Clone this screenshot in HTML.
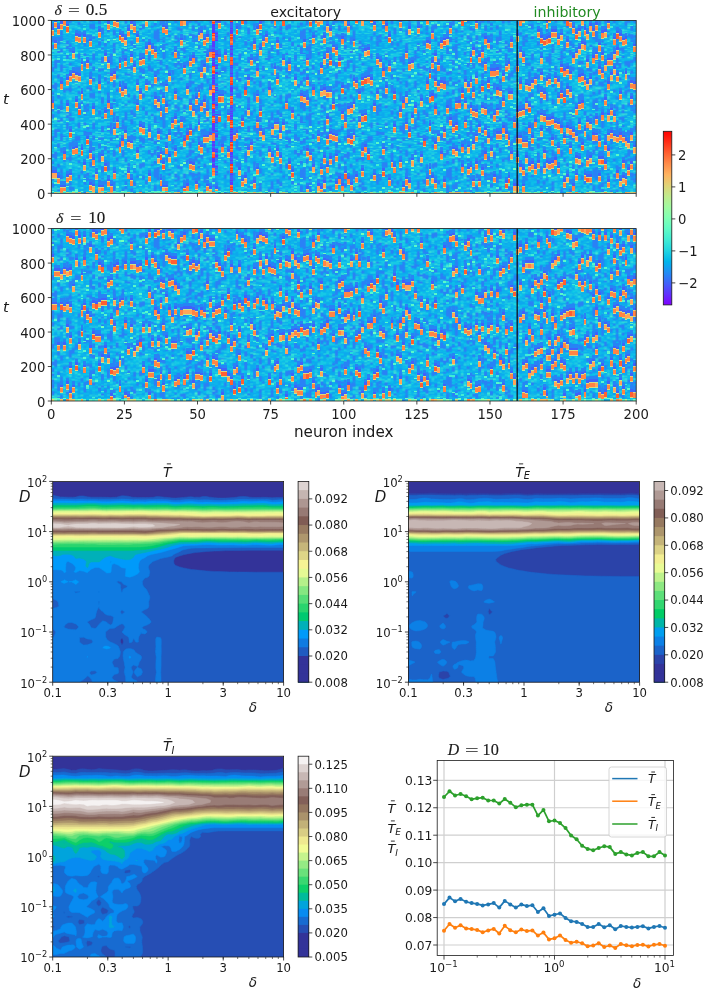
<!DOCTYPE html>
<html lang="en"><head><meta charset="utf-8"><title>Figure</title>
<style>html,body{margin:0;padding:0;background:#fff}svg{display:block;will-change:transform}</style></head>
<body>
<svg width="706" height="991" viewBox="0 0 706 991" font-family='"DejaVu Sans","Liberation Sans",sans-serif'>
<defs><pattern id="nz" width="50" height="80" patternUnits="userSpaceOnUse"><rect width="50" height="80" fill="#09a9ee"/><path fill="#2981f6" d="M0 3h1v3h-1zM0 8h1v3h-1zM0 15h1v4h-1zM0 20h1v5h-1zM0 28h1v5h-1zM0 54h1v5h-1zM0 74h1v5h-1zM1 46h1v9h-1zM1 72h1v8h-1zM2 6h1v4h-1zM2 19h1v9h-1zM2 35h1v3h-1zM2 46h1v3h-1zM2 62h1v5h-1zM3 12h1v5h-1zM3 18h1v6h-1zM3 33h1v4h-1zM3 51h1v8h-1zM3 67h1v6h-1zM4 0h1v4h-1zM4 53h1v2h-1zM5 0h1v1h-1zM5 23h1v5h-1zM5 29h1v4h-1zM5 38h1v8h-1zM5 79h1v1h-1zM6 0h1v3h-1zM6 27h1v4h-1zM6 32h1v5h-1zM6 49h1v3h-1zM6 61h1v9h-1zM6 77h1v3h-1zM7 33h1v3h-1zM7 59h1v6h-1zM8 54h1v6h-1zM8 70h1v2h-1zM9 2h1v3h-1zM9 18h1v5h-1zM9 38h1v7h-1zM9 54h1v5h-1zM9 75h1v2h-1zM10 13h1v4h-1zM11 18h1v5h-1zM11 24h1v6h-1zM11 38h1v3h-1zM11 48h1v5h-1zM12 16h1v4h-1zM12 22h1v3h-1zM12 43h1v3h-1zM12 49h1v3h-1zM12 77h1v3h-1zM13 0h1v2h-1zM13 4h1v6h-1zM13 49h1v4h-1zM13 59h1v10h-1zM13 77h1v3h-1zM14 4h1v6h-1zM14 18h1v4h-1zM14 38h1v8h-1zM14 53h1v5h-1zM14 66h1v5h-1zM16 0h1v4h-1zM16 24h1v5h-1zM16 55h1v4h-1zM16 62h1v6h-1zM16 73h1v7h-1zM17 9h1v7h-1zM17 22h1v2h-1zM17 31h1v3h-1zM17 42h1v7h-1zM17 55h1v3h-1zM18 26h1v4h-1zM18 66h1v4h-1zM19 3h1v11h-1zM19 23h1v2h-1zM19 42h1v6h-1zM19 60h1v2h-1zM19 70h1v4h-1zM20 38h1v13h-1zM20 55h1v4h-1zM21 11h1v6h-1zM21 26h1v5h-1zM21 32h1v6h-1zM21 70h1v8h-1zM22 0h1v3h-1zM22 18h1v2h-1zM22 52h1v6h-1zM22 64h1v3h-1zM22 79h1v1h-1zM23 43h1v3h-1zM24 35h1v4h-1zM24 40h1v6h-1zM24 70h1v8h-1zM25 0h1v4h-1zM25 17h1v2h-1zM25 26h1v10h-1zM25 42h1v2h-1zM25 50h1v5h-1zM25 61h1v2h-1zM25 79h1v1h-1zM26 5h1v4h-1zM26 13h1v2h-1zM26 53h1v3h-1zM26 61h1v3h-1zM27 23h1v6h-1zM27 34h1v6h-1zM27 52h1v6h-1zM28 6h1v6h-1zM28 14h1v2h-1zM28 27h1v5h-1zM28 47h1v2h-1zM28 54h1v5h-1zM29 19h1v3h-1zM30 5h1v6h-1zM30 37h1v3h-1zM30 47h1v4h-1zM30 54h1v6h-1zM30 63h1v4h-1zM31 4h1v6h-1zM31 20h1v4h-1zM31 47h1v4h-1zM31 56h1v6h-1zM31 65h1v2h-1zM32 25h1v5h-1zM33 40h1v6h-1zM33 52h1v7h-1zM33 70h1v5h-1zM34 6h1v2h-1zM34 28h1v3h-1zM34 55h1v5h-1zM34 73h1v4h-1zM35 2h1v4h-1zM35 12h1v10h-1zM35 31h1v8h-1zM35 59h1v4h-1zM35 69h1v6h-1zM36 10h1v15h-1zM36 37h1v2h-1zM36 45h1v2h-1zM36 57h1v5h-1zM36 65h1v5h-1zM37 0h1v6h-1zM37 21h1v2h-1zM37 30h1v5h-1zM37 46h1v6h-1zM37 55h1v3h-1zM37 71h1v5h-1zM38 10h1v4h-1zM38 19h1v2h-1zM38 23h1v3h-1zM38 27h1v18h-1zM38 71h1v6h-1zM39 0h1v3h-1zM39 27h1v2h-1zM39 51h1v6h-1zM39 60h1v2h-1zM39 68h1v4h-1zM39 78h1v2h-1zM40 12h1v2h-1zM40 17h1v3h-1zM41 36h1v4h-1zM41 57h1v6h-1zM41 66h1v3h-1zM41 71h1v2h-1zM42 0h1v3h-1zM42 17h1v5h-1zM42 24h1v2h-1zM42 30h1v2h-1zM42 49h1v5h-1zM43 7h1v5h-1zM43 20h1v5h-1zM43 36h1v5h-1zM43 42h1v9h-1zM43 54h1v2h-1zM44 9h1v3h-1zM44 32h1v3h-1zM44 49h1v6h-1zM44 66h1v3h-1zM45 17h1v6h-1zM45 24h1v3h-1zM45 31h1v6h-1zM45 41h1v3h-1zM45 59h1v3h-1zM46 1h1v5h-1zM46 47h1v5h-1zM46 76h1v3h-1zM47 0h1v3h-1zM47 15h1v4h-1zM47 47h1v7h-1zM47 61h1v7h-1zM47 69h1v8h-1zM47 79h1v1h-1zM48 6h1v6h-1zM48 16h1v6h-1zM48 23h1v2h-1zM48 46h1v3h-1zM48 58h1v4h-1zM48 70h1v3h-1zM49 0h1v3h-1zM49 17h1v3h-1zM49 22h1v6h-1zM49 42h1v5h-1zM49 77h1v3h-1z"/><path fill="#12c8e6" d="M0 0h1v1h-1zM0 12h1v1h-1zM0 26h1v2h-1zM0 38h1v1h-1zM0 41h1v2h-1zM0 49h1v1h-1zM0 52h1v1h-1zM0 60h1v3h-1zM0 69h1v2h-1zM0 72h1v1h-1zM1 3h1v3h-1zM1 7h1v1h-1zM1 9h1v1h-1zM1 11h1v1h-1zM1 15h1v2h-1zM1 21h1v1h-1zM1 23h1v1h-1zM1 27h1v1h-1zM1 35h1v1h-1zM1 37h1v3h-1zM1 56h1v2h-1zM1 59h1v1h-1zM1 69h1v3h-1zM2 0h1v3h-1zM2 4h1v1h-1zM2 14h1v3h-1zM2 29h1v1h-1zM2 39h1v1h-1zM2 43h1v1h-1zM2 50h1v1h-1zM2 52h1v1h-1zM2 54h1v3h-1zM2 60h1v1h-1zM2 68h1v1h-1zM2 72h1v1h-1zM2 77h1v1h-1zM3 1h1v2h-1zM3 4h1v1h-1zM3 29h1v1h-1zM3 31h1v1h-1zM3 60h1v1h-1zM3 64h1v3h-1zM4 4h1v1h-1zM4 7h1v1h-1zM4 11h1v5h-1zM4 17h1v1h-1zM4 19h1v1h-1zM4 24h1v1h-1zM4 31h1v1h-1zM4 36h1v1h-1zM4 39h1v1h-1zM4 44h1v1h-1zM4 49h1v1h-1zM4 52h1v1h-1zM4 56h1v2h-1zM4 70h1v1h-1zM4 73h1v1h-1zM5 1h1v1h-1zM5 3h1v1h-1zM5 8h1v4h-1zM5 19h1v1h-1zM5 22h1v1h-1zM5 33h1v1h-1zM5 35h1v3h-1zM5 47h1v2h-1zM5 51h1v2h-1zM5 55h1v1h-1zM5 60h1v2h-1zM5 73h1v1h-1zM5 77h1v1h-1zM6 3h1v1h-1zM6 7h1v3h-1zM6 12h1v1h-1zM6 14h1v1h-1zM6 17h1v1h-1zM6 20h1v1h-1zM6 31h1v1h-1zM6 37h1v2h-1zM6 41h1v2h-1zM6 54h1v3h-1zM6 70h1v1h-1zM6 72h1v2h-1zM7 5h1v1h-1zM7 8h1v1h-1zM7 11h1v1h-1zM7 14h1v1h-1zM7 22h1v1h-1zM7 27h1v1h-1zM7 29h1v1h-1zM7 37h1v1h-1zM7 40h1v2h-1zM7 43h1v1h-1zM7 45h1v1h-1zM7 54h1v1h-1zM7 56h1v1h-1zM7 66h1v1h-1zM8 0h1v1h-1zM8 5h1v2h-1zM8 8h1v2h-1zM8 11h1v3h-1zM8 17h1v1h-1zM8 19h1v3h-1zM8 25h1v2h-1zM8 30h1v5h-1zM8 36h1v3h-1zM8 48h1v1h-1zM8 50h1v1h-1zM8 66h1v2h-1zM8 73h1v1h-1zM8 76h1v2h-1zM9 0h1v1h-1zM9 6h1v1h-1zM9 15h1v1h-1zM9 17h1v1h-1zM9 33h1v2h-1zM9 37h1v1h-1zM9 45h1v1h-1zM9 49h1v2h-1zM9 63h1v1h-1zM9 65h1v1h-1zM9 73h1v1h-1zM10 0h1v1h-1zM10 9h1v2h-1zM10 19h1v1h-1zM10 23h1v1h-1zM10 28h1v2h-1zM10 34h1v1h-1zM10 37h1v1h-1zM10 43h1v4h-1zM10 49h1v2h-1zM10 54h1v1h-1zM10 56h1v1h-1zM10 58h1v5h-1zM10 64h1v1h-1zM10 66h1v1h-1zM10 71h1v1h-1zM10 73h1v1h-1zM10 75h1v4h-1zM11 8h1v2h-1zM11 14h1v1h-1zM11 16h1v1h-1zM11 31h1v1h-1zM11 37h1v1h-1zM11 44h1v1h-1zM11 54h1v1h-1zM11 59h1v1h-1zM11 66h1v1h-1zM11 73h1v1h-1zM11 75h1v1h-1zM11 77h1v1h-1zM11 79h1v1h-1zM12 5h1v2h-1zM12 8h1v2h-1zM12 14h1v1h-1zM12 27h1v1h-1zM12 31h1v1h-1zM12 35h1v1h-1zM12 37h1v2h-1zM12 42h1v1h-1zM12 56h1v1h-1zM12 58h1v2h-1zM12 62h1v1h-1zM12 65h1v1h-1zM12 68h1v2h-1zM12 74h1v1h-1zM13 2h1v1h-1zM13 10h1v1h-1zM13 14h1v1h-1zM13 17h1v2h-1zM13 22h1v2h-1zM13 25h1v1h-1zM13 34h1v1h-1zM13 37h1v2h-1zM13 41h1v2h-1zM13 46h1v1h-1zM13 71h1v2h-1zM14 13h1v1h-1zM14 15h1v1h-1zM14 22h1v1h-1zM14 25h1v1h-1zM14 27h1v2h-1zM14 30h1v1h-1zM14 50h1v1h-1zM14 52h1v1h-1zM14 71h1v2h-1zM14 76h1v4h-1zM15 0h1v2h-1zM15 4h1v4h-1zM15 9h1v3h-1zM15 16h1v1h-1zM15 21h1v1h-1zM15 26h1v2h-1zM15 32h1v1h-1zM15 41h1v2h-1zM15 48h1v1h-1zM15 52h1v3h-1zM15 57h1v2h-1zM15 65h1v1h-1zM15 74h1v1h-1zM15 79h1v1h-1zM16 5h1v2h-1zM16 11h1v1h-1zM16 15h1v2h-1zM16 18h1v1h-1zM16 38h1v1h-1zM16 40h1v4h-1zM16 60h1v2h-1zM16 70h1v1h-1zM17 0h1v2h-1zM17 3h1v1h-1zM17 21h1v1h-1zM17 24h1v1h-1zM17 29h1v2h-1zM17 38h1v4h-1zM17 49h1v1h-1zM17 53h1v1h-1zM17 60h1v1h-1zM17 63h1v1h-1zM17 70h1v3h-1zM17 74h1v2h-1zM17 79h1v1h-1zM18 6h1v5h-1zM18 12h1v1h-1zM18 15h1v2h-1zM18 22h1v1h-1zM18 38h1v4h-1zM18 44h1v1h-1zM18 47h1v1h-1zM18 49h1v2h-1zM18 53h1v1h-1zM18 71h1v2h-1zM19 14h1v2h-1zM19 19h1v1h-1zM19 27h1v1h-1zM19 29h1v1h-1zM19 40h1v1h-1zM19 51h1v1h-1zM19 54h1v1h-1zM19 57h1v1h-1zM19 59h1v1h-1zM19 64h1v1h-1zM19 74h1v1h-1zM20 1h1v1h-1zM20 4h1v1h-1zM20 6h1v1h-1zM20 10h1v1h-1zM20 13h1v1h-1zM20 15h1v3h-1zM20 19h1v2h-1zM20 24h1v3h-1zM20 32h1v1h-1zM20 37h1v1h-1zM20 54h1v1h-1zM20 67h1v1h-1zM20 72h1v1h-1zM20 75h1v1h-1zM20 79h1v1h-1zM21 0h1v2h-1zM21 7h1v1h-1zM21 9h1v1h-1zM21 18h1v1h-1zM21 21h1v1h-1zM21 24h1v2h-1zM21 40h1v1h-1zM21 42h1v1h-1zM21 45h1v1h-1zM21 47h1v1h-1zM21 53h1v2h-1zM21 61h1v1h-1zM21 65h1v1h-1zM21 68h1v1h-1zM22 3h1v1h-1zM22 9h1v2h-1zM22 20h1v1h-1zM22 22h1v2h-1zM22 29h1v4h-1zM22 38h1v1h-1zM22 40h1v1h-1zM22 45h1v1h-1zM22 47h1v2h-1zM22 71h1v1h-1zM22 76h1v2h-1zM23 0h1v2h-1zM23 6h1v1h-1zM23 8h1v1h-1zM23 13h1v1h-1zM23 15h1v1h-1zM23 18h1v3h-1zM23 22h1v1h-1zM23 24h1v1h-1zM23 27h1v1h-1zM23 30h1v1h-1zM23 32h1v1h-1zM23 34h1v1h-1zM23 37h1v2h-1zM23 40h1v1h-1zM23 46h1v2h-1zM23 49h1v1h-1zM23 52h1v1h-1zM23 55h1v1h-1zM23 59h1v1h-1zM23 65h1v1h-1zM23 69h1v3h-1zM24 9h1v5h-1zM24 22h1v2h-1zM24 27h1v2h-1zM24 30h1v1h-1zM24 53h1v2h-1zM24 56h1v1h-1zM24 58h1v1h-1zM24 64h1v1h-1zM24 79h1v1h-1zM25 4h1v1h-1zM25 12h1v2h-1zM25 15h1v1h-1zM25 37h1v1h-1zM25 44h1v3h-1zM25 48h1v1h-1zM25 56h1v1h-1zM25 58h1v1h-1zM25 64h1v1h-1zM25 66h1v1h-1zM26 0h1v1h-1zM26 2h1v1h-1zM26 10h1v2h-1zM26 16h1v1h-1zM26 19h1v1h-1zM26 21h1v2h-1zM26 30h1v2h-1zM26 33h1v1h-1zM26 37h1v2h-1zM26 40h1v1h-1zM26 43h1v1h-1zM26 47h1v1h-1zM26 49h1v1h-1zM26 51h1v1h-1zM26 65h1v1h-1zM26 73h1v4h-1zM27 2h1v1h-1zM27 4h1v3h-1zM27 8h1v1h-1zM27 16h1v1h-1zM27 18h1v2h-1zM27 33h1v1h-1zM27 42h1v1h-1zM27 45h1v1h-1zM27 47h1v1h-1zM27 51h1v1h-1zM27 61h1v1h-1zM27 73h1v1h-1zM27 75h1v1h-1zM27 78h1v2h-1zM28 4h1v2h-1zM28 17h1v3h-1zM28 45h1v1h-1zM28 52h1v1h-1zM28 61h1v1h-1zM28 65h1v3h-1zM28 71h1v4h-1zM28 76h1v2h-1zM29 0h1v1h-1zM29 3h1v1h-1zM29 5h1v1h-1zM29 8h1v1h-1zM29 11h1v3h-1zM29 25h1v1h-1zM29 34h1v2h-1zM29 37h1v3h-1zM29 41h1v1h-1zM29 43h1v1h-1zM29 46h1v3h-1zM29 50h1v1h-1zM29 58h1v2h-1zM29 61h1v1h-1zM29 63h1v1h-1zM29 65h1v1h-1zM29 70h1v4h-1zM29 76h1v1h-1zM29 79h1v1h-1zM30 0h1v1h-1zM30 2h1v3h-1zM30 21h1v2h-1zM30 33h1v2h-1zM30 36h1v1h-1zM30 40h1v2h-1zM30 43h1v1h-1zM30 45h1v1h-1zM30 53h1v1h-1zM30 61h1v2h-1zM30 68h1v1h-1zM30 72h1v2h-1zM30 77h1v1h-1zM31 0h1v2h-1zM31 10h1v4h-1zM31 17h1v1h-1zM31 25h1v2h-1zM31 28h1v2h-1zM31 34h1v2h-1zM31 37h1v2h-1zM31 40h1v1h-1zM31 52h1v2h-1zM31 64h1v1h-1zM31 67h1v2h-1zM31 72h1v2h-1zM31 76h1v1h-1zM31 79h1v1h-1zM32 3h1v3h-1zM32 8h1v3h-1zM32 12h1v1h-1zM32 15h1v1h-1zM32 19h1v1h-1zM32 22h1v2h-1zM32 30h1v1h-1zM32 36h1v2h-1zM32 40h1v2h-1zM32 44h1v3h-1zM32 48h1v1h-1zM32 52h1v1h-1zM32 55h1v2h-1zM32 68h1v1h-1zM32 75h1v1h-1zM32 77h1v2h-1zM33 2h1v1h-1zM33 8h1v1h-1zM33 19h1v1h-1zM33 26h1v1h-1zM33 28h1v1h-1zM33 48h1v1h-1zM33 62h1v1h-1zM33 66h1v1h-1zM33 75h1v2h-1zM34 0h1v3h-1zM34 5h1v1h-1zM34 9h1v1h-1zM34 14h1v1h-1zM34 21h1v1h-1zM34 26h1v2h-1zM34 32h1v1h-1zM34 37h1v1h-1zM34 41h1v1h-1zM34 44h1v2h-1zM34 51h1v1h-1zM34 63h1v1h-1zM34 66h1v2h-1zM35 8h1v2h-1zM35 27h1v1h-1zM35 39h1v1h-1zM35 47h1v2h-1zM35 50h1v1h-1zM35 55h1v1h-1zM35 57h1v2h-1zM35 64h1v2h-1zM35 68h1v1h-1zM35 76h1v1h-1zM36 0h1v1h-1zM36 2h1v1h-1zM36 25h1v2h-1zM36 36h1v1h-1zM36 39h1v1h-1zM36 41h1v3h-1zM36 50h1v4h-1zM36 64h1v1h-1zM36 72h1v1h-1zM37 6h1v1h-1zM37 15h1v2h-1zM37 18h1v1h-1zM37 20h1v1h-1zM37 23h1v1h-1zM37 25h1v2h-1zM37 58h1v2h-1zM37 62h1v2h-1zM37 65h1v1h-1zM37 76h1v2h-1zM37 79h1v1h-1zM38 2h1v1h-1zM38 8h1v1h-1zM38 18h1v1h-1zM38 26h1v1h-1zM38 45h1v3h-1zM38 49h1v1h-1zM38 53h1v1h-1zM38 55h1v1h-1zM38 58h1v2h-1zM38 64h1v1h-1zM38 69h1v1h-1zM38 78h1v1h-1zM39 5h1v1h-1zM39 10h1v1h-1zM39 23h1v3h-1zM39 29h1v2h-1zM39 32h1v1h-1zM39 44h1v1h-1zM39 48h1v1h-1zM39 58h1v1h-1zM39 63h1v1h-1zM39 65h1v2h-1zM39 72h1v1h-1zM39 77h1v1h-1zM40 0h1v1h-1zM40 5h1v3h-1zM40 14h1v2h-1zM40 20h1v1h-1zM40 27h1v1h-1zM40 36h1v1h-1zM40 38h1v1h-1zM40 40h1v2h-1zM40 43h1v1h-1zM40 45h1v1h-1zM40 47h1v1h-1zM40 51h1v2h-1zM40 59h1v1h-1zM40 67h1v1h-1zM40 72h1v2h-1zM41 1h1v1h-1zM41 5h1v1h-1zM41 8h1v1h-1zM41 11h1v1h-1zM41 17h1v1h-1zM41 20h1v1h-1zM41 25h1v1h-1zM41 28h1v1h-1zM41 31h1v2h-1zM41 42h1v2h-1zM41 47h1v2h-1zM41 53h1v2h-1zM41 56h1v1h-1zM42 5h1v1h-1zM42 11h1v4h-1zM42 22h1v2h-1zM42 27h1v1h-1zM42 29h1v1h-1zM42 38h1v2h-1zM42 41h1v1h-1zM42 46h1v2h-1zM42 63h1v1h-1zM42 70h1v1h-1zM42 73h1v6h-1zM43 6h1v1h-1zM43 12h1v1h-1zM43 34h1v1h-1zM43 57h1v1h-1zM43 59h1v1h-1zM43 74h1v4h-1zM44 0h1v1h-1zM44 2h1v1h-1zM44 4h1v1h-1zM44 8h1v1h-1zM44 15h1v1h-1zM44 17h1v1h-1zM44 20h1v1h-1zM44 22h1v1h-1zM44 29h1v1h-1zM44 35h1v2h-1zM44 42h1v3h-1zM44 56h1v1h-1zM44 63h1v1h-1zM44 65h1v1h-1zM44 72h1v1h-1zM44 74h1v1h-1zM44 76h1v1h-1zM45 4h1v1h-1zM45 15h1v1h-1zM45 29h1v2h-1zM45 44h1v1h-1zM45 46h1v1h-1zM45 50h1v1h-1zM45 53h1v3h-1zM45 62h1v1h-1zM45 71h1v1h-1zM45 73h1v1h-1zM45 76h1v2h-1zM46 12h1v1h-1zM46 17h1v1h-1zM46 38h1v1h-1zM46 43h1v1h-1zM46 45h1v1h-1zM46 53h1v3h-1zM46 60h1v2h-1zM46 66h1v1h-1zM46 70h1v1h-1zM46 72h1v1h-1zM46 79h1v1h-1zM47 4h1v1h-1zM47 9h1v1h-1zM47 11h1v2h-1zM47 14h1v1h-1zM47 21h1v4h-1zM47 33h1v1h-1zM47 45h1v1h-1zM47 58h1v1h-1zM47 68h1v1h-1zM47 78h1v1h-1zM48 3h1v2h-1zM48 25h1v1h-1zM48 32h1v1h-1zM48 34h1v1h-1zM48 36h1v2h-1zM48 41h1v4h-1zM48 55h1v1h-1zM48 62h1v1h-1zM48 65h1v1h-1zM48 67h1v3h-1zM48 75h1v2h-1zM49 3h1v1h-1zM49 8h1v1h-1zM49 16h1v1h-1zM49 28h1v1h-1zM49 32h1v1h-1zM49 36h1v1h-1zM49 38h1v1h-1zM49 41h1v1h-1zM49 49h1v3h-1zM49 53h1v1h-1zM49 56h1v1h-1zM49 58h1v1h-1zM49 62h1v1h-1zM49 65h1v2h-1zM49 70h1v1h-1zM49 75h1v1h-1z"/><path fill="#30e1da" d="M0 7h1v1h-1zM0 14h1v1h-1zM0 34h1v1h-1zM0 39h1v1h-1zM0 44h1v3h-1zM0 73h1v1h-1zM0 79h1v1h-1zM1 32h1v1h-1zM1 34h1v1h-1zM1 36h1v1h-1zM1 44h1v1h-1zM1 62h1v1h-1zM1 67h1v1h-1zM2 12h1v1h-1zM2 38h1v1h-1zM2 41h1v1h-1zM2 49h1v1h-1zM2 57h1v1h-1zM2 61h1v1h-1zM2 71h1v1h-1zM3 28h1v1h-1zM3 30h1v1h-1zM3 37h1v1h-1zM3 63h1v1h-1zM3 77h1v1h-1zM4 23h1v1h-1zM4 28h1v1h-1zM4 33h1v2h-1zM4 41h1v2h-1zM4 50h1v1h-1zM4 55h1v1h-1zM4 58h1v1h-1zM4 61h1v1h-1zM4 65h1v1h-1zM4 76h1v1h-1zM5 4h1v1h-1zM5 6h1v1h-1zM5 15h1v1h-1zM5 49h1v1h-1zM5 76h1v1h-1zM6 6h1v1h-1zM6 11h1v1h-1zM6 45h1v2h-1zM6 59h1v1h-1zM7 2h1v1h-1zM7 6h1v1h-1zM7 15h1v1h-1zM7 25h1v1h-1zM7 31h1v1h-1zM7 46h1v1h-1zM7 53h1v1h-1zM7 73h1v2h-1zM8 3h1v1h-1zM8 7h1v1h-1zM8 15h1v1h-1zM8 35h1v1h-1zM8 43h1v2h-1zM8 62h1v1h-1zM8 69h1v1h-1zM8 75h1v1h-1zM9 8h1v2h-1zM9 13h1v1h-1zM9 51h1v1h-1zM9 62h1v1h-1zM9 69h1v1h-1zM9 72h1v1h-1zM9 74h1v1h-1zM9 79h1v1h-1zM10 2h1v1h-1zM10 12h1v1h-1zM10 20h1v1h-1zM10 22h1v1h-1zM10 40h1v1h-1zM10 42h1v1h-1zM10 51h1v1h-1zM10 63h1v1h-1zM11 3h1v1h-1zM11 41h1v1h-1zM11 71h1v1h-1zM11 74h1v1h-1zM12 2h1v1h-1zM12 13h1v1h-1zM12 41h1v1h-1zM13 11h1v1h-1zM13 15h1v1h-1zM13 33h1v1h-1zM13 39h1v1h-1zM13 53h1v1h-1zM13 55h1v1h-1zM14 11h1v1h-1zM14 16h1v1h-1zM14 33h1v1h-1zM14 35h1v1h-1zM14 51h1v1h-1zM14 59h1v1h-1zM14 74h1v1h-1zM15 14h1v2h-1zM15 17h1v1h-1zM15 34h1v1h-1zM15 49h1v1h-1zM15 51h1v1h-1zM15 59h1v1h-1zM15 67h1v1h-1zM15 70h1v1h-1zM16 13h1v1h-1zM16 23h1v1h-1zM16 32h1v2h-1zM16 39h1v1h-1zM16 46h1v1h-1zM16 49h1v1h-1zM16 52h1v1h-1zM16 69h1v1h-1zM17 34h1v1h-1zM17 50h1v1h-1zM17 54h1v1h-1zM17 68h1v1h-1zM18 13h1v1h-1zM18 20h1v1h-1zM18 23h1v1h-1zM18 37h1v1h-1zM18 46h1v1h-1zM18 58h1v1h-1zM18 76h1v1h-1zM19 16h1v1h-1zM19 33h1v1h-1zM19 50h1v1h-1zM19 58h1v1h-1zM19 62h1v1h-1zM19 69h1v1h-1zM20 7h1v1h-1zM20 14h1v1h-1zM20 18h1v1h-1zM20 22h1v1h-1zM20 27h1v1h-1zM20 60h1v1h-1zM20 65h1v1h-1zM20 77h1v1h-1zM21 38h1v1h-1zM21 43h1v1h-1zM21 60h1v1h-1zM21 78h1v1h-1zM22 7h1v1h-1zM22 24h1v1h-1zM22 28h1v1h-1zM22 34h1v1h-1zM22 41h1v1h-1zM22 44h1v1h-1zM22 46h1v1h-1zM22 51h1v1h-1zM22 59h1v1h-1zM22 61h1v1h-1zM22 68h1v3h-1zM23 9h1v1h-1zM23 16h1v1h-1zM23 35h1v1h-1zM23 42h1v1h-1zM23 51h1v1h-1zM23 54h1v1h-1zM23 61h1v1h-1zM23 68h1v1h-1zM23 73h1v1h-1zM23 75h1v1h-1zM24 0h1v1h-1zM24 2h1v1h-1zM24 5h1v1h-1zM24 48h1v2h-1zM24 51h1v1h-1zM24 61h1v2h-1zM24 68h1v1h-1zM25 5h1v1h-1zM25 10h1v1h-1zM25 14h1v1h-1zM25 19h1v1h-1zM25 22h1v1h-1zM25 36h1v1h-1zM25 71h1v1h-1zM25 76h1v1h-1zM26 3h1v1h-1zM26 9h1v1h-1zM26 27h1v1h-1zM26 52h1v1h-1zM26 58h1v1h-1zM26 60h1v1h-1zM26 64h1v1h-1zM27 17h1v1h-1zM27 22h1v1h-1zM27 30h1v1h-1zM27 50h1v1h-1zM27 58h1v1h-1zM27 69h1v1h-1zM27 76h1v1h-1zM28 2h1v1h-1zM28 35h1v1h-1zM28 49h1v1h-1zM28 59h1v1h-1zM29 4h1v1h-1zM29 10h1v1h-1zM29 26h1v1h-1zM29 30h1v1h-1zM29 36h1v1h-1zM29 51h1v1h-1zM29 53h1v1h-1zM29 57h1v1h-1zM29 68h1v2h-1zM29 75h1v1h-1zM29 77h1v1h-1zM30 12h1v1h-1zM30 14h1v1h-1zM30 16h1v1h-1zM30 25h1v1h-1zM30 27h1v1h-1zM30 30h1v1h-1zM30 70h1v1h-1zM30 74h1v1h-1zM30 78h1v2h-1zM31 3h1v1h-1zM31 36h1v1h-1zM31 45h1v1h-1zM31 51h1v1h-1zM31 69h1v1h-1zM32 18h1v1h-1zM32 31h1v1h-1zM32 33h1v2h-1zM32 38h1v1h-1zM32 42h1v1h-1zM32 51h1v1h-1zM32 62h1v1h-1zM32 65h1v3h-1zM32 69h1v1h-1zM33 1h1v1h-1zM33 3h1v1h-1zM33 5h1v1h-1zM33 15h1v1h-1zM33 20h1v1h-1zM33 22h1v1h-1zM33 27h1v1h-1zM33 29h1v1h-1zM33 59h1v1h-1zM33 65h1v1h-1zM33 68h1v1h-1zM34 12h1v1h-1zM34 31h1v1h-1zM34 33h1v1h-1zM34 35h1v1h-1zM34 38h1v1h-1zM34 43h1v1h-1zM34 46h1v1h-1zM34 60h1v1h-1zM34 70h1v1h-1zM34 72h1v1h-1zM34 79h1v1h-1zM35 1h1v1h-1zM35 28h1v1h-1zM35 41h1v2h-1zM35 56h1v1h-1zM35 77h1v1h-1zM35 79h1v1h-1zM36 8h1v1h-1zM36 27h1v1h-1zM36 29h1v1h-1zM36 44h1v1h-1zM36 47h1v1h-1zM36 55h1v1h-1zM36 73h1v1h-1zM36 77h1v1h-1zM37 7h1v1h-1zM37 12h1v1h-1zM37 52h1v1h-1zM37 69h1v1h-1zM38 1h1v1h-1zM38 4h1v1h-1zM38 6h1v2h-1zM38 54h1v1h-1zM38 77h1v1h-1zM39 15h1v1h-1zM39 20h1v1h-1zM39 33h1v2h-1zM39 50h1v1h-1zM39 57h1v1h-1zM39 67h1v1h-1zM40 4h1v1h-1zM40 23h1v2h-1zM40 29h1v1h-1zM40 31h1v1h-1zM40 61h1v1h-1zM40 68h1v1h-1zM40 70h1v1h-1zM41 13h1v1h-1zM41 18h1v2h-1zM41 35h1v1h-1zM41 70h1v1h-1zM41 76h1v1h-1zM41 78h1v1h-1zM42 4h1v1h-1zM42 15h1v1h-1zM42 28h1v1h-1zM42 55h1v1h-1zM42 69h1v1h-1zM43 31h1v1h-1zM43 33h1v1h-1zM43 53h1v1h-1zM43 65h1v1h-1zM44 3h1v1h-1zM44 18h1v1h-1zM44 24h1v1h-1zM44 28h1v1h-1zM44 30h1v1h-1zM44 38h1v1h-1zM44 48h1v1h-1zM44 62h1v1h-1zM44 64h1v1h-1zM44 70h1v1h-1zM45 10h1v3h-1zM45 14h1v1h-1zM45 16h1v1h-1zM45 23h1v1h-1zM45 39h1v1h-1zM45 52h1v1h-1zM45 66h1v1h-1zM45 69h1v1h-1zM45 75h1v1h-1zM46 33h1v1h-1zM46 58h1v2h-1zM46 65h1v1h-1zM46 67h1v1h-1zM47 3h1v1h-1zM47 5h1v2h-1zM47 31h1v1h-1zM47 35h1v1h-1zM47 43h1v1h-1zM47 55h1v1h-1zM48 13h1v1h-1zM48 15h1v1h-1zM48 35h1v1h-1zM48 40h1v1h-1zM48 53h1v1h-1zM49 39h1v1h-1z"/><path fill="#54f6cb" d="M0 35h1v1h-1zM1 14h1v1h-1zM1 24h1v1h-1zM1 68h1v1h-1zM2 34h1v1h-1zM2 78h1v1h-1zM3 6h1v1h-1zM3 24h1v1h-1zM3 38h1v1h-1zM3 61h1v1h-1zM4 25h1v1h-1zM4 30h1v1h-1zM4 45h1v1h-1zM4 62h1v1h-1zM5 28h1v1h-1zM5 69h1v2h-1zM6 10h1v1h-1zM6 53h1v1h-1zM6 57h1v1h-1zM7 68h1v1h-1zM7 77h1v1h-1zM8 27h1v1h-1zM8 72h1v1h-1zM9 66h1v1h-1zM10 33h1v1h-1zM10 38h1v1h-1zM10 70h1v1h-1zM11 69h1v1h-1zM12 0h1v1h-1zM12 15h1v1h-1zM12 66h1v1h-1zM14 17h1v1h-1zM14 37h1v1h-1zM14 65h1v1h-1zM15 56h1v1h-1zM15 72h1v1h-1zM16 54h1v1h-1zM17 5h1v1h-1zM17 7h1v1h-1zM17 51h1v1h-1zM18 57h1v1h-1zM18 64h1v1h-1zM18 75h1v1h-1zM19 37h1v1h-1zM19 65h1v1h-1zM20 8h1v1h-1zM21 22h1v1h-1zM21 57h1v1h-1zM22 21h1v1h-1zM22 36h1v1h-1zM23 3h1v1h-1zM24 3h1v1h-1zM24 17h1v1h-1zM24 31h1v1h-1zM25 8h1v1h-1zM26 18h1v1h-1zM26 56h1v1h-1zM28 32h1v1h-1zM28 44h1v1h-1zM28 62h1v1h-1zM29 6h1v1h-1zM29 27h1v1h-1zM29 42h1v1h-1zM31 2h1v1h-1zM31 41h1v1h-1zM33 9h1v1h-1zM33 35h1v1h-1zM35 43h1v2h-1zM36 28h1v1h-1zM36 71h1v1h-1zM36 78h1v1h-1zM37 44h1v1h-1zM37 78h1v1h-1zM38 5h1v1h-1zM39 59h1v1h-1zM40 8h1v1h-1zM40 10h1v1h-1zM40 46h1v1h-1zM41 21h1v2h-1zM42 16h1v1h-1zM42 34h1v1h-1zM42 42h1v1h-1zM42 48h1v1h-1zM43 13h1v1h-1zM44 19h1v1h-1zM44 41h1v1h-1zM45 1h1v1h-1zM45 28h1v1h-1zM46 11h1v1h-1zM46 14h1v1h-1zM46 16h1v1h-1zM46 24h1v1h-1zM46 28h1v1h-1zM46 68h1v1h-1zM47 8h1v1h-1zM47 42h1v1h-1zM47 59h1v1h-1zM48 38h1v1h-1zM49 5h1v1h-1zM49 14h1v1h-1zM49 30h1v2h-1zM49 33h1v1h-1zM49 52h1v1h-1zM49 72h1v1h-1z"/></pattern></defs>
<defs><filter id="soft" x="-2%" y="-5%" width="104%" height="110%"><feGaussianBlur stdDeviation="0.7"/></filter></defs>
<defs><clipPath id="hc1"><rect x="51.3" y="20.4" width="584.9" height="172.9"/></clipPath></defs>
<g clip-path="url(#hc1)"><g filter="url(#soft)">
<g transform="translate(51.3,20.4) scale(2.9245,0.8645)" shape-rendering="crispEdges">
<rect x="-2" y="-3" width="204" height="206" fill="url(#nz)"/>
<path fill="#5a3bfd" d="M55 4h1v11h-1zM55 24h1v7h-1zM55 33h1v1h-1zM55 35h1v1h-1zM55 44h1v1h-1zM55 46h1v1h-1zM55 48h1v2h-1zM55 51h1v2h-1zM55 63h1v1h-1zM55 65h1v3h-1zM55 69h1v5h-1zM55 84h1v3h-1zM55 88h1v5h-1zM55 95h1v2h-1zM55 103h1v4h-1zM55 110h1v1h-1zM55 119h1v5h-1zM55 125h1v3h-1zM55 139h1v3h-1zM55 143h1v2h-1zM55 146h1v1h-1zM55 148h1v4h-1zM55 159h1v5h-1zM55 166h1v4h-1zM56 15h1v1h-1zM56 18h1v1h-1zM56 21h1v1h-1zM56 23h1v1h-1zM56 39h1v1h-1zM56 52h1v1h-1zM56 55h1v1h-1zM56 58h1v1h-1zM56 60h1v2h-1zM56 77h1v1h-1zM56 81h1v1h-1zM56 97h1v2h-1zM56 108h1v1h-1zM56 118h1v1h-1zM56 128h1v1h-1zM56 133h1v2h-1zM56 149h1v1h-1zM56 151h1v1h-1zM56 156h1v2h-1zM56 168h1v1h-1zM56 176h1v1h-1zM61 2h1v1h-1zM61 6h1v1h-1zM61 9h1v1h-1zM61 11h1v3h-1zM61 15h1v1h-1zM61 28h1v1h-1zM61 30h1v1h-1zM61 33h1v1h-1zM61 36h1v1h-1zM61 38h1v2h-1zM61 52h1v1h-1zM61 54h1v1h-1zM61 58h1v1h-1zM61 61h1v1h-1zM61 64h1v1h-1zM61 77h1v6h-1zM61 85h1v1h-1zM61 87h1v1h-1zM61 100h1v1h-1zM61 105h1v1h-1zM61 107h1v1h-1zM61 110h1v2h-1zM61 113h1v1h-1zM61 126h1v1h-1zM61 128h1v1h-1zM61 131h1v1h-1zM61 133h1v1h-1zM61 135h1v2h-1zM61 138h1v1h-1zM61 152h1v2h-1zM61 155h1v1h-1zM61 157h1v1h-1zM61 162h1v1h-1zM61 165h1v1h-1zM61 178h1v1h-1zM61 183h1v1h-1zM61 185h1v1h-1zM61 187h1v3h-1z"/>
<path fill="#4062fa" d="M0 8h1v3h-1zM0 92h1v3h-1zM0 173h1v3h-1zM1 0h1v2h-1zM1 23h1v3h-1zM1 173h1v3h-1zM2 7h1v3h-1zM2 179h1v3h-1zM3 1h1v3h-1zM3 70h1v3h-1zM3 190h1v3h-1zM4 151h1v3h-1zM4 190h1v3h-1zM5 4h1v3h-1zM5 66h1v3h-1zM5 96h1v3h-1zM5 178h1v3h-1zM6 61h1v3h-1zM6 126h1v3h-1zM6 176h1v3h-1zM7 35h1v3h-1zM7 58h1v3h-1zM7 146h1v3h-1zM8 15h1v3h-1zM8 60h1v3h-1zM8 91h1v3h-1zM8 145h1v3h-1zM9 16h1v3h-1zM9 61h1v3h-1zM9 100h1v3h-1zM10 48h1v3h-1zM10 82h1v3h-1zM10 147h1v3h-1zM11 16h1v3h-1zM11 164h1v3h-1zM12 46h1v3h-1zM12 134h1v3h-1zM13 21h1v3h-1zM13 65h1v3h-1zM13 150h1v3h-1zM13 187h1v3h-1zM14 99h1v3h-1zM14 158h1v3h-1zM14 189h1v3h-1zM15 175h1v3h-1zM16 10h1v3h-1zM16 70h1v3h-1zM16 190h1v3h-1zM17 154h1v3h-1zM17 190h1v3h-1zM18 38h1v3h-1zM18 104h1v3h-1zM18 165h1v3h-1zM19 1h1v3h-1zM19 46h1v3h-1zM19 92h1v3h-1zM19 183h1v3h-1zM20 61h1v3h-1zM20 100h1v3h-1zM20 189h1v3h-1zM21 0h1v1h-1zM21 59h1v3h-1zM21 123h1v3h-1zM21 174h1v3h-1zM22 0h1v2h-1zM22 115h1v3h-1zM23 14h1v3h-1zM23 46h1v3h-1zM23 74h1v3h-1zM23 143h1v3h-1zM24 16h1v3h-1zM24 79h1v3h-1zM24 136h1v3h-1zM25 20h1v3h-1zM25 44h1v3h-1zM25 76h1v3h-1zM25 127h1v3h-1zM26 9h1v3h-1zM26 138h1v3h-1zM26 174h1v3h-1zM27 1h1v3h-1zM27 39h1v3h-1zM27 139h1v3h-1zM27 182h1v3h-1zM28 4h1v3h-1zM28 51h1v3h-1zM29 16h1v3h-1zM29 72h1v3h-1zM29 95h1v3h-1zM29 150h1v3h-1zM30 43h1v3h-1zM30 82h1v3h-1zM30 120h1v3h-1zM31 42h1v3h-1zM31 122h1v3h-1zM32 0h1v1h-1zM32 30h1v3h-1zM32 72h1v3h-1zM33 25h1v3h-1zM33 126h1v3h-1zM33 177h1v3h-1zM34 30h1v3h-1zM35 34h1v3h-1zM35 63h1v3h-1zM35 88h1v3h-1zM36 91h1v3h-1zM36 128h1v3h-1zM36 156h1v3h-1zM37 102h1v3h-1zM37 152h1v3h-1zM37 182h1v3h-1zM38 5h1v3h-1zM38 87h1v3h-1zM38 163h1v3h-1zM38 190h1v3h-1zM39 7h1v3h-1zM39 73h1v3h-1zM39 97h1v3h-1zM39 145h1v3h-1zM39 190h1v3h-1zM40 61h1v3h-1zM40 130h1v3h-1zM40 155h1v3h-1zM41 116h1v3h-1zM42 34h1v3h-1zM42 82h1v3h-1zM42 111h1v3h-1zM42 148h1v3h-1zM44 20h1v3h-1zM44 115h1v3h-1zM45 52h1v3h-1zM45 136h1v3h-1zM45 191h1v3h-1zM46 76h1v3h-1zM46 129h1v3h-1zM46 188h1v3h-1zM47 44h1v3h-1zM47 95h1v3h-1zM47 124h1v3h-1zM47 163h1v3h-1zM48 40h1v3h-1zM48 102h1v3h-1zM48 164h1v3h-1zM49 88h1v3h-1zM49 186h1v3h-1zM50 14h1v3h-1zM50 80h1v3h-1zM50 118h1v3h-1zM50 141h1v3h-1zM51 11h1v3h-1zM51 57h1v3h-1zM51 96h1v3h-1zM51 144h1v3h-1zM52 20h1v3h-1zM52 51h1v3h-1zM52 91h1v3h-1zM52 132h1v3h-1zM53 16h1v3h-1zM53 39h1v3h-1zM53 102h1v3h-1zM53 132h1v3h-1zM53 189h1v3h-1zM54 33h1v3h-1zM54 77h1v3h-1zM54 129h1v3h-1zM54 192h1v3h-1zM55 31h1v2h-1zM55 34h1v1h-1zM55 43h1v1h-1zM55 45h1v1h-1zM55 47h1v1h-1zM55 50h1v1h-1zM55 62h1v1h-1zM55 64h1v1h-1zM55 68h1v1h-1zM55 74h1v1h-1zM55 87h1v1h-1zM55 93h1v2h-1zM55 107h1v3h-1zM55 124h1v1h-1zM55 128h1v2h-1zM55 142h1v1h-1zM55 145h1v1h-1zM55 147h1v1h-1zM55 164h1v2h-1zM55 170h1v1h-1zM56 0h1v3h-1zM56 13h1v1h-1zM56 16h1v2h-1zM56 19h1v2h-1zM56 22h1v1h-1zM56 34h1v5h-1zM56 40h1v2h-1zM56 50h1v2h-1zM56 53h1v2h-1zM56 74h1v2h-1zM56 78h1v2h-1zM56 83h1v1h-1zM56 94h1v2h-1zM56 100h1v1h-1zM56 102h1v1h-1zM56 111h1v2h-1zM56 114h1v2h-1zM56 117h1v1h-1zM56 127h1v1h-1zM56 130h1v3h-1zM56 135h1v1h-1zM56 137h1v1h-1zM56 150h1v1h-1zM56 152h1v1h-1zM56 155h1v1h-1zM56 158h1v1h-1zM56 170h1v2h-1zM56 174h1v2h-1zM56 178h1v1h-1zM56 192h1v3h-1zM57 0h1v3h-1zM57 39h1v3h-1zM57 85h1v3h-1zM57 108h1v3h-1zM58 85h1v3h-1zM58 143h1v3h-1zM59 37h1v3h-1zM60 107h1v3h-1zM60 149h1v3h-1zM61 3h1v3h-1zM61 7h1v2h-1zM61 10h1v1h-1zM61 14h1v1h-1zM61 29h1v1h-1zM61 31h1v2h-1zM61 34h1v2h-1zM61 37h1v1h-1zM61 40h1v2h-1zM61 53h1v1h-1zM61 55h1v3h-1zM61 59h1v2h-1zM61 62h1v2h-1zM61 75h1v2h-1zM61 83h1v2h-1zM61 86h1v1h-1zM61 98h1v2h-1zM61 101h1v4h-1zM61 106h1v1h-1zM61 108h1v2h-1zM61 112h1v1h-1zM61 114h1v1h-1zM61 125h1v1h-1zM61 127h1v1h-1zM61 129h1v2h-1zM61 132h1v1h-1zM61 134h1v1h-1zM61 137h1v1h-1zM61 139h1v2h-1zM61 154h1v1h-1zM61 156h1v1h-1zM61 158h1v4h-1zM61 163h1v2h-1zM61 177h1v1h-1zM61 179h1v4h-1zM61 184h1v1h-1zM61 186h1v1h-1zM62 130h1v3h-1zM63 7h1v3h-1zM63 127h1v3h-1zM64 170h1v3h-1zM65 113h1v3h-1zM65 183h1v3h-1zM66 77h1v3h-1zM66 179h1v3h-1zM67 66h1v3h-1zM67 101h1v3h-1zM67 147h1v3h-1zM68 43h1v3h-1zM68 141h1v3h-1zM69 24h1v3h-1zM69 185h1v3h-1zM70 7h1v3h-1zM70 55h1v3h-1zM70 85h1v3h-1zM70 115h1v3h-1zM70 169h1v3h-1zM71 1h1v3h-1zM71 31h1v3h-1zM71 102h1v3h-1zM71 125h1v3h-1zM72 21h1v3h-1zM72 129h1v3h-1zM73 16h1v3h-1zM74 77h1v3h-1zM74 149h1v3h-1zM75 123h1v3h-1zM75 155h1v3h-1zM76 53h1v3h-1zM76 117h1v3h-1zM77 23h1v3h-1zM77 65h1v3h-1zM77 117h1v3h-1zM77 148h1v3h-1zM78 127h1v3h-1zM78 156h1v3h-1zM79 43h1v3h-1zM79 118h1v3h-1zM80 93h1v3h-1zM81 48h1v3h-1zM81 163h1v3h-1zM82 104h1v3h-1zM82 172h1v3h-1zM83 66h1v3h-1zM85 84h1v3h-1zM86 22h1v3h-1zM86 86h1v3h-1zM87 43h1v3h-1zM87 66h1v3h-1zM87 89h1v3h-1zM87 148h1v3h-1zM87 192h1v3h-1zM88 0h1v1h-1zM88 153h1v3h-1zM89 17h1v3h-1zM89 77h1v3h-1zM89 166h1v3h-1zM91 0h1v1h-1zM91 131h1v3h-1zM91 188h1v3h-1zM92 52h1v3h-1zM92 79h1v3h-1zM92 169h1v3h-1zM92 192h1v3h-1zM93 17h1v3h-1zM93 42h1v3h-1zM93 77h1v3h-1zM93 156h1v3h-1zM93 185h1v3h-1zM94 4h1v3h-1zM94 35h1v3h-1zM94 80h1v3h-1zM94 111h1v3h-1zM94 134h1v3h-1zM94 167h1v3h-1zM95 9h1v3h-1zM95 43h1v3h-1zM95 80h1v3h-1zM95 128h1v3h-1zM95 157h1v3h-1zM96 28h1v3h-1zM96 94h1v3h-1zM96 130h1v3h-1zM97 31h1v3h-1zM97 131h1v3h-1zM97 154h1v3h-1zM97 186h1v3h-1zM98 44h1v3h-1zM98 180h1v3h-1zM99 18h1v3h-1zM99 75h1v3h-1zM99 105h1v3h-1zM99 188h1v3h-1zM100 115h1v3h-1zM100 174h1v3h-1zM101 4h1v3h-1zM101 99h1v3h-1zM101 133h1v3h-1zM101 180h1v3h-1zM102 98h1v3h-1zM102 134h1v3h-1zM102 187h1v3h-1zM103 21h1v3h-1zM103 67h1v3h-1zM103 94h1v3h-1zM103 130h1v3h-1zM104 69h1v3h-1zM104 178h1v3h-1zM105 82h1v3h-1zM105 115h1v3h-1zM106 66h1v3h-1zM106 108h1v3h-1zM106 148h1v3h-1zM106 171h1v3h-1zM107 32h1v3h-1zM107 64h1v3h-1zM107 107h1v3h-1zM107 143h1v3h-1zM108 31h1v3h-1zM108 63h1v3h-1zM108 152h1v3h-1zM109 66h1v3h-1zM110 2h1v3h-1zM110 96h1v3h-1zM110 176h1v3h-1zM111 42h1v3h-1zM111 82h1v3h-1zM112 45h1v3h-1zM113 55h1v3h-1zM113 146h1v3h-1zM113 171h1v3h-1zM114 3h1v3h-1zM114 75h1v3h-1zM115 16h1v3h-1zM115 50h1v3h-1zM115 182h1v3h-1zM116 161h1v3h-1zM117 82h1v3h-1zM117 120h1v3h-1zM117 167h1v3h-1zM119 0h1v2h-1zM119 103h1v3h-1zM119 161h1v3h-1zM120 92h1v3h-1zM120 190h1v3h-1zM121 35h1v3h-1zM121 86h1v3h-1zM121 117h1v3h-1zM121 181h1v3h-1zM122 7h1v3h-1zM122 48h1v3h-1zM122 126h1v3h-1zM122 185h1v3h-1zM123 46h1v3h-1zM123 110h1v3h-1zM123 159h1v3h-1zM124 98h1v3h-1zM125 6h1v3h-1zM126 90h1v3h-1zM126 155h1v3h-1zM127 136h1v3h-1zM128 23h1v3h-1zM128 70h1v3h-1zM128 181h1v3h-1zM129 24h1v3h-1zM129 58h1v3h-1zM129 86h1v3h-1zM129 119h1v3h-1zM129 169h1v3h-1zM130 12h1v3h-1zM130 46h1v3h-1zM130 84h1v3h-1zM130 179h1v3h-1zM131 38h1v3h-1zM131 67h1v3h-1zM131 99h1v3h-1zM131 140h1v3h-1zM131 185h1v3h-1zM132 49h1v3h-1zM132 73h1v3h-1zM132 131h1v3h-1zM133 23h1v3h-1zM133 69h1v3h-1zM133 151h1v3h-1zM134 20h1v3h-1zM134 70h1v3h-1zM134 126h1v3h-1zM134 184h1v3h-1zM135 19h1v3h-1zM135 98h1v3h-1zM136 6h1v3h-1zM136 112h1v3h-1zM137 120h1v3h-1zM137 146h1v3h-1zM138 93h1v3h-1zM138 118h1v3h-1zM138 148h1v3h-1zM139 92h1v3h-1zM140 81h1v3h-1zM140 143h1v3h-1zM140 166h1v3h-1zM141 68h1v3h-1zM141 93h1v3h-1zM141 115h1v3h-1zM142 74h1v3h-1zM142 144h1v3h-1zM142 169h1v3h-1zM143 39h1v3h-1zM143 68h1v3h-1zM143 98h1v3h-1zM143 167h1v3h-1zM144 31h1v3h-1zM144 80h1v3h-1zM144 102h1v3h-1zM144 140h1v3h-1zM144 183h1v3h-1zM145 0h1v3h-1zM145 64h1v3h-1zM145 103h1v3h-1zM145 131h1v3h-1zM145 163h1v3h-1zM146 39h1v3h-1zM146 120h1v3h-1zM146 183h1v3h-1zM147 34h1v3h-1zM147 73h1v3h-1zM147 98h1v3h-1zM147 170h1v3h-1zM148 18h1v3h-1zM148 48h1v3h-1zM148 100h1v3h-1zM148 124h1v3h-1zM148 151h1v3h-1zM149 23h1v3h-1zM149 69h1v3h-1zM149 133h1v3h-1zM150 55h1v3h-1zM150 148h1v3h-1zM151 55h1v3h-1zM151 107h1v3h-1zM151 178h1v3h-1zM152 54h1v3h-1zM152 77h1v3h-1zM152 101h1v3h-1zM152 128h1v3h-1zM153 79h1v3h-1zM153 128h1v3h-1zM154 61h1v3h-1zM154 90h1v3h-1zM154 121h1v3h-1zM155 50h1v3h-1zM155 128h1v3h-1zM155 185h1v3h-1zM156 47h1v3h-1zM156 82h1v3h-1zM156 135h1v3h-1zM156 179h1v3h-1zM157 22h1v3h-1zM157 82h1v3h-1zM157 151h1v3h-1zM158 115h1v3h-1zM158 188h1v3h-1zM159 15h1v3h-1zM159 50h1v3h-1zM159 103h1v3h-1zM159 133h1v3h-1zM159 155h1v3h-1zM159 189h1v3h-1zM160 34h1v3h-1zM160 70h1v3h-1zM160 102h1v3h-1zM160 133h1v3h-1zM160 166h1v3h-1zM161 39h1v3h-1zM161 101h1v3h-1zM161 138h1v3h-1zM161 170h1v3h-1zM161 189h1v3h-1zM162 72h1v3h-1zM162 93h1v3h-1zM162 138h1v3h-1zM162 156h1v3h-1zM163 73h1v3h-1zM163 97h1v3h-1zM163 121h1v3h-1zM163 165h1v3h-1zM164 69h1v3h-1zM164 133h1v3h-1zM164 163h1v3h-1zM165 65h1v3h-1zM165 114h1v3h-1zM165 169h1v3h-1zM166 10h1v3h-1zM166 162h1v3h-1zM167 17h1v3h-1zM167 41h1v3h-1zM167 60h1v3h-1zM167 80h1v3h-1zM167 107h1v3h-1zM167 125h1v3h-1zM168 20h1v3h-1zM168 82h1v3h-1zM168 108h1v3h-1zM168 150h1v3h-1zM168 168h1v3h-1zM169 0h1v3h-1zM169 18h1v3h-1zM169 67h1v3h-1zM169 112h1v3h-1zM169 162h1v3h-1zM170 17h1v3h-1zM170 65h1v3h-1zM170 112h1v3h-1zM170 163h1v3h-1zM171 10h1v3h-1zM171 111h1v3h-1zM171 135h1v3h-1zM171 162h1v3h-1zM172 10h1v3h-1zM172 64h1v3h-1zM172 116h1v3h-1zM172 158h1v3h-1zM173 19h1v3h-1zM173 68h1v3h-1zM173 87h1v3h-1zM173 117h1v3h-1zM173 145h1v3h-1zM173 168h1v3h-1zM174 14h1v3h-1zM174 51h1v3h-1zM174 81h1v3h-1zM174 121h1v3h-1zM175 55h1v3h-1zM175 86h1v3h-1zM175 133h1v3h-1zM175 184h1v3h-1zM176 22h1v3h-1zM176 53h1v3h-1zM176 76h1v3h-1zM176 121h1v3h-1zM176 178h1v3h-1zM177 0h1v2h-1zM177 59h1v3h-1zM177 80h1v3h-1zM177 123h1v3h-1zM177 145h1v3h-1zM178 6h1v3h-1zM178 40h1v3h-1zM178 126h1v3h-1zM178 188h1v3h-1zM179 13h1v3h-1zM179 35h1v3h-1zM179 100h1v3h-1zM179 131h1v3h-1zM179 156h1v3h-1zM179 176h1v3h-1zM180 9h1v3h-1zM180 30h1v3h-1zM180 62h1v3h-1zM180 94h1v3h-1zM180 117h1v3h-1zM180 157h1v3h-1zM181 24h1v3h-1zM181 61h1v3h-1zM181 92h1v3h-1zM181 141h1v3h-1zM182 8h1v3h-1zM182 25h1v3h-1zM182 66h1v3h-1zM182 125h1v3h-1zM182 176h1v3h-1zM183 13h1v3h-1zM183 45h1v3h-1zM183 71h1v3h-1zM183 115h1v3h-1zM183 159h1v3h-1zM183 178h1v3h-1zM184 3h1v3h-1zM184 65h1v3h-1zM184 117h1v3h-1zM184 156h1v3h-1zM184 178h1v3h-1zM185 9h1v3h-1zM185 40h1v3h-1zM185 129h1v3h-1zM186 2h1v3h-1zM186 36h1v3h-1zM186 111h1v3h-1zM186 130h1v3h-1zM187 26h1v3h-1zM187 53h1v3h-1zM187 137h1v3h-1zM187 157h1v3h-1zM187 177h1v3h-1zM188 11h1v3h-1zM188 37h1v3h-1zM188 58h1v3h-1zM188 106h1v3h-1zM188 157h1v3h-1zM189 10h1v3h-1zM189 49h1v3h-1zM189 89h1v3h-1zM189 141h1v3h-1zM189 163h1v3h-1zM190 0h1v3h-1zM190 43h1v3h-1zM190 70h1v3h-1zM190 107h1v3h-1zM190 130h1v3h-1zM190 148h1v3h-1zM190 184h1v3h-1zM191 43h1v3h-1zM191 60h1v3h-1zM191 101h1v3h-1zM191 127h1v3h-1zM192 19h1v3h-1zM192 36h1v3h-1zM192 53h1v3h-1zM192 108h1v3h-1zM192 131h1v3h-1zM193 12h1v3h-1zM193 31h1v3h-1zM193 61h1v3h-1zM193 132h1v3h-1zM193 173h1v3h-1zM194 15h1v3h-1zM194 82h1v3h-1zM194 129h1v3h-1zM194 183h1v3h-1zM195 20h1v3h-1zM195 132h1v3h-1zM195 162h1v3h-1zM195 179h1v3h-1zM196 18h1v3h-1zM196 59h1v3h-1zM196 136h1v3h-1zM196 181h1v3h-1zM197 139h1v3h-1zM197 170h1v3h-1zM198 69h1v3h-1zM198 88h1v3h-1zM198 129h1v3h-1zM198 163h1v3h-1zM199 27h1v3h-1zM199 70h1v3h-1zM199 144h1v3h-1z"/>
<path fill="#2884f6" d="M0 4h1v4h-1zM0 88h1v4h-1zM0 169h1v4h-1zM1 19h1v4h-1zM1 169h1v4h-1zM2 3h1v4h-1zM2 175h1v4h-1zM3 0h1v1h-1zM3 66h1v4h-1zM3 186h1v4h-1zM4 147h1v4h-1zM4 186h1v4h-1zM5 0h1v4h-1zM5 62h1v4h-1zM5 92h1v4h-1zM5 174h1v4h-1zM6 57h1v4h-1zM6 122h1v4h-1zM6 172h1v4h-1zM7 31h1v4h-1zM7 54h1v4h-1zM7 142h1v4h-1zM8 11h1v4h-1zM8 56h1v4h-1zM8 87h1v4h-1zM8 141h1v4h-1zM9 12h1v4h-1zM9 57h1v4h-1zM9 96h1v4h-1zM10 44h1v4h-1zM10 78h1v4h-1zM10 143h1v4h-1zM11 12h1v4h-1zM11 160h1v4h-1zM12 42h1v4h-1zM12 130h1v4h-1zM13 17h1v4h-1zM13 61h1v4h-1zM13 146h1v4h-1zM13 183h1v4h-1zM14 95h1v4h-1zM14 154h1v4h-1zM14 185h1v4h-1zM15 171h1v4h-1zM16 6h1v4h-1zM16 66h1v4h-1zM16 186h1v4h-1zM17 150h1v4h-1zM17 186h1v4h-1zM18 34h1v4h-1zM18 100h1v4h-1zM18 161h1v4h-1zM19 0h1v1h-1zM19 42h1v4h-1zM19 88h1v4h-1zM19 179h1v4h-1zM20 57h1v4h-1zM20 96h1v4h-1zM20 185h1v4h-1zM21 55h1v4h-1zM21 119h1v4h-1zM21 170h1v4h-1zM22 111h1v4h-1zM23 10h1v4h-1zM23 42h1v4h-1zM23 70h1v4h-1zM23 139h1v4h-1zM24 12h1v4h-1zM24 75h1v4h-1zM24 132h1v4h-1zM25 16h1v4h-1zM25 40h1v4h-1zM25 72h1v4h-1zM25 123h1v4h-1zM26 5h1v4h-1zM26 134h1v4h-1zM26 170h1v4h-1zM27 0h1v1h-1zM27 35h1v4h-1zM27 135h1v4h-1zM27 178h1v4h-1zM28 0h1v4h-1zM28 47h1v4h-1zM29 12h1v4h-1zM29 68h1v4h-1zM29 91h1v4h-1zM29 146h1v4h-1zM30 39h1v4h-1zM30 78h1v4h-1zM30 116h1v4h-1zM31 38h1v4h-1zM31 118h1v4h-1zM32 26h1v4h-1zM32 68h1v4h-1zM33 21h1v4h-1zM33 122h1v4h-1zM33 173h1v4h-1zM34 26h1v4h-1zM35 30h1v4h-1zM35 59h1v4h-1zM35 84h1v4h-1zM36 87h1v4h-1zM36 124h1v4h-1zM36 152h1v4h-1zM37 98h1v4h-1zM37 148h1v4h-1zM37 178h1v4h-1zM38 1h1v4h-1zM38 83h1v4h-1zM38 159h1v4h-1zM38 186h1v4h-1zM39 3h1v4h-1zM39 69h1v4h-1zM39 93h1v4h-1zM39 141h1v4h-1zM39 186h1v4h-1zM40 57h1v4h-1zM40 126h1v4h-1zM40 151h1v4h-1zM41 112h1v4h-1zM42 30h1v4h-1zM42 78h1v4h-1zM42 107h1v4h-1zM42 144h1v4h-1zM44 16h1v4h-1zM44 111h1v4h-1zM45 48h1v4h-1zM45 132h1v4h-1zM45 187h1v4h-1zM46 72h1v4h-1zM46 125h1v4h-1zM46 184h1v4h-1zM47 40h1v4h-1zM47 91h1v4h-1zM47 120h1v4h-1zM47 159h1v4h-1zM48 36h1v4h-1zM48 98h1v4h-1zM48 160h1v4h-1zM49 84h1v4h-1zM49 182h1v4h-1zM50 10h1v4h-1zM50 76h1v4h-1zM50 114h1v4h-1zM50 137h1v4h-1zM51 7h1v4h-1zM51 53h1v4h-1zM51 92h1v4h-1zM51 140h1v4h-1zM52 16h1v4h-1zM52 47h1v4h-1zM52 87h1v4h-1zM52 128h1v4h-1zM53 12h1v4h-1zM53 35h1v4h-1zM53 98h1v4h-1zM53 128h1v4h-1zM53 185h1v4h-1zM54 29h1v4h-1zM54 73h1v4h-1zM54 125h1v4h-1zM54 188h1v4h-1zM56 4h1v1h-1zM56 9h1v1h-1zM56 12h1v1h-1zM56 31h1v1h-1zM56 42h1v4h-1zM56 48h1v1h-1zM56 64h1v2h-1zM56 67h1v1h-1zM56 72h1v2h-1zM56 84h1v1h-1zM56 87h1v2h-1zM56 90h1v1h-1zM56 92h1v1h-1zM56 96h1v1h-1zM56 99h1v1h-1zM56 101h1v1h-1zM56 103h1v1h-1zM56 105h1v2h-1zM56 113h1v1h-1zM56 116h1v1h-1zM56 119h1v1h-1zM56 122h1v1h-1zM56 124h1v2h-1zM56 138h1v2h-1zM56 144h1v1h-1zM56 148h1v1h-1zM56 159h1v2h-1zM56 162h1v1h-1zM56 165h1v1h-1zM56 167h1v1h-1zM56 169h1v1h-1zM56 172h1v1h-1zM56 188h1v4h-1zM57 35h1v4h-1zM57 81h1v4h-1zM57 104h1v4h-1zM58 81h1v4h-1zM58 139h1v4h-1zM59 33h1v4h-1zM60 103h1v4h-1zM60 145h1v4h-1zM62 126h1v4h-1zM63 3h1v4h-1zM63 123h1v4h-1zM64 166h1v4h-1zM65 109h1v4h-1zM65 179h1v4h-1zM66 73h1v4h-1zM66 175h1v4h-1zM67 62h1v4h-1zM67 97h1v4h-1zM67 143h1v4h-1zM68 39h1v4h-1zM68 137h1v4h-1zM69 20h1v4h-1zM69 181h1v4h-1zM70 3h1v4h-1zM70 51h1v4h-1zM70 81h1v4h-1zM70 111h1v4h-1zM70 165h1v4h-1zM71 0h1v1h-1zM71 27h1v4h-1zM71 98h1v4h-1zM71 121h1v4h-1zM72 17h1v4h-1zM72 125h1v4h-1zM73 12h1v4h-1zM74 73h1v4h-1zM74 145h1v4h-1zM75 119h1v4h-1zM75 151h1v4h-1zM76 49h1v4h-1zM76 113h1v4h-1zM77 19h1v4h-1zM77 61h1v4h-1zM77 113h1v4h-1zM77 144h1v4h-1zM78 123h1v4h-1zM78 152h1v4h-1zM79 39h1v4h-1zM79 114h1v4h-1zM80 89h1v4h-1zM81 44h1v4h-1zM81 159h1v4h-1zM82 100h1v4h-1zM82 168h1v4h-1zM83 62h1v4h-1zM85 80h1v4h-1zM86 18h1v4h-1zM86 82h1v4h-1zM87 39h1v4h-1zM87 62h1v4h-1zM87 85h1v4h-1zM87 144h1v4h-1zM87 188h1v4h-1zM88 149h1v4h-1zM89 13h1v4h-1zM89 73h1v4h-1zM89 162h1v4h-1zM91 127h1v4h-1zM91 184h1v4h-1zM92 48h1v4h-1zM92 75h1v4h-1zM92 165h1v4h-1zM92 188h1v4h-1zM93 13h1v4h-1zM93 38h1v4h-1zM93 73h1v4h-1zM93 152h1v4h-1zM93 181h1v4h-1zM94 0h1v4h-1zM94 31h1v4h-1zM94 76h1v4h-1zM94 107h1v4h-1zM94 130h1v4h-1zM94 163h1v4h-1zM95 5h1v4h-1zM95 39h1v4h-1zM95 76h1v4h-1zM95 124h1v4h-1zM95 153h1v4h-1zM96 24h1v4h-1zM96 90h1v4h-1zM96 126h1v4h-1zM97 27h1v4h-1zM97 127h1v4h-1zM97 150h1v4h-1zM97 182h1v4h-1zM98 40h1v4h-1zM98 176h1v4h-1zM99 14h1v4h-1zM99 71h1v4h-1zM99 101h1v4h-1zM99 184h1v4h-1zM100 111h1v4h-1zM100 170h1v4h-1zM101 0h1v4h-1zM101 95h1v4h-1zM101 129h1v4h-1zM101 176h1v4h-1zM102 94h1v4h-1zM102 130h1v4h-1zM102 183h1v4h-1zM103 17h1v4h-1zM103 63h1v4h-1zM103 90h1v4h-1zM103 126h1v4h-1zM104 65h1v4h-1zM104 174h1v4h-1zM105 78h1v4h-1zM105 111h1v4h-1zM106 62h1v4h-1zM106 104h1v4h-1zM106 144h1v4h-1zM106 167h1v4h-1zM107 28h1v4h-1zM107 60h1v4h-1zM107 103h1v4h-1zM107 139h1v4h-1zM108 27h1v4h-1zM108 59h1v4h-1zM108 148h1v4h-1zM109 62h1v4h-1zM110 0h1v2h-1zM110 92h1v4h-1zM110 172h1v4h-1zM111 38h1v4h-1zM111 78h1v4h-1zM112 41h1v4h-1zM113 51h1v4h-1zM113 142h1v4h-1zM113 167h1v4h-1zM114 0h1v3h-1zM114 71h1v4h-1zM115 12h1v4h-1zM115 46h1v4h-1zM115 178h1v4h-1zM116 157h1v4h-1zM117 78h1v4h-1zM117 116h1v4h-1zM117 163h1v4h-1zM119 99h1v4h-1zM119 157h1v4h-1zM120 88h1v4h-1zM120 186h1v4h-1zM121 31h1v4h-1zM121 82h1v4h-1zM121 113h1v4h-1zM121 177h1v4h-1zM122 3h1v4h-1zM122 44h1v4h-1zM122 122h1v4h-1zM122 181h1v4h-1zM123 42h1v4h-1zM123 106h1v4h-1zM123 155h1v4h-1zM124 94h1v4h-1zM125 2h1v4h-1zM126 86h1v4h-1zM126 151h1v4h-1zM127 132h1v4h-1zM128 19h1v4h-1zM128 66h1v4h-1zM128 177h1v4h-1zM129 20h1v4h-1zM129 54h1v4h-1zM129 82h1v4h-1zM129 115h1v4h-1zM129 165h1v4h-1zM130 8h1v4h-1zM130 42h1v4h-1zM130 80h1v4h-1zM130 175h1v4h-1zM131 34h1v4h-1zM131 63h1v4h-1zM131 95h1v4h-1zM131 136h1v4h-1zM131 181h1v4h-1zM132 45h1v4h-1zM132 69h1v4h-1zM132 127h1v4h-1zM133 19h1v4h-1zM133 65h1v4h-1zM133 147h1v4h-1zM134 16h1v4h-1zM134 66h1v4h-1zM134 122h1v4h-1zM134 180h1v4h-1zM135 15h1v4h-1zM135 94h1v4h-1zM136 2h1v4h-1zM136 108h1v4h-1zM137 116h1v4h-1zM137 142h1v4h-1zM138 89h1v4h-1zM138 114h1v4h-1zM138 144h1v4h-1zM139 88h1v4h-1zM140 77h1v4h-1zM140 139h1v4h-1zM140 162h1v4h-1zM141 64h1v4h-1zM141 89h1v4h-1zM141 111h1v4h-1zM142 70h1v4h-1zM142 140h1v4h-1zM142 165h1v4h-1zM143 35h1v4h-1zM143 64h1v4h-1zM143 94h1v4h-1zM143 163h1v4h-1zM144 27h1v4h-1zM144 76h1v4h-1zM144 98h1v4h-1zM144 136h1v4h-1zM144 179h1v4h-1zM145 60h1v4h-1zM145 99h1v4h-1zM145 127h1v4h-1zM145 159h1v4h-1zM146 35h1v4h-1zM146 116h1v4h-1zM146 179h1v4h-1zM147 30h1v4h-1zM147 69h1v4h-1zM147 94h1v4h-1zM147 166h1v4h-1zM148 14h1v4h-1zM148 44h1v4h-1zM148 96h1v4h-1zM148 120h1v4h-1zM148 147h1v4h-1zM149 19h1v4h-1zM149 65h1v4h-1zM149 129h1v4h-1zM150 51h1v4h-1zM150 144h1v4h-1zM151 51h1v4h-1zM151 103h1v4h-1zM151 174h1v4h-1zM152 50h1v4h-1zM152 73h1v4h-1zM152 97h1v4h-1zM152 124h1v4h-1zM153 75h1v4h-1zM153 124h1v4h-1zM154 57h1v4h-1zM154 86h1v4h-1zM154 117h1v4h-1zM155 46h1v4h-1zM155 124h1v4h-1zM155 181h1v4h-1zM156 43h1v4h-1zM156 78h1v4h-1zM156 131h1v4h-1zM156 175h1v4h-1zM157 18h1v4h-1zM157 78h1v4h-1zM157 147h1v4h-1zM158 111h1v4h-1zM158 184h1v4h-1zM159 11h1v4h-1zM159 46h1v4h-1zM159 99h1v4h-1zM159 129h1v4h-1zM159 151h1v4h-1zM159 185h1v4h-1zM160 30h1v4h-1zM160 66h1v4h-1zM160 98h1v4h-1zM160 129h1v4h-1zM160 162h1v4h-1zM161 35h1v4h-1zM161 97h1v4h-1zM161 134h1v4h-1zM161 166h1v4h-1zM161 185h1v4h-1zM162 68h1v4h-1zM162 89h1v4h-1zM162 134h1v4h-1zM162 152h1v4h-1zM163 69h1v4h-1zM163 93h1v4h-1zM163 117h1v4h-1zM163 161h1v4h-1zM164 65h1v4h-1zM164 129h1v4h-1zM164 159h1v4h-1zM165 61h1v4h-1zM165 110h1v4h-1zM165 165h1v4h-1zM166 6h1v4h-1zM166 158h1v4h-1zM167 13h1v4h-1zM167 37h1v4h-1zM167 56h1v4h-1zM167 76h1v4h-1zM167 103h1v4h-1zM167 121h1v4h-1zM168 16h1v4h-1zM168 78h1v4h-1zM168 104h1v4h-1zM168 146h1v4h-1zM168 164h1v4h-1zM169 14h1v4h-1zM169 63h1v4h-1zM169 108h1v4h-1zM169 158h1v4h-1zM170 13h1v4h-1zM170 61h1v4h-1zM170 108h1v4h-1zM170 159h1v4h-1zM171 6h1v4h-1zM171 107h1v4h-1zM171 131h1v4h-1zM171 158h1v4h-1zM172 6h1v4h-1zM172 60h1v4h-1zM172 112h1v4h-1zM172 154h1v4h-1zM173 15h1v4h-1zM173 64h1v4h-1zM173 83h1v4h-1zM173 113h1v4h-1zM173 141h1v4h-1zM173 164h1v4h-1zM174 10h1v4h-1zM174 47h1v4h-1zM174 77h1v4h-1zM174 117h1v4h-1zM175 51h1v4h-1zM175 82h1v4h-1zM175 129h1v4h-1zM175 180h1v4h-1zM176 18h1v4h-1zM176 49h1v4h-1zM176 72h1v4h-1zM176 117h1v4h-1zM176 174h1v4h-1zM177 55h1v4h-1zM177 76h1v4h-1zM177 119h1v4h-1zM177 141h1v4h-1zM178 2h1v4h-1zM178 36h1v4h-1zM178 122h1v4h-1zM178 184h1v4h-1zM179 9h1v4h-1zM179 31h1v4h-1zM179 96h1v4h-1zM179 127h1v4h-1zM179 152h1v4h-1zM179 172h1v4h-1zM180 5h1v4h-1zM180 26h1v4h-1zM180 58h1v4h-1zM180 90h1v4h-1zM180 113h1v4h-1zM180 153h1v4h-1zM181 20h1v4h-1zM181 57h1v4h-1zM181 88h1v4h-1zM181 137h1v4h-1zM182 4h1v4h-1zM182 21h1v4h-1zM182 62h1v4h-1zM182 121h1v4h-1zM182 172h1v4h-1zM183 9h1v4h-1zM183 41h1v4h-1zM183 67h1v4h-1zM183 111h1v4h-1zM183 155h1v4h-1zM183 174h1v4h-1zM184 0h1v3h-1zM184 61h1v4h-1zM184 113h1v4h-1zM184 152h1v4h-1zM184 174h1v4h-1zM185 5h1v4h-1zM185 36h1v4h-1zM185 125h1v4h-1zM186 0h1v2h-1zM186 32h1v4h-1zM186 107h1v4h-1zM186 126h1v4h-1zM187 22h1v4h-1zM187 49h1v4h-1zM187 133h1v4h-1zM187 153h1v4h-1zM187 173h1v4h-1zM188 7h1v4h-1zM188 33h1v4h-1zM188 54h1v4h-1zM188 102h1v4h-1zM188 153h1v4h-1zM189 6h1v4h-1zM189 45h1v4h-1zM189 85h1v4h-1zM189 137h1v4h-1zM189 159h1v4h-1zM190 39h1v4h-1zM190 66h1v4h-1zM190 103h1v4h-1zM190 126h1v4h-1zM190 144h1v4h-1zM190 180h1v4h-1zM191 39h1v4h-1zM191 56h1v4h-1zM191 97h1v4h-1zM191 123h1v4h-1zM192 15h1v4h-1zM192 32h1v4h-1zM192 49h1v4h-1zM192 104h1v4h-1zM192 127h1v4h-1zM193 8h1v4h-1zM193 27h1v4h-1zM193 57h1v4h-1zM193 128h1v4h-1zM193 169h1v4h-1zM194 11h1v4h-1zM194 78h1v4h-1zM194 125h1v4h-1zM194 179h1v4h-1zM195 16h1v4h-1zM195 128h1v4h-1zM195 158h1v4h-1zM195 175h1v4h-1zM196 14h1v4h-1zM196 55h1v4h-1zM196 132h1v4h-1zM196 177h1v4h-1zM197 135h1v4h-1zM197 166h1v4h-1zM198 65h1v4h-1zM198 84h1v4h-1zM198 125h1v4h-1zM198 159h1v4h-1zM199 23h1v4h-1zM199 66h1v4h-1zM199 140h1v4h-1z"/>
<path fill="#0ea5ef" d="M56 5h1v1h-1zM56 7h1v2h-1zM56 11h1v1h-1zM56 14h1v1h-1zM56 24h1v4h-1zM56 29h1v2h-1zM56 32h1v2h-1zM56 47h1v1h-1zM56 57h1v1h-1zM56 59h1v1h-1zM56 62h1v2h-1zM56 66h1v1h-1zM56 68h1v4h-1zM56 82h1v1h-1zM56 85h1v2h-1zM56 91h1v1h-1zM56 93h1v1h-1zM56 107h1v1h-1zM56 109h1v2h-1zM56 120h1v2h-1zM56 126h1v1h-1zM56 129h1v1h-1zM56 136h1v1h-1zM56 140h1v4h-1zM56 146h1v2h-1zM56 153h1v2h-1zM56 161h1v1h-1zM56 163h1v1h-1zM56 173h1v1h-1zM56 177h1v1h-1zM56 179h1v1h-1z"/>
<path fill="#0dc2e8" d="M56 3h1v1h-1zM56 6h1v1h-1zM56 10h1v1h-1zM56 28h1v1h-1zM56 46h1v1h-1zM56 49h1v1h-1zM56 56h1v1h-1zM56 76h1v1h-1zM56 80h1v1h-1zM56 89h1v1h-1zM56 104h1v1h-1zM56 123h1v1h-1zM56 145h1v1h-1zM56 164h1v1h-1zM56 166h1v1h-1z"/>
<path fill="#27dade" d="M5 45h1v2h-1zM11 5h1v2h-1zM11 41h1v2h-1zM11 93h1v2h-1zM19 177h1v2h-1zM21 94h1v2h-1zM22 13h1v2h-1zM22 178h1v2h-1zM23 33h1v2h-1zM24 97h1v2h-1zM27 173h1v2h-1zM30 7h1v2h-1zM34 188h1v2h-1zM35 1h1v2h-1zM37 197h1v1h-1zM39 197h1v1h-1zM40 121h1v2h-1zM41 197h1v1h-1zM46 55h1v2h-1zM46 63h1v2h-1zM54 65h1v2h-1zM64 20h1v2h-1zM68 171h1v2h-1zM72 42h1v2h-1zM76 36h1v2h-1zM78 79h1v2h-1zM80 114h1v2h-1zM90 137h1v2h-1zM98 197h1v1h-1zM103 156h1v2h-1zM103 191h1v2h-1zM105 58h1v2h-1zM108 104h1v2h-1zM109 8h1v2h-1zM116 73h1v2h-1zM124 32h1v2h-1zM124 85h1v2h-1zM124 138h1v2h-1zM128 53h1v2h-1zM133 119h1v2h-1zM136 131h1v2h-1zM141 156h1v2h-1zM150 197h1v1h-1zM154 79h1v2h-1zM159 76h1v2h-1zM159 87h1v2h-1zM165 39h1v2h-1zM166 1h1v2h-1zM170 83h1v2h-1zM172 101h1v2h-1zM173 197h1v1h-1zM177 167h1v2h-1zM177 173h1v2h-1zM188 29h1v2h-1zM188 193h1v2h-1zM196 127h1v2h-1z"/>
<path fill="#40ecd4" d="M2 44h1v2h-1zM2 102h1v2h-1zM4 45h1v2h-1zM4 198h1v2h-1zM5 38h1v2h-1zM8 37h1v2h-1zM8 72h1v2h-1zM11 9h1v2h-1zM12 160h1v2h-1zM15 112h1v2h-1zM16 80h1v2h-1zM16 138h1v2h-1zM16 173h1v2h-1zM17 72h1v2h-1zM17 143h1v2h-1zM17 197h1v1h-1zM18 3h1v2h-1zM18 24h1v2h-1zM18 197h1v1h-1zM20 81h1v2h-1zM20 148h1v2h-1zM21 197h1v1h-1zM23 129h1v2h-1zM23 170h1v2h-1zM25 31h1v2h-1zM25 171h1v2h-1zM25 174h1v2h-1zM25 190h1v2h-1zM25 197h1v1h-1zM28 154h1v2h-1zM28 167h1v2h-1zM29 139h1v2h-1zM30 130h1v2h-1zM30 180h1v2h-1zM31 19h1v2h-1zM32 124h1v2h-1zM32 197h1v3h-1zM34 198h1v2h-1zM35 197h1v1h-1zM37 32h1v2h-1zM37 70h1v2h-1zM37 165h1v2h-1zM41 167h1v2h-1zM41 190h1v2h-1zM41 198h1v2h-1zM43 45h1v2h-1zM43 119h1v2h-1zM44 30h1v2h-1zM44 38h1v2h-1zM44 141h1v2h-1zM45 25h1v2h-1zM45 106h1v2h-1zM45 197h1v1h-1zM47 18h1v2h-1zM49 8h1v2h-1zM49 25h1v2h-1zM49 197h1v3h-1zM51 154h1v2h-1zM51 169h1v2h-1zM52 198h1v2h-1zM54 9h1v2h-1zM55 180h1v2h-1zM56 197h1v3h-1zM58 156h1v2h-1zM59 169h1v2h-1zM59 197h1v1h-1zM60 89h1v2h-1zM60 93h1v2h-1zM60 98h1v2h-1zM62 86h1v2h-1zM62 112h1v2h-1zM63 69h1v2h-1zM63 98h1v2h-1zM63 112h1v2h-1zM63 161h1v2h-1zM64 120h1v2h-1zM64 130h1v2h-1zM64 198h1v2h-1zM65 11h1v2h-1zM65 44h1v2h-1zM65 99h1v2h-1zM66 145h1v2h-1zM68 157h1v2h-1zM69 11h1v2h-1zM69 51h1v2h-1zM71 12h1v2h-1zM71 186h1v2h-1zM72 198h1v2h-1zM73 157h1v2h-1zM74 171h1v2h-1zM76 85h1v2h-1zM80 21h1v2h-1zM80 125h1v2h-1zM80 138h1v2h-1zM81 178h1v2h-1zM82 69h1v2h-1zM82 79h1v2h-1zM83 192h1v2h-1zM83 195h1v2h-1zM83 198h1v2h-1zM84 19h1v2h-1zM84 88h1v2h-1zM84 165h1v2h-1zM84 198h1v2h-1zM85 26h1v2h-1zM85 76h1v2h-1zM85 187h1v2h-1zM86 165h1v2h-1zM88 174h1v2h-1zM89 36h1v2h-1zM89 49h1v2h-1zM89 69h1v2h-1zM89 198h1v2h-1zM90 24h1v2h-1zM91 107h1v2h-1zM92 21h1v2h-1zM93 136h1v2h-1zM95 59h1v2h-1zM95 104h1v2h-1zM96 53h1v2h-1zM97 21h1v2h-1zM97 46h1v2h-1zM97 95h1v2h-1zM98 55h1v2h-1zM99 46h1v2h-1zM103 198h1v2h-1zM104 100h1v2h-1zM104 140h1v2h-1zM106 93h1v2h-1zM108 91h1v2h-1zM108 126h1v2h-1zM108 198h1v2h-1zM109 157h1v2h-1zM111 166h1v2h-1zM111 198h1v2h-1zM112 88h1v2h-1zM112 176h1v2h-1zM114 68h1v2h-1zM115 72h1v2h-1zM115 142h1v2h-1zM116 192h1v2h-1zM116 197h1v1h-1zM118 194h1v2h-1zM119 12h1v2h-1zM125 78h1v2h-1zM126 2h1v2h-1zM126 197h1v1h-1zM127 38h1v2h-1zM128 36h1v2h-1zM128 98h1v2h-1zM130 2h1v2h-1zM133 128h1v2h-1zM133 139h1v2h-1zM134 14h1v2h-1zM134 46h1v2h-1zM136 17h1v2h-1zM136 50h1v2h-1zM137 197h1v1h-1zM138 53h1v2h-1zM138 74h1v2h-1zM138 185h1v2h-1zM139 64h1v2h-1zM139 157h1v2h-1zM140 136h1v2h-1zM141 50h1v2h-1zM141 166h1v2h-1zM143 50h1v2h-1zM143 58h1v2h-1zM143 110h1v2h-1zM143 113h1v2h-1zM143 194h1v2h-1zM143 198h1v2h-1zM144 63h1v2h-1zM145 186h1v2h-1zM146 85h1v2h-1zM147 130h1v2h-1zM149 124h1v2h-1zM150 76h1v2h-1zM151 24h1v2h-1zM151 45h1v2h-1zM152 157h1v2h-1zM153 44h1v2h-1zM153 107h1v2h-1zM153 171h1v2h-1zM155 10h1v2h-1zM156 151h1v2h-1zM156 197h1v1h-1zM157 184h1v2h-1zM158 14h1v2h-1zM158 17h1v2h-1zM161 51h1v2h-1zM161 62h1v2h-1zM161 111h1v2h-1zM162 5h1v2h-1zM162 109h1v2h-1zM162 170h1v2h-1zM163 7h1v2h-1zM163 138h1v2h-1zM164 198h1v2h-1zM165 93h1v2h-1zM165 155h1v2h-1zM166 72h1v2h-1zM166 197h1v1h-1zM168 3h1v2h-1zM168 32h1v2h-1zM168 180h1v2h-1zM170 95h1v2h-1zM172 145h1v2h-1zM172 198h1v2h-1zM174 160h1v2h-1zM176 38h1v2h-1zM177 171h1v2h-1zM177 190h1v2h-1zM178 197h1v3h-1zM180 74h1v2h-1zM182 44h1v2h-1zM182 198h1v2h-1zM183 94h1v2h-1zM184 80h1v2h-1zM184 144h1v2h-1zM188 138h1v2h-1zM189 38h1v2h-1zM191 7h1v2h-1zM191 171h1v2h-1zM193 41h1v2h-1zM194 120h1v2h-1zM194 146h1v2h-1zM196 174h1v2h-1zM197 61h1v2h-1zM198 5h1v2h-1zM198 148h1v2h-1z"/>
<path fill="#58f8c9" d="M0 197h1v1h-1zM1 146h1v2h-1zM1 187h1v2h-1zM2 84h1v2h-1zM5 116h1v2h-1zM5 191h1v2h-1zM6 165h1v2h-1zM7 129h1v2h-1zM7 197h1v1h-1zM8 195h1v2h-1zM8 198h1v2h-1zM10 97h1v2h-1zM10 197h1v1h-1zM11 45h1v2h-1zM11 122h1v2h-1zM11 182h1v2h-1zM11 185h1v2h-1zM12 121h1v2h-1zM19 22h1v2h-1zM19 125h1v2h-1zM20 5h1v2h-1zM21 198h1v2h-1zM22 130h1v2h-1zM22 136h1v2h-1zM22 192h1v2h-1zM23 198h1v2h-1zM24 171h1v2h-1zM24 198h1v2h-1zM27 33h1v2h-1zM27 161h1v2h-1zM27 198h1v2h-1zM28 27h1v2h-1zM28 169h1v2h-1zM30 190h1v2h-1zM31 62h1v2h-1zM31 162h1v2h-1zM32 64h1v2h-1zM33 75h1v2h-1zM34 197h1v1h-1zM35 121h1v2h-1zM36 141h1v2h-1zM36 197h1v3h-1zM37 27h1v2h-1zM38 34h1v2h-1zM38 146h1v2h-1zM38 198h1v2h-1zM46 197h1v1h-1zM47 198h1v2h-1zM49 30h1v2h-1zM50 196h1v2h-1zM51 197h1v1h-1zM52 11h1v2h-1zM54 47h1v2h-1zM54 181h1v2h-1zM55 187h1v2h-1zM57 160h1v2h-1zM57 197h1v1h-1zM58 5h1v2h-1zM58 20h1v2h-1zM58 58h1v2h-1zM58 99h1v2h-1zM61 198h1v2h-1zM62 197h1v1h-1zM63 1h1v2h-1zM64 181h1v2h-1zM64 197h1v1h-1zM65 160h1v2h-1zM65 163h1v2h-1zM65 197h1v1h-1zM66 197h1v1h-1zM68 130h1v2h-1zM68 189h1v2h-1zM69 35h1v2h-1zM69 178h1v2h-1zM70 47h1v2h-1zM71 21h1v2h-1zM72 166h1v2h-1zM73 115h1v2h-1zM74 68h1v2h-1zM75 16h1v2h-1zM75 36h1v2h-1zM75 69h1v2h-1zM76 148h1v2h-1zM78 75h1v2h-1zM78 197h1v1h-1zM79 63h1v2h-1zM82 137h1v2h-1zM82 198h1v2h-1zM83 139h1v2h-1zM83 188h1v2h-1zM84 52h1v2h-1zM85 182h1v2h-1zM86 167h1v2h-1zM86 198h1v2h-1zM88 21h1v2h-1zM88 127h1v2h-1zM88 142h1v2h-1zM88 181h1v2h-1zM88 190h1v2h-1zM89 187h1v2h-1zM91 123h1v2h-1zM92 26h1v2h-1zM92 198h1v2h-1zM95 74h1v2h-1zM95 177h1v2h-1zM95 197h1v1h-1zM96 5h1v2h-1zM97 56h1v2h-1zM97 89h1v2h-1zM98 142h1v2h-1zM99 166h1v2h-1zM99 197h1v3h-1zM100 142h1v2h-1zM101 15h1v2h-1zM101 70h1v2h-1zM103 34h1v2h-1zM104 33h1v2h-1zM105 109h1v2h-1zM106 43h1v2h-1zM106 121h1v2h-1zM106 198h1v2h-1zM107 197h1v1h-1zM108 88h1v2h-1zM111 75h1v2h-1zM111 141h1v2h-1zM113 140h1v2h-1zM114 40h1v2h-1zM114 122h1v2h-1zM115 196h1v2h-1zM116 22h1v2h-1zM117 63h1v2h-1zM117 150h1v2h-1zM117 198h1v2h-1zM118 198h1v2h-1zM120 197h1v1h-1zM122 86h1v2h-1zM123 63h1v2h-1zM123 97h1v2h-1zM123 172h1v2h-1zM124 60h1v2h-1zM124 156h1v2h-1zM124 196h1v4h-1zM125 28h1v2h-1zM126 139h1v2h-1zM127 198h1v2h-1zM128 87h1v2h-1zM128 198h1v2h-1zM129 129h1v2h-1zM130 131h1v2h-1zM130 198h1v2h-1zM134 172h1v2h-1zM134 198h1v2h-1zM135 3h1v2h-1zM136 33h1v2h-1zM136 56h1v2h-1zM137 38h1v2h-1zM138 4h1v2h-1zM138 47h1v2h-1zM138 132h1v2h-1zM138 195h1v2h-1zM139 44h1v2h-1zM139 49h1v2h-1zM139 193h1v2h-1zM142 31h1v2h-1zM142 157h1v2h-1zM143 5h1v2h-1zM143 25h1v2h-1zM144 5h1v2h-1zM144 66h1v2h-1zM146 29h1v2h-1zM148 65h1v2h-1zM149 90h1v2h-1zM149 117h1v2h-1zM150 198h1v2h-1zM152 193h1v2h-1zM154 172h1v2h-1zM155 62h1v2h-1zM155 175h1v2h-1zM156 189h1v2h-1zM157 99h1v2h-1zM158 95h1v2h-1zM158 101h1v2h-1zM159 71h1v2h-1zM164 89h1v2h-1zM164 108h1v2h-1zM166 85h1v2h-1zM166 198h1v2h-1zM168 197h1v1h-1zM169 123h1v2h-1zM169 193h1v2h-1zM170 198h1v2h-1zM171 25h1v2h-1zM171 53h1v2h-1zM171 71h1v2h-1zM172 99h1v2h-1zM174 28h1v2h-1zM174 138h1v2h-1zM174 180h1v2h-1zM175 177h1v2h-1zM177 95h1v2h-1zM177 106h1v2h-1zM177 163h1v2h-1zM178 172h1v2h-1zM179 86h1v2h-1zM180 22h1v2h-1zM180 198h1v2h-1zM181 75h1v2h-1zM184 34h1v2h-1zM185 102h1v2h-1zM185 164h1v2h-1zM186 96h1v2h-1zM186 198h1v2h-1zM187 169h1v2h-1zM189 197h1v1h-1zM191 82h1v2h-1zM191 115h1v2h-1zM193 155h1v2h-1zM193 198h1v2h-1zM194 60h1v2h-1zM198 116h1v2h-1zM199 163h1v2h-1z"/>
<path fill="#72febb" d="M1 113h1v2h-1zM4 197h1v1h-1zM6 198h1v2h-1zM8 197h1v1h-1zM11 106h1v2h-1zM13 198h1v2h-1zM17 50h1v2h-1zM21 21h1v2h-1zM21 39h1v2h-1zM22 101h1v2h-1zM22 198h1v2h-1zM24 197h1v1h-1zM25 198h1v2h-1zM33 198h1v2h-1zM35 198h1v2h-1zM36 78h1v2h-1zM38 156h1v2h-1zM38 197h1v1h-1zM39 59h1v2h-1zM40 3h1v2h-1zM44 166h1v2h-1zM45 164h1v2h-1zM46 198h1v2h-1zM47 197h1v1h-1zM48 59h1v2h-1zM48 198h1v2h-1zM51 117h1v2h-1zM53 61h1v2h-1zM53 197h1v1h-1zM54 165h1v2h-1zM57 63h1v2h-1zM58 198h1v2h-1zM66 37h1v2h-1zM66 63h1v2h-1zM70 198h1v2h-1zM73 55h1v2h-1zM73 197h1v1h-1zM74 198h1v2h-1zM75 26h1v2h-1zM76 198h1v2h-1zM77 161h1v2h-1zM80 198h1v2h-1zM82 145h1v2h-1zM82 184h1v2h-1zM87 59h1v2h-1zM87 198h1v2h-1zM88 122h1v2h-1zM88 198h1v2h-1zM89 197h1v1h-1zM90 61h1v2h-1zM92 150h1v2h-1zM94 105h1v2h-1zM94 126h1v2h-1zM101 198h1v2h-1zM102 42h1v2h-1zM103 143h1v2h-1zM109 184h1v2h-1zM110 198h1v2h-1zM112 69h1v2h-1zM112 124h1v2h-1zM112 197h1v3h-1zM113 193h1v2h-1zM114 198h1v2h-1zM117 48h1v2h-1zM119 197h1v1h-1zM121 163h1v2h-1zM121 198h1v2h-1zM122 97h1v2h-1zM123 12h1v2h-1zM123 92h1v2h-1zM126 198h1v2h-1zM132 4h1v2h-1zM133 121h1v2h-1zM133 197h1v3h-1zM139 2h1v2h-1zM143 137h1v2h-1zM147 198h1v2h-1zM149 168h1v2h-1zM149 185h1v2h-1zM149 197h1v1h-1zM151 85h1v2h-1zM155 144h1v2h-1zM158 36h1v2h-1zM158 142h1v2h-1zM158 171h1v2h-1zM167 72h1v2h-1zM170 179h1v2h-1zM171 197h1v1h-1zM173 198h1v2h-1zM178 107h1v2h-1zM180 52h1v2h-1zM182 158h1v2h-1zM184 197h1v1h-1zM185 197h1v3h-1zM187 198h1v2h-1zM194 71h1v2h-1zM194 198h1v2h-1z"/>
<path fill="#8cfead" d="M2 198h1v2h-1zM29 198h1v2h-1zM40 198h1v2h-1zM54 198h1v2h-1zM68 198h1v2h-1zM78 198h1v2h-1zM85 198h1v2h-1zM94 198h1v2h-1zM95 198h1v2h-1zM97 198h1v2h-1zM140 198h1v2h-1zM152 198h1v2h-1zM153 198h1v2h-1zM159 198h1v2h-1zM163 198h1v2h-1zM165 198h1v2h-1zM190 198h1v2h-1z"/>
<path fill="#a6f89d" d="M71 198h1v2h-1zM100 198h1v2h-1zM122 198h1v2h-1zM145 198h1v2h-1zM188 198h1v2h-1z"/>
<path fill="#c0eb8d" d="M0 176h1v1h-1zM0 182h1v1h-1zM1 176h1v1h-1zM1 182h1v1h-1zM5 99h1v1h-1zM5 105h1v1h-1zM5 198h1v2h-1zM7 38h1v1h-1zM7 44h1v1h-1zM8 63h1v1h-1zM8 69h1v1h-1zM11 167h1v1h-1zM11 173h1v1h-1zM14 102h1v1h-1zM14 108h1v1h-1zM14 192h1v1h-1zM14 198h1v2h-1zM15 178h1v1h-1zM15 184h1v1h-1zM16 193h1v1h-1zM17 157h1v1h-1zM17 163h1v1h-1zM18 41h1v1h-1zM18 47h1v1h-1zM19 49h1v1h-1zM19 55h1v1h-1zM21 126h1v1h-1zM21 132h1v1h-1zM25 23h1v1h-1zM25 29h1v1h-1zM25 79h1v1h-1zM25 85h1v1h-1zM25 130h1v1h-1zM25 136h1v1h-1zM27 4h1v1h-1zM27 10h1v1h-1zM27 142h1v1h-1zM27 148h1v1h-1zM28 54h1v1h-1zM28 60h1v1h-1zM29 75h1v1h-1zM29 81h1v1h-1zM29 153h1v1h-1zM29 159h1v1h-1zM32 1h1v1h-1zM32 7h1v1h-1zM33 28h1v1h-1zM33 34h1v1h-1zM33 129h1v1h-1zM33 135h1v1h-1zM36 94h1v1h-1zM36 100h1v1h-1zM36 159h1v1h-1zM36 165h1v1h-1zM38 193h1v1h-1zM39 76h1v1h-1zM39 82h1v1h-1zM40 64h1v1h-1zM40 70h1v1h-1zM40 133h1v1h-1zM40 139h1v1h-1zM40 158h1v1h-1zM40 164h1v1h-1zM45 5h1v1h-1zM46 79h1v1h-1zM46 85h1v1h-1zM48 105h1v1h-1zM48 111h1v1h-1zM50 17h1v1h-1zM50 23h1v1h-1zM50 121h1v1h-1zM50 127h1v1h-1zM51 14h1v1h-1zM51 20h1v1h-1zM52 54h1v1h-1zM52 60h1v1h-1zM53 105h1v1h-1zM53 111h1v1h-1zM54 80h1v1h-1zM54 86h1v1h-1zM54 132h1v1h-1zM54 138h1v1h-1zM54 195h1v1h-1zM64 173h1v1h-1zM64 179h1v1h-1zM65 198h1v2h-1zM66 182h1v1h-1zM66 188h1v1h-1zM67 104h1v1h-1zM67 110h1v1h-1zM67 150h1v1h-1zM67 156h1v1h-1zM70 58h1v1h-1zM70 64h1v1h-1zM71 34h1v1h-1zM71 40h1v1h-1zM72 132h1v1h-1zM72 138h1v1h-1zM74 80h1v1h-1zM74 86h1v1h-1zM74 152h1v1h-1zM74 158h1v1h-1zM75 126h1v1h-1zM75 132h1v1h-1zM76 56h1v1h-1zM76 62h1v1h-1zM76 120h1v1h-1zM76 126h1v1h-1zM77 120h1v1h-1zM77 126h1v1h-1zM78 130h1v1h-1zM78 136h1v1h-1zM79 46h1v1h-1zM79 52h1v1h-1zM79 121h1v1h-1zM79 127h1v1h-1zM83 69h1v1h-1zM83 75h1v1h-1zM86 89h1v1h-1zM86 95h1v1h-1zM87 195h1v1h-1zM89 169h1v1h-1zM89 175h1v1h-1zM91 191h1v1h-1zM91 197h1v1h-1zM92 4h1v1h-1zM92 82h1v1h-1zM92 88h1v1h-1zM93 45h1v1h-1zM93 51h1v1h-1zM93 80h1v1h-1zM93 86h1v1h-1zM93 188h1v1h-1zM93 194h1v1h-1zM94 7h1v1h-1zM94 13h1v1h-1zM95 12h1v1h-1zM95 18h1v1h-1zM95 83h1v1h-1zM95 89h1v1h-1zM100 0h1v1h-1zM100 6h1v1h-1zM101 102h1v1h-1zM101 108h1v1h-1zM103 97h1v1h-1zM103 103h1v1h-1zM103 133h1v1h-1zM103 139h1v1h-1zM105 118h1v1h-1zM105 124h1v1h-1zM106 0h1v1h-1zM106 6h1v1h-1zM107 35h1v1h-1zM107 41h1v1h-1zM109 198h1v2h-1zM111 85h1v1h-1zM111 91h1v1h-1zM112 48h1v1h-1zM112 54h1v1h-1zM121 89h1v1h-1zM121 95h1v1h-1zM122 10h1v1h-1zM122 16h1v1h-1zM122 188h1v1h-1zM122 194h1v1h-1zM123 49h1v1h-1zM123 55h1v1h-1zM123 113h1v1h-1zM123 119h1v1h-1zM123 162h1v1h-1zM123 168h1v1h-1zM126 93h1v1h-1zM126 99h1v1h-1zM126 158h1v1h-1zM126 164h1v1h-1zM130 182h1v1h-1zM130 188h1v1h-1zM131 41h1v1h-1zM131 47h1v1h-1zM132 134h1v1h-1zM132 140h1v1h-1zM132 198h1v2h-1zM135 22h1v1h-1zM135 28h1v1h-1zM137 198h1v2h-1zM138 151h1v1h-1zM138 157h1v1h-1zM141 71h1v1h-1zM141 77h1v1h-1zM141 96h1v1h-1zM141 102h1v1h-1zM142 147h1v1h-1zM142 153h1v1h-1zM143 170h1v1h-1zM143 176h1v1h-1zM144 143h1v1h-1zM144 149h1v1h-1zM146 198h1v2h-1zM147 101h1v1h-1zM147 107h1v1h-1zM148 198h1v2h-1zM149 136h1v1h-1zM149 142h1v1h-1zM150 151h1v1h-1zM150 157h1v1h-1zM151 198h1v2h-1zM153 82h1v1h-1zM153 88h1v1h-1zM154 198h1v2h-1zM155 198h1v2h-1zM156 50h1v1h-1zM156 56h1v1h-1zM157 85h1v1h-1zM157 91h1v1h-1zM157 154h1v1h-1zM157 160h1v1h-1zM158 191h1v1h-1zM158 197h1v1h-1zM159 18h1v1h-1zM159 24h1v1h-1zM159 192h1v1h-1zM160 37h1v1h-1zM160 43h1v1h-1zM160 169h1v1h-1zM160 175h1v1h-1zM161 2h1v1h-1zM161 198h1v2h-1zM162 75h1v1h-1zM162 81h1v1h-1zM162 96h1v1h-1zM162 102h1v1h-1zM162 159h1v1h-1zM162 165h1v1h-1zM164 72h1v1h-1zM164 78h1v1h-1zM167 44h1v1h-1zM167 50h1v1h-1zM167 63h1v1h-1zM167 69h1v1h-1zM167 110h1v1h-1zM167 116h1v1h-1zM167 128h1v1h-1zM167 134h1v1h-1zM168 153h1v1h-1zM168 159h1v1h-1zM168 171h1v1h-1zM168 177h1v1h-1zM169 70h1v1h-1zM169 76h1v1h-1zM169 165h1v1h-1zM169 171h1v1h-1zM173 71h1v1h-1zM173 77h1v1h-1zM173 90h1v1h-1zM173 96h1v1h-1zM174 17h1v1h-1zM174 23h1v1h-1zM176 124h1v1h-1zM176 130h1v1h-1zM176 181h1v1h-1zM176 187h1v1h-1zM177 83h1v1h-1zM177 89h1v1h-1zM178 43h1v1h-1zM178 49h1v1h-1zM179 38h1v1h-1zM179 44h1v1h-1zM179 134h1v1h-1zM179 140h1v1h-1zM180 12h1v1h-1zM180 18h1v1h-1zM180 33h1v1h-1zM180 39h1v1h-1zM180 160h1v1h-1zM180 166h1v1h-1zM181 5h1v1h-1zM181 27h1v1h-1zM181 33h1v1h-1zM182 128h1v1h-1zM182 134h1v1h-1zM183 16h1v1h-1zM183 22h1v1h-1zM183 48h1v1h-1zM183 54h1v1h-1zM183 74h1v1h-1zM183 80h1v1h-1zM184 6h1v1h-1zM184 12h1v1h-1zM184 68h1v1h-1zM184 74h1v1h-1zM184 120h1v1h-1zM184 126h1v1h-1zM184 159h1v1h-1zM184 165h1v1h-1zM184 198h1v2h-1zM189 13h1v1h-1zM189 19h1v1h-1zM189 52h1v1h-1zM189 58h1v1h-1zM190 110h1v1h-1zM190 116h1v1h-1zM190 133h1v1h-1zM190 139h1v1h-1zM190 151h1v1h-1zM190 157h1v1h-1zM191 63h1v1h-1zM191 69h1v1h-1zM191 198h1v2h-1zM192 39h1v1h-1zM192 45h1v1h-1zM192 56h1v1h-1zM192 62h1v1h-1zM192 111h1v1h-1zM192 117h1v1h-1zM192 134h1v1h-1zM192 140h1v1h-1zM194 186h1v1h-1zM194 192h1v1h-1zM195 182h1v1h-1zM195 188h1v1h-1zM196 62h1v1h-1zM196 68h1v1h-1zM196 139h1v1h-1zM196 145h1v1h-1zM197 142h1v1h-1zM197 148h1v1h-1zM198 132h1v1h-1zM198 138h1v1h-1zM199 147h1v1h-1zM199 153h1v1h-1z"/>
<path fill="#d9da7d" d="M0 11h1v1h-1zM0 17h1v1h-1zM0 95h1v1h-1zM0 101h1v1h-1zM1 2h1v1h-1zM1 8h1v1h-1zM1 26h1v1h-1zM1 32h1v1h-1zM1 198h1v2h-1zM2 10h1v1h-1zM2 16h1v1h-1zM2 182h1v1h-1zM2 188h1v1h-1zM3 4h1v1h-1zM3 10h1v1h-1zM3 73h1v1h-1zM3 79h1v1h-1zM3 193h1v1h-1zM4 5h1v1h-1zM4 154h1v1h-1zM4 160h1v1h-1zM4 193h1v1h-1zM5 7h1v1h-1zM5 13h1v1h-1zM5 69h1v1h-1zM5 75h1v1h-1zM5 181h1v1h-1zM5 187h1v1h-1zM6 64h1v1h-1zM6 70h1v1h-1zM6 129h1v1h-1zM6 135h1v1h-1zM6 179h1v1h-1zM6 185h1v1h-1zM7 61h1v1h-1zM7 67h1v1h-1zM7 149h1v1h-1zM7 155h1v1h-1zM7 198h1v2h-1zM8 18h1v1h-1zM8 24h1v1h-1zM8 94h1v1h-1zM8 100h1v1h-1zM8 148h1v1h-1zM8 154h1v1h-1zM9 0h1v1h-1zM9 19h1v1h-1zM9 25h1v1h-1zM9 64h1v1h-1zM9 70h1v1h-1zM9 103h1v1h-1zM9 109h1v1h-1zM10 51h1v1h-1zM10 57h1v1h-1zM10 85h1v1h-1zM10 91h1v1h-1zM10 150h1v1h-1zM10 156h1v1h-1zM11 19h1v1h-1zM11 25h1v1h-1zM12 49h1v1h-1zM12 55h1v1h-1zM12 137h1v1h-1zM12 143h1v1h-1zM13 24h1v1h-1zM13 30h1v1h-1zM13 68h1v1h-1zM13 74h1v1h-1zM13 153h1v1h-1zM13 159h1v1h-1zM13 190h1v1h-1zM13 196h1v1h-1zM14 161h1v1h-1zM14 167h1v1h-1zM16 13h1v1h-1zM16 19h1v1h-1zM16 73h1v1h-1zM16 79h1v1h-1zM17 193h1v1h-1zM17 198h1v2h-1zM18 107h1v1h-1zM18 113h1v1h-1zM18 168h1v1h-1zM18 174h1v1h-1zM19 4h1v1h-1zM19 10h1v1h-1zM19 95h1v1h-1zM19 101h1v1h-1zM19 186h1v1h-1zM19 192h1v1h-1zM20 64h1v1h-1zM20 70h1v1h-1zM20 103h1v1h-1zM20 109h1v1h-1zM20 192h1v1h-1zM21 1h1v1h-1zM21 7h1v1h-1zM21 62h1v1h-1zM21 68h1v1h-1zM21 177h1v1h-1zM21 183h1v1h-1zM22 2h1v1h-1zM22 8h1v1h-1zM22 118h1v1h-1zM22 124h1v1h-1zM23 17h1v1h-1zM23 23h1v1h-1zM23 49h1v1h-1zM23 55h1v1h-1zM23 77h1v1h-1zM23 83h1v1h-1zM23 146h1v1h-1zM23 152h1v1h-1zM24 19h1v1h-1zM24 25h1v1h-1zM24 82h1v1h-1zM24 88h1v1h-1zM24 139h1v1h-1zM24 145h1v1h-1zM25 47h1v1h-1zM25 53h1v1h-1zM26 12h1v1h-1zM26 18h1v1h-1zM26 141h1v1h-1zM26 147h1v1h-1zM26 177h1v1h-1zM26 183h1v1h-1zM26 198h1v2h-1zM27 42h1v1h-1zM27 48h1v1h-1zM27 185h1v1h-1zM27 191h1v1h-1zM28 7h1v1h-1zM28 13h1v1h-1zM29 19h1v1h-1zM29 25h1v1h-1zM29 98h1v1h-1zM29 104h1v1h-1zM30 46h1v1h-1zM30 52h1v1h-1zM30 85h1v1h-1zM30 91h1v1h-1zM30 123h1v1h-1zM30 129h1v1h-1zM31 45h1v1h-1zM31 51h1v1h-1zM31 125h1v1h-1zM31 131h1v1h-1zM32 33h1v1h-1zM32 39h1v1h-1zM32 75h1v1h-1zM32 81h1v1h-1zM33 180h1v1h-1zM33 186h1v1h-1zM34 33h1v1h-1zM34 39h1v1h-1zM35 37h1v1h-1zM35 43h1v1h-1zM35 66h1v1h-1zM35 72h1v1h-1zM35 91h1v1h-1zM35 97h1v1h-1zM36 131h1v1h-1zM36 137h1v1h-1zM37 105h1v1h-1zM37 111h1v1h-1zM37 155h1v1h-1zM37 161h1v1h-1zM37 185h1v1h-1zM37 191h1v1h-1zM37 198h1v2h-1zM38 8h1v1h-1zM38 14h1v1h-1zM38 90h1v1h-1zM38 96h1v1h-1zM38 166h1v1h-1zM38 172h1v1h-1zM39 10h1v1h-1zM39 16h1v1h-1zM39 100h1v1h-1zM39 106h1v1h-1zM39 148h1v1h-1zM39 154h1v1h-1zM39 193h1v1h-1zM41 119h1v1h-1zM41 125h1v1h-1zM42 37h1v1h-1zM42 43h1v1h-1zM42 85h1v1h-1zM42 91h1v1h-1zM42 114h1v1h-1zM42 120h1v1h-1zM42 151h1v1h-1zM42 157h1v1h-1zM42 198h1v2h-1zM44 0h1v1h-1zM44 6h1v1h-1zM44 23h1v1h-1zM44 29h1v1h-1zM44 118h1v1h-1zM44 124h1v1h-1zM45 55h1v1h-1zM45 61h1v1h-1zM45 139h1v1h-1zM45 145h1v1h-1zM45 194h1v1h-1zM45 198h1v2h-1zM46 132h1v1h-1zM46 138h1v1h-1zM46 191h1v1h-1zM47 47h1v1h-1zM47 53h1v1h-1zM47 98h1v1h-1zM47 104h1v1h-1zM47 127h1v1h-1zM47 133h1v1h-1zM47 166h1v1h-1zM47 172h1v1h-1zM48 43h1v1h-1zM48 49h1v1h-1zM48 167h1v1h-1zM48 173h1v1h-1zM49 91h1v1h-1zM49 97h1v1h-1zM49 189h1v1h-1zM49 195h1v1h-1zM50 83h1v1h-1zM50 89h1v1h-1zM50 144h1v1h-1zM50 150h1v1h-1zM50 198h1v2h-1zM51 60h1v1h-1zM51 66h1v1h-1zM51 99h1v1h-1zM51 105h1v1h-1zM51 147h1v1h-1zM51 153h1v1h-1zM51 198h1v2h-1zM52 23h1v1h-1zM52 29h1v1h-1zM52 94h1v1h-1zM52 100h1v1h-1zM52 135h1v1h-1zM52 141h1v1h-1zM53 19h1v1h-1zM53 25h1v1h-1zM53 42h1v1h-1zM53 48h1v1h-1zM53 135h1v1h-1zM53 141h1v1h-1zM53 192h1v1h-1zM53 198h1v2h-1zM54 36h1v1h-1zM54 42h1v1h-1zM56 195h1v1h-1zM57 3h1v1h-1zM57 9h1v1h-1zM57 42h1v1h-1zM57 48h1v1h-1zM57 88h1v1h-1zM57 94h1v1h-1zM57 111h1v1h-1zM57 117h1v1h-1zM58 88h1v1h-1zM58 94h1v1h-1zM58 146h1v1h-1zM58 152h1v1h-1zM59 40h1v1h-1zM59 46h1v1h-1zM60 110h1v1h-1zM60 116h1v1h-1zM60 152h1v1h-1zM60 158h1v1h-1zM62 133h1v1h-1zM62 139h1v1h-1zM63 10h1v1h-1zM63 16h1v1h-1zM63 130h1v1h-1zM63 136h1v1h-1zM65 4h1v1h-1zM65 116h1v1h-1zM65 122h1v1h-1zM65 186h1v1h-1zM65 192h1v1h-1zM66 80h1v1h-1zM66 86h1v1h-1zM67 69h1v1h-1zM67 75h1v1h-1zM67 198h1v2h-1zM68 46h1v1h-1zM68 52h1v1h-1zM68 144h1v1h-1zM68 150h1v1h-1zM69 27h1v1h-1zM69 33h1v1h-1zM69 188h1v1h-1zM69 194h1v1h-1zM70 10h1v1h-1zM70 16h1v1h-1zM70 88h1v1h-1zM70 94h1v1h-1zM70 118h1v1h-1zM70 124h1v1h-1zM70 172h1v1h-1zM70 178h1v1h-1zM71 4h1v1h-1zM71 10h1v1h-1zM71 105h1v1h-1zM71 111h1v1h-1zM71 128h1v1h-1zM71 134h1v1h-1zM72 24h1v1h-1zM72 30h1v1h-1zM73 19h1v1h-1zM73 25h1v1h-1zM75 158h1v1h-1zM75 164h1v1h-1zM76 5h1v1h-1zM77 0h1v1h-1zM77 26h1v1h-1zM77 32h1v1h-1zM77 68h1v1h-1zM77 74h1v1h-1zM77 151h1v1h-1zM77 157h1v1h-1zM78 159h1v1h-1zM78 165h1v1h-1zM79 0h1v1h-1zM79 6h1v1h-1zM79 198h1v2h-1zM80 96h1v1h-1zM80 102h1v1h-1zM81 51h1v1h-1zM81 57h1v1h-1zM81 166h1v1h-1zM81 172h1v1h-1zM82 107h1v1h-1zM82 113h1v1h-1zM82 175h1v1h-1zM82 181h1v1h-1zM85 87h1v1h-1zM85 93h1v1h-1zM86 25h1v1h-1zM86 31h1v1h-1zM87 46h1v1h-1zM87 52h1v1h-1zM87 69h1v1h-1zM87 75h1v1h-1zM87 92h1v1h-1zM87 98h1v1h-1zM87 151h1v1h-1zM87 157h1v1h-1zM88 1h1v1h-1zM88 7h1v1h-1zM88 156h1v1h-1zM88 162h1v1h-1zM89 20h1v1h-1zM89 26h1v1h-1zM89 80h1v1h-1zM89 86h1v1h-1zM90 3h1v1h-1zM91 1h1v1h-1zM91 7h1v1h-1zM91 134h1v1h-1zM91 140h1v1h-1zM92 55h1v1h-1zM92 61h1v1h-1zM92 172h1v1h-1zM92 178h1v1h-1zM92 195h1v1h-1zM93 20h1v1h-1zM93 26h1v1h-1zM93 159h1v1h-1zM93 165h1v1h-1zM93 198h1v2h-1zM94 38h1v1h-1zM94 44h1v1h-1zM94 83h1v1h-1zM94 89h1v1h-1zM94 114h1v1h-1zM94 120h1v1h-1zM94 137h1v1h-1zM94 143h1v1h-1zM94 170h1v1h-1zM94 176h1v1h-1zM95 46h1v1h-1zM95 52h1v1h-1zM95 131h1v1h-1zM95 137h1v1h-1zM95 160h1v1h-1zM95 166h1v1h-1zM96 31h1v1h-1zM96 37h1v1h-1zM96 97h1v1h-1zM96 103h1v1h-1zM96 133h1v1h-1zM96 139h1v1h-1zM96 198h1v2h-1zM97 34h1v1h-1zM97 40h1v1h-1zM97 134h1v1h-1zM97 140h1v1h-1zM97 157h1v1h-1zM97 163h1v1h-1zM97 189h1v1h-1zM97 195h1v1h-1zM98 47h1v1h-1zM98 53h1v1h-1zM98 183h1v1h-1zM98 189h1v1h-1zM99 21h1v1h-1zM99 27h1v1h-1zM99 78h1v1h-1zM99 84h1v1h-1zM99 108h1v1h-1zM99 114h1v1h-1zM99 191h1v1h-1zM100 118h1v1h-1zM100 124h1v1h-1zM100 177h1v1h-1zM100 183h1v1h-1zM101 7h1v1h-1zM101 13h1v1h-1zM101 136h1v1h-1zM101 142h1v1h-1zM101 183h1v1h-1zM101 189h1v1h-1zM102 101h1v1h-1zM102 107h1v1h-1zM102 137h1v1h-1zM102 143h1v1h-1zM102 190h1v1h-1zM102 196h1v1h-1zM103 24h1v1h-1zM103 30h1v1h-1zM103 70h1v1h-1zM103 76h1v1h-1zM104 3h1v1h-1zM104 72h1v1h-1zM104 78h1v1h-1zM104 181h1v1h-1zM104 187h1v1h-1zM105 85h1v1h-1zM105 91h1v1h-1zM106 69h1v1h-1zM106 75h1v1h-1zM106 111h1v1h-1zM106 117h1v1h-1zM106 151h1v1h-1zM106 157h1v1h-1zM106 174h1v1h-1zM106 180h1v1h-1zM107 67h1v1h-1zM107 73h1v1h-1zM107 110h1v1h-1zM107 116h1v1h-1zM107 146h1v1h-1zM107 152h1v1h-1zM108 34h1v1h-1zM108 40h1v1h-1zM108 66h1v1h-1zM108 72h1v1h-1zM108 155h1v1h-1zM108 161h1v1h-1zM109 2h1v1h-1zM109 69h1v1h-1zM109 75h1v1h-1zM110 5h1v1h-1zM110 11h1v1h-1zM110 99h1v1h-1zM110 105h1v1h-1zM110 179h1v1h-1zM110 185h1v1h-1zM111 45h1v1h-1zM111 51h1v1h-1zM113 4h1v1h-1zM113 58h1v1h-1zM113 64h1v1h-1zM113 149h1v1h-1zM113 155h1v1h-1zM113 174h1v1h-1zM113 180h1v1h-1zM114 6h1v1h-1zM114 12h1v1h-1zM114 78h1v1h-1zM114 84h1v1h-1zM115 19h1v1h-1zM115 25h1v1h-1zM115 53h1v1h-1zM115 59h1v1h-1zM115 185h1v1h-1zM115 191h1v1h-1zM116 164h1v1h-1zM116 170h1v1h-1zM117 85h1v1h-1zM117 91h1v1h-1zM117 123h1v1h-1zM117 129h1v1h-1zM117 170h1v1h-1zM117 176h1v1h-1zM119 2h1v1h-1zM119 8h1v1h-1zM119 106h1v1h-1zM119 112h1v1h-1zM119 164h1v1h-1zM119 170h1v1h-1zM120 95h1v1h-1zM120 101h1v1h-1zM120 193h1v1h-1zM121 38h1v1h-1zM121 44h1v1h-1zM121 120h1v1h-1zM121 126h1v1h-1zM121 184h1v1h-1zM121 190h1v1h-1zM122 51h1v1h-1zM122 57h1v1h-1zM122 129h1v1h-1zM122 135h1v1h-1zM124 101h1v1h-1zM124 107h1v1h-1zM125 9h1v1h-1zM125 15h1v1h-1zM127 139h1v1h-1zM127 145h1v1h-1zM128 4h1v1h-1zM128 26h1v1h-1zM128 32h1v1h-1zM128 73h1v1h-1zM128 79h1v1h-1zM128 184h1v1h-1zM128 190h1v1h-1zM129 27h1v1h-1zM129 33h1v1h-1zM129 61h1v1h-1zM129 67h1v1h-1zM129 89h1v1h-1zM129 95h1v1h-1zM129 122h1v1h-1zM129 128h1v1h-1zM129 172h1v1h-1zM129 178h1v1h-1zM130 15h1v1h-1zM130 21h1v1h-1zM130 49h1v1h-1zM130 55h1v1h-1zM130 87h1v1h-1zM130 93h1v1h-1zM131 70h1v1h-1zM131 76h1v1h-1zM131 102h1v1h-1zM131 108h1v1h-1zM131 143h1v1h-1zM131 149h1v1h-1zM131 188h1v1h-1zM131 194h1v1h-1zM132 52h1v1h-1zM132 58h1v1h-1zM132 76h1v1h-1zM132 82h1v1h-1zM133 26h1v1h-1zM133 32h1v1h-1zM133 72h1v1h-1zM133 78h1v1h-1zM133 154h1v1h-1zM133 160h1v1h-1zM134 23h1v1h-1zM134 29h1v1h-1zM134 73h1v1h-1zM134 79h1v1h-1zM134 129h1v1h-1zM134 135h1v1h-1zM134 187h1v1h-1zM134 193h1v1h-1zM135 101h1v1h-1zM135 107h1v1h-1zM136 9h1v1h-1zM136 15h1v1h-1zM136 115h1v1h-1zM136 121h1v1h-1zM137 123h1v1h-1zM137 129h1v1h-1zM137 149h1v1h-1zM137 155h1v1h-1zM138 96h1v1h-1zM138 102h1v1h-1zM138 121h1v1h-1zM138 127h1v1h-1zM139 95h1v1h-1zM139 101h1v1h-1zM140 0h1v1h-1zM140 6h1v1h-1zM140 84h1v1h-1zM140 90h1v1h-1zM140 146h1v1h-1zM140 152h1v1h-1zM140 169h1v1h-1zM140 175h1v1h-1zM141 1h1v1h-1zM141 118h1v1h-1zM141 124h1v1h-1zM142 77h1v1h-1zM142 83h1v1h-1zM142 172h1v1h-1zM142 178h1v1h-1zM143 42h1v1h-1zM143 48h1v1h-1zM143 71h1v1h-1zM143 77h1v1h-1zM143 101h1v1h-1zM143 107h1v1h-1zM144 34h1v1h-1zM144 40h1v1h-1zM144 83h1v1h-1zM144 89h1v1h-1zM144 105h1v1h-1zM144 111h1v1h-1zM144 186h1v1h-1zM144 192h1v1h-1zM145 3h1v1h-1zM145 9h1v1h-1zM145 67h1v1h-1zM145 73h1v1h-1zM145 106h1v1h-1zM145 112h1v1h-1zM145 134h1v1h-1zM145 140h1v1h-1zM145 166h1v1h-1zM145 172h1v1h-1zM146 42h1v1h-1zM146 48h1v1h-1zM146 123h1v1h-1zM146 129h1v1h-1zM146 186h1v1h-1zM146 192h1v1h-1zM147 37h1v1h-1zM147 43h1v1h-1zM147 76h1v1h-1zM147 82h1v1h-1zM147 173h1v1h-1zM147 179h1v1h-1zM148 21h1v1h-1zM148 27h1v1h-1zM148 51h1v1h-1zM148 57h1v1h-1zM148 103h1v1h-1zM148 109h1v1h-1zM148 127h1v1h-1zM148 133h1v1h-1zM148 154h1v1h-1zM148 160h1v1h-1zM149 26h1v1h-1zM149 32h1v1h-1zM149 72h1v1h-1zM149 78h1v1h-1zM150 58h1v1h-1zM150 64h1v1h-1zM151 58h1v1h-1zM151 64h1v1h-1zM151 110h1v1h-1zM151 116h1v1h-1zM151 181h1v1h-1zM151 187h1v1h-1zM152 57h1v1h-1zM152 63h1v1h-1zM152 80h1v1h-1zM152 86h1v1h-1zM152 104h1v1h-1zM152 110h1v1h-1zM152 131h1v1h-1zM152 137h1v1h-1zM153 131h1v1h-1zM153 137h1v1h-1zM154 64h1v1h-1zM154 70h1v1h-1zM154 93h1v1h-1zM154 99h1v1h-1zM154 124h1v1h-1zM154 130h1v1h-1zM155 53h1v1h-1zM155 59h1v1h-1zM155 131h1v1h-1zM155 137h1v1h-1zM155 188h1v1h-1zM155 194h1v1h-1zM156 85h1v1h-1zM156 91h1v1h-1zM156 138h1v1h-1zM156 144h1v1h-1zM156 182h1v1h-1zM156 188h1v1h-1zM156 198h1v2h-1zM157 25h1v1h-1zM157 31h1v1h-1zM158 118h1v1h-1zM158 124h1v1h-1zM159 53h1v1h-1zM159 59h1v1h-1zM159 106h1v1h-1zM159 112h1v1h-1zM159 136h1v1h-1zM159 142h1v1h-1zM159 158h1v1h-1zM159 164h1v1h-1zM160 0h1v1h-1zM160 6h1v1h-1zM160 73h1v1h-1zM160 79h1v1h-1zM160 105h1v1h-1zM160 111h1v1h-1zM160 136h1v1h-1zM160 142h1v1h-1zM161 42h1v1h-1zM161 48h1v1h-1zM161 104h1v1h-1zM161 110h1v1h-1zM161 141h1v1h-1zM161 147h1v1h-1zM161 173h1v1h-1zM161 179h1v1h-1zM161 192h1v1h-1zM162 141h1v1h-1zM162 147h1v1h-1zM162 198h1v2h-1zM163 76h1v1h-1zM163 82h1v1h-1zM163 100h1v1h-1zM163 106h1v1h-1zM163 124h1v1h-1zM163 130h1v1h-1zM163 168h1v1h-1zM163 174h1v1h-1zM164 136h1v1h-1zM164 142h1v1h-1zM164 166h1v1h-1zM164 172h1v1h-1zM165 68h1v1h-1zM165 74h1v1h-1zM165 117h1v1h-1zM165 123h1v1h-1zM165 172h1v1h-1zM165 178h1v1h-1zM166 13h1v1h-1zM166 19h1v1h-1zM166 165h1v1h-1zM166 171h1v1h-1zM167 20h1v1h-1zM167 26h1v1h-1zM167 83h1v1h-1zM167 89h1v1h-1zM168 23h1v1h-1zM168 29h1v1h-1zM168 85h1v1h-1zM168 91h1v1h-1zM168 111h1v1h-1zM168 117h1v1h-1zM169 3h1v1h-1zM169 9h1v1h-1zM169 21h1v1h-1zM169 27h1v1h-1zM169 115h1v1h-1zM169 121h1v1h-1zM170 2h1v1h-1zM170 20h1v1h-1zM170 26h1v1h-1zM170 68h1v1h-1zM170 74h1v1h-1zM170 115h1v1h-1zM170 121h1v1h-1zM170 166h1v1h-1zM170 172h1v1h-1zM171 13h1v1h-1zM171 19h1v1h-1zM171 114h1v1h-1zM171 120h1v1h-1zM171 138h1v1h-1zM171 144h1v1h-1zM171 165h1v1h-1zM171 171h1v1h-1zM172 13h1v1h-1zM172 19h1v1h-1zM172 67h1v1h-1zM172 73h1v1h-1zM172 119h1v1h-1zM172 125h1v1h-1zM172 161h1v1h-1zM172 167h1v1h-1zM173 22h1v1h-1zM173 28h1v1h-1zM173 120h1v1h-1zM173 126h1v1h-1zM173 148h1v1h-1zM173 154h1v1h-1zM173 171h1v1h-1zM173 177h1v1h-1zM174 54h1v1h-1zM174 60h1v1h-1zM174 84h1v1h-1zM174 90h1v1h-1zM174 124h1v1h-1zM174 130h1v1h-1zM175 58h1v1h-1zM175 64h1v1h-1zM175 89h1v1h-1zM175 95h1v1h-1zM175 136h1v1h-1zM175 142h1v1h-1zM175 187h1v1h-1zM175 193h1v1h-1zM176 0h1v1h-1zM176 6h1v1h-1zM176 25h1v1h-1zM176 31h1v1h-1zM176 56h1v1h-1zM176 62h1v1h-1zM176 79h1v1h-1zM176 85h1v1h-1zM176 198h1v2h-1zM177 2h1v1h-1zM177 8h1v1h-1zM177 62h1v1h-1zM177 68h1v1h-1zM177 126h1v1h-1zM177 132h1v1h-1zM177 148h1v1h-1zM177 154h1v1h-1zM178 9h1v1h-1zM178 15h1v1h-1zM178 129h1v1h-1zM178 135h1v1h-1zM178 191h1v1h-1zM179 16h1v1h-1zM179 22h1v1h-1zM179 103h1v1h-1zM179 109h1v1h-1zM179 159h1v1h-1zM179 165h1v1h-1zM179 179h1v1h-1zM179 185h1v1h-1zM180 65h1v1h-1zM180 71h1v1h-1zM180 97h1v1h-1zM180 103h1v1h-1zM180 120h1v1h-1zM180 126h1v1h-1zM181 64h1v1h-1zM181 70h1v1h-1zM181 95h1v1h-1zM181 101h1v1h-1zM181 144h1v1h-1zM181 150h1v1h-1zM182 11h1v1h-1zM182 17h1v1h-1zM182 28h1v1h-1zM182 34h1v1h-1zM182 69h1v1h-1zM182 75h1v1h-1zM182 179h1v1h-1zM182 185h1v1h-1zM183 118h1v1h-1zM183 124h1v1h-1zM183 162h1v1h-1zM183 168h1v1h-1zM183 181h1v1h-1zM183 187h1v1h-1zM183 198h1v2h-1zM184 181h1v1h-1zM184 187h1v1h-1zM185 12h1v1h-1zM185 18h1v1h-1zM185 43h1v1h-1zM185 49h1v1h-1zM185 132h1v1h-1zM185 138h1v1h-1zM186 5h1v1h-1zM186 11h1v1h-1zM186 39h1v1h-1zM186 45h1v1h-1zM186 114h1v1h-1zM186 120h1v1h-1zM186 133h1v1h-1zM186 139h1v1h-1zM187 29h1v1h-1zM187 35h1v1h-1zM187 56h1v1h-1zM187 62h1v1h-1zM187 140h1v1h-1zM187 146h1v1h-1zM187 160h1v1h-1zM187 166h1v1h-1zM187 180h1v1h-1zM187 186h1v1h-1zM188 14h1v1h-1zM188 20h1v1h-1zM188 40h1v1h-1zM188 46h1v1h-1zM188 61h1v1h-1zM188 67h1v1h-1zM188 109h1v1h-1zM188 115h1v1h-1zM188 160h1v1h-1zM188 166h1v1h-1zM189 92h1v1h-1zM189 98h1v1h-1zM189 144h1v1h-1zM189 150h1v1h-1zM189 166h1v1h-1zM189 172h1v1h-1zM190 3h1v1h-1zM190 9h1v1h-1zM190 46h1v1h-1zM190 52h1v1h-1zM190 73h1v1h-1zM190 79h1v1h-1zM190 187h1v1h-1zM190 193h1v1h-1zM191 46h1v1h-1zM191 52h1v1h-1zM191 104h1v1h-1zM191 110h1v1h-1zM191 130h1v1h-1zM191 136h1v1h-1zM192 22h1v1h-1zM192 28h1v1h-1zM193 15h1v1h-1zM193 21h1v1h-1zM193 34h1v1h-1zM193 40h1v1h-1zM193 64h1v1h-1zM193 70h1v1h-1zM193 135h1v1h-1zM193 141h1v1h-1zM193 176h1v1h-1zM193 182h1v1h-1zM194 18h1v1h-1zM194 24h1v1h-1zM194 85h1v1h-1zM194 91h1v1h-1zM194 132h1v1h-1zM194 138h1v1h-1zM195 23h1v1h-1zM195 29h1v1h-1zM195 135h1v1h-1zM195 141h1v1h-1zM195 165h1v1h-1zM195 171h1v1h-1zM196 21h1v1h-1zM196 27h1v1h-1zM196 184h1v1h-1zM196 190h1v1h-1zM197 173h1v1h-1zM197 179h1v1h-1zM198 72h1v1h-1zM198 78h1v1h-1zM198 91h1v1h-1zM198 97h1v1h-1zM198 166h1v1h-1zM198 172h1v1h-1zM198 198h1v2h-1zM199 30h1v1h-1zM199 36h1v1h-1zM199 73h1v1h-1zM199 79h1v1h-1z"/>
<path fill="#f2c26b" d="M9 198h1v2h-1zM12 198h1v2h-1zM16 198h1v2h-1zM19 198h1v2h-1zM20 198h1v2h-1zM43 198h1v2h-1zM63 198h1v2h-1zM69 198h1v2h-1zM75 198h1v2h-1zM91 198h1v2h-1zM98 198h1v2h-1zM120 198h1v2h-1zM136 198h1v2h-1zM138 198h1v2h-1zM139 198h1v2h-1zM142 198h1v2h-1zM158 198h1v2h-1zM177 198h1v2h-1zM197 198h1v2h-1zM199 198h1v2h-1z"/>
<path fill="#ffa558" d="M0 177h1v5h-1zM1 177h1v5h-1zM3 198h1v2h-1zM5 100h1v5h-1zM7 39h1v5h-1zM8 64h1v5h-1zM11 168h1v5h-1zM14 103h1v5h-1zM14 193h1v5h-1zM15 179h1v5h-1zM16 194h1v4h-1zM17 158h1v5h-1zM18 42h1v5h-1zM19 50h1v5h-1zM21 127h1v5h-1zM25 24h1v5h-1zM25 80h1v5h-1zM25 131h1v5h-1zM27 5h1v5h-1zM27 143h1v5h-1zM28 55h1v5h-1zM29 76h1v5h-1zM29 154h1v5h-1zM30 198h1v2h-1zM32 2h1v5h-1zM33 29h1v5h-1zM33 130h1v5h-1zM36 95h1v5h-1zM36 160h1v5h-1zM38 194h1v3h-1zM39 77h1v5h-1zM39 198h1v2h-1zM40 65h1v5h-1zM40 134h1v5h-1zM40 159h1v5h-1zM45 0h1v5h-1zM46 80h1v5h-1zM48 106h1v5h-1zM50 18h1v5h-1zM50 122h1v5h-1zM51 15h1v5h-1zM52 55h1v5h-1zM53 106h1v5h-1zM54 81h1v5h-1zM54 133h1v5h-1zM54 196h1v2h-1zM55 78h1v1h-1zM55 113h1v1h-1zM55 179h1v1h-1zM55 198h1v2h-1zM62 198h1v2h-1zM64 174h1v5h-1zM66 183h1v5h-1zM67 105h1v5h-1zM67 151h1v5h-1zM70 59h1v5h-1zM71 35h1v5h-1zM72 133h1v5h-1zM74 81h1v5h-1zM74 153h1v5h-1zM75 127h1v5h-1zM76 57h1v5h-1zM76 121h1v5h-1zM77 121h1v5h-1zM78 131h1v5h-1zM79 47h1v5h-1zM79 122h1v5h-1zM83 70h1v5h-1zM86 90h1v5h-1zM87 196h1v2h-1zM89 170h1v5h-1zM91 192h1v5h-1zM92 0h1v4h-1zM92 83h1v5h-1zM93 46h1v5h-1zM93 81h1v5h-1zM93 189h1v5h-1zM94 8h1v5h-1zM95 13h1v5h-1zM95 84h1v5h-1zM100 1h1v5h-1zM101 103h1v5h-1zM103 98h1v5h-1zM103 134h1v5h-1zM105 119h1v5h-1zM106 1h1v5h-1zM107 36h1v5h-1zM111 86h1v5h-1zM112 49h1v5h-1zM115 198h1v2h-1zM116 198h1v2h-1zM119 198h1v2h-1zM121 90h1v5h-1zM122 11h1v5h-1zM122 189h1v5h-1zM123 50h1v5h-1zM123 114h1v5h-1zM123 163h1v5h-1zM123 198h1v2h-1zM126 94h1v5h-1zM126 159h1v5h-1zM130 183h1v5h-1zM131 42h1v5h-1zM131 198h1v2h-1zM132 135h1v5h-1zM135 23h1v5h-1zM138 152h1v5h-1zM141 72h1v5h-1zM141 97h1v5h-1zM141 198h1v2h-1zM142 148h1v5h-1zM143 171h1v5h-1zM144 144h1v5h-1zM147 102h1v5h-1zM149 137h1v5h-1zM150 152h1v5h-1zM153 83h1v5h-1zM156 51h1v5h-1zM157 86h1v5h-1zM157 155h1v5h-1zM158 192h1v5h-1zM159 19h1v5h-1zM159 193h1v5h-1zM160 38h1v5h-1zM160 170h1v5h-1zM161 0h1v2h-1zM162 76h1v5h-1zM162 97h1v5h-1zM162 160h1v5h-1zM164 73h1v5h-1zM167 45h1v5h-1zM167 64h1v5h-1zM167 111h1v5h-1zM167 129h1v5h-1zM168 154h1v5h-1zM168 172h1v5h-1zM169 71h1v5h-1zM169 166h1v5h-1zM173 72h1v5h-1zM173 91h1v5h-1zM174 18h1v5h-1zM176 125h1v5h-1zM176 182h1v5h-1zM177 84h1v5h-1zM178 44h1v5h-1zM179 39h1v5h-1zM179 135h1v5h-1zM179 198h1v2h-1zM180 13h1v5h-1zM180 34h1v5h-1zM180 161h1v5h-1zM181 0h1v5h-1zM181 28h1v5h-1zM182 129h1v5h-1zM183 17h1v5h-1zM183 49h1v5h-1zM183 75h1v5h-1zM184 7h1v5h-1zM184 69h1v5h-1zM184 121h1v5h-1zM184 160h1v5h-1zM189 14h1v5h-1zM189 53h1v5h-1zM189 198h1v2h-1zM190 111h1v5h-1zM190 134h1v5h-1zM190 152h1v5h-1zM191 64h1v5h-1zM192 40h1v5h-1zM192 57h1v5h-1zM192 112h1v5h-1zM192 135h1v5h-1zM194 187h1v5h-1zM195 183h1v5h-1zM196 63h1v5h-1zM196 140h1v5h-1zM196 198h1v2h-1zM197 143h1v5h-1zM198 133h1v5h-1zM199 148h1v5h-1z"/>
<path fill="#ff8444" d="M0 12h1v5h-1zM0 96h1v5h-1zM1 3h1v5h-1zM1 27h1v5h-1zM2 11h1v5h-1zM2 183h1v5h-1zM3 5h1v5h-1zM3 74h1v5h-1zM3 194h1v4h-1zM4 0h1v5h-1zM4 155h1v5h-1zM4 194h1v3h-1zM5 70h1v5h-1zM5 182h1v5h-1zM6 65h1v5h-1zM6 180h1v5h-1zM7 62h1v5h-1zM7 150h1v5h-1zM8 19h1v5h-1zM8 95h1v5h-1zM8 149h1v5h-1zM9 20h1v5h-1zM9 65h1v5h-1zM10 52h1v5h-1zM10 86h1v5h-1zM11 20h1v5h-1zM12 50h1v5h-1zM13 25h1v5h-1zM13 69h1v5h-1zM13 154h1v5h-1zM13 191h1v5h-1zM14 162h1v5h-1zM16 14h1v5h-1zM16 74h1v5h-1zM17 194h1v3h-1zM18 108h1v5h-1zM19 5h1v5h-1zM19 96h1v5h-1zM19 187h1v5h-1zM20 65h1v5h-1zM20 104h1v5h-1zM20 193h1v5h-1zM21 2h1v5h-1zM21 63h1v5h-1zM21 178h1v5h-1zM22 3h1v5h-1zM22 119h1v5h-1zM23 78h1v5h-1zM23 147h1v5h-1zM24 20h1v5h-1zM24 83h1v5h-1zM24 140h1v5h-1zM25 48h1v5h-1zM26 13h1v5h-1zM26 142h1v5h-1zM26 178h1v5h-1zM27 43h1v5h-1zM27 186h1v5h-1zM28 8h1v5h-1zM29 20h1v5h-1zM29 99h1v5h-1zM30 47h1v5h-1zM30 86h1v5h-1zM30 124h1v5h-1zM31 46h1v5h-1zM31 126h1v5h-1zM32 34h1v5h-1zM32 76h1v5h-1zM33 181h1v5h-1zM34 34h1v5h-1zM35 38h1v5h-1zM35 67h1v5h-1zM35 92h1v5h-1zM36 132h1v5h-1zM37 106h1v5h-1zM37 186h1v5h-1zM38 9h1v5h-1zM38 91h1v5h-1zM39 11h1v5h-1zM39 101h1v5h-1zM39 149h1v5h-1zM39 194h1v3h-1zM41 120h1v5h-1zM42 38h1v5h-1zM42 86h1v5h-1zM42 115h1v5h-1zM42 152h1v5h-1zM44 1h1v5h-1zM44 24h1v5h-1zM44 119h1v5h-1zM45 56h1v5h-1zM45 140h1v5h-1zM46 192h1v5h-1zM47 48h1v5h-1zM47 99h1v5h-1zM47 167h1v5h-1zM48 44h1v5h-1zM48 168h1v5h-1zM49 92h1v5h-1zM49 190h1v5h-1zM50 84h1v5h-1zM50 145h1v5h-1zM51 61h1v5h-1zM51 100h1v5h-1zM51 148h1v5h-1zM52 24h1v5h-1zM52 95h1v5h-1zM52 136h1v5h-1zM53 20h1v5h-1zM53 43h1v5h-1zM53 136h1v5h-1zM53 193h1v4h-1zM54 37h1v5h-1zM55 1h1v1h-1zM55 16h1v1h-1zM55 18h1v2h-1zM55 21h1v1h-1zM55 36h1v1h-1zM55 38h1v1h-1zM55 54h1v3h-1zM55 61h1v1h-1zM55 76h1v2h-1zM55 81h1v2h-1zM55 100h1v1h-1zM55 102h1v1h-1zM55 115h1v1h-1zM55 117h1v1h-1zM55 131h1v1h-1zM55 133h1v6h-1zM55 152h1v2h-1zM55 171h1v3h-1zM55 175h1v1h-1zM55 177h1v2h-1zM56 196h1v1h-1zM57 4h1v5h-1zM57 43h1v5h-1zM58 89h1v5h-1zM58 147h1v5h-1zM59 41h1v5h-1zM60 153h1v5h-1zM61 18h1v1h-1zM61 24h1v2h-1zM61 89h1v1h-1zM61 91h1v1h-1zM61 121h1v2h-1zM61 142h1v1h-1zM61 149h1v1h-1zM61 168h1v1h-1zM61 190h1v1h-1zM61 196h1v1h-1zM62 134h1v5h-1zM63 131h1v5h-1zM65 187h1v5h-1zM67 70h1v5h-1zM68 47h1v5h-1zM68 145h1v5h-1zM69 28h1v5h-1zM69 189h1v5h-1zM70 11h1v5h-1zM70 89h1v5h-1zM70 119h1v5h-1zM70 173h1v5h-1zM71 129h1v5h-1zM72 25h1v5h-1zM73 20h1v5h-1zM75 159h1v5h-1zM76 0h1v5h-1zM77 27h1v5h-1zM77 69h1v5h-1zM77 152h1v5h-1zM78 160h1v5h-1zM80 97h1v5h-1zM81 52h1v5h-1zM82 108h1v5h-1zM85 88h1v5h-1zM86 26h1v5h-1zM87 47h1v5h-1zM87 70h1v5h-1zM87 93h1v5h-1zM87 152h1v5h-1zM88 157h1v5h-1zM89 21h1v5h-1zM89 81h1v5h-1zM90 0h1v3h-1zM91 2h1v5h-1zM91 135h1v5h-1zM92 56h1v5h-1zM92 173h1v5h-1zM92 196h1v2h-1zM93 21h1v5h-1zM93 160h1v5h-1zM94 39h1v5h-1zM94 84h1v5h-1zM94 115h1v5h-1zM94 138h1v5h-1zM94 171h1v5h-1zM95 132h1v5h-1zM95 161h1v5h-1zM96 32h1v5h-1zM96 134h1v5h-1zM97 35h1v5h-1zM97 135h1v5h-1zM97 158h1v5h-1zM97 190h1v5h-1zM98 184h1v5h-1zM99 22h1v5h-1zM99 109h1v5h-1zM99 192h1v5h-1zM100 119h1v5h-1zM101 8h1v5h-1zM101 137h1v5h-1zM101 184h1v5h-1zM102 102h1v5h-1zM102 191h1v5h-1zM103 25h1v5h-1zM103 71h1v5h-1zM104 73h1v5h-1zM104 182h1v5h-1zM105 86h1v5h-1zM106 112h1v5h-1zM106 152h1v5h-1zM106 175h1v5h-1zM107 147h1v5h-1zM108 35h1v5h-1zM108 67h1v5h-1zM109 70h1v5h-1zM110 6h1v5h-1zM110 100h1v5h-1zM110 180h1v5h-1zM111 46h1v5h-1zM113 0h1v4h-1zM113 59h1v5h-1zM113 150h1v5h-1zM114 7h1v5h-1zM114 79h1v5h-1zM115 54h1v5h-1zM115 186h1v5h-1zM116 165h1v5h-1zM117 124h1v5h-1zM117 171h1v5h-1zM119 3h1v5h-1zM119 107h1v5h-1zM119 165h1v5h-1zM120 96h1v5h-1zM120 194h1v3h-1zM121 39h1v5h-1zM121 121h1v5h-1zM121 185h1v5h-1zM122 52h1v5h-1zM124 102h1v5h-1zM125 10h1v5h-1zM128 0h1v4h-1zM128 27h1v5h-1zM128 74h1v5h-1zM128 185h1v5h-1zM129 28h1v5h-1zM129 90h1v5h-1zM129 173h1v5h-1zM130 16h1v5h-1zM130 50h1v5h-1zM131 71h1v5h-1zM131 103h1v5h-1zM131 144h1v5h-1zM131 189h1v5h-1zM132 53h1v5h-1zM132 77h1v5h-1zM133 27h1v5h-1zM133 73h1v5h-1zM133 155h1v5h-1zM134 74h1v5h-1zM134 130h1v5h-1zM134 188h1v5h-1zM135 102h1v5h-1zM136 10h1v5h-1zM136 116h1v5h-1zM137 124h1v5h-1zM137 150h1v5h-1zM138 97h1v5h-1zM139 96h1v5h-1zM140 147h1v5h-1zM140 170h1v5h-1zM141 0h1v1h-1zM141 119h1v5h-1zM142 78h1v5h-1zM142 173h1v5h-1zM143 72h1v5h-1zM143 102h1v5h-1zM144 35h1v5h-1zM144 84h1v5h-1zM144 106h1v5h-1zM144 187h1v5h-1zM145 4h1v5h-1zM145 68h1v5h-1zM145 107h1v5h-1zM145 135h1v5h-1zM145 167h1v5h-1zM146 43h1v5h-1zM146 124h1v5h-1zM146 187h1v5h-1zM147 38h1v5h-1zM147 174h1v5h-1zM148 22h1v5h-1zM148 52h1v5h-1zM148 104h1v5h-1zM148 128h1v5h-1zM148 155h1v5h-1zM149 27h1v5h-1zM150 59h1v5h-1zM151 59h1v5h-1zM151 111h1v5h-1zM151 182h1v5h-1zM152 58h1v5h-1zM152 81h1v5h-1zM152 105h1v5h-1zM152 132h1v5h-1zM153 132h1v5h-1zM154 65h1v5h-1zM154 94h1v5h-1zM154 125h1v5h-1zM155 54h1v5h-1zM155 132h1v5h-1zM156 86h1v5h-1zM156 139h1v5h-1zM157 26h1v5h-1zM158 119h1v5h-1zM159 54h1v5h-1zM159 107h1v5h-1zM159 137h1v5h-1zM159 159h1v5h-1zM160 1h1v5h-1zM160 74h1v5h-1zM160 106h1v5h-1zM160 137h1v5h-1zM161 43h1v5h-1zM161 105h1v5h-1zM161 142h1v5h-1zM161 174h1v5h-1zM161 193h1v5h-1zM162 142h1v5h-1zM163 77h1v5h-1zM163 125h1v5h-1zM163 169h1v5h-1zM164 137h1v5h-1zM164 167h1v5h-1zM165 69h1v5h-1zM165 118h1v5h-1zM165 173h1v5h-1zM166 14h1v5h-1zM166 166h1v5h-1zM167 84h1v5h-1zM167 198h1v2h-1zM168 86h1v5h-1zM168 112h1v5h-1zM169 4h1v5h-1zM169 22h1v5h-1zM169 116h1v5h-1zM170 0h1v2h-1zM170 69h1v5h-1zM170 116h1v5h-1zM170 167h1v5h-1zM171 14h1v5h-1zM171 115h1v5h-1zM171 139h1v5h-1zM171 166h1v5h-1zM172 14h1v5h-1zM172 68h1v5h-1zM172 120h1v5h-1zM172 162h1v5h-1zM173 23h1v5h-1zM173 121h1v5h-1zM173 149h1v5h-1zM173 172h1v5h-1zM174 125h1v5h-1zM175 59h1v5h-1zM175 137h1v5h-1zM175 188h1v5h-1zM176 26h1v5h-1zM176 57h1v5h-1zM176 80h1v5h-1zM177 3h1v5h-1zM177 63h1v5h-1zM177 127h1v5h-1zM177 149h1v5h-1zM178 10h1v5h-1zM178 130h1v5h-1zM178 192h1v5h-1zM179 104h1v5h-1zM179 160h1v5h-1zM179 180h1v5h-1zM180 66h1v5h-1zM180 98h1v5h-1zM180 121h1v5h-1zM181 65h1v5h-1zM181 96h1v5h-1zM182 12h1v5h-1zM182 29h1v5h-1zM182 70h1v5h-1zM182 180h1v5h-1zM183 119h1v5h-1zM183 163h1v5h-1zM184 182h1v5h-1zM185 13h1v5h-1zM185 44h1v5h-1zM185 133h1v5h-1zM186 6h1v5h-1zM186 40h1v5h-1zM186 115h1v5h-1zM186 134h1v5h-1zM187 30h1v5h-1zM187 57h1v5h-1zM187 141h1v5h-1zM187 161h1v5h-1zM187 181h1v5h-1zM188 15h1v5h-1zM188 41h1v5h-1zM188 62h1v5h-1zM188 110h1v5h-1zM189 93h1v5h-1zM189 145h1v5h-1zM189 167h1v5h-1zM190 4h1v5h-1zM190 47h1v5h-1zM190 74h1v5h-1zM190 188h1v5h-1zM191 47h1v5h-1zM191 105h1v5h-1zM191 131h1v5h-1zM192 23h1v5h-1zM193 35h1v5h-1zM193 65h1v5h-1zM193 136h1v5h-1zM193 177h1v5h-1zM194 19h1v5h-1zM194 86h1v5h-1zM194 133h1v5h-1zM195 24h1v5h-1zM195 136h1v5h-1zM195 166h1v5h-1zM196 22h1v5h-1zM196 185h1v5h-1zM197 174h1v5h-1zM198 73h1v5h-1zM198 92h1v5h-1zM198 167h1v5h-1zM199 31h1v5h-1zM199 74h1v5h-1z"/>
<path fill="#ff5f30" d="M5 8h1v5h-1zM6 130h1v5h-1zM9 104h1v5h-1zM10 151h1v5h-1zM12 138h1v5h-1zM18 169h1v5h-1zM23 18h1v5h-1zM23 50h1v5h-1zM37 156h1v5h-1zM38 167h1v5h-1zM45 195h1v2h-1zM46 133h1v5h-1zM47 128h1v5h-1zM55 0h1v1h-1zM55 3h1v1h-1zM55 20h1v1h-1zM55 22h1v2h-1zM55 37h1v1h-1zM55 40h1v2h-1zM55 57h1v2h-1zM55 75h1v1h-1zM55 80h1v1h-1zM55 83h1v1h-1zM55 98h1v2h-1zM55 112h1v1h-1zM55 114h1v1h-1zM55 118h1v1h-1zM55 130h1v1h-1zM55 154h1v4h-1zM55 174h1v1h-1zM55 176h1v1h-1zM57 89h1v5h-1zM57 112h1v5h-1zM60 111h1v5h-1zM61 0h1v1h-1zM61 16h1v1h-1zM61 22h1v2h-1zM61 26h1v2h-1zM61 42h1v4h-1zM61 47h1v5h-1zM61 65h1v5h-1zM61 71h1v1h-1zM61 88h1v1h-1zM61 92h1v2h-1zM61 95h1v3h-1zM61 116h1v2h-1zM61 119h1v1h-1zM61 124h1v1h-1zM61 145h1v1h-1zM61 147h1v1h-1zM61 150h1v2h-1zM61 169h1v2h-1zM61 172h1v1h-1zM61 174h1v1h-1zM61 176h1v1h-1zM61 192h1v1h-1zM61 194h1v1h-1zM61 197h1v1h-1zM63 11h1v5h-1zM65 0h1v4h-1zM65 117h1v5h-1zM66 81h1v5h-1zM71 5h1v5h-1zM71 106h1v5h-1zM79 1h1v5h-1zM81 167h1v5h-1zM82 176h1v5h-1zM88 2h1v5h-1zM95 47h1v5h-1zM96 98h1v5h-1zM98 48h1v5h-1zM99 79h1v5h-1zM100 178h1v5h-1zM102 138h1v5h-1zM104 0h1v3h-1zM106 70h1v5h-1zM107 68h1v5h-1zM107 111h1v5h-1zM108 156h1v5h-1zM109 0h1v2h-1zM113 175h1v5h-1zM115 20h1v5h-1zM117 86h1v5h-1zM122 130h1v5h-1zM127 140h1v5h-1zM129 62h1v5h-1zM129 123h1v5h-1zM130 88h1v5h-1zM134 24h1v5h-1zM138 122h1v5h-1zM140 1h1v5h-1zM140 85h1v5h-1zM143 43h1v5h-1zM147 77h1v5h-1zM149 73h1v5h-1zM155 189h1v5h-1zM156 183h1v5h-1zM163 101h1v5h-1zM167 21h1v5h-1zM168 24h1v5h-1zM170 21h1v5h-1zM174 55h1v5h-1zM174 85h1v5h-1zM175 90h1v5h-1zM176 1h1v5h-1zM179 17h1v5h-1zM181 145h1v5h-1zM183 182h1v5h-1zM188 161h1v5h-1zM193 16h1v5h-1z"/>
<path fill="#ff3b1e" d="M55 2h1v1h-1zM55 15h1v1h-1zM55 17h1v1h-1zM55 39h1v1h-1zM55 42h1v1h-1zM55 53h1v1h-1zM55 59h1v2h-1zM55 79h1v1h-1zM55 97h1v1h-1zM55 101h1v1h-1zM55 111h1v1h-1zM55 116h1v1h-1zM55 132h1v1h-1zM55 158h1v1h-1zM61 1h1v1h-1zM61 17h1v1h-1zM61 19h1v3h-1zM61 46h1v1h-1zM61 70h1v1h-1zM61 72h1v3h-1zM61 90h1v1h-1zM61 94h1v1h-1zM61 115h1v1h-1zM61 118h1v1h-1zM61 120h1v1h-1zM61 123h1v1h-1zM61 141h1v1h-1zM61 143h1v2h-1zM61 146h1v1h-1zM61 148h1v1h-1zM61 166h1v2h-1zM61 171h1v1h-1zM61 173h1v1h-1zM61 175h1v1h-1zM61 191h1v1h-1zM61 193h1v1h-1zM61 195h1v1h-1z"/>
</g></g></g>
<rect x="51.3" y="20.4" width="584.9" height="172.9" fill="none" stroke="#1a1a1a" stroke-width="0.8"/>
<line x1="517.2" y1="20.4" x2="517.2" y2="193.3" stroke="#101820" stroke-width="1.3"/>
<line x1="47.8" y1="193.3" x2="51.3" y2="193.3" stroke="#1a1a1a" stroke-width="0.8"/>
<text x="45.3" y="199" font-size="13.2" text-anchor="end" fill="#1a1a1a">0</text>
<line x1="47.8" y1="158.72" x2="51.3" y2="158.72" stroke="#1a1a1a" stroke-width="0.8"/>
<text x="45.3" y="164.42" font-size="13.2" text-anchor="end" fill="#1a1a1a">200</text>
<line x1="47.8" y1="124.14" x2="51.3" y2="124.14" stroke="#1a1a1a" stroke-width="0.8"/>
<text x="45.3" y="129.84" font-size="13.2" text-anchor="end" fill="#1a1a1a">400</text>
<line x1="47.8" y1="89.56" x2="51.3" y2="89.56" stroke="#1a1a1a" stroke-width="0.8"/>
<text x="45.3" y="95.26" font-size="13.2" text-anchor="end" fill="#1a1a1a">600</text>
<line x1="47.8" y1="54.98" x2="51.3" y2="54.98" stroke="#1a1a1a" stroke-width="0.8"/>
<text x="45.3" y="60.68" font-size="13.2" text-anchor="end" fill="#1a1a1a">800</text>
<line x1="47.8" y1="20.4" x2="51.3" y2="20.4" stroke="#1a1a1a" stroke-width="0.8"/>
<text x="45.3" y="26.1" font-size="13.2" text-anchor="end" fill="#1a1a1a">1000</text>
<line x1="51.3" y1="193.3" x2="51.3" y2="196.8" stroke="#1a1a1a" stroke-width="0.8"/>
<line x1="124.41" y1="193.3" x2="124.41" y2="196.8" stroke="#1a1a1a" stroke-width="0.8"/>
<line x1="197.53" y1="193.3" x2="197.53" y2="196.8" stroke="#1a1a1a" stroke-width="0.8"/>
<line x1="270.64" y1="193.3" x2="270.64" y2="196.8" stroke="#1a1a1a" stroke-width="0.8"/>
<line x1="343.75" y1="193.3" x2="343.75" y2="196.8" stroke="#1a1a1a" stroke-width="0.8"/>
<line x1="416.86" y1="193.3" x2="416.86" y2="196.8" stroke="#1a1a1a" stroke-width="0.8"/>
<line x1="489.98" y1="193.3" x2="489.98" y2="196.8" stroke="#1a1a1a" stroke-width="0.8"/>
<line x1="563.09" y1="193.3" x2="563.09" y2="196.8" stroke="#1a1a1a" stroke-width="0.8"/>
<line x1="636.2" y1="193.3" x2="636.2" y2="196.8" stroke="#1a1a1a" stroke-width="0.8"/>
<defs><clipPath id="hc2"><rect x="51.3" y="228.6" width="584.9" height="172.4"/></clipPath></defs>
<g clip-path="url(#hc2)"><g filter="url(#soft)">
<g transform="translate(51.3,228.6) scale(2.9245,0.862)" shape-rendering="crispEdges">
<rect x="-2" y="-3" width="204" height="206" fill="url(#nz)"/>
<path fill="#4062fa" d="M0 30h1v3h-1zM0 85h1v3h-1zM1 46h1v3h-1zM1 85h1v3h-1zM2 46h1v3h-1zM2 132h1v3h-1zM3 50h1v3h-1zM3 85h1v3h-1zM3 181h1v3h-1zM4 44h1v3h-1zM4 87h1v3h-1zM4 132h1v3h-1zM5 6h1v3h-1zM5 46h1v3h-1zM5 85h1v3h-1zM5 111h1v3h-1zM5 177h1v3h-1zM6 8h1v3h-1zM6 45h1v3h-1zM6 88h1v3h-1zM6 124h1v3h-1zM6 159h1v3h-1zM6 188h1v3h-1zM7 9h1v3h-1zM7 64h1v3h-1zM7 181h1v3h-1zM8 0h1v2h-1zM8 34h1v3h-1zM8 155h1v3h-1zM9 8h1v3h-1zM9 131h1v3h-1zM10 51h1v3h-1zM10 92h1v3h-1zM10 116h1v3h-1zM11 7h1v3h-1zM11 33h1v3h-1zM11 86h1v3h-1zM11 158h1v3h-1zM12 96h1v3h-1zM13 18h1v3h-1zM13 100h1v3h-1zM13 135h1v3h-1zM13 172h1v3h-1zM14 1h1v3h-1zM14 83h1v3h-1zM14 119h1v3h-1zM15 3h1v3h-1zM15 27h1v3h-1zM15 84h1v3h-1zM15 122h1v3h-1zM16 39h1v3h-1zM16 82h1v3h-1zM16 122h1v3h-1zM16 156h1v3h-1zM17 0h1v2h-1zM17 41h1v3h-1zM17 80h1v3h-1zM17 146h1v3h-1zM18 80h1v3h-1zM18 135h1v3h-1zM19 11h1v3h-1zM19 59h1v3h-1zM19 147h1v3h-1zM20 9h1v3h-1zM20 57h1v3h-1zM20 102h1v3h-1zM20 160h1v3h-1zM20 191h1v3h-1zM21 41h1v3h-1zM21 80h1v3h-1zM21 110h1v3h-1zM21 161h1v3h-1zM22 39h1v3h-1zM22 91h1v3h-1zM22 159h1v3h-1zM23 82h1v3h-1zM23 150h1v3h-1zM23 180h1v3h-1zM24 80h1v3h-1zM25 38h1v3h-1zM25 106h1v3h-1zM25 190h1v3h-1zM26 137h1v3h-1zM26 192h1v3h-1zM27 15h1v3h-1zM27 38h1v3h-1zM27 81h1v3h-1zM27 111h1v3h-1zM28 38h1v3h-1zM28 139h1v3h-1zM29 41h1v3h-1zM29 133h1v3h-1zM30 40h1v3h-1zM30 128h1v3h-1zM31 111h1v3h-1zM31 158h1v3h-1zM32 8h1v3h-1zM32 33h1v3h-1zM32 175h1v3h-1zM33 1h1v3h-1zM33 71h1v3h-1zM33 111h1v3h-1zM33 163h1v3h-1zM33 190h1v3h-1zM34 31h1v3h-1zM34 79h1v3h-1zM34 127h1v3h-1zM34 163h1v3h-1zM35 1h1v3h-1zM35 36h1v3h-1zM35 91h1v3h-1zM35 150h1v3h-1zM36 0h1v2h-1zM36 44h1v3h-1zM36 96h1v3h-1zM36 127h1v3h-1zM36 152h1v3h-1zM36 174h1v3h-1zM37 59h1v3h-1zM37 83h1v3h-1zM37 166h1v3h-1zM38 2h1v3h-1zM38 60h1v3h-1zM38 109h1v3h-1zM38 179h1v3h-1zM39 28h1v3h-1zM39 76h1v3h-1zM39 124h1v3h-1zM40 0h1v3h-1zM40 31h1v3h-1zM40 58h1v3h-1zM40 91h1v3h-1zM40 166h1v3h-1zM41 2h1v3h-1zM41 32h1v3h-1zM41 57h1v3h-1zM41 99h1v3h-1zM41 130h1v3h-1zM42 32h1v3h-1zM42 62h1v3h-1zM42 90h1v3h-1zM42 130h1v3h-1zM42 174h1v3h-1zM43 15h1v3h-1zM43 67h1v3h-1zM43 172h1v3h-1zM44 7h1v3h-1zM44 91h1v3h-1zM45 4h1v3h-1zM45 90h1v3h-1zM45 172h1v3h-1zM46 28h1v3h-1zM46 90h1v3h-1zM46 115h1v3h-1zM46 142h1v3h-1zM46 166h1v3h-1zM47 39h1v3h-1zM47 90h1v3h-1zM47 114h1v3h-1zM47 143h1v3h-1zM48 37h1v3h-1zM48 91h1v3h-1zM48 138h1v3h-1zM48 176h1v3h-1zM49 40h1v3h-1zM49 93h1v3h-1zM49 120h1v3h-1zM49 166h1v3h-1zM50 9h1v3h-1zM50 38h1v3h-1zM50 116h1v3h-1zM50 166h1v3h-1zM51 2h1v3h-1zM51 91h1v3h-1zM51 132h1v3h-1zM51 167h1v3h-1zM52 12h1v3h-1zM52 94h1v3h-1zM53 7h1v3h-1zM53 61h1v3h-1zM53 126h1v3h-1zM53 150h1v3h-1zM54 11h1v3h-1zM54 82h1v3h-1zM54 118h1v3h-1zM54 168h1v3h-1zM55 11h1v3h-1zM55 94h1v3h-1zM55 122h1v3h-1zM55 148h1v3h-1zM56 36h1v3h-1zM56 90h1v3h-1zM56 124h1v3h-1zM56 150h1v3h-1zM57 40h1v3h-1zM57 89h1v3h-1zM57 119h1v3h-1zM57 160h1v3h-1zM58 46h1v3h-1zM58 80h1v3h-1zM58 162h1v3h-1zM58 190h1v3h-1zM59 28h1v3h-1zM59 95h1v3h-1zM59 162h1v3h-1zM60 23h1v3h-1zM60 73h1v3h-1zM60 124h1v3h-1zM60 168h1v3h-1zM61 41h1v3h-1zM61 109h1v3h-1zM61 133h1v3h-1zM61 172h1v3h-1zM62 85h1v3h-1zM62 127h1v3h-1zM62 160h1v3h-1zM62 183h1v3h-1zM63 3h1v3h-1zM63 158h1v3h-1zM64 41h1v3h-1zM64 83h1v3h-1zM64 117h1v3h-1zM64 144h1v3h-1zM64 181h1v3h-1zM65 8h1v3h-1zM65 87h1v3h-1zM65 171h1v3h-1zM66 12h1v3h-1zM66 77h1v3h-1zM67 57h1v3h-1zM67 81h1v3h-1zM67 129h1v3h-1zM68 108h1v3h-1zM69 21h1v3h-1zM69 44h1v3h-1zM69 83h1v3h-1zM69 115h1v3h-1zM70 8h1v3h-1zM70 78h1v3h-1zM70 162h1v3h-1zM71 4h1v3h-1zM71 34h1v3h-1zM72 6h1v3h-1zM72 44h1v3h-1zM72 80h1v3h-1zM73 8h1v3h-1zM73 32h1v3h-1zM73 84h1v3h-1zM73 138h1v3h-1zM74 41h1v3h-1zM74 126h1v3h-1zM74 172h1v3h-1zM75 43h1v3h-1zM75 84h1v3h-1zM75 122h1v3h-1zM76 19h1v3h-1zM76 44h1v3h-1zM76 96h1v3h-1zM76 156h1v3h-1zM77 93h1v3h-1zM77 154h1v3h-1zM77 182h1v3h-1zM78 37h1v3h-1zM78 69h1v3h-1zM78 94h1v3h-1zM78 121h1v3h-1zM78 172h1v3h-1zM79 9h1v3h-1zM79 87h1v3h-1zM79 120h1v3h-1zM80 35h1v3h-1zM80 75h1v3h-1zM80 136h1v3h-1zM80 192h1v3h-1zM81 0h1v2h-1zM81 36h1v3h-1zM81 89h1v3h-1zM81 120h1v3h-1zM82 26h1v3h-1zM82 49h1v3h-1zM82 82h1v3h-1zM82 117h1v3h-1zM82 168h1v3h-1zM83 33h1v3h-1zM83 90h1v3h-1zM83 115h1v3h-1zM83 182h1v3h-1zM84 1h1v3h-1zM84 37h1v3h-1zM84 61h1v3h-1zM84 92h1v3h-1zM84 117h1v3h-1zM84 158h1v3h-1zM84 184h1v3h-1zM85 71h1v3h-1zM85 111h1v3h-1zM85 155h1v3h-1zM85 184h1v3h-1zM86 29h1v3h-1zM86 115h1v3h-1zM86 165h1v3h-1zM87 28h1v3h-1zM87 114h1v3h-1zM87 165h1v3h-1zM88 33h1v3h-1zM88 67h1v3h-1zM88 163h1v3h-1zM89 12h1v3h-1zM89 44h1v3h-1zM89 89h1v3h-1zM89 111h1v3h-1zM89 176h1v3h-1zM90 29h1v3h-1zM90 82h1v3h-1zM90 186h1v3h-1zM91 5h1v3h-1zM91 31h1v3h-1zM91 83h1v3h-1zM91 131h1v3h-1zM91 184h1v3h-1zM92 61h1v3h-1zM92 114h1v3h-1zM92 162h1v3h-1zM92 189h1v3h-1zM93 34h1v3h-1zM93 111h1v3h-1zM93 189h1v3h-1zM94 35h1v3h-1zM94 106h1v3h-1zM94 188h1v3h-1zM95 37h1v3h-1zM95 93h1v3h-1zM96 19h1v3h-1zM96 93h1v3h-1zM96 122h1v3h-1zM98 36h1v3h-1zM98 60h1v3h-1zM98 89h1v3h-1zM98 115h1v3h-1zM98 182h1v3h-1zM99 58h1v3h-1zM99 115h1v3h-1zM99 191h1v3h-1zM100 70h1v3h-1zM100 99h1v3h-1zM100 124h1v3h-1zM100 160h1v3h-1zM100 189h1v3h-1zM101 70h1v3h-1zM101 96h1v3h-1zM101 178h1v3h-1zM102 35h1v3h-1zM102 69h1v3h-1zM103 97h1v3h-1zM104 27h1v3h-1zM104 66h1v3h-1zM104 122h1v3h-1zM104 161h1v3h-1zM105 35h1v3h-1zM105 93h1v3h-1zM105 119h1v3h-1zM105 163h1v3h-1zM106 14h1v3h-1zM106 77h1v3h-1zM106 111h1v3h-1zM106 188h1v3h-1zM107 136h1v3h-1zM107 178h1v3h-1zM108 0h1v3h-1zM108 36h1v3h-1zM108 64h1v3h-1zM108 107h1v3h-1zM108 139h1v3h-1zM108 173h1v3h-1zM109 4h1v3h-1zM109 60h1v3h-1zM109 106h1v3h-1zM110 63h1v3h-1zM110 100h1v3h-1zM110 166h1v3h-1zM110 189h1v3h-1zM111 54h1v3h-1zM111 140h1v3h-1zM111 163h1v3h-1zM112 83h1v3h-1zM112 116h1v3h-1zM112 147h1v3h-1zM113 24h1v3h-1zM113 89h1v3h-1zM113 118h1v3h-1zM113 188h1v3h-1zM114 0h1v2h-1zM114 73h1v3h-1zM115 185h1v3h-1zM116 1h1v3h-1zM116 106h1v3h-1zM117 7h1v3h-1zM117 52h1v3h-1zM118 62h1v3h-1zM118 121h1v3h-1zM118 145h1v3h-1zM119 21h1v3h-1zM119 106h1v3h-1zM119 147h1v3h-1zM119 171h1v3h-1zM120 26h1v3h-1zM120 60h1v3h-1zM120 100h1v3h-1zM120 132h1v3h-1zM121 62h1v3h-1zM121 91h1v3h-1zM121 117h1v3h-1zM122 62h1v3h-1zM122 96h1v3h-1zM122 159h1v3h-1zM123 58h1v3h-1zM123 125h1v3h-1zM123 154h1v3h-1zM124 72h1v3h-1zM124 107h1v3h-1zM125 108h1v3h-1zM125 167h1v3h-1zM126 14h1v3h-1zM126 82h1v3h-1zM126 114h1v3h-1zM126 175h1v3h-1zM127 168h1v3h-1zM128 35h1v3h-1zM128 85h1v3h-1zM128 150h1v3h-1zM128 173h1v3h-1zM129 116h1v3h-1zM130 61h1v3h-1zM130 116h1v3h-1zM131 83h1v3h-1zM131 117h1v3h-1zM131 156h1v3h-1zM132 126h1v3h-1zM132 158h1v3h-1zM133 118h1v3h-1zM134 19h1v3h-1zM134 120h1v3h-1zM134 180h1v3h-1zM136 6h1v3h-1zM137 5h1v3h-1zM137 46h1v3h-1zM137 94h1v3h-1zM137 148h1v3h-1zM138 11h1v3h-1zM138 43h1v3h-1zM138 70h1v3h-1zM138 100h1v3h-1zM139 108h1v3h-1zM140 66h1v3h-1zM141 16h1v3h-1zM141 44h1v3h-1zM141 112h1v3h-1zM142 11h1v3h-1zM142 115h1v3h-1zM142 174h1v3h-1zM143 22h1v3h-1zM143 113h1v3h-1zM143 176h1v3h-1zM145 74h1v3h-1zM145 109h1v3h-1zM145 181h1v3h-1zM146 44h1v3h-1zM146 78h1v3h-1zM146 121h1v3h-1zM146 151h1v3h-1zM146 180h1v3h-1zM147 77h1v3h-1zM147 110h1v3h-1zM148 7h1v3h-1zM148 71h1v3h-1zM148 132h1v3h-1zM149 112h1v3h-1zM149 135h1v3h-1zM150 5h1v3h-1zM150 69h1v3h-1zM150 109h1v3h-1zM150 160h1v3h-1zM151 141h1v3h-1zM152 31h1v3h-1zM152 70h1v3h-1zM152 111h1v3h-1zM153 0h1v2h-1zM153 46h1v3h-1zM153 149h1v3h-1zM154 2h1v3h-1zM154 43h1v3h-1zM154 97h1v3h-1zM154 154h1v3h-1zM154 179h1v3h-1zM155 113h1v3h-1zM155 137h1v3h-1zM156 38h1v3h-1zM156 153h1v3h-1zM157 30h1v3h-1zM157 65h1v3h-1zM157 110h1v3h-1zM157 165h1v3h-1zM158 4h1v3h-1zM158 69h1v3h-1zM158 172h1v3h-1zM159 21h1v3h-1zM160 18h1v3h-1zM160 62h1v3h-1zM160 100h1v3h-1zM161 41h1v3h-1zM161 96h1v3h-1zM161 155h1v3h-1zM161 187h1v3h-1zM162 15h1v3h-1zM162 37h1v3h-1zM162 126h1v3h-1zM162 153h1v3h-1zM162 188h1v3h-1zM163 37h1v3h-1zM163 113h1v3h-1zM163 164h1v3h-1zM164 37h1v3h-1zM164 66h1v3h-1zM164 121h1v3h-1zM164 161h1v3h-1zM165 57h1v3h-1zM165 96h1v3h-1zM165 139h1v3h-1zM165 158h1v3h-1zM166 12h1v3h-1zM166 60h1v3h-1zM166 97h1v3h-1zM166 137h1v3h-1zM167 56h1v3h-1zM167 83h1v3h-1zM167 114h1v3h-1zM167 136h1v3h-1zM167 154h1v3h-1zM168 49h1v3h-1zM168 69h1v3h-1zM168 94h1v3h-1zM168 184h1v3h-1zM169 8h1v3h-1zM169 51h1v3h-1zM169 101h1v3h-1zM169 144h1v3h-1zM169 163h1v3h-1zM169 191h1v3h-1zM170 13h1v3h-1zM170 76h1v3h-1zM170 126h1v3h-1zM170 144h1v3h-1zM170 163h1v3h-1zM171 0h1v1h-1zM171 37h1v3h-1zM171 98h1v3h-1zM171 137h1v3h-1zM171 154h1v3h-1zM172 0h1v2h-1zM172 33h1v3h-1zM172 106h1v3h-1zM172 126h1v3h-1zM172 151h1v3h-1zM172 174h1v3h-1zM173 29h1v3h-1zM173 61h1v3h-1zM173 122h1v3h-1zM173 142h1v3h-1zM173 176h1v3h-1zM174 59h1v3h-1zM174 97h1v3h-1zM174 135h1v3h-1zM174 153h1v3h-1zM174 173h1v3h-1zM175 56h1v3h-1zM175 95h1v3h-1zM175 129h1v3h-1zM175 155h1v3h-1zM175 191h1v3h-1zM176 2h1v3h-1zM176 93h1v3h-1zM176 131h1v3h-1zM176 170h1v3h-1zM177 3h1v3h-1zM177 92h1v3h-1zM177 115h1v3h-1zM177 138h1v3h-1zM177 166h1v3h-1zM178 13h1v3h-1zM178 92h1v3h-1zM178 114h1v3h-1zM178 138h1v3h-1zM178 170h1v3h-1zM179 11h1v3h-1zM179 50h1v3h-1zM179 138h1v3h-1zM179 165h1v3h-1zM179 191h1v3h-1zM180 38h1v3h-1zM180 58h1v3h-1zM180 170h1v3h-1zM180 190h1v3h-1zM181 31h1v3h-1zM181 63h1v3h-1zM181 166h1v3h-1zM182 58h1v3h-1zM182 102h1v3h-1zM182 126h1v3h-1zM182 165h1v3h-1zM182 186h1v3h-1zM183 34h1v3h-1zM183 123h1v3h-1zM183 176h1v3h-1zM184 29h1v3h-1zM184 61h1v3h-1zM184 154h1v3h-1zM184 175h1v3h-1zM185 3h1v3h-1zM185 76h1v3h-1zM185 123h1v3h-1zM185 151h1v3h-1zM185 175h1v3h-1zM186 40h1v3h-1zM186 67h1v3h-1zM186 91h1v3h-1zM186 120h1v3h-1zM186 137h1v3h-1zM186 175h1v3h-1zM187 4h1v3h-1zM187 37h1v3h-1zM187 74h1v3h-1zM187 105h1v3h-1zM187 162h1v3h-1zM187 187h1v3h-1zM188 156h1v3h-1zM188 189h1v3h-1zM189 4h1v3h-1zM189 108h1v3h-1zM189 186h1v3h-1zM190 21h1v3h-1zM190 79h1v3h-1zM190 111h1v3h-1zM190 177h1v3h-1zM191 8h1v3h-1zM191 50h1v3h-1zM191 69h1v3h-1zM191 150h1v3h-1zM192 31h1v3h-1zM192 71h1v3h-1zM192 89h1v3h-1zM192 136h1v3h-1zM192 160h1v3h-1zM192 181h1v3h-1zM193 14h1v3h-1zM193 45h1v3h-1zM193 87h1v3h-1zM193 137h1v3h-1zM193 188h1v3h-1zM194 0h1v2h-1zM194 22h1v3h-1zM194 75h1v3h-1zM194 93h1v3h-1zM194 150h1v3h-1zM194 173h1v3h-1zM195 18h1v3h-1zM195 68h1v3h-1zM195 94h1v3h-1zM195 133h1v3h-1zM195 158h1v3h-1zM195 183h1v3h-1zM196 33h1v3h-1zM196 71h1v3h-1zM196 96h1v3h-1zM196 147h1v3h-1zM197 5h1v3h-1zM197 55h1v3h-1zM197 95h1v3h-1zM197 124h1v3h-1zM197 145h1v3h-1zM198 0h1v1h-1zM198 19h1v3h-1zM198 58h1v3h-1zM198 79h1v3h-1zM198 98h1v3h-1zM198 122h1v3h-1zM198 168h1v3h-1zM198 186h1v3h-1zM199 5h1v3h-1zM199 55h1v3h-1zM199 92h1v3h-1zM199 156h1v3h-1zM199 187h1v3h-1z"/>
<path fill="#2884f6" d="M0 26h1v4h-1zM0 81h1v4h-1zM1 42h1v4h-1zM1 81h1v4h-1zM2 42h1v4h-1zM2 128h1v4h-1zM3 46h1v4h-1zM3 81h1v4h-1zM3 177h1v4h-1zM4 40h1v4h-1zM4 83h1v4h-1zM4 128h1v4h-1zM5 2h1v4h-1zM5 42h1v4h-1zM5 81h1v4h-1zM5 107h1v4h-1zM5 173h1v4h-1zM6 4h1v4h-1zM6 41h1v4h-1zM6 84h1v4h-1zM6 120h1v4h-1zM6 155h1v4h-1zM6 184h1v4h-1zM7 5h1v4h-1zM7 60h1v4h-1zM7 177h1v4h-1zM8 30h1v4h-1zM8 151h1v4h-1zM9 4h1v4h-1zM9 127h1v4h-1zM10 47h1v4h-1zM10 88h1v4h-1zM10 112h1v4h-1zM11 3h1v4h-1zM11 29h1v4h-1zM11 82h1v4h-1zM11 154h1v4h-1zM12 92h1v4h-1zM13 14h1v4h-1zM13 96h1v4h-1zM13 131h1v4h-1zM13 168h1v4h-1zM14 0h1v1h-1zM14 79h1v4h-1zM14 115h1v4h-1zM15 0h1v3h-1zM15 23h1v4h-1zM15 80h1v4h-1zM15 118h1v4h-1zM16 35h1v4h-1zM16 78h1v4h-1zM16 118h1v4h-1zM16 152h1v4h-1zM17 37h1v4h-1zM17 76h1v4h-1zM17 142h1v4h-1zM18 76h1v4h-1zM18 131h1v4h-1zM19 7h1v4h-1zM19 55h1v4h-1zM19 143h1v4h-1zM20 5h1v4h-1zM20 53h1v4h-1zM20 98h1v4h-1zM20 156h1v4h-1zM20 187h1v4h-1zM21 37h1v4h-1zM21 76h1v4h-1zM21 106h1v4h-1zM21 157h1v4h-1zM22 35h1v4h-1zM22 87h1v4h-1zM22 155h1v4h-1zM23 78h1v4h-1zM23 146h1v4h-1zM23 176h1v4h-1zM24 76h1v4h-1zM25 34h1v4h-1zM25 102h1v4h-1zM25 186h1v4h-1zM26 133h1v4h-1zM26 188h1v4h-1zM27 11h1v4h-1zM27 34h1v4h-1zM27 77h1v4h-1zM27 107h1v4h-1zM28 34h1v4h-1zM28 135h1v4h-1zM29 37h1v4h-1zM29 129h1v4h-1zM30 36h1v4h-1zM30 124h1v4h-1zM31 107h1v4h-1zM31 154h1v4h-1zM32 4h1v4h-1zM32 29h1v4h-1zM32 171h1v4h-1zM33 0h1v1h-1zM33 67h1v4h-1zM33 107h1v4h-1zM33 159h1v4h-1zM33 186h1v4h-1zM34 27h1v4h-1zM34 75h1v4h-1zM34 123h1v4h-1zM34 159h1v4h-1zM35 0h1v1h-1zM35 32h1v4h-1zM35 87h1v4h-1zM35 146h1v4h-1zM36 40h1v4h-1zM36 92h1v4h-1zM36 123h1v4h-1zM36 148h1v4h-1zM36 170h1v4h-1zM37 55h1v4h-1zM37 79h1v4h-1zM37 162h1v4h-1zM38 0h1v2h-1zM38 56h1v4h-1zM38 105h1v4h-1zM38 175h1v4h-1zM39 24h1v4h-1zM39 72h1v4h-1zM39 120h1v4h-1zM40 27h1v4h-1zM40 54h1v4h-1zM40 87h1v4h-1zM40 162h1v4h-1zM41 0h1v2h-1zM41 28h1v4h-1zM41 53h1v4h-1zM41 95h1v4h-1zM41 126h1v4h-1zM42 28h1v4h-1zM42 58h1v4h-1zM42 86h1v4h-1zM42 126h1v4h-1zM42 170h1v4h-1zM43 11h1v4h-1zM43 63h1v4h-1zM43 168h1v4h-1zM44 3h1v4h-1zM44 87h1v4h-1zM45 0h1v4h-1zM45 86h1v4h-1zM45 168h1v4h-1zM46 24h1v4h-1zM46 86h1v4h-1zM46 111h1v4h-1zM46 138h1v4h-1zM46 162h1v4h-1zM47 35h1v4h-1zM47 86h1v4h-1zM47 110h1v4h-1zM47 139h1v4h-1zM48 33h1v4h-1zM48 87h1v4h-1zM48 134h1v4h-1zM48 172h1v4h-1zM49 36h1v4h-1zM49 89h1v4h-1zM49 116h1v4h-1zM49 162h1v4h-1zM50 5h1v4h-1zM50 34h1v4h-1zM50 112h1v4h-1zM50 162h1v4h-1zM51 0h1v2h-1zM51 87h1v4h-1zM51 128h1v4h-1zM51 163h1v4h-1zM52 8h1v4h-1zM52 90h1v4h-1zM53 3h1v4h-1zM53 57h1v4h-1zM53 122h1v4h-1zM53 146h1v4h-1zM54 7h1v4h-1zM54 78h1v4h-1zM54 114h1v4h-1zM54 164h1v4h-1zM55 7h1v4h-1zM55 90h1v4h-1zM55 118h1v4h-1zM55 144h1v4h-1zM56 32h1v4h-1zM56 86h1v4h-1zM56 120h1v4h-1zM56 146h1v4h-1zM57 36h1v4h-1zM57 85h1v4h-1zM57 115h1v4h-1zM57 156h1v4h-1zM58 42h1v4h-1zM58 76h1v4h-1zM58 158h1v4h-1zM58 186h1v4h-1zM59 24h1v4h-1zM59 91h1v4h-1zM59 158h1v4h-1zM60 19h1v4h-1zM60 69h1v4h-1zM60 120h1v4h-1zM60 164h1v4h-1zM61 37h1v4h-1zM61 105h1v4h-1zM61 129h1v4h-1zM61 168h1v4h-1zM62 81h1v4h-1zM62 123h1v4h-1zM62 156h1v4h-1zM62 179h1v4h-1zM63 0h1v3h-1zM63 154h1v4h-1zM64 37h1v4h-1zM64 79h1v4h-1zM64 113h1v4h-1zM64 140h1v4h-1zM64 177h1v4h-1zM65 4h1v4h-1zM65 83h1v4h-1zM65 167h1v4h-1zM66 8h1v4h-1zM66 73h1v4h-1zM67 53h1v4h-1zM67 77h1v4h-1zM67 125h1v4h-1zM68 104h1v4h-1zM69 17h1v4h-1zM69 40h1v4h-1zM69 79h1v4h-1zM69 111h1v4h-1zM70 4h1v4h-1zM70 74h1v4h-1zM70 158h1v4h-1zM71 0h1v4h-1zM71 30h1v4h-1zM72 2h1v4h-1zM72 40h1v4h-1zM72 76h1v4h-1zM73 4h1v4h-1zM73 28h1v4h-1zM73 80h1v4h-1zM73 134h1v4h-1zM74 37h1v4h-1zM74 122h1v4h-1zM74 168h1v4h-1zM75 39h1v4h-1zM75 80h1v4h-1zM75 118h1v4h-1zM76 15h1v4h-1zM76 40h1v4h-1zM76 92h1v4h-1zM76 152h1v4h-1zM77 89h1v4h-1zM77 150h1v4h-1zM77 178h1v4h-1zM78 33h1v4h-1zM78 65h1v4h-1zM78 90h1v4h-1zM78 117h1v4h-1zM78 168h1v4h-1zM79 5h1v4h-1zM79 83h1v4h-1zM79 116h1v4h-1zM80 31h1v4h-1zM80 71h1v4h-1zM80 132h1v4h-1zM80 188h1v4h-1zM81 32h1v4h-1zM81 85h1v4h-1zM81 116h1v4h-1zM82 22h1v4h-1zM82 45h1v4h-1zM82 78h1v4h-1zM82 113h1v4h-1zM82 164h1v4h-1zM83 29h1v4h-1zM83 86h1v4h-1zM83 111h1v4h-1zM83 178h1v4h-1zM84 0h1v1h-1zM84 33h1v4h-1zM84 57h1v4h-1zM84 88h1v4h-1zM84 113h1v4h-1zM84 154h1v4h-1zM84 180h1v4h-1zM85 67h1v4h-1zM85 107h1v4h-1zM85 151h1v4h-1zM85 180h1v4h-1zM86 25h1v4h-1zM86 111h1v4h-1zM86 161h1v4h-1zM87 24h1v4h-1zM87 110h1v4h-1zM87 161h1v4h-1zM88 29h1v4h-1zM88 63h1v4h-1zM88 159h1v4h-1zM89 8h1v4h-1zM89 40h1v4h-1zM89 85h1v4h-1zM89 107h1v4h-1zM89 172h1v4h-1zM90 25h1v4h-1zM90 78h1v4h-1zM90 182h1v4h-1zM91 1h1v4h-1zM91 27h1v4h-1zM91 79h1v4h-1zM91 127h1v4h-1zM91 180h1v4h-1zM92 57h1v4h-1zM92 110h1v4h-1zM92 158h1v4h-1zM92 185h1v4h-1zM93 30h1v4h-1zM93 107h1v4h-1zM93 185h1v4h-1zM94 31h1v4h-1zM94 102h1v4h-1zM94 184h1v4h-1zM95 33h1v4h-1zM95 89h1v4h-1zM96 15h1v4h-1zM96 89h1v4h-1zM96 118h1v4h-1zM98 32h1v4h-1zM98 56h1v4h-1zM98 85h1v4h-1zM98 111h1v4h-1zM98 178h1v4h-1zM99 54h1v4h-1zM99 111h1v4h-1zM99 187h1v4h-1zM100 66h1v4h-1zM100 95h1v4h-1zM100 120h1v4h-1zM100 156h1v4h-1zM100 185h1v4h-1zM101 66h1v4h-1zM101 92h1v4h-1zM101 174h1v4h-1zM102 31h1v4h-1zM102 65h1v4h-1zM103 93h1v4h-1zM104 23h1v4h-1zM104 62h1v4h-1zM104 118h1v4h-1zM104 157h1v4h-1zM105 31h1v4h-1zM105 89h1v4h-1zM105 115h1v4h-1zM105 159h1v4h-1zM106 10h1v4h-1zM106 73h1v4h-1zM106 107h1v4h-1zM106 184h1v4h-1zM107 132h1v4h-1zM107 174h1v4h-1zM108 32h1v4h-1zM108 60h1v4h-1zM108 103h1v4h-1zM108 135h1v4h-1zM108 169h1v4h-1zM109 0h1v4h-1zM109 56h1v4h-1zM109 102h1v4h-1zM110 59h1v4h-1zM110 96h1v4h-1zM110 162h1v4h-1zM110 185h1v4h-1zM111 50h1v4h-1zM111 136h1v4h-1zM111 159h1v4h-1zM112 79h1v4h-1zM112 112h1v4h-1zM112 143h1v4h-1zM113 20h1v4h-1zM113 85h1v4h-1zM113 114h1v4h-1zM113 184h1v4h-1zM114 69h1v4h-1zM115 181h1v4h-1zM116 0h1v1h-1zM116 102h1v4h-1zM117 3h1v4h-1zM117 48h1v4h-1zM118 58h1v4h-1zM118 117h1v4h-1zM118 141h1v4h-1zM119 17h1v4h-1zM119 102h1v4h-1zM119 143h1v4h-1zM119 167h1v4h-1zM120 22h1v4h-1zM120 56h1v4h-1zM120 96h1v4h-1zM120 128h1v4h-1zM121 58h1v4h-1zM121 87h1v4h-1zM121 113h1v4h-1zM122 58h1v4h-1zM122 92h1v4h-1zM122 155h1v4h-1zM123 54h1v4h-1zM123 121h1v4h-1zM123 150h1v4h-1zM124 68h1v4h-1zM124 103h1v4h-1zM125 104h1v4h-1zM125 163h1v4h-1zM126 10h1v4h-1zM126 78h1v4h-1zM126 110h1v4h-1zM126 171h1v4h-1zM127 164h1v4h-1zM128 31h1v4h-1zM128 81h1v4h-1zM128 146h1v4h-1zM128 169h1v4h-1zM129 112h1v4h-1zM130 57h1v4h-1zM130 112h1v4h-1zM131 79h1v4h-1zM131 113h1v4h-1zM131 152h1v4h-1zM132 122h1v4h-1zM132 154h1v4h-1zM133 114h1v4h-1zM134 15h1v4h-1zM134 116h1v4h-1zM134 176h1v4h-1zM136 2h1v4h-1zM137 1h1v4h-1zM137 42h1v4h-1zM137 90h1v4h-1zM137 144h1v4h-1zM138 7h1v4h-1zM138 39h1v4h-1zM138 66h1v4h-1zM138 96h1v4h-1zM139 104h1v4h-1zM140 62h1v4h-1zM141 12h1v4h-1zM141 40h1v4h-1zM141 108h1v4h-1zM142 7h1v4h-1zM142 111h1v4h-1zM142 170h1v4h-1zM143 18h1v4h-1zM143 109h1v4h-1zM143 172h1v4h-1zM145 70h1v4h-1zM145 105h1v4h-1zM145 177h1v4h-1zM146 40h1v4h-1zM146 74h1v4h-1zM146 117h1v4h-1zM146 147h1v4h-1zM146 176h1v4h-1zM147 73h1v4h-1zM147 106h1v4h-1zM148 3h1v4h-1zM148 67h1v4h-1zM148 128h1v4h-1zM149 108h1v4h-1zM149 131h1v4h-1zM150 1h1v4h-1zM150 65h1v4h-1zM150 105h1v4h-1zM150 156h1v4h-1zM151 137h1v4h-1zM152 27h1v4h-1zM152 66h1v4h-1zM152 107h1v4h-1zM153 42h1v4h-1zM153 145h1v4h-1zM154 0h1v2h-1zM154 39h1v4h-1zM154 93h1v4h-1zM154 150h1v4h-1zM154 175h1v4h-1zM155 109h1v4h-1zM155 133h1v4h-1zM156 34h1v4h-1zM156 149h1v4h-1zM157 26h1v4h-1zM157 61h1v4h-1zM157 106h1v4h-1zM157 161h1v4h-1zM158 0h1v4h-1zM158 65h1v4h-1zM158 168h1v4h-1zM159 17h1v4h-1zM160 14h1v4h-1zM160 58h1v4h-1zM160 96h1v4h-1zM161 37h1v4h-1zM161 92h1v4h-1zM161 151h1v4h-1zM161 183h1v4h-1zM162 11h1v4h-1zM162 33h1v4h-1zM162 122h1v4h-1zM162 149h1v4h-1zM162 184h1v4h-1zM163 33h1v4h-1zM163 109h1v4h-1zM163 160h1v4h-1zM164 33h1v4h-1zM164 62h1v4h-1zM164 117h1v4h-1zM164 157h1v4h-1zM165 53h1v4h-1zM165 92h1v4h-1zM165 135h1v4h-1zM165 154h1v4h-1zM166 8h1v4h-1zM166 56h1v4h-1zM166 93h1v4h-1zM166 133h1v4h-1zM167 52h1v4h-1zM167 79h1v4h-1zM167 110h1v4h-1zM167 132h1v4h-1zM167 150h1v4h-1zM168 45h1v4h-1zM168 65h1v4h-1zM168 90h1v4h-1zM168 180h1v4h-1zM169 4h1v4h-1zM169 47h1v4h-1zM169 97h1v4h-1zM169 140h1v4h-1zM169 159h1v4h-1zM169 187h1v4h-1zM170 9h1v4h-1zM170 72h1v4h-1zM170 122h1v4h-1zM170 140h1v4h-1zM170 159h1v4h-1zM171 33h1v4h-1zM171 94h1v4h-1zM171 133h1v4h-1zM171 150h1v4h-1zM172 29h1v4h-1zM172 102h1v4h-1zM172 122h1v4h-1zM172 147h1v4h-1zM172 170h1v4h-1zM173 25h1v4h-1zM173 57h1v4h-1zM173 118h1v4h-1zM173 138h1v4h-1zM173 172h1v4h-1zM174 55h1v4h-1zM174 93h1v4h-1zM174 131h1v4h-1zM174 149h1v4h-1zM174 169h1v4h-1zM175 52h1v4h-1zM175 91h1v4h-1zM175 125h1v4h-1zM175 151h1v4h-1zM175 187h1v4h-1zM176 0h1v2h-1zM176 89h1v4h-1zM176 127h1v4h-1zM176 166h1v4h-1zM177 0h1v3h-1zM177 88h1v4h-1zM177 111h1v4h-1zM177 134h1v4h-1zM177 162h1v4h-1zM178 9h1v4h-1zM178 88h1v4h-1zM178 110h1v4h-1zM178 134h1v4h-1zM178 166h1v4h-1zM179 7h1v4h-1zM179 46h1v4h-1zM179 134h1v4h-1zM179 161h1v4h-1zM179 187h1v4h-1zM180 34h1v4h-1zM180 54h1v4h-1zM180 166h1v4h-1zM180 186h1v4h-1zM181 27h1v4h-1zM181 59h1v4h-1zM181 162h1v4h-1zM182 54h1v4h-1zM182 98h1v4h-1zM182 122h1v4h-1zM182 161h1v4h-1zM182 182h1v4h-1zM183 30h1v4h-1zM183 119h1v4h-1zM183 172h1v4h-1zM184 25h1v4h-1zM184 57h1v4h-1zM184 150h1v4h-1zM184 171h1v4h-1zM185 0h1v3h-1zM185 72h1v4h-1zM185 119h1v4h-1zM185 147h1v4h-1zM185 171h1v4h-1zM186 36h1v4h-1zM186 63h1v4h-1zM186 87h1v4h-1zM186 116h1v4h-1zM186 133h1v4h-1zM186 171h1v4h-1zM187 0h1v4h-1zM187 33h1v4h-1zM187 70h1v4h-1zM187 101h1v4h-1zM187 158h1v4h-1zM187 183h1v4h-1zM188 152h1v4h-1zM188 185h1v4h-1zM189 0h1v4h-1zM189 104h1v4h-1zM189 182h1v4h-1zM190 17h1v4h-1zM190 75h1v4h-1zM190 107h1v4h-1zM190 173h1v4h-1zM191 4h1v4h-1zM191 46h1v4h-1zM191 65h1v4h-1zM191 146h1v4h-1zM192 27h1v4h-1zM192 67h1v4h-1zM192 85h1v4h-1zM192 132h1v4h-1zM192 156h1v4h-1zM192 177h1v4h-1zM193 10h1v4h-1zM193 41h1v4h-1zM193 83h1v4h-1zM193 133h1v4h-1zM193 184h1v4h-1zM194 18h1v4h-1zM194 71h1v4h-1zM194 89h1v4h-1zM194 146h1v4h-1zM194 169h1v4h-1zM195 14h1v4h-1zM195 64h1v4h-1zM195 90h1v4h-1zM195 129h1v4h-1zM195 154h1v4h-1zM195 179h1v4h-1zM196 29h1v4h-1zM196 67h1v4h-1zM196 92h1v4h-1zM196 143h1v4h-1zM197 1h1v4h-1zM197 51h1v4h-1zM197 91h1v4h-1zM197 120h1v4h-1zM197 141h1v4h-1zM198 15h1v4h-1zM198 54h1v4h-1zM198 75h1v4h-1zM198 94h1v4h-1zM198 118h1v4h-1zM198 164h1v4h-1zM198 182h1v4h-1zM199 1h1v4h-1zM199 51h1v4h-1zM199 88h1v4h-1zM199 152h1v4h-1zM199 183h1v4h-1z"/>
<path fill="#27dade" d="M9 142h1v2h-1zM10 197h1v1h-1zM12 109h1v2h-1zM18 126h1v2h-1zM21 191h1v2h-1zM23 65h1v2h-1zM25 74h1v2h-1zM28 197h1v1h-1zM35 58h1v2h-1zM36 197h1v1h-1zM37 196h1v2h-1zM38 25h1v2h-1zM41 114h1v2h-1zM43 135h1v2h-1zM45 185h1v2h-1zM46 56h1v2h-1zM46 197h1v2h-1zM47 105h1v2h-1zM50 102h1v2h-1zM50 148h1v2h-1zM50 197h1v1h-1zM51 36h1v2h-1zM52 104h1v2h-1zM53 92h1v2h-1zM55 28h1v2h-1zM55 197h1v1h-1zM63 17h1v2h-1zM66 36h1v2h-1zM67 197h1v1h-1zM68 31h1v2h-1zM73 0h1v2h-1zM78 85h1v2h-1zM87 108h1v2h-1zM89 197h1v1h-1zM92 33h1v2h-1zM93 166h1v2h-1zM93 197h1v1h-1zM99 45h1v2h-1zM99 185h1v2h-1zM102 121h1v2h-1zM102 143h1v2h-1zM103 16h1v2h-1zM104 153h1v2h-1zM105 152h1v2h-1zM106 137h1v2h-1zM118 91h1v2h-1zM119 92h1v2h-1zM120 154h1v2h-1zM128 29h1v2h-1zM128 72h1v2h-1zM132 86h1v2h-1zM135 61h1v2h-1zM135 80h1v2h-1zM135 85h1v2h-1zM138 197h1v1h-1zM139 126h1v2h-1zM144 86h1v2h-1zM151 11h1v2h-1zM153 10h1v2h-1zM154 139h1v2h-1zM158 123h1v2h-1zM159 168h1v2h-1zM161 73h1v2h-1zM162 28h1v2h-1zM163 23h1v2h-1zM163 30h1v2h-1zM165 27h1v2h-1zM169 197h1v1h-1zM175 197h1v1h-1zM179 67h1v2h-1zM179 84h1v2h-1zM187 62h1v2h-1zM189 121h1v2h-1zM193 172h1v2h-1zM193 197h1v1h-1z"/>
<path fill="#40ecd4" d="M2 198h1v2h-1zM4 23h1v2h-1zM4 34h1v2h-1zM10 77h1v2h-1zM11 50h1v2h-1zM12 184h1v2h-1zM14 169h1v2h-1zM14 195h1v2h-1zM14 198h1v2h-1zM16 5h1v2h-1zM16 197h1v1h-1zM17 97h1v2h-1zM17 188h1v2h-1zM18 198h1v2h-1zM19 83h1v2h-1zM20 80h1v2h-1zM20 185h1v2h-1zM21 51h1v2h-1zM21 120h1v2h-1zM22 198h1v2h-1zM24 98h1v2h-1zM24 198h1v2h-1zM25 197h1v1h-1zM27 190h1v2h-1zM28 91h1v2h-1zM28 133h1v2h-1zM30 186h1v2h-1zM31 97h1v2h-1zM31 197h1v1h-1zM32 80h1v2h-1zM32 119h1v2h-1zM34 42h1v2h-1zM38 74h1v2h-1zM39 183h1v2h-1zM41 149h1v2h-1zM44 28h1v2h-1zM46 105h1v2h-1zM46 184h1v2h-1zM47 181h1v2h-1zM48 195h1v2h-1zM49 146h1v2h-1zM52 83h1v2h-1zM52 113h1v2h-1zM52 118h1v2h-1zM54 197h1v1h-1zM55 39h1v2h-1zM55 72h1v2h-1zM55 79h1v2h-1zM56 144h1v2h-1zM56 169h1v2h-1zM57 72h1v2h-1zM57 197h1v1h-1zM58 66h1v2h-1zM60 198h1v2h-1zM62 102h1v2h-1zM62 110h1v2h-1zM65 103h1v2h-1zM65 113h1v2h-1zM66 110h1v2h-1zM66 153h1v2h-1zM67 113h1v2h-1zM68 197h1v1h-1zM69 130h1v2h-1zM70 131h1v2h-1zM71 65h1v2h-1zM71 94h1v2h-1zM72 94h1v2h-1zM72 126h1v2h-1zM75 154h1v2h-1zM76 76h1v2h-1zM76 117h1v2h-1zM77 74h1v2h-1zM78 57h1v2h-1zM82 62h1v2h-1zM82 69h1v2h-1zM82 188h1v2h-1zM82 198h1v2h-1zM85 81h1v2h-1zM86 91h1v2h-1zM87 9h1v2h-1zM87 39h1v2h-1zM87 198h1v2h-1zM88 113h1v2h-1zM88 197h1v1h-1zM90 52h1v2h-1zM90 113h1v2h-1zM90 123h1v2h-1zM94 15h1v2h-1zM95 182h1v2h-1zM98 197h1v1h-1zM99 10h1v2h-1zM99 42h1v2h-1zM99 71h1v2h-1zM100 51h1v2h-1zM100 86h1v2h-1zM102 80h1v2h-1zM102 161h1v2h-1zM103 29h1v2h-1zM105 103h1v2h-1zM105 198h1v2h-1zM110 197h1v1h-1zM111 124h1v2h-1zM111 196h1v2h-1zM112 46h1v2h-1zM112 192h1v2h-1zM113 162h1v2h-1zM114 183h1v2h-1zM116 198h1v2h-1zM121 138h1v2h-1zM121 151h1v2h-1zM122 149h1v2h-1zM122 197h1v1h-1zM123 14h1v2h-1zM123 197h1v1h-1zM125 95h1v2h-1zM125 127h1v2h-1zM126 31h1v2h-1zM126 104h1v2h-1zM128 119h1v2h-1zM129 90h1v2h-1zM129 109h1v2h-1zM131 134h1v2h-1zM132 137h1v2h-1zM135 76h1v2h-1zM135 125h1v2h-1zM136 30h1v2h-1zM136 40h1v2h-1zM136 170h1v2h-1zM137 170h1v2h-1zM138 145h1v2h-1zM138 191h1v2h-1zM139 65h1v2h-1zM140 43h1v2h-1zM140 192h1v2h-1zM141 197h1v1h-1zM142 168h1v2h-1zM143 127h1v2h-1zM143 156h1v2h-1zM144 68h1v2h-1zM144 187h1v2h-1zM144 197h1v1h-1zM145 15h1v2h-1zM145 167h1v2h-1zM147 126h1v2h-1zM149 49h1v2h-1zM149 73h1v2h-1zM150 23h1v2h-1zM150 170h1v2h-1zM150 198h1v2h-1zM151 19h1v2h-1zM151 39h1v2h-1zM151 122h1v2h-1zM151 198h1v2h-1zM152 9h1v2h-1zM152 146h1v2h-1zM152 170h1v2h-1zM152 198h1v2h-1zM153 17h1v2h-1zM153 62h1v2h-1zM153 178h1v2h-1zM153 194h1v2h-1zM154 82h1v2h-1zM155 92h1v2h-1zM156 133h1v2h-1zM159 172h1v2h-1zM159 198h1v2h-1zM160 42h1v2h-1zM160 121h1v2h-1zM160 126h1v2h-1zM162 146h1v2h-1zM162 197h1v1h-1zM163 146h1v2h-1zM163 179h1v2h-1zM163 198h1v2h-1zM164 30h1v2h-1zM165 110h1v2h-1zM166 196h1v2h-1zM167 174h1v2h-1zM173 39h1v2h-1zM175 7h1v2h-1zM175 69h1v2h-1zM175 76h1v2h-1zM176 17h1v2h-1zM176 81h1v2h-1zM176 108h1v2h-1zM176 198h1v2h-1zM177 198h1v2h-1zM178 64h1v2h-1zM179 126h1v2h-1zM179 198h1v2h-1zM181 198h1v2h-1zM183 156h1v2h-1zM183 198h1v2h-1zM184 198h1v2h-1zM186 103h1v2h-1zM188 198h1v2h-1zM189 97h1v2h-1zM192 198h1v2h-1zM193 60h1v2h-1zM193 169h1v2h-1zM195 39h1v2h-1zM195 48h1v2h-1zM196 180h1v2h-1zM197 83h1v2h-1zM197 198h1v2h-1z"/>
<path fill="#58f8c9" d="M0 18h1v2h-1zM0 197h1v1h-1zM1 1h1v2h-1zM1 105h1v2h-1zM1 197h1v1h-1zM2 0h1v2h-1zM2 170h1v2h-1zM2 197h1v1h-1zM5 60h1v2h-1zM8 198h1v2h-1zM10 80h1v2h-1zM11 17h1v2h-1zM11 130h1v2h-1zM11 141h1v2h-1zM11 149h1v2h-1zM11 198h1v2h-1zM12 70h1v2h-1zM12 127h1v2h-1zM12 182h1v2h-1zM13 198h1v2h-1zM15 149h1v2h-1zM15 176h1v2h-1zM15 198h1v2h-1zM18 37h1v2h-1zM18 99h1v2h-1zM19 77h1v2h-1zM20 51h1v2h-1zM21 9h1v2h-1zM22 197h1v1h-1zM23 13h1v2h-1zM23 197h1v1h-1zM24 142h1v2h-1zM24 148h1v2h-1zM24 164h1v2h-1zM26 167h1v2h-1zM27 73h1v2h-1zM27 138h1v2h-1zM28 66h1v2h-1zM28 95h1v2h-1zM29 176h1v2h-1zM29 198h1v2h-1zM30 60h1v2h-1zM30 75h1v2h-1zM30 108h1v2h-1zM30 139h1v2h-1zM30 198h1v2h-1zM31 59h1v2h-1zM32 22h1v2h-1zM32 96h1v2h-1zM32 145h1v2h-1zM32 198h1v2h-1zM33 25h1v2h-1zM33 98h1v2h-1zM35 69h1v2h-1zM35 112h1v2h-1zM36 118h1v2h-1zM36 140h1v2h-1zM38 150h1v2h-1zM39 136h1v2h-1zM39 180h1v2h-1zM40 126h1v2h-1zM40 139h1v2h-1zM44 130h1v2h-1zM45 46h1v2h-1zM45 113h1v2h-1zM47 101h1v2h-1zM48 115h1v2h-1zM48 124h1v2h-1zM48 131h1v2h-1zM53 1h1v2h-1zM53 28h1v2h-1zM53 97h1v2h-1zM54 160h1v2h-1zM55 4h1v2h-1zM55 83h1v2h-1zM56 9h1v2h-1zM56 48h1v2h-1zM57 106h1v2h-1zM57 132h1v2h-1zM58 155h1v2h-1zM61 15h1v2h-1zM62 198h1v2h-1zM63 117h1v2h-1zM64 197h1v1h-1zM66 25h1v2h-1zM67 168h1v2h-1zM67 174h1v2h-1zM68 59h1v2h-1zM68 122h1v2h-1zM70 37h1v2h-1zM70 124h1v2h-1zM70 198h1v2h-1zM71 45h1v2h-1zM71 135h1v2h-1zM72 30h1v2h-1zM74 196h1v2h-1zM75 152h1v2h-1zM75 179h1v2h-1zM76 86h1v2h-1zM77 0h1v2h-1zM77 25h1v2h-1zM77 35h1v2h-1zM77 116h1v2h-1zM78 55h1v2h-1zM78 197h1v1h-1zM79 37h1v2h-1zM80 95h1v2h-1zM80 121h1v2h-1zM80 181h1v2h-1zM80 198h1v2h-1zM81 175h1v2h-1zM81 198h1v2h-1zM82 150h1v2h-1zM83 131h1v2h-1zM84 77h1v2h-1zM84 198h1v2h-1zM85 60h1v2h-1zM86 196h1v2h-1zM87 124h1v2h-1zM87 197h1v1h-1zM88 80h1v2h-1zM88 107h1v2h-1zM89 198h1v2h-1zM90 13h1v2h-1zM90 43h1v2h-1zM91 160h1v2h-1zM91 170h1v2h-1zM92 18h1v2h-1zM92 84h1v2h-1zM94 53h1v2h-1zM96 70h1v2h-1zM96 176h1v2h-1zM97 49h1v2h-1zM98 80h1v2h-1zM99 31h1v2h-1zM99 103h1v2h-1zM109 74h1v2h-1zM110 84h1v2h-1zM111 73h1v2h-1zM112 30h1v2h-1zM112 135h1v2h-1zM113 198h1v2h-1zM114 108h1v2h-1zM114 134h1v2h-1zM115 41h1v2h-1zM116 89h1v2h-1zM117 117h1v2h-1zM117 156h1v2h-1zM118 94h1v2h-1zM120 164h1v2h-1zM123 88h1v2h-1zM123 142h1v2h-1zM124 19h1v2h-1zM124 188h1v2h-1zM126 46h1v2h-1zM126 155h1v2h-1zM127 82h1v2h-1zM127 108h1v2h-1zM127 197h1v1h-1zM128 140h1v2h-1zM129 39h1v2h-1zM129 161h1v2h-1zM129 197h1v1h-1zM130 44h1v2h-1zM130 48h1v2h-1zM131 67h1v2h-1zM131 75h1v2h-1zM132 185h1v2h-1zM132 195h1v2h-1zM133 1h1v2h-1zM133 95h1v2h-1zM134 46h1v2h-1zM134 61h1v2h-1zM134 196h1v4h-1zM135 66h1v2h-1zM135 134h1v2h-1zM136 42h1v2h-1zM136 157h1v2h-1zM136 198h1v2h-1zM137 35h1v2h-1zM137 189h1v2h-1zM139 8h1v2h-1zM139 94h1v2h-1zM140 17h1v2h-1zM140 119h1v2h-1zM142 185h1v2h-1zM143 48h1v2h-1zM144 38h1v2h-1zM145 198h1v2h-1zM146 114h1v2h-1zM147 197h1v1h-1zM148 0h1v2h-1zM148 22h1v2h-1zM148 34h1v2h-1zM148 171h1v2h-1zM149 43h1v2h-1zM151 5h1v2h-1zM152 178h1v2h-1zM153 186h1v2h-1zM153 197h1v1h-1zM155 50h1v2h-1zM156 198h1v2h-1zM158 137h1v2h-1zM158 182h1v2h-1zM161 59h1v2h-1zM161 198h1v2h-1zM162 182h1v2h-1zM164 2h1v2h-1zM165 5h1v2h-1zM165 72h1v2h-1zM165 89h1v2h-1zM166 198h1v2h-1zM168 176h1v2h-1zM169 132h1v2h-1zM173 90h1v2h-1zM174 75h1v2h-1zM174 194h1v2h-1zM175 37h1v2h-1zM176 118h1v2h-1zM176 151h1v2h-1zM176 186h1v2h-1zM177 19h1v2h-1zM178 23h1v2h-1zM179 65h1v2h-1zM179 124h1v2h-1zM179 182h1v2h-1zM182 51h1v2h-1zM184 10h1v2h-1zM185 40h1v2h-1zM185 197h1v1h-1zM186 53h1v2h-1zM187 155h1v2h-1zM187 197h1v1h-1zM188 177h1v2h-1zM189 45h1v2h-1zM189 166h1v2h-1zM189 197h1v1h-1zM190 142h1v4h-1zM192 24h1v2h-1zM193 35h1v2h-1zM194 167h1v2h-1zM194 197h1v1h-1zM195 83h1v2h-1zM195 198h1v2h-1zM197 185h1v2h-1zM198 109h1v2h-1zM199 127h1v2h-1z"/>
<path fill="#72febb" d="M1 198h1v2h-1zM2 60h1v2h-1zM4 197h1v1h-1zM8 60h1v2h-1zM9 198h1v2h-1zM12 66h1v2h-1zM17 113h1v2h-1zM17 198h1v2h-1zM19 176h1v2h-1zM21 197h1v1h-1zM24 13h1v2h-1zM25 131h1v2h-1zM25 198h1v2h-1zM27 126h1v2h-1zM30 20h1v2h-1zM33 198h1v2h-1zM35 173h1v2h-1zM41 198h1v2h-1zM43 198h1v2h-1zM45 123h1v2h-1zM49 152h1v2h-1zM57 198h1v2h-1zM64 14h1v2h-1zM65 198h1v2h-1zM66 198h1v2h-1zM70 102h1v2h-1zM86 184h1v2h-1zM88 83h1v2h-1zM89 144h1v2h-1zM92 198h1v2h-1zM93 28h1v2h-1zM98 198h1v2h-1zM100 24h1v2h-1zM101 40h1v2h-1zM101 197h1v1h-1zM102 198h1v2h-1zM106 5h1v2h-1zM107 197h1v1h-1zM109 15h1v2h-1zM110 120h1v2h-1zM114 36h1v2h-1zM115 197h1v1h-1zM116 171h1v2h-1zM117 197h1v1h-1zM118 198h1v2h-1zM120 111h1v2h-1zM121 197h1v1h-1zM122 123h1v2h-1zM123 198h1v2h-1zM124 173h1v2h-1zM127 198h1v2h-1zM129 47h1v2h-1zM133 103h1v2h-1zM139 197h1v2h-1zM141 198h1v2h-1zM142 40h1v2h-1zM146 198h1v2h-1zM149 92h1v2h-1zM162 198h1v2h-1zM164 145h1v2h-1zM164 197h1v1h-1zM168 139h1v2h-1zM169 65h1v2h-1zM170 198h1v2h-1zM172 116h1v2h-1zM179 197h1v1h-1zM183 84h1v2h-1zM183 148h1v2h-1zM185 198h1v2h-1zM187 198h1v2h-1zM190 197h1v1h-1zM191 197h1v1h-1zM198 113h1v2h-1zM199 198h1v2h-1z"/>
<path fill="#8cfead" d="M34 198h1v2h-1zM37 198h1v2h-1zM45 198h1v2h-1zM49 198h1v2h-1zM50 198h1v2h-1zM55 198h1v2h-1zM71 198h1v2h-1zM77 198h1v2h-1zM79 198h1v2h-1zM97 198h1v2h-1zM108 198h1v2h-1zM119 198h1v2h-1zM124 198h1v2h-1zM135 198h1v2h-1zM147 198h1v2h-1zM148 198h1v2h-1zM158 198h1v2h-1zM174 198h1v2h-1zM182 198h1v2h-1z"/>
<path fill="#c0eb8d" d="M3 53h1v1h-1zM3 59h1v1h-1zM5 49h1v1h-1zM5 55h1v1h-1zM5 88h1v1h-1zM5 94h1v1h-1zM5 114h1v1h-1zM5 120h1v1h-1zM7 67h1v1h-1zM7 73h1v1h-1zM8 37h1v1h-1zM8 43h1v1h-1zM9 134h1v1h-1zM9 140h1v1h-1zM11 10h1v1h-1zM11 16h1v1h-1zM13 21h1v1h-1zM13 27h1v1h-1zM16 85h1v1h-1zM16 91h1v1h-1zM17 149h1v1h-1zM17 155h1v1h-1zM19 150h1v1h-1zM19 156h1v1h-1zM21 83h1v1h-1zM21 89h1v1h-1zM21 198h1v2h-1zM23 153h1v1h-1zM23 159h1v1h-1zM27 114h1v1h-1zM27 120h1v1h-1zM27 198h1v2h-1zM28 41h1v1h-1zM28 47h1v1h-1zM28 142h1v1h-1zM28 148h1v1h-1zM29 136h1v1h-1zM29 142h1v1h-1zM33 114h1v1h-1zM33 120h1v1h-1zM36 130h1v1h-1zM36 136h1v1h-1zM36 198h1v2h-1zM39 31h1v1h-1zM39 37h1v1h-1zM39 79h1v1h-1zM39 85h1v1h-1zM40 3h1v1h-1zM40 9h1v1h-1zM40 198h1v2h-1zM41 102h1v1h-1zM41 108h1v1h-1zM43 18h1v1h-1zM43 24h1v1h-1zM43 70h1v1h-1zM43 76h1v1h-1zM45 93h1v1h-1zM45 99h1v1h-1zM46 93h1v1h-1zM46 99h1v1h-1zM46 118h1v1h-1zM46 124h1v1h-1zM47 93h1v1h-1zM47 99h1v1h-1zM48 179h1v1h-1zM48 185h1v1h-1zM49 123h1v1h-1zM49 129h1v1h-1zM50 41h1v1h-1zM50 47h1v1h-1zM51 5h1v1h-1zM51 11h1v1h-1zM53 153h1v1h-1zM53 159h1v1h-1zM54 121h1v1h-1zM54 127h1v1h-1zM57 163h1v1h-1zM57 169h1v1h-1zM58 193h1v1h-1zM58 199h1v1h-1zM60 171h1v1h-1zM60 177h1v1h-1zM61 44h1v1h-1zM61 50h1v1h-1zM62 163h1v1h-1zM62 169h1v1h-1zM63 6h1v1h-1zM63 12h1v1h-1zM63 198h1v2h-1zM64 44h1v1h-1zM64 50h1v1h-1zM68 111h1v1h-1zM68 117h1v1h-1zM70 11h1v1h-1zM70 17h1v1h-1zM70 165h1v1h-1zM70 171h1v1h-1zM71 7h1v1h-1zM71 13h1v1h-1zM73 35h1v1h-1zM73 41h1v1h-1zM73 141h1v1h-1zM73 147h1v1h-1zM77 96h1v1h-1zM77 102h1v1h-1zM77 157h1v1h-1zM77 163h1v1h-1zM78 124h1v1h-1zM78 130h1v1h-1zM79 90h1v1h-1zM79 96h1v1h-1zM80 139h1v1h-1zM80 145h1v1h-1zM81 39h1v1h-1zM81 45h1v1h-1zM82 29h1v1h-1zM82 35h1v1h-1zM82 52h1v1h-1zM82 58h1v1h-1zM82 85h1v1h-1zM82 91h1v1h-1zM82 120h1v1h-1zM82 126h1v1h-1zM83 36h1v1h-1zM83 42h1v1h-1zM83 185h1v1h-1zM83 191h1v1h-1zM85 198h1v2h-1zM88 1h1v1h-1zM89 92h1v1h-1zM89 98h1v1h-1zM91 86h1v1h-1zM91 92h1v1h-1zM91 187h1v1h-1zM91 193h1v1h-1zM92 165h1v1h-1zM92 171h1v1h-1zM94 38h1v1h-1zM94 44h1v1h-1zM99 118h1v1h-1zM99 124h1v1h-1zM99 198h1v2h-1zM100 102h1v1h-1zM100 108h1v1h-1zM100 127h1v1h-1zM100 133h1v1h-1zM100 192h1v1h-1zM100 198h1v1h-1zM102 38h1v1h-1zM102 44h1v1h-1zM106 80h1v1h-1zM106 86h1v1h-1zM106 114h1v1h-1zM106 120h1v1h-1zM106 191h1v1h-1zM106 197h1v1h-1zM108 39h1v1h-1zM108 45h1v1h-1zM109 7h1v1h-1zM109 13h1v1h-1zM110 66h1v1h-1zM110 72h1v1h-1zM111 198h1v2h-1zM112 119h1v1h-1zM112 125h1v1h-1zM114 76h1v1h-1zM114 82h1v1h-1zM115 0h1v1h-1zM115 6h1v1h-1zM118 148h1v1h-1zM118 154h1v1h-1zM119 24h1v1h-1zM119 30h1v1h-1zM119 150h1v1h-1zM119 156h1v1h-1zM119 174h1v1h-1zM119 180h1v1h-1zM121 65h1v1h-1zM121 71h1v1h-1zM121 94h1v1h-1zM121 100h1v1h-1zM121 120h1v1h-1zM121 126h1v1h-1zM122 65h1v1h-1zM122 71h1v1h-1zM123 3h1v1h-1zM128 88h1v1h-1zM128 94h1v1h-1zM129 198h1v2h-1zM132 129h1v1h-1zM132 135h1v1h-1zM132 161h1v1h-1zM132 167h1v1h-1zM132 198h1v2h-1zM133 198h1v2h-1zM137 49h1v1h-1zM137 55h1v1h-1zM137 97h1v1h-1zM137 103h1v1h-1zM137 151h1v1h-1zM137 157h1v1h-1zM138 73h1v1h-1zM138 79h1v1h-1zM139 111h1v1h-1zM139 117h1v1h-1zM142 177h1v1h-1zM142 183h1v1h-1zM143 116h1v1h-1zM143 122h1v1h-1zM145 77h1v1h-1zM145 83h1v1h-1zM146 154h1v1h-1zM146 160h1v1h-1zM148 74h1v1h-1zM148 80h1v1h-1zM148 135h1v1h-1zM148 141h1v1h-1zM149 115h1v1h-1zM149 121h1v1h-1zM149 138h1v1h-1zM149 144h1v1h-1zM154 5h1v1h-1zM154 11h1v1h-1zM154 157h1v1h-1zM154 163h1v1h-1zM158 175h1v1h-1zM158 181h1v1h-1zM159 24h1v1h-1zM159 30h1v1h-1zM160 65h1v1h-1zM160 71h1v1h-1zM161 99h1v1h-1zM161 105h1v1h-1zM161 158h1v1h-1zM161 164h1v1h-1zM162 40h1v1h-1zM162 46h1v1h-1zM162 129h1v1h-1zM162 135h1v1h-1zM163 167h1v1h-1zM163 173h1v1h-1zM164 40h1v1h-1zM164 46h1v1h-1zM164 69h1v1h-1zM164 75h1v1h-1zM164 164h1v1h-1zM164 170h1v1h-1zM165 99h1v1h-1zM165 105h1v1h-1zM166 140h1v1h-1zM166 146h1v1h-1zM168 52h1v1h-1zM168 58h1v1h-1zM169 104h1v1h-1zM169 110h1v1h-1zM169 147h1v1h-1zM169 153h1v1h-1zM171 40h1v1h-1zM171 46h1v1h-1zM171 198h1v2h-1zM172 36h1v1h-1zM172 42h1v1h-1zM172 129h1v1h-1zM172 135h1v1h-1zM172 177h1v1h-1zM172 183h1v1h-1zM173 0h1v1h-1zM173 6h1v1h-1zM173 145h1v1h-1zM173 151h1v1h-1zM175 98h1v1h-1zM175 104h1v1h-1zM175 194h1v1h-1zM176 134h1v1h-1zM176 140h1v1h-1zM176 173h1v1h-1zM176 179h1v1h-1zM177 6h1v1h-1zM177 12h1v1h-1zM177 118h1v1h-1zM177 124h1v1h-1zM178 16h1v1h-1zM178 22h1v1h-1zM178 198h1v2h-1zM179 53h1v1h-1zM179 59h1v1h-1zM179 168h1v1h-1zM179 174h1v1h-1zM179 194h1v1h-1zM180 3h1v1h-1zM182 5h1v1h-1zM183 37h1v1h-1zM183 43h1v1h-1zM184 32h1v1h-1zM184 38h1v1h-1zM184 157h1v1h-1zM184 163h1v1h-1zM185 126h1v1h-1zM185 132h1v1h-1zM185 154h1v1h-1zM185 160h1v1h-1zM186 123h1v1h-1zM186 129h1v1h-1zM186 178h1v1h-1zM186 184h1v1h-1zM186 198h1v2h-1zM187 108h1v1h-1zM187 114h1v1h-1zM188 2h1v1h-1zM189 111h1v1h-1zM189 117h1v1h-1zM190 24h1v1h-1zM190 30h1v1h-1zM191 53h1v1h-1zM191 59h1v1h-1zM192 184h1v1h-1zM192 190h1v1h-1zM193 90h1v1h-1zM193 96h1v1h-1zM194 2h1v1h-1zM194 8h1v1h-1zM194 176h1v1h-1zM194 182h1v1h-1zM196 99h1v1h-1zM196 105h1v1h-1zM196 198h1v2h-1zM197 8h1v1h-1zM197 14h1v1h-1zM197 98h1v1h-1zM197 104h1v1h-1zM198 22h1v1h-1zM198 28h1v1h-1zM198 61h1v1h-1zM198 67h1v1h-1zM198 82h1v1h-1zM198 88h1v1h-1zM198 101h1v1h-1zM198 107h1v1h-1zM198 125h1v1h-1zM198 131h1v1h-1z"/>
<path fill="#d9da7d" d="M0 33h1v1h-1zM0 39h1v1h-1zM0 88h1v1h-1zM0 94h1v1h-1zM0 198h1v2h-1zM1 49h1v1h-1zM1 55h1v1h-1zM1 88h1v1h-1zM1 94h1v1h-1zM2 49h1v1h-1zM2 55h1v1h-1zM2 135h1v1h-1zM2 141h1v1h-1zM3 88h1v1h-1zM3 94h1v1h-1zM3 184h1v1h-1zM3 190h1v1h-1zM4 47h1v1h-1zM4 53h1v1h-1zM4 90h1v1h-1zM4 96h1v1h-1zM4 135h1v1h-1zM4 141h1v1h-1zM5 9h1v1h-1zM5 15h1v1h-1zM5 180h1v1h-1zM5 186h1v1h-1zM6 11h1v1h-1zM6 17h1v1h-1zM6 48h1v1h-1zM6 54h1v1h-1zM6 91h1v1h-1zM6 97h1v1h-1zM6 127h1v1h-1zM6 133h1v1h-1zM6 162h1v1h-1zM6 168h1v1h-1zM6 191h1v1h-1zM6 197h1v1h-1zM7 12h1v1h-1zM7 18h1v1h-1zM7 184h1v1h-1zM7 190h1v1h-1zM8 2h1v1h-1zM8 8h1v1h-1zM8 158h1v1h-1zM8 164h1v1h-1zM9 11h1v1h-1zM9 17h1v1h-1zM10 54h1v1h-1zM10 60h1v1h-1zM10 95h1v1h-1zM10 101h1v1h-1zM10 119h1v1h-1zM10 125h1v1h-1zM11 36h1v1h-1zM11 42h1v1h-1zM11 89h1v1h-1zM11 95h1v1h-1zM11 161h1v1h-1zM11 167h1v1h-1zM12 99h1v1h-1zM12 105h1v1h-1zM13 103h1v1h-1zM13 109h1v1h-1zM13 138h1v1h-1zM13 144h1v1h-1zM13 175h1v1h-1zM13 181h1v1h-1zM14 4h1v1h-1zM14 10h1v1h-1zM14 86h1v1h-1zM14 92h1v1h-1zM14 122h1v1h-1zM14 128h1v1h-1zM15 6h1v1h-1zM15 12h1v1h-1zM15 30h1v1h-1zM15 36h1v1h-1zM15 87h1v1h-1zM15 93h1v1h-1zM15 125h1v1h-1zM15 131h1v1h-1zM16 42h1v1h-1zM16 48h1v1h-1zM16 125h1v1h-1zM16 131h1v1h-1zM16 159h1v1h-1zM16 165h1v1h-1zM17 2h1v1h-1zM17 8h1v1h-1zM17 44h1v1h-1zM17 50h1v1h-1zM17 83h1v1h-1zM17 89h1v1h-1zM18 0h1v1h-1zM18 6h1v1h-1zM18 83h1v1h-1zM18 89h1v1h-1zM18 138h1v1h-1zM18 144h1v1h-1zM19 14h1v1h-1zM19 20h1v1h-1zM19 62h1v1h-1zM19 68h1v1h-1zM20 12h1v1h-1zM20 18h1v1h-1zM20 60h1v1h-1zM20 66h1v1h-1zM20 105h1v1h-1zM20 111h1v1h-1zM20 163h1v1h-1zM20 169h1v1h-1zM20 194h1v1h-1zM21 44h1v1h-1zM21 50h1v1h-1zM21 113h1v1h-1zM21 119h1v1h-1zM21 164h1v1h-1zM21 170h1v1h-1zM22 42h1v1h-1zM22 48h1v1h-1zM22 94h1v1h-1zM22 100h1v1h-1zM22 162h1v1h-1zM22 168h1v1h-1zM23 2h1v1h-1zM23 85h1v1h-1zM23 91h1v1h-1zM23 183h1v1h-1zM23 189h1v1h-1zM24 5h1v1h-1zM24 83h1v1h-1zM24 89h1v1h-1zM25 41h1v1h-1zM25 47h1v1h-1zM25 109h1v1h-1zM25 115h1v1h-1zM25 193h1v1h-1zM26 140h1v1h-1zM26 146h1v1h-1zM26 195h1v1h-1zM27 18h1v1h-1zM27 24h1v1h-1zM27 41h1v1h-1zM27 47h1v1h-1zM27 84h1v1h-1zM27 90h1v1h-1zM28 198h1v2h-1zM29 44h1v1h-1zM29 50h1v1h-1zM30 43h1v1h-1zM30 49h1v1h-1zM30 131h1v1h-1zM30 137h1v1h-1zM31 114h1v1h-1zM31 120h1v1h-1zM31 161h1v1h-1zM31 167h1v1h-1zM32 11h1v1h-1zM32 17h1v1h-1zM32 36h1v1h-1zM32 42h1v1h-1zM32 178h1v1h-1zM32 184h1v1h-1zM33 4h1v1h-1zM33 10h1v1h-1zM33 74h1v1h-1zM33 80h1v1h-1zM33 166h1v1h-1zM33 172h1v1h-1zM33 193h1v1h-1zM34 34h1v1h-1zM34 40h1v1h-1zM34 82h1v1h-1zM34 88h1v1h-1zM34 130h1v1h-1zM34 136h1v1h-1zM34 166h1v1h-1zM34 172h1v1h-1zM35 4h1v1h-1zM35 10h1v1h-1zM35 39h1v1h-1zM35 45h1v1h-1zM35 94h1v1h-1zM35 100h1v1h-1zM35 153h1v1h-1zM35 159h1v1h-1zM36 2h1v1h-1zM36 8h1v1h-1zM36 47h1v1h-1zM36 53h1v1h-1zM36 99h1v1h-1zM36 105h1v1h-1zM36 155h1v1h-1zM36 161h1v1h-1zM36 177h1v1h-1zM36 183h1v1h-1zM37 1h1v1h-1zM37 62h1v1h-1zM37 68h1v1h-1zM37 86h1v1h-1zM37 92h1v1h-1zM37 169h1v1h-1zM37 175h1v1h-1zM38 5h1v1h-1zM38 11h1v1h-1zM38 63h1v1h-1zM38 69h1v1h-1zM38 112h1v1h-1zM38 118h1v1h-1zM38 182h1v1h-1zM38 188h1v1h-1zM38 198h1v2h-1zM39 127h1v1h-1zM39 133h1v1h-1zM40 34h1v1h-1zM40 40h1v1h-1zM40 61h1v1h-1zM40 67h1v1h-1zM40 94h1v1h-1zM40 100h1v1h-1zM40 169h1v1h-1zM40 175h1v1h-1zM41 5h1v1h-1zM41 11h1v1h-1zM41 35h1v1h-1zM41 41h1v1h-1zM41 60h1v1h-1zM41 66h1v1h-1zM41 133h1v1h-1zM41 139h1v1h-1zM42 35h1v1h-1zM42 41h1v1h-1zM42 65h1v1h-1zM42 71h1v1h-1zM42 93h1v1h-1zM42 99h1v1h-1zM42 133h1v1h-1zM42 139h1v1h-1zM42 177h1v1h-1zM42 183h1v1h-1zM43 175h1v1h-1zM43 181h1v1h-1zM44 10h1v1h-1zM44 16h1v1h-1zM44 94h1v1h-1zM44 100h1v1h-1zM45 7h1v1h-1zM45 13h1v1h-1zM45 175h1v1h-1zM45 181h1v1h-1zM46 31h1v1h-1zM46 37h1v1h-1zM46 145h1v1h-1zM46 151h1v1h-1zM46 169h1v1h-1zM46 175h1v1h-1zM47 42h1v1h-1zM47 48h1v1h-1zM47 117h1v1h-1zM47 123h1v1h-1zM47 146h1v1h-1zM47 152h1v1h-1zM48 5h1v1h-1zM48 40h1v1h-1zM48 46h1v1h-1zM48 94h1v1h-1zM48 100h1v1h-1zM48 141h1v1h-1zM48 147h1v1h-1zM49 4h1v1h-1zM49 43h1v1h-1zM49 49h1v1h-1zM49 96h1v1h-1zM49 102h1v1h-1zM49 169h1v1h-1zM49 175h1v1h-1zM50 12h1v1h-1zM50 18h1v1h-1zM50 119h1v1h-1zM50 125h1v1h-1zM50 169h1v1h-1zM50 175h1v1h-1zM51 94h1v1h-1zM51 100h1v1h-1zM51 135h1v1h-1zM51 141h1v1h-1zM51 170h1v1h-1zM51 176h1v1h-1zM52 15h1v1h-1zM52 21h1v1h-1zM52 97h1v1h-1zM52 103h1v1h-1zM53 10h1v1h-1zM53 16h1v1h-1zM53 64h1v1h-1zM53 70h1v1h-1zM53 129h1v1h-1zM53 135h1v1h-1zM53 198h1v2h-1zM54 14h1v1h-1zM54 20h1v1h-1zM54 85h1v1h-1zM54 91h1v1h-1zM54 171h1v1h-1zM54 177h1v1h-1zM55 14h1v1h-1zM55 20h1v1h-1zM55 97h1v1h-1zM55 103h1v1h-1zM55 125h1v1h-1zM55 131h1v1h-1zM55 151h1v1h-1zM55 157h1v1h-1zM56 39h1v1h-1zM56 45h1v1h-1zM56 93h1v1h-1zM56 99h1v1h-1zM56 127h1v1h-1zM56 133h1v1h-1zM56 153h1v1h-1zM56 159h1v1h-1zM57 4h1v1h-1zM57 43h1v1h-1zM57 49h1v1h-1zM57 92h1v1h-1zM57 98h1v1h-1zM57 122h1v1h-1zM57 128h1v1h-1zM58 49h1v1h-1zM58 55h1v1h-1zM58 83h1v1h-1zM58 89h1v1h-1zM58 165h1v1h-1zM58 171h1v1h-1zM59 31h1v1h-1zM59 37h1v1h-1zM59 98h1v1h-1zM59 104h1v1h-1zM59 165h1v1h-1zM59 171h1v1h-1zM60 26h1v1h-1zM60 32h1v1h-1zM60 76h1v1h-1zM60 82h1v1h-1zM60 127h1v1h-1zM60 133h1v1h-1zM61 112h1v1h-1zM61 118h1v1h-1zM61 136h1v1h-1zM61 142h1v1h-1zM61 175h1v1h-1zM61 181h1v1h-1zM62 0h1v1h-1zM62 88h1v1h-1zM62 94h1v1h-1zM62 130h1v1h-1zM62 136h1v1h-1zM62 186h1v1h-1zM62 192h1v1h-1zM63 161h1v1h-1zM63 167h1v1h-1zM64 86h1v1h-1zM64 92h1v1h-1zM64 120h1v1h-1zM64 126h1v1h-1zM64 147h1v1h-1zM64 153h1v1h-1zM64 184h1v1h-1zM64 190h1v1h-1zM65 11h1v1h-1zM65 17h1v1h-1zM65 90h1v1h-1zM65 96h1v1h-1zM65 174h1v1h-1zM65 180h1v1h-1zM66 15h1v1h-1zM66 21h1v1h-1zM66 80h1v1h-1zM66 86h1v1h-1zM67 60h1v1h-1zM67 66h1v1h-1zM67 84h1v1h-1zM67 90h1v1h-1zM67 132h1v1h-1zM67 138h1v1h-1zM68 198h1v2h-1zM69 24h1v1h-1zM69 30h1v1h-1zM69 47h1v1h-1zM69 53h1v1h-1zM69 86h1v1h-1zM69 92h1v1h-1zM69 118h1v1h-1zM69 124h1v1h-1zM70 81h1v1h-1zM70 87h1v1h-1zM71 37h1v1h-1zM71 43h1v1h-1zM72 9h1v1h-1zM72 15h1v1h-1zM72 47h1v1h-1zM72 53h1v1h-1zM72 83h1v1h-1zM72 89h1v1h-1zM73 11h1v1h-1zM73 17h1v1h-1zM73 87h1v1h-1zM73 93h1v1h-1zM74 1h1v1h-1zM74 44h1v1h-1zM74 50h1v1h-1zM74 129h1v1h-1zM74 135h1v1h-1zM74 175h1v1h-1zM74 181h1v1h-1zM75 46h1v1h-1zM75 52h1v1h-1zM75 87h1v1h-1zM75 93h1v1h-1zM75 125h1v1h-1zM75 131h1v1h-1zM76 22h1v1h-1zM76 28h1v1h-1zM76 47h1v1h-1zM76 53h1v1h-1zM76 99h1v1h-1zM76 105h1v1h-1zM76 159h1v1h-1zM76 165h1v1h-1zM77 185h1v1h-1zM77 191h1v1h-1zM78 40h1v1h-1zM78 46h1v1h-1zM78 72h1v1h-1zM78 78h1v1h-1zM78 97h1v1h-1zM78 103h1v1h-1zM78 175h1v1h-1zM78 181h1v1h-1zM79 12h1v1h-1zM79 18h1v1h-1zM79 123h1v1h-1zM79 129h1v1h-1zM80 5h1v1h-1zM80 38h1v1h-1zM80 44h1v1h-1zM80 78h1v1h-1zM80 84h1v1h-1zM80 195h1v1h-1zM81 2h1v1h-1zM81 8h1v1h-1zM81 92h1v1h-1zM81 98h1v1h-1zM81 123h1v1h-1zM81 129h1v1h-1zM82 171h1v1h-1zM82 177h1v1h-1zM83 93h1v1h-1zM83 99h1v1h-1zM83 118h1v1h-1zM83 124h1v1h-1zM84 4h1v1h-1zM84 10h1v1h-1zM84 40h1v1h-1zM84 46h1v1h-1zM84 64h1v1h-1zM84 70h1v1h-1zM84 95h1v1h-1zM84 101h1v1h-1zM84 120h1v1h-1zM84 126h1v1h-1zM84 161h1v1h-1zM84 167h1v1h-1zM84 187h1v1h-1zM84 193h1v1h-1zM85 74h1v1h-1zM85 80h1v1h-1zM85 114h1v1h-1zM85 120h1v1h-1zM85 158h1v1h-1zM85 164h1v1h-1zM85 187h1v1h-1zM85 193h1v1h-1zM86 32h1v1h-1zM86 38h1v1h-1zM86 118h1v1h-1zM86 124h1v1h-1zM86 168h1v1h-1zM86 174h1v1h-1zM87 31h1v1h-1zM87 37h1v1h-1zM87 117h1v1h-1zM87 123h1v1h-1zM87 168h1v1h-1zM87 174h1v1h-1zM88 36h1v1h-1zM88 42h1v1h-1zM88 70h1v1h-1zM88 76h1v1h-1zM88 166h1v1h-1zM88 172h1v1h-1zM89 15h1v1h-1zM89 21h1v1h-1zM89 47h1v1h-1zM89 53h1v1h-1zM89 114h1v1h-1zM89 120h1v1h-1zM89 179h1v1h-1zM89 185h1v1h-1zM90 32h1v1h-1zM90 38h1v1h-1zM90 85h1v1h-1zM90 91h1v1h-1zM90 189h1v1h-1zM90 195h1v1h-1zM91 8h1v1h-1zM91 14h1v1h-1zM91 34h1v1h-1zM91 40h1v1h-1zM91 134h1v1h-1zM91 140h1v1h-1zM92 64h1v1h-1zM92 70h1v1h-1zM92 117h1v1h-1zM92 123h1v1h-1zM92 192h1v1h-1zM93 37h1v1h-1zM93 43h1v1h-1zM93 114h1v1h-1zM93 120h1v1h-1zM93 192h1v1h-1zM94 109h1v1h-1zM94 115h1v1h-1zM94 191h1v1h-1zM94 197h1v1h-1zM95 40h1v1h-1zM95 46h1v1h-1zM95 96h1v1h-1zM95 102h1v1h-1zM96 22h1v1h-1zM96 28h1v1h-1zM96 96h1v1h-1zM96 102h1v1h-1zM96 125h1v1h-1zM96 131h1v1h-1zM98 39h1v1h-1zM98 45h1v1h-1zM98 63h1v1h-1zM98 69h1v1h-1zM98 92h1v1h-1zM98 98h1v1h-1zM98 118h1v1h-1zM98 124h1v1h-1zM98 185h1v1h-1zM98 191h1v1h-1zM99 61h1v1h-1zM99 67h1v1h-1zM99 194h1v1h-1zM100 4h1v1h-1zM100 73h1v1h-1zM100 79h1v1h-1zM100 163h1v1h-1zM100 169h1v1h-1zM101 1h1v1h-1zM101 73h1v1h-1zM101 79h1v1h-1zM101 99h1v1h-1zM101 105h1v1h-1zM101 181h1v1h-1zM101 187h1v1h-1zM102 72h1v1h-1zM102 78h1v1h-1zM103 100h1v1h-1zM103 106h1v1h-1zM104 30h1v1h-1zM104 36h1v1h-1zM104 69h1v1h-1zM104 75h1v1h-1zM104 125h1v1h-1zM104 131h1v1h-1zM104 164h1v1h-1zM104 170h1v1h-1zM105 38h1v1h-1zM105 44h1v1h-1zM105 96h1v1h-1zM105 102h1v1h-1zM105 122h1v1h-1zM105 128h1v1h-1zM105 166h1v1h-1zM105 172h1v1h-1zM106 17h1v1h-1zM106 23h1v1h-1zM107 139h1v1h-1zM107 145h1v1h-1zM107 181h1v1h-1zM107 187h1v1h-1zM107 198h1v2h-1zM108 3h1v1h-1zM108 9h1v1h-1zM108 67h1v1h-1zM108 73h1v1h-1zM108 110h1v1h-1zM108 116h1v1h-1zM108 142h1v1h-1zM108 148h1v1h-1zM108 176h1v1h-1zM108 182h1v1h-1zM109 63h1v1h-1zM109 69h1v1h-1zM109 109h1v1h-1zM109 115h1v1h-1zM110 103h1v1h-1zM110 109h1v1h-1zM110 169h1v1h-1zM110 175h1v1h-1zM110 192h1v1h-1zM110 198h1v1h-1zM111 57h1v1h-1zM111 63h1v1h-1zM111 143h1v1h-1zM111 149h1v1h-1zM111 166h1v1h-1zM111 172h1v1h-1zM112 86h1v1h-1zM112 92h1v1h-1zM112 150h1v1h-1zM112 156h1v1h-1zM113 27h1v1h-1zM113 33h1v1h-1zM113 92h1v1h-1zM113 98h1v1h-1zM113 121h1v1h-1zM113 127h1v1h-1zM113 191h1v1h-1zM113 197h1v1h-1zM114 2h1v1h-1zM114 8h1v1h-1zM114 198h1v2h-1zM115 188h1v1h-1zM115 194h1v1h-1zM115 198h1v2h-1zM116 4h1v1h-1zM116 10h1v1h-1zM116 109h1v1h-1zM116 115h1v1h-1zM117 10h1v1h-1zM117 16h1v1h-1zM117 55h1v1h-1zM117 61h1v1h-1zM118 65h1v1h-1zM118 71h1v1h-1zM118 124h1v1h-1zM118 130h1v1h-1zM119 109h1v1h-1zM119 115h1v1h-1zM120 29h1v1h-1zM120 35h1v1h-1zM120 63h1v1h-1zM120 69h1v1h-1zM120 103h1v1h-1zM120 109h1v1h-1zM120 135h1v1h-1zM120 141h1v1h-1zM121 5h1v1h-1zM122 99h1v1h-1zM122 105h1v1h-1zM122 162h1v1h-1zM122 168h1v1h-1zM122 198h1v2h-1zM123 61h1v1h-1zM123 67h1v1h-1zM123 128h1v1h-1zM123 134h1v1h-1zM123 157h1v1h-1zM123 163h1v1h-1zM124 75h1v1h-1zM124 81h1v1h-1zM124 110h1v1h-1zM124 116h1v1h-1zM125 4h1v1h-1zM125 111h1v1h-1zM125 117h1v1h-1zM125 170h1v1h-1zM125 176h1v1h-1zM126 17h1v1h-1zM126 23h1v1h-1zM126 85h1v1h-1zM126 91h1v1h-1zM126 117h1v1h-1zM126 123h1v1h-1zM126 178h1v1h-1zM126 184h1v1h-1zM127 171h1v1h-1zM127 177h1v1h-1zM128 38h1v1h-1zM128 44h1v1h-1zM128 153h1v1h-1zM128 159h1v1h-1zM128 176h1v1h-1zM128 182h1v1h-1zM129 119h1v1h-1zM129 125h1v1h-1zM130 64h1v1h-1zM130 70h1v1h-1zM130 119h1v1h-1zM130 125h1v1h-1zM131 86h1v1h-1zM131 92h1v1h-1zM131 120h1v1h-1zM131 126h1v1h-1zM131 159h1v1h-1zM131 165h1v1h-1zM133 121h1v1h-1zM133 127h1v1h-1zM134 22h1v1h-1zM134 28h1v1h-1zM134 123h1v1h-1zM134 129h1v1h-1zM134 183h1v1h-1zM134 189h1v1h-1zM136 9h1v1h-1zM136 15h1v1h-1zM137 8h1v1h-1zM137 14h1v1h-1zM138 14h1v1h-1zM138 20h1v1h-1zM138 46h1v1h-1zM138 52h1v1h-1zM138 103h1v1h-1zM138 109h1v1h-1zM138 198h1v2h-1zM140 69h1v1h-1zM140 75h1v1h-1zM141 19h1v1h-1zM141 25h1v1h-1zM141 47h1v1h-1zM141 53h1v1h-1zM141 115h1v1h-1zM141 121h1v1h-1zM142 14h1v1h-1zM142 20h1v1h-1zM142 118h1v1h-1zM142 124h1v1h-1zM143 25h1v1h-1zM143 31h1v1h-1zM143 179h1v1h-1zM143 185h1v1h-1zM145 112h1v1h-1zM145 118h1v1h-1zM145 184h1v1h-1zM145 190h1v1h-1zM146 47h1v1h-1zM146 53h1v1h-1zM146 81h1v1h-1zM146 87h1v1h-1zM146 124h1v1h-1zM146 130h1v1h-1zM146 183h1v1h-1zM146 189h1v1h-1zM147 80h1v1h-1zM147 86h1v1h-1zM147 113h1v1h-1zM147 119h1v1h-1zM148 10h1v1h-1zM148 16h1v1h-1zM149 0h1v1h-1zM149 6h1v1h-1zM149 198h1v2h-1zM150 8h1v1h-1zM150 14h1v1h-1zM150 72h1v1h-1zM150 78h1v1h-1zM150 112h1v1h-1zM150 118h1v1h-1zM150 163h1v1h-1zM150 169h1v1h-1zM151 144h1v1h-1zM151 150h1v1h-1zM152 34h1v1h-1zM152 40h1v1h-1zM152 73h1v1h-1zM152 79h1v1h-1zM152 114h1v1h-1zM152 120h1v1h-1zM153 2h1v1h-1zM153 8h1v1h-1zM153 49h1v1h-1zM153 55h1v1h-1zM153 152h1v1h-1zM153 158h1v1h-1zM154 46h1v1h-1zM154 52h1v1h-1zM154 100h1v1h-1zM154 106h1v1h-1zM154 182h1v1h-1zM154 188h1v1h-1zM155 116h1v1h-1zM155 122h1v1h-1zM155 140h1v1h-1zM155 146h1v1h-1zM155 198h1v2h-1zM156 41h1v1h-1zM156 47h1v1h-1zM156 156h1v1h-1zM156 162h1v1h-1zM157 33h1v1h-1zM157 39h1v1h-1zM157 68h1v1h-1zM157 74h1v1h-1zM157 113h1v1h-1zM157 119h1v1h-1zM157 168h1v1h-1zM157 174h1v1h-1zM158 7h1v1h-1zM158 13h1v1h-1zM158 72h1v1h-1zM158 78h1v1h-1zM160 21h1v1h-1zM160 27h1v1h-1zM160 103h1v1h-1zM160 109h1v1h-1zM161 44h1v1h-1zM161 50h1v1h-1zM161 190h1v1h-1zM161 196h1v1h-1zM162 18h1v1h-1zM162 24h1v1h-1zM162 156h1v1h-1zM162 162h1v1h-1zM162 191h1v1h-1zM163 40h1v1h-1zM163 46h1v1h-1zM163 116h1v1h-1zM163 122h1v1h-1zM164 124h1v1h-1zM164 130h1v1h-1zM165 60h1v1h-1zM165 66h1v1h-1zM165 142h1v1h-1zM165 148h1v1h-1zM165 161h1v1h-1zM165 167h1v1h-1zM165 198h1v2h-1zM166 15h1v1h-1zM166 21h1v1h-1zM166 63h1v1h-1zM166 69h1v1h-1zM166 100h1v1h-1zM166 106h1v1h-1zM167 59h1v1h-1zM167 65h1v1h-1zM167 86h1v1h-1zM167 92h1v1h-1zM167 117h1v1h-1zM167 123h1v1h-1zM167 139h1v1h-1zM167 145h1v1h-1zM167 157h1v1h-1zM167 163h1v1h-1zM168 72h1v1h-1zM168 78h1v1h-1zM168 97h1v1h-1zM168 103h1v1h-1zM168 187h1v1h-1zM168 193h1v1h-1zM169 11h1v1h-1zM169 17h1v1h-1zM169 54h1v1h-1zM169 60h1v1h-1zM169 166h1v1h-1zM169 172h1v1h-1zM169 194h1v1h-1zM170 16h1v1h-1zM170 22h1v1h-1zM170 79h1v1h-1zM170 85h1v1h-1zM170 129h1v1h-1zM170 135h1v1h-1zM170 147h1v1h-1zM170 153h1v1h-1zM170 166h1v1h-1zM170 172h1v1h-1zM171 1h1v1h-1zM171 7h1v1h-1zM171 101h1v1h-1zM171 107h1v1h-1zM171 140h1v1h-1zM171 146h1v1h-1zM171 157h1v1h-1zM171 163h1v1h-1zM172 2h1v1h-1zM172 8h1v1h-1zM172 109h1v1h-1zM172 115h1v1h-1zM172 154h1v1h-1zM172 160h1v1h-1zM173 32h1v1h-1zM173 38h1v1h-1zM173 64h1v1h-1zM173 70h1v1h-1zM173 125h1v1h-1zM173 131h1v1h-1zM173 179h1v1h-1zM173 185h1v1h-1zM174 3h1v1h-1zM174 62h1v1h-1zM174 68h1v1h-1zM174 100h1v1h-1zM174 106h1v1h-1zM174 138h1v1h-1zM174 144h1v1h-1zM174 156h1v1h-1zM174 162h1v1h-1zM174 176h1v1h-1zM174 182h1v1h-1zM175 59h1v1h-1zM175 65h1v1h-1zM175 132h1v1h-1zM175 138h1v1h-1zM175 158h1v1h-1zM175 164h1v1h-1zM176 5h1v1h-1zM176 11h1v1h-1zM176 96h1v1h-1zM176 102h1v1h-1zM177 95h1v1h-1zM177 101h1v1h-1zM177 141h1v1h-1zM177 147h1v1h-1zM177 169h1v1h-1zM177 175h1v1h-1zM178 95h1v1h-1zM178 101h1v1h-1zM178 117h1v1h-1zM178 123h1v1h-1zM178 141h1v1h-1zM178 147h1v1h-1zM178 173h1v1h-1zM178 179h1v1h-1zM179 14h1v1h-1zM179 20h1v1h-1zM179 141h1v1h-1zM179 147h1v1h-1zM180 41h1v1h-1zM180 47h1v1h-1zM180 61h1v1h-1zM180 67h1v1h-1zM180 173h1v1h-1zM180 179h1v1h-1zM180 193h1v1h-1zM180 199h1v1h-1zM181 4h1v1h-1zM181 34h1v1h-1zM181 40h1v1h-1zM181 66h1v1h-1zM181 72h1v1h-1zM181 169h1v1h-1zM181 175h1v1h-1zM182 61h1v1h-1zM182 67h1v1h-1zM182 105h1v1h-1zM182 111h1v1h-1zM182 129h1v1h-1zM182 135h1v1h-1zM182 168h1v1h-1zM182 174h1v1h-1zM182 189h1v1h-1zM182 195h1v1h-1zM183 0h1v1h-1zM183 6h1v1h-1zM183 126h1v1h-1zM183 132h1v1h-1zM183 179h1v1h-1zM183 185h1v1h-1zM184 4h1v1h-1zM184 64h1v1h-1zM184 70h1v1h-1zM184 178h1v1h-1zM184 184h1v1h-1zM185 6h1v1h-1zM185 12h1v1h-1zM185 79h1v1h-1zM185 85h1v1h-1zM185 178h1v1h-1zM185 184h1v1h-1zM186 43h1v1h-1zM186 49h1v1h-1zM186 70h1v1h-1zM186 76h1v1h-1zM186 94h1v1h-1zM186 100h1v1h-1zM186 140h1v1h-1zM186 146h1v1h-1zM187 7h1v1h-1zM187 13h1v1h-1zM187 40h1v1h-1zM187 46h1v1h-1zM187 77h1v1h-1zM187 83h1v1h-1zM187 165h1v1h-1zM187 171h1v1h-1zM187 190h1v1h-1zM187 196h1v1h-1zM188 159h1v1h-1zM188 165h1v1h-1zM188 192h1v1h-1zM189 7h1v1h-1zM189 13h1v1h-1zM189 189h1v1h-1zM189 195h1v1h-1zM190 82h1v1h-1zM190 88h1v1h-1zM190 114h1v1h-1zM190 120h1v1h-1zM190 180h1v1h-1zM190 186h1v1h-1zM191 11h1v1h-1zM191 17h1v1h-1zM191 72h1v1h-1zM191 78h1v1h-1zM191 153h1v1h-1zM191 159h1v1h-1zM192 4h1v1h-1zM192 34h1v1h-1zM192 40h1v1h-1zM192 74h1v1h-1zM192 80h1v1h-1zM192 92h1v1h-1zM192 98h1v1h-1zM192 139h1v1h-1zM192 145h1v1h-1zM192 163h1v1h-1zM192 169h1v1h-1zM193 17h1v1h-1zM193 23h1v1h-1zM193 48h1v1h-1zM193 54h1v1h-1zM193 140h1v1h-1zM193 146h1v1h-1zM193 191h1v1h-1zM194 25h1v1h-1zM194 31h1v1h-1zM194 78h1v1h-1zM194 84h1v1h-1zM194 96h1v1h-1zM194 102h1v1h-1zM194 153h1v1h-1zM194 159h1v1h-1zM195 0h1v1h-1zM195 21h1v1h-1zM195 27h1v1h-1zM195 71h1v1h-1zM195 77h1v1h-1zM195 97h1v1h-1zM195 103h1v1h-1zM195 136h1v1h-1zM195 142h1v1h-1zM195 161h1v1h-1zM195 167h1v1h-1zM195 186h1v1h-1zM195 192h1v1h-1zM196 36h1v1h-1zM196 42h1v1h-1zM196 74h1v1h-1zM196 80h1v1h-1zM196 150h1v1h-1zM196 156h1v1h-1zM197 58h1v1h-1zM197 64h1v1h-1zM197 127h1v1h-1zM197 133h1v1h-1zM197 148h1v1h-1zM197 154h1v1h-1zM198 1h1v1h-1zM198 7h1v1h-1zM198 171h1v1h-1zM198 177h1v1h-1zM198 189h1v1h-1zM198 195h1v1h-1zM199 8h1v1h-1zM199 14h1v1h-1zM199 58h1v1h-1zM199 64h1v1h-1zM199 95h1v1h-1zM199 101h1v1h-1zM199 159h1v1h-1zM199 165h1v1h-1zM199 190h1v1h-1zM199 196h1v1h-1z"/>
<path fill="#f2c26b" d="M3 198h1v2h-1zM6 198h1v2h-1zM7 198h1v2h-1zM16 198h1v2h-1zM19 198h1v2h-1zM26 198h1v2h-1zM39 198h1v2h-1zM48 198h1v2h-1zM51 198h1v2h-1zM61 198h1v2h-1zM74 198h1v2h-1zM78 198h1v2h-1zM93 198h1v2h-1zM109 198h1v2h-1zM117 198h1v2h-1zM131 198h1v2h-1zM143 198h1v2h-1zM160 198h1v2h-1zM167 198h1v2h-1zM168 198h1v2h-1zM175 198h1v2h-1zM191 198h1v2h-1z"/>
<path fill="#ffa558" d="M3 54h1v5h-1zM5 50h1v5h-1zM5 89h1v5h-1zM5 115h1v5h-1zM7 68h1v5h-1zM8 38h1v5h-1zM9 135h1v5h-1zM10 198h1v2h-1zM11 11h1v5h-1zM13 22h1v5h-1zM16 86h1v5h-1zM17 150h1v5h-1zM19 151h1v5h-1zM20 198h1v2h-1zM21 84h1v5h-1zM23 154h1v5h-1zM27 115h1v5h-1zM28 42h1v5h-1zM28 143h1v5h-1zM29 137h1v5h-1zM33 115h1v5h-1zM36 131h1v5h-1zM39 32h1v5h-1zM39 80h1v5h-1zM40 4h1v5h-1zM41 103h1v5h-1zM43 19h1v5h-1zM43 71h1v5h-1zM45 94h1v5h-1zM46 94h1v5h-1zM46 119h1v5h-1zM47 94h1v5h-1zM48 180h1v5h-1zM49 124h1v5h-1zM50 42h1v5h-1zM51 6h1v5h-1zM53 154h1v5h-1zM54 122h1v5h-1zM57 164h1v5h-1zM58 194h1v5h-1zM60 172h1v5h-1zM61 45h1v5h-1zM62 164h1v5h-1zM63 7h1v5h-1zM64 45h1v5h-1zM68 112h1v5h-1zM70 12h1v5h-1zM70 166h1v5h-1zM71 8h1v5h-1zM73 36h1v5h-1zM73 142h1v5h-1zM77 97h1v5h-1zM77 158h1v5h-1zM78 125h1v5h-1zM79 91h1v5h-1zM80 140h1v5h-1zM81 40h1v5h-1zM82 30h1v5h-1zM82 53h1v5h-1zM82 86h1v5h-1zM82 121h1v5h-1zM83 37h1v5h-1zM83 186h1v5h-1zM88 0h1v1h-1zM88 198h1v2h-1zM89 93h1v5h-1zM91 87h1v5h-1zM91 188h1v5h-1zM92 166h1v5h-1zM94 39h1v5h-1zM99 119h1v5h-1zM100 103h1v5h-1zM100 128h1v5h-1zM100 193h1v5h-1zM101 198h1v2h-1zM102 39h1v5h-1zM104 198h1v2h-1zM106 81h1v5h-1zM106 115h1v5h-1zM106 192h1v5h-1zM108 40h1v5h-1zM109 8h1v5h-1zM110 67h1v5h-1zM112 120h1v5h-1zM112 198h1v2h-1zM114 77h1v5h-1zM115 1h1v5h-1zM118 149h1v5h-1zM119 25h1v5h-1zM119 151h1v5h-1zM119 175h1v5h-1zM121 66h1v5h-1zM121 95h1v5h-1zM121 121h1v5h-1zM122 66h1v5h-1zM123 0h1v3h-1zM126 198h1v2h-1zM128 89h1v5h-1zM130 198h1v2h-1zM132 130h1v5h-1zM132 162h1v5h-1zM137 50h1v5h-1zM137 98h1v5h-1zM137 152h1v5h-1zM138 74h1v5h-1zM139 112h1v5h-1zM142 178h1v5h-1zM143 117h1v5h-1zM144 198h1v2h-1zM145 78h1v5h-1zM146 155h1v5h-1zM148 75h1v5h-1zM148 136h1v5h-1zM149 116h1v5h-1zM149 139h1v5h-1zM154 6h1v5h-1zM154 158h1v5h-1zM158 176h1v5h-1zM159 25h1v5h-1zM160 66h1v5h-1zM161 100h1v5h-1zM161 159h1v5h-1zM162 41h1v5h-1zM162 130h1v5h-1zM163 168h1v5h-1zM164 41h1v5h-1zM164 70h1v5h-1zM164 165h1v5h-1zM164 198h1v2h-1zM165 100h1v5h-1zM166 141h1v5h-1zM168 53h1v5h-1zM169 105h1v5h-1zM169 148h1v5h-1zM169 198h1v2h-1zM171 41h1v5h-1zM172 37h1v5h-1zM172 130h1v5h-1zM172 178h1v5h-1zM173 1h1v5h-1zM173 146h1v5h-1zM175 99h1v5h-1zM175 195h1v2h-1zM176 135h1v5h-1zM176 174h1v5h-1zM177 7h1v5h-1zM177 119h1v5h-1zM178 17h1v5h-1zM179 54h1v5h-1zM179 169h1v5h-1zM179 195h1v2h-1zM180 0h1v3h-1zM182 0h1v5h-1zM183 38h1v5h-1zM184 33h1v5h-1zM184 158h1v5h-1zM185 127h1v5h-1zM185 155h1v5h-1zM186 124h1v5h-1zM186 179h1v5h-1zM187 109h1v5h-1zM188 0h1v2h-1zM189 112h1v5h-1zM190 25h1v5h-1zM191 54h1v5h-1zM192 185h1v5h-1zM193 91h1v5h-1zM194 3h1v5h-1zM194 177h1v5h-1zM194 198h1v2h-1zM196 100h1v5h-1zM197 9h1v5h-1zM197 99h1v5h-1zM198 23h1v5h-1zM198 62h1v5h-1zM198 83h1v5h-1zM198 102h1v5h-1zM198 126h1v5h-1z"/>
<path fill="#ff8444" d="M0 34h1v5h-1zM0 89h1v5h-1zM1 50h1v5h-1zM1 89h1v5h-1zM2 50h1v5h-1zM2 136h1v5h-1zM3 185h1v5h-1zM4 48h1v5h-1zM4 91h1v5h-1zM4 136h1v5h-1zM5 10h1v5h-1zM5 181h1v5h-1zM5 198h1v2h-1zM6 12h1v5h-1zM6 49h1v5h-1zM6 92h1v5h-1zM6 128h1v5h-1zM6 163h1v5h-1zM6 192h1v5h-1zM7 13h1v5h-1zM7 185h1v5h-1zM8 3h1v5h-1zM9 12h1v5h-1zM10 55h1v5h-1zM10 96h1v5h-1zM11 37h1v5h-1zM11 162h1v5h-1zM12 100h1v5h-1zM13 104h1v5h-1zM13 139h1v5h-1zM13 176h1v5h-1zM14 5h1v5h-1zM14 87h1v5h-1zM15 7h1v5h-1zM15 31h1v5h-1zM15 126h1v5h-1zM16 43h1v5h-1zM16 126h1v5h-1zM17 3h1v5h-1zM18 1h1v5h-1zM18 139h1v5h-1zM19 15h1v5h-1zM19 63h1v5h-1zM20 13h1v5h-1zM20 61h1v5h-1zM20 106h1v5h-1zM21 45h1v5h-1zM21 114h1v5h-1zM21 165h1v5h-1zM22 95h1v5h-1zM22 163h1v5h-1zM23 86h1v5h-1zM23 184h1v5h-1zM24 0h1v5h-1zM24 84h1v5h-1zM25 42h1v5h-1zM25 110h1v5h-1zM25 194h1v3h-1zM26 141h1v5h-1zM26 196h1v2h-1zM27 19h1v5h-1zM27 42h1v5h-1zM27 85h1v5h-1zM29 45h1v5h-1zM30 44h1v5h-1zM31 115h1v5h-1zM31 162h1v5h-1zM32 12h1v5h-1zM32 179h1v5h-1zM33 5h1v5h-1zM33 75h1v5h-1zM33 167h1v5h-1zM33 194h1v4h-1zM34 35h1v5h-1zM34 83h1v5h-1zM34 131h1v5h-1zM34 167h1v5h-1zM35 40h1v5h-1zM35 95h1v5h-1zM35 154h1v5h-1zM35 198h1v2h-1zM36 3h1v5h-1zM36 48h1v5h-1zM36 100h1v5h-1zM36 156h1v5h-1zM36 178h1v5h-1zM37 0h1v1h-1zM37 63h1v5h-1zM37 87h1v5h-1zM37 170h1v5h-1zM38 6h1v5h-1zM38 64h1v5h-1zM38 113h1v5h-1zM38 183h1v5h-1zM39 128h1v5h-1zM40 35h1v5h-1zM40 62h1v5h-1zM40 95h1v5h-1zM40 170h1v5h-1zM41 6h1v5h-1zM41 61h1v5h-1zM41 134h1v5h-1zM42 66h1v5h-1zM42 94h1v5h-1zM42 134h1v5h-1zM42 178h1v5h-1zM43 176h1v5h-1zM44 11h1v5h-1zM44 95h1v5h-1zM45 8h1v5h-1zM45 176h1v5h-1zM46 146h1v5h-1zM47 43h1v5h-1zM47 118h1v5h-1zM47 147h1v5h-1zM48 0h1v5h-1zM48 41h1v5h-1zM48 95h1v5h-1zM49 44h1v5h-1zM49 97h1v5h-1zM49 170h1v5h-1zM50 13h1v5h-1zM50 120h1v5h-1zM50 170h1v5h-1zM51 95h1v5h-1zM51 136h1v5h-1zM51 171h1v5h-1zM52 16h1v5h-1zM52 98h1v5h-1zM53 11h1v5h-1zM53 65h1v5h-1zM53 130h1v5h-1zM54 15h1v5h-1zM54 86h1v5h-1zM55 15h1v5h-1zM55 98h1v5h-1zM55 152h1v5h-1zM56 40h1v5h-1zM56 94h1v5h-1zM56 128h1v5h-1zM56 154h1v5h-1zM57 0h1v4h-1zM57 93h1v5h-1zM57 123h1v5h-1zM58 50h1v5h-1zM58 84h1v5h-1zM59 32h1v5h-1zM59 99h1v5h-1zM60 128h1v5h-1zM61 113h1v5h-1zM61 137h1v5h-1zM62 131h1v5h-1zM63 162h1v5h-1zM64 87h1v5h-1zM64 121h1v5h-1zM64 148h1v5h-1zM65 12h1v5h-1zM65 91h1v5h-1zM66 16h1v5h-1zM67 61h1v5h-1zM67 85h1v5h-1zM67 133h1v5h-1zM69 25h1v5h-1zM69 48h1v5h-1zM69 87h1v5h-1zM69 119h1v5h-1zM70 82h1v5h-1zM71 38h1v5h-1zM72 10h1v5h-1zM72 48h1v5h-1zM72 84h1v5h-1zM73 12h1v5h-1zM73 88h1v5h-1zM74 0h1v1h-1zM74 45h1v5h-1zM74 130h1v5h-1zM75 47h1v5h-1zM75 88h1v5h-1zM76 23h1v5h-1zM76 48h1v5h-1zM76 100h1v5h-1zM76 160h1v5h-1zM77 186h1v5h-1zM78 41h1v5h-1zM78 73h1v5h-1zM78 98h1v5h-1zM78 176h1v5h-1zM79 124h1v5h-1zM80 0h1v5h-1zM80 39h1v5h-1zM80 79h1v5h-1zM81 3h1v5h-1zM81 93h1v5h-1zM81 124h1v5h-1zM82 172h1v5h-1zM83 94h1v5h-1zM83 119h1v5h-1zM84 5h1v5h-1zM84 41h1v5h-1zM84 96h1v5h-1zM84 121h1v5h-1zM84 162h1v5h-1zM84 188h1v5h-1zM85 75h1v5h-1zM85 159h1v5h-1zM85 188h1v5h-1zM86 33h1v5h-1zM86 119h1v5h-1zM86 169h1v5h-1zM86 198h1v2h-1zM87 32h1v5h-1zM87 118h1v5h-1zM88 37h1v5h-1zM88 71h1v5h-1zM88 167h1v5h-1zM89 16h1v5h-1zM89 48h1v5h-1zM89 115h1v5h-1zM89 180h1v5h-1zM90 33h1v5h-1zM90 86h1v5h-1zM90 190h1v5h-1zM91 9h1v5h-1zM91 35h1v5h-1zM91 135h1v5h-1zM92 65h1v5h-1zM92 118h1v5h-1zM92 193h1v5h-1zM93 38h1v5h-1zM93 115h1v5h-1zM93 193h1v4h-1zM94 110h1v5h-1zM95 41h1v5h-1zM95 97h1v5h-1zM96 23h1v5h-1zM96 97h1v5h-1zM96 126h1v5h-1zM98 40h1v5h-1zM98 64h1v5h-1zM98 93h1v5h-1zM98 119h1v5h-1zM98 186h1v5h-1zM99 62h1v5h-1zM99 195h1v3h-1zM100 0h1v4h-1zM100 74h1v5h-1zM100 164h1v5h-1zM101 0h1v1h-1zM101 74h1v5h-1zM101 100h1v5h-1zM101 182h1v5h-1zM102 73h1v5h-1zM103 101h1v5h-1zM104 31h1v5h-1zM104 70h1v5h-1zM104 165h1v5h-1zM105 39h1v5h-1zM106 18h1v5h-1zM107 140h1v5h-1zM108 4h1v5h-1zM108 68h1v5h-1zM108 111h1v5h-1zM108 143h1v5h-1zM108 177h1v5h-1zM109 110h1v5h-1zM110 104h1v5h-1zM110 170h1v5h-1zM110 193h1v4h-1zM112 87h1v5h-1zM112 151h1v5h-1zM113 28h1v5h-1zM113 93h1v5h-1zM113 122h1v5h-1zM113 192h1v5h-1zM114 3h1v5h-1zM115 189h1v5h-1zM116 5h1v5h-1zM116 110h1v5h-1zM117 11h1v5h-1zM118 125h1v5h-1zM119 110h1v5h-1zM120 30h1v5h-1zM120 64h1v5h-1zM120 104h1v5h-1zM120 136h1v5h-1zM121 0h1v5h-1zM122 100h1v5h-1zM122 163h1v5h-1zM123 62h1v5h-1zM123 158h1v5h-1zM124 76h1v5h-1zM124 111h1v5h-1zM125 0h1v4h-1zM125 112h1v5h-1zM125 171h1v5h-1zM126 18h1v5h-1zM126 86h1v5h-1zM126 118h1v5h-1zM127 172h1v5h-1zM128 39h1v5h-1zM128 154h1v5h-1zM128 177h1v5h-1zM129 120h1v5h-1zM130 65h1v5h-1zM130 120h1v5h-1zM131 121h1v5h-1zM133 122h1v5h-1zM134 23h1v5h-1zM134 184h1v5h-1zM136 10h1v5h-1zM137 9h1v5h-1zM138 15h1v5h-1zM138 47h1v5h-1zM138 104h1v5h-1zM140 70h1v5h-1zM141 20h1v5h-1zM141 116h1v5h-1zM142 15h1v5h-1zM142 119h1v5h-1zM142 198h1v2h-1zM143 26h1v5h-1zM143 180h1v5h-1zM145 113h1v5h-1zM145 185h1v5h-1zM146 48h1v5h-1zM146 82h1v5h-1zM146 125h1v5h-1zM146 184h1v5h-1zM147 81h1v5h-1zM147 114h1v5h-1zM148 11h1v5h-1zM149 1h1v5h-1zM150 9h1v5h-1zM150 73h1v5h-1zM150 113h1v5h-1zM151 145h1v5h-1zM152 35h1v5h-1zM152 74h1v5h-1zM152 115h1v5h-1zM153 3h1v5h-1zM153 50h1v5h-1zM153 153h1v5h-1zM154 47h1v5h-1zM154 101h1v5h-1zM154 183h1v5h-1zM155 117h1v5h-1zM155 141h1v5h-1zM156 157h1v5h-1zM157 34h1v5h-1zM157 69h1v5h-1zM157 169h1v5h-1zM158 8h1v5h-1zM160 22h1v5h-1zM160 104h1v5h-1zM161 45h1v5h-1zM161 191h1v5h-1zM162 19h1v5h-1zM162 157h1v5h-1zM162 192h1v5h-1zM163 41h1v5h-1zM163 117h1v5h-1zM164 125h1v5h-1zM165 61h1v5h-1zM165 143h1v5h-1zM165 162h1v5h-1zM166 16h1v5h-1zM166 64h1v5h-1zM166 101h1v5h-1zM167 60h1v5h-1zM167 87h1v5h-1zM167 118h1v5h-1zM167 140h1v5h-1zM167 158h1v5h-1zM168 98h1v5h-1zM168 188h1v5h-1zM169 12h1v5h-1zM169 167h1v5h-1zM169 195h1v2h-1zM170 17h1v5h-1zM170 80h1v5h-1zM170 130h1v5h-1zM170 148h1v5h-1zM170 167h1v5h-1zM171 102h1v5h-1zM171 141h1v5h-1zM171 158h1v5h-1zM172 3h1v5h-1zM172 110h1v5h-1zM172 155h1v5h-1zM173 33h1v5h-1zM173 126h1v5h-1zM173 180h1v5h-1zM174 0h1v3h-1zM174 63h1v5h-1zM174 101h1v5h-1zM174 139h1v5h-1zM174 157h1v5h-1zM174 177h1v5h-1zM175 133h1v5h-1zM175 159h1v5h-1zM176 6h1v5h-1zM176 97h1v5h-1zM177 142h1v5h-1zM177 170h1v5h-1zM178 96h1v5h-1zM178 118h1v5h-1zM178 142h1v5h-1zM178 174h1v5h-1zM179 15h1v5h-1zM179 142h1v5h-1zM180 42h1v5h-1zM180 62h1v5h-1zM180 174h1v5h-1zM180 194h1v5h-1zM181 0h1v4h-1zM181 35h1v5h-1zM181 67h1v5h-1zM181 170h1v5h-1zM182 62h1v5h-1zM182 106h1v5h-1zM182 169h1v5h-1zM182 190h1v5h-1zM183 1h1v5h-1zM183 127h1v5h-1zM183 180h1v5h-1zM184 0h1v4h-1zM184 65h1v5h-1zM184 179h1v5h-1zM185 7h1v5h-1zM185 80h1v5h-1zM185 179h1v5h-1zM186 44h1v5h-1zM186 71h1v5h-1zM186 95h1v5h-1zM186 141h1v5h-1zM187 8h1v5h-1zM187 78h1v5h-1zM187 166h1v5h-1zM187 191h1v5h-1zM188 193h1v5h-1zM189 8h1v5h-1zM190 83h1v5h-1zM190 115h1v5h-1zM190 181h1v5h-1zM191 12h1v5h-1zM191 73h1v5h-1zM191 154h1v5h-1zM192 0h1v4h-1zM192 35h1v5h-1zM192 75h1v5h-1zM192 93h1v5h-1zM192 140h1v5h-1zM192 164h1v5h-1zM193 18h1v5h-1zM193 49h1v5h-1zM193 141h1v5h-1zM193 198h1v2h-1zM194 26h1v5h-1zM194 79h1v5h-1zM194 97h1v5h-1zM195 22h1v5h-1zM195 72h1v5h-1zM195 98h1v5h-1zM195 137h1v5h-1zM195 162h1v5h-1zM195 187h1v5h-1zM196 37h1v5h-1zM196 75h1v5h-1zM196 151h1v5h-1zM197 59h1v5h-1zM197 149h1v5h-1zM198 2h1v5h-1zM198 172h1v5h-1zM199 9h1v5h-1zM199 59h1v5h-1zM199 96h1v5h-1zM199 160h1v5h-1zM199 191h1v5h-1z"/>
<path fill="#ff5f30" d="M3 89h1v5h-1zM8 159h1v5h-1zM10 120h1v5h-1zM11 90h1v5h-1zM14 123h1v5h-1zM15 88h1v5h-1zM16 160h1v5h-1zM17 45h1v5h-1zM17 84h1v5h-1zM18 84h1v5h-1zM20 164h1v5h-1zM20 195h1v3h-1zM22 43h1v5h-1zM23 0h1v2h-1zM30 132h1v5h-1zM32 37h1v5h-1zM35 5h1v5h-1zM41 36h1v5h-1zM42 36h1v5h-1zM46 32h1v5h-1zM46 170h1v5h-1zM48 142h1v5h-1zM49 0h1v4h-1zM54 172h1v5h-1zM55 126h1v5h-1zM57 44h1v5h-1zM58 166h1v5h-1zM59 166h1v5h-1zM60 27h1v5h-1zM60 77h1v5h-1zM61 176h1v5h-1zM62 89h1v5h-1zM62 187h1v5h-1zM64 185h1v5h-1zM65 175h1v5h-1zM66 81h1v5h-1zM74 176h1v5h-1zM75 126h1v5h-1zM79 13h1v5h-1zM80 196h1v2h-1zM84 65h1v5h-1zM85 115h1v5h-1zM87 169h1v5h-1zM94 192h1v5h-1zM104 126h1v5h-1zM105 97h1v5h-1zM105 123h1v5h-1zM105 167h1v5h-1zM107 182h1v5h-1zM109 64h1v5h-1zM111 58h1v5h-1zM111 144h1v5h-1zM111 167h1v5h-1zM117 56h1v5h-1zM118 66h1v5h-1zM123 129h1v5h-1zM126 179h1v5h-1zM131 87h1v5h-1zM131 160h1v5h-1zM134 124h1v5h-1zM141 48h1v5h-1zM150 164h1v5h-1zM156 42h1v5h-1zM157 114h1v5h-1zM158 73h1v5h-1zM168 73h1v5h-1zM169 55h1v5h-1zM171 2h1v5h-1zM173 65h1v5h-1zM175 60h1v5h-1zM177 96h1v5h-1zM182 130h1v5h-1zM187 41h1v5h-1zM188 160h1v5h-1zM189 190h1v5h-1zM193 192h1v5h-1zM194 154h1v5h-1zM197 128h1v5h-1zM198 190h1v5h-1z"/>
</g></g></g>
<rect x="51.3" y="228.6" width="584.9" height="172.4" fill="none" stroke="#1a1a1a" stroke-width="0.8"/>
<line x1="517.2" y1="228.6" x2="517.2" y2="401" stroke="#101820" stroke-width="1.3"/>
<line x1="47.8" y1="401" x2="51.3" y2="401" stroke="#1a1a1a" stroke-width="0.8"/>
<text x="45.3" y="406.7" font-size="13.2" text-anchor="end" fill="#1a1a1a">0</text>
<line x1="47.8" y1="366.52" x2="51.3" y2="366.52" stroke="#1a1a1a" stroke-width="0.8"/>
<text x="45.3" y="372.22" font-size="13.2" text-anchor="end" fill="#1a1a1a">200</text>
<line x1="47.8" y1="332.04" x2="51.3" y2="332.04" stroke="#1a1a1a" stroke-width="0.8"/>
<text x="45.3" y="337.74" font-size="13.2" text-anchor="end" fill="#1a1a1a">400</text>
<line x1="47.8" y1="297.56" x2="51.3" y2="297.56" stroke="#1a1a1a" stroke-width="0.8"/>
<text x="45.3" y="303.26" font-size="13.2" text-anchor="end" fill="#1a1a1a">600</text>
<line x1="47.8" y1="263.08" x2="51.3" y2="263.08" stroke="#1a1a1a" stroke-width="0.8"/>
<text x="45.3" y="268.78" font-size="13.2" text-anchor="end" fill="#1a1a1a">800</text>
<line x1="47.8" y1="228.6" x2="51.3" y2="228.6" stroke="#1a1a1a" stroke-width="0.8"/>
<text x="45.3" y="234.3" font-size="13.2" text-anchor="end" fill="#1a1a1a">1000</text>
<line x1="51.3" y1="401" x2="51.3" y2="404.5" stroke="#1a1a1a" stroke-width="0.8"/>
<text x="51.3" y="418.9" font-size="13.2" text-anchor="middle" fill="#1a1a1a">0</text>
<line x1="124.41" y1="401" x2="124.41" y2="404.5" stroke="#1a1a1a" stroke-width="0.8"/>
<text x="124.41" y="418.9" font-size="13.2" text-anchor="middle" fill="#1a1a1a">25</text>
<line x1="197.53" y1="401" x2="197.53" y2="404.5" stroke="#1a1a1a" stroke-width="0.8"/>
<text x="197.53" y="418.9" font-size="13.2" text-anchor="middle" fill="#1a1a1a">50</text>
<line x1="270.64" y1="401" x2="270.64" y2="404.5" stroke="#1a1a1a" stroke-width="0.8"/>
<text x="270.64" y="418.9" font-size="13.2" text-anchor="middle" fill="#1a1a1a">75</text>
<line x1="343.75" y1="401" x2="343.75" y2="404.5" stroke="#1a1a1a" stroke-width="0.8"/>
<text x="343.75" y="418.9" font-size="13.2" text-anchor="middle" fill="#1a1a1a">100</text>
<line x1="416.86" y1="401" x2="416.86" y2="404.5" stroke="#1a1a1a" stroke-width="0.8"/>
<text x="416.86" y="418.9" font-size="13.2" text-anchor="middle" fill="#1a1a1a">125</text>
<line x1="489.98" y1="401" x2="489.98" y2="404.5" stroke="#1a1a1a" stroke-width="0.8"/>
<text x="489.98" y="418.9" font-size="13.2" text-anchor="middle" fill="#1a1a1a">150</text>
<line x1="563.09" y1="401" x2="563.09" y2="404.5" stroke="#1a1a1a" stroke-width="0.8"/>
<text x="563.09" y="418.9" font-size="13.2" text-anchor="middle" fill="#1a1a1a">175</text>
<line x1="636.2" y1="401" x2="636.2" y2="404.5" stroke="#1a1a1a" stroke-width="0.8"/>
<text x="636.2" y="418.9" font-size="13.2" text-anchor="middle" fill="#1a1a1a">200</text>
<text x="2.9" y="104.2" font-size="14.8" text-anchor="start" fill="#1a1a1a" font-style="italic">t</text>
<text x="2.9" y="312" font-size="14.8" text-anchor="start" fill="#1a1a1a" font-style="italic">t</text>
<text x="294" y="436.7" font-size="15.15" text-anchor="start" fill="#1a1a1a">neuron index</text>
<text x="270.2" y="17" font-size="14.15" text-anchor="start" fill="#1a1a1a">excitatory</text>
<text x="533.6" y="17" font-size="14.15" text-anchor="start" fill="#228b22">inhibitory</text>
<text x="54.4" y="14.7" font-size="15.5" text-anchor="start" fill="#1a1a1a" font-style="italic" font-family='"Liberation Serif","DejaVu Serif",serif' stroke="#1a1a1a" stroke-width="0.15">δ</text>
<text x="68" y="14.7" font-size="15.5" text-anchor="start" fill="#1a1a1a" font-family='"Liberation Serif","DejaVu Serif",serif' stroke="#1a1a1a" stroke-width="0.15" textLength="11.8" lengthAdjust="spacingAndGlyphs">=</text>
<text x="85.8" y="14.7" font-size="16" text-anchor="start" fill="#1a1a1a" font-family='"Liberation Serif","DejaVu Serif",serif' stroke="#1a1a1a" stroke-width="0.15" textLength="21.4" lengthAdjust="spacingAndGlyphs">0.5</text>
<text x="55.9" y="223.4" font-size="15.5" text-anchor="start" fill="#1a1a1a" font-style="italic" font-family='"Liberation Serif","DejaVu Serif",serif' stroke="#1a1a1a" stroke-width="0.15">δ</text>
<text x="70.3" y="223.4" font-size="15.5" text-anchor="start" fill="#1a1a1a" font-family='"Liberation Serif","DejaVu Serif",serif' stroke="#1a1a1a" stroke-width="0.15" textLength="11.2" lengthAdjust="spacingAndGlyphs">=</text>
<text x="88.3" y="223.4" font-size="16" text-anchor="start" fill="#1a1a1a" font-family='"Liberation Serif","DejaVu Serif",serif' stroke="#1a1a1a" stroke-width="0.15" textLength="17.0" lengthAdjust="spacingAndGlyphs">10</text>
<defs><linearGradient id="rbg" x1="0" y1="0" x2="0" y2="1"><stop offset="0" stop-color="#ff0000"/><stop offset="0.0625" stop-color="#ff2f18"/><stop offset="0.125" stop-color="#ff5f30"/><stop offset="0.1875" stop-color="#ff8c49"/><stop offset="0.25" stop-color="#ffb360"/><stop offset="0.3125" stop-color="#e0d377"/><stop offset="0.375" stop-color="#c0eb8d"/><stop offset="0.4375" stop-color="#a0faa1"/><stop offset="0.5" stop-color="#80ffb4"/><stop offset="0.5625" stop-color="#60fac5"/><stop offset="0.625" stop-color="#40ecd4"/><stop offset="0.6875" stop-color="#20d5e1"/><stop offset="0.75" stop-color="#00b5eb"/><stop offset="0.8125" stop-color="#208ef4"/><stop offset="0.875" stop-color="#4062fa"/><stop offset="0.9375" stop-color="#6032fe"/><stop offset="1" stop-color="#8000ff"/></linearGradient></defs>
<rect x="663.3" y="131.3" width="8.5" height="173.6" fill="url(#rbg)" stroke="#1a1a1a" stroke-width="0.8"/>
<line x1="671.8" y1="154.9" x2="675.3" y2="154.9" stroke="#1a1a1a" stroke-width="0.8"/>
<text x="678.1" y="159.8" font-size="13.2" text-anchor="start" fill="#1a1a1a">2</text>
<line x1="671.8" y1="186.9" x2="675.3" y2="186.9" stroke="#1a1a1a" stroke-width="0.8"/>
<text x="678.1" y="191.8" font-size="13.2" text-anchor="start" fill="#1a1a1a">1</text>
<line x1="671.8" y1="218.9" x2="675.3" y2="218.9" stroke="#1a1a1a" stroke-width="0.8"/>
<text x="678.1" y="223.8" font-size="13.2" text-anchor="start" fill="#1a1a1a">0</text>
<line x1="671.8" y1="250.9" x2="675.3" y2="250.9" stroke="#1a1a1a" stroke-width="0.8"/>
<text x="678.1" y="255.8" font-size="13.2" text-anchor="start" fill="#1a1a1a">−1</text>
<line x1="671.8" y1="282.9" x2="675.3" y2="282.9" stroke="#1a1a1a" stroke-width="0.8"/>
<text x="678.1" y="287.8" font-size="13.2" text-anchor="start" fill="#1a1a1a">−2</text>
<rect x="437.2" y="760.6" width="236.2" height="195" fill="#ffffff" stroke="none" stroke-width="0.8"/>
<line x1="444" y1="760.6" x2="444" y2="955.6" stroke="#cfcfcf" stroke-width="1.2"/>
<line x1="554.5" y1="760.6" x2="554.5" y2="955.6" stroke="#cfcfcf" stroke-width="1.2"/>
<line x1="665" y1="760.6" x2="665" y2="955.6" stroke="#cfcfcf" stroke-width="1.2"/>
<line x1="437.2" y1="945" x2="673.4" y2="945" stroke="#cfcfcf" stroke-width="1.2"/>
<line x1="437.2" y1="917.55" x2="673.4" y2="917.55" stroke="#cfcfcf" stroke-width="1.2"/>
<line x1="437.2" y1="890.1" x2="673.4" y2="890.1" stroke="#cfcfcf" stroke-width="1.2"/>
<line x1="437.2" y1="862.65" x2="673.4" y2="862.65" stroke="#cfcfcf" stroke-width="1.2"/>
<line x1="437.2" y1="835.2" x2="673.4" y2="835.2" stroke="#cfcfcf" stroke-width="1.2"/>
<line x1="437.2" y1="807.75" x2="673.4" y2="807.75" stroke="#cfcfcf" stroke-width="1.2"/>
<line x1="437.2" y1="780.3" x2="673.4" y2="780.3" stroke="#cfcfcf" stroke-width="1.2"/>
<polyline points="444,904.1 449.52,897.6 455.05,901.3 460.57,898.9 466.1,901.7 471.62,903.1 477.15,903.9 482.68,905.4 488.2,904.4 493.73,903.1 499.25,907.6 504.77,900.9 510.3,904.4 515.83,907.4 521.35,904.4 526.88,906.1 532.4,905.2 537.92,912 543.45,908.3 548.98,916 554.5,914.7 560.02,913.5 565.55,917.9 571.08,921.2 576.6,921.9 582.12,924 587.65,927.1 593.17,927.1 598.7,924.1 604.23,927.3 609.75,925.2 615.27,929.3 620.8,926 626.33,926.9 631.85,927.6 637.38,926.9 642.9,926.2 648.42,928.4 653.95,926.9 659.48,926 665,927.8" fill="none" stroke="#1f77b4" stroke-width="1.7" stroke-linejoin="round"/>
<g fill="#1f77b4"><circle cx="444" cy="904.1" r="2.0"/><circle cx="449.52" cy="897.6" r="2.0"/><circle cx="455.05" cy="901.3" r="2.0"/><circle cx="460.57" cy="898.9" r="2.0"/><circle cx="466.1" cy="901.7" r="2.0"/><circle cx="471.62" cy="903.1" r="2.0"/><circle cx="477.15" cy="903.9" r="2.0"/><circle cx="482.68" cy="905.4" r="2.0"/><circle cx="488.2" cy="904.4" r="2.0"/><circle cx="493.73" cy="903.1" r="2.0"/><circle cx="499.25" cy="907.6" r="2.0"/><circle cx="504.77" cy="900.9" r="2.0"/><circle cx="510.3" cy="904.4" r="2.0"/><circle cx="515.83" cy="907.4" r="2.0"/><circle cx="521.35" cy="904.4" r="2.0"/><circle cx="526.88" cy="906.1" r="2.0"/><circle cx="532.4" cy="905.2" r="2.0"/><circle cx="537.92" cy="912" r="2.0"/><circle cx="543.45" cy="908.3" r="2.0"/><circle cx="548.98" cy="916" r="2.0"/><circle cx="554.5" cy="914.7" r="2.0"/><circle cx="560.02" cy="913.5" r="2.0"/><circle cx="565.55" cy="917.9" r="2.0"/><circle cx="571.08" cy="921.2" r="2.0"/><circle cx="576.6" cy="921.9" r="2.0"/><circle cx="582.12" cy="924" r="2.0"/><circle cx="587.65" cy="927.1" r="2.0"/><circle cx="593.17" cy="927.1" r="2.0"/><circle cx="598.7" cy="924.1" r="2.0"/><circle cx="604.23" cy="927.3" r="2.0"/><circle cx="609.75" cy="925.2" r="2.0"/><circle cx="615.27" cy="929.3" r="2.0"/><circle cx="620.8" cy="926" r="2.0"/><circle cx="626.33" cy="926.9" r="2.0"/><circle cx="631.85" cy="927.6" r="2.0"/><circle cx="637.38" cy="926.9" r="2.0"/><circle cx="642.9" cy="926.2" r="2.0"/><circle cx="648.42" cy="928.4" r="2.0"/><circle cx="653.95" cy="926.9" r="2.0"/><circle cx="659.48" cy="926" r="2.0"/><circle cx="665" cy="927.8" r="2.0"/></g>
<polyline points="444,930.8 449.52,924 455.05,927.8 460.57,925.2 466.1,928.4 471.62,929.1 477.15,929.9 482.68,932.2 488.2,930.4 493.73,928.9 499.25,933.5 504.77,925.8 510.3,930.2 515.83,932.2 521.35,929.5 526.88,931.1 532.4,930.4 537.92,935.6 543.45,932.6 548.98,939.4 554.5,938.3 560.02,935.4 565.55,940 571.08,942.7 576.6,941.8 582.12,943.3 587.65,946.2 593.17,945.5 598.7,943.3 604.23,947 609.75,945.5 615.27,947.9 620.8,944 626.33,945.3 631.85,946.2 637.38,945 642.9,944.8 648.42,946.4 653.95,944.8 659.48,944 665,945.7" fill="none" stroke="#ff7f0e" stroke-width="1.7" stroke-linejoin="round"/>
<g fill="#ff7f0e"><circle cx="444" cy="930.8" r="2.0"/><circle cx="449.52" cy="924" r="2.0"/><circle cx="455.05" cy="927.8" r="2.0"/><circle cx="460.57" cy="925.2" r="2.0"/><circle cx="466.1" cy="928.4" r="2.0"/><circle cx="471.62" cy="929.1" r="2.0"/><circle cx="477.15" cy="929.9" r="2.0"/><circle cx="482.68" cy="932.2" r="2.0"/><circle cx="488.2" cy="930.4" r="2.0"/><circle cx="493.73" cy="928.9" r="2.0"/><circle cx="499.25" cy="933.5" r="2.0"/><circle cx="504.77" cy="925.8" r="2.0"/><circle cx="510.3" cy="930.2" r="2.0"/><circle cx="515.83" cy="932.2" r="2.0"/><circle cx="521.35" cy="929.5" r="2.0"/><circle cx="526.88" cy="931.1" r="2.0"/><circle cx="532.4" cy="930.4" r="2.0"/><circle cx="537.92" cy="935.6" r="2.0"/><circle cx="543.45" cy="932.6" r="2.0"/><circle cx="548.98" cy="939.4" r="2.0"/><circle cx="554.5" cy="938.3" r="2.0"/><circle cx="560.02" cy="935.4" r="2.0"/><circle cx="565.55" cy="940" r="2.0"/><circle cx="571.08" cy="942.7" r="2.0"/><circle cx="576.6" cy="941.8" r="2.0"/><circle cx="582.12" cy="943.3" r="2.0"/><circle cx="587.65" cy="946.2" r="2.0"/><circle cx="593.17" cy="945.5" r="2.0"/><circle cx="598.7" cy="943.3" r="2.0"/><circle cx="604.23" cy="947" r="2.0"/><circle cx="609.75" cy="945.5" r="2.0"/><circle cx="615.27" cy="947.9" r="2.0"/><circle cx="620.8" cy="944" r="2.0"/><circle cx="626.33" cy="945.3" r="2.0"/><circle cx="631.85" cy="946.2" r="2.0"/><circle cx="637.38" cy="945" r="2.0"/><circle cx="642.9" cy="944.8" r="2.0"/><circle cx="648.42" cy="946.4" r="2.0"/><circle cx="653.95" cy="944.8" r="2.0"/><circle cx="659.48" cy="944" r="2.0"/><circle cx="665" cy="945.7" r="2.0"/></g>
<polyline points="444,797 449.52,791.3 455.05,795.5 460.57,794 466.1,796.3 471.62,799.2 477.15,798.3 482.68,797.7 488.2,800.5 493.73,800.5 499.25,803.6 504.77,799 510.3,802.7 515.83,807.3 521.35,805.3 526.88,804.7 532.4,804.7 537.92,815.6 543.45,809.9 548.98,821.3 554.5,820.5 560.02,823.1 565.55,828.1 571.08,835.5 576.6,839.3 582.12,845.8 587.65,848.9 593.17,850.2 598.7,848 604.23,846.2 609.75,847.1 615.27,853.9 620.8,852.1 626.33,854.4 631.85,855.4 637.38,853 642.9,852.1 648.42,856.3 653.95,856.3 659.48,852.1 665,855.4" fill="none" stroke="#2ca02c" stroke-width="1.7" stroke-linejoin="round"/>
<g fill="#2ca02c"><circle cx="444" cy="797" r="2.0"/><circle cx="449.52" cy="791.3" r="2.0"/><circle cx="455.05" cy="795.5" r="2.0"/><circle cx="460.57" cy="794" r="2.0"/><circle cx="466.1" cy="796.3" r="2.0"/><circle cx="471.62" cy="799.2" r="2.0"/><circle cx="477.15" cy="798.3" r="2.0"/><circle cx="482.68" cy="797.7" r="2.0"/><circle cx="488.2" cy="800.5" r="2.0"/><circle cx="493.73" cy="800.5" r="2.0"/><circle cx="499.25" cy="803.6" r="2.0"/><circle cx="504.77" cy="799" r="2.0"/><circle cx="510.3" cy="802.7" r="2.0"/><circle cx="515.83" cy="807.3" r="2.0"/><circle cx="521.35" cy="805.3" r="2.0"/><circle cx="526.88" cy="804.7" r="2.0"/><circle cx="532.4" cy="804.7" r="2.0"/><circle cx="537.92" cy="815.6" r="2.0"/><circle cx="543.45" cy="809.9" r="2.0"/><circle cx="548.98" cy="821.3" r="2.0"/><circle cx="554.5" cy="820.5" r="2.0"/><circle cx="560.02" cy="823.1" r="2.0"/><circle cx="565.55" cy="828.1" r="2.0"/><circle cx="571.08" cy="835.5" r="2.0"/><circle cx="576.6" cy="839.3" r="2.0"/><circle cx="582.12" cy="845.8" r="2.0"/><circle cx="587.65" cy="848.9" r="2.0"/><circle cx="593.17" cy="850.2" r="2.0"/><circle cx="598.7" cy="848" r="2.0"/><circle cx="604.23" cy="846.2" r="2.0"/><circle cx="609.75" cy="847.1" r="2.0"/><circle cx="615.27" cy="853.9" r="2.0"/><circle cx="620.8" cy="852.1" r="2.0"/><circle cx="626.33" cy="854.4" r="2.0"/><circle cx="631.85" cy="855.4" r="2.0"/><circle cx="637.38" cy="853" r="2.0"/><circle cx="642.9" cy="852.1" r="2.0"/><circle cx="648.42" cy="856.3" r="2.0"/><circle cx="653.95" cy="856.3" r="2.0"/><circle cx="659.48" cy="852.1" r="2.0"/><circle cx="665" cy="855.4" r="2.0"/></g>
<rect x="437.2" y="760.6" width="236.2" height="195" fill="none" stroke="#1a1a1a" stroke-width="0.8"/>
<line x1="433.2" y1="945" x2="437.2" y2="945" stroke="#1a1a1a" stroke-width="0.8"/>
<text x="432.4" y="949.6" font-size="12.3" text-anchor="end" fill="#1a1a1a">0.07</text>
<line x1="433.2" y1="917.55" x2="437.2" y2="917.55" stroke="#1a1a1a" stroke-width="0.8"/>
<text x="432.4" y="922.15" font-size="12.3" text-anchor="end" fill="#1a1a1a">0.08</text>
<line x1="433.2" y1="890.1" x2="437.2" y2="890.1" stroke="#1a1a1a" stroke-width="0.8"/>
<text x="432.4" y="894.7" font-size="12.3" text-anchor="end" fill="#1a1a1a">0.09</text>
<line x1="433.2" y1="862.65" x2="437.2" y2="862.65" stroke="#1a1a1a" stroke-width="0.8"/>
<text x="432.4" y="867.25" font-size="12.3" text-anchor="end" fill="#1a1a1a">0.10</text>
<line x1="433.2" y1="835.2" x2="437.2" y2="835.2" stroke="#1a1a1a" stroke-width="0.8"/>
<text x="432.4" y="839.8" font-size="12.3" text-anchor="end" fill="#1a1a1a">0.11</text>
<line x1="433.2" y1="807.75" x2="437.2" y2="807.75" stroke="#1a1a1a" stroke-width="0.8"/>
<text x="432.4" y="812.35" font-size="12.3" text-anchor="end" fill="#1a1a1a">0.12</text>
<line x1="433.2" y1="780.3" x2="437.2" y2="780.3" stroke="#1a1a1a" stroke-width="0.8"/>
<text x="432.4" y="784.9" font-size="12.3" text-anchor="end" fill="#1a1a1a">0.13</text>
<line x1="444" y1="955.6" x2="444" y2="959.6" stroke="#1a1a1a" stroke-width="0.8"/>
<text x="443.5" y="972" font-size="12.3" text-anchor="middle" fill="#1a1a1a">10<tspan dy="-5.4" font-size="8.6">−1</tspan></text>
<line x1="554.5" y1="955.6" x2="554.5" y2="959.6" stroke="#1a1a1a" stroke-width="0.8"/>
<text x="554" y="972" font-size="12.3" text-anchor="middle" fill="#1a1a1a">10<tspan dy="-5.4" font-size="8.6">0</tspan></text>
<line x1="665" y1="955.6" x2="665" y2="959.6" stroke="#1a1a1a" stroke-width="0.8"/>
<text x="664.5" y="972" font-size="12.3" text-anchor="middle" fill="#1a1a1a">10<tspan dy="-5.4" font-size="8.6">1</tspan></text>
<line x1="477.26" y1="955.6" x2="477.26" y2="957.6" stroke="#1a1a1a" stroke-width="0.6"/>
<line x1="496.72" y1="955.6" x2="496.72" y2="957.6" stroke="#1a1a1a" stroke-width="0.6"/>
<line x1="510.53" y1="955.6" x2="510.53" y2="957.6" stroke="#1a1a1a" stroke-width="0.6"/>
<line x1="521.24" y1="955.6" x2="521.24" y2="957.6" stroke="#1a1a1a" stroke-width="0.6"/>
<line x1="529.99" y1="955.6" x2="529.99" y2="957.6" stroke="#1a1a1a" stroke-width="0.6"/>
<line x1="537.38" y1="955.6" x2="537.38" y2="957.6" stroke="#1a1a1a" stroke-width="0.6"/>
<line x1="543.79" y1="955.6" x2="543.79" y2="957.6" stroke="#1a1a1a" stroke-width="0.6"/>
<line x1="549.44" y1="955.6" x2="549.44" y2="957.6" stroke="#1a1a1a" stroke-width="0.6"/>
<line x1="587.76" y1="955.6" x2="587.76" y2="957.6" stroke="#1a1a1a" stroke-width="0.6"/>
<line x1="607.22" y1="955.6" x2="607.22" y2="957.6" stroke="#1a1a1a" stroke-width="0.6"/>
<line x1="621.03" y1="955.6" x2="621.03" y2="957.6" stroke="#1a1a1a" stroke-width="0.6"/>
<line x1="631.74" y1="955.6" x2="631.74" y2="957.6" stroke="#1a1a1a" stroke-width="0.6"/>
<line x1="640.49" y1="955.6" x2="640.49" y2="957.6" stroke="#1a1a1a" stroke-width="0.6"/>
<line x1="647.88" y1="955.6" x2="647.88" y2="957.6" stroke="#1a1a1a" stroke-width="0.6"/>
<line x1="654.29" y1="955.6" x2="654.29" y2="957.6" stroke="#1a1a1a" stroke-width="0.6"/>
<line x1="659.94" y1="955.6" x2="659.94" y2="957.6" stroke="#1a1a1a" stroke-width="0.6"/>
<rect x="609" y="767" width="57.5" height="70" fill="#ffffff" stroke="#cccccc" stroke-width="0.8" rx="2.5" fill-opacity="0.8"/>
<line x1="612.2" y1="778.6" x2="637.5" y2="778.6" stroke="#1f77b4" stroke-width="1.5"/>
<line x1="612.2" y1="801.2" x2="637.5" y2="801.2" stroke="#ff7f0e" stroke-width="1.5"/>
<line x1="612.2" y1="824" x2="637.5" y2="824" stroke="#2ca02c" stroke-width="1.5"/>
<text x="648" y="783.4" font-size="12.3" font-style="italic" fill="#1a1a1a">T</text>
<line x1="651.32" y1="772.03" x2="655.01" y2="772.03" stroke="#1a1a1a" stroke-width="0.9"/>
<text x="648" y="806" font-size="12.3" font-style="italic" fill="#1a1a1a">T<tspan dy="2.6" font-size="8.6">E</tspan></text>
<line x1="651.32" y1="794.63" x2="655.01" y2="794.63" stroke="#1a1a1a" stroke-width="0.9"/>
<text x="648" y="828.8" font-size="12.3" font-style="italic" fill="#1a1a1a">T<tspan dy="2.6" font-size="8.6">I</tspan></text>
<line x1="651.32" y1="817.43" x2="655.01" y2="817.43" stroke="#1a1a1a" stroke-width="0.9"/>
<text x="387.4" y="812.7" font-size="13.0" font-style="italic" fill="#1a1a1a">T</text>
<line x1="390.91" y1="800.82" x2="394.81" y2="800.82" stroke="#1a1a1a" stroke-width="0.9"/>
<text x="387.4" y="832.8" font-size="13.0" font-style="italic" fill="#1a1a1a">T<tspan dy="2.6" font-size="9.1">E</tspan></text>
<line x1="390.91" y1="820.92" x2="394.81" y2="820.92" stroke="#1a1a1a" stroke-width="0.9"/>
<text x="387.4" y="853" font-size="13.0" font-style="italic" fill="#1a1a1a">T<tspan dy="2.6" font-size="9.1">I</tspan></text>
<line x1="390.91" y1="841.12" x2="394.81" y2="841.12" stroke="#1a1a1a" stroke-width="0.9"/>
<text x="633" y="988" font-size="13.5" text-anchor="start" fill="#1a1a1a" font-style="italic">δ</text>
<text x="447.8" y="755" font-size="15.8" text-anchor="start" fill="#1a1a1a" font-style="italic" font-family='"Liberation Serif","DejaVu Serif",serif' stroke="#1a1a1a" stroke-width="0.15">D</text>
<text x="465" y="755" font-size="15.5" text-anchor="start" fill="#1a1a1a" font-family='"Liberation Serif","DejaVu Serif",serif' stroke="#1a1a1a" stroke-width="0.15" textLength="13.6" lengthAdjust="spacingAndGlyphs">=</text>
<text x="482.6" y="755" font-size="16.2" text-anchor="start" fill="#1a1a1a" font-family='"Liberation Serif","DejaVu Serif",serif' stroke="#1a1a1a" stroke-width="0.15">10</text>
<defs><clipPath id="cp1"><rect x="52.7" y="481.4" width="230.9" height="200.8"/></clipPath></defs>
<g stroke-width="0.5" stroke-linejoin="round" clip-path="url(#cp1)">
<rect x="52.7" y="481.4" width="230.9" height="200.8" fill="#333399" stroke="none" stroke-width="0.8"/>
<path d="M55.4 495.7L56.5 496.1L60.4 496.9L64.2 497L68.1 497.2L72.6 497.2L75.8 497.1L79.6 496L83.5 495.9L87.3 496.8L91.5 497.2L95 497.2L98.9 497.2L102.7 497.2L106.6 497.3L110.4 497.5L114.3 497.3L116.2 497.2L118.1 496.8L122 495.7L125.8 495.9L129.7 496.5L132 497.2L133.5 497.3L137.4 497.4L141.2 497.5L145.1 497.5L148.9 497.5L152.8 497.3L153.9 497.2L156.6 496.4L160.5 496.7L164.3 497.2L168.2 497.5L172 497.9L175.8 498.1L179.7 497.8L183.5 497.4L186.1 497.2L187.4 497L191.2 496.8L194.2 497.2L195.1 497.2L198.9 497.2L199.9 497.2L202.8 496.5L206.6 496.6L209.7 497.2L210.5 497.2L214.3 497.7L218.2 498L222 498.1L225.9 498L229.7 497.8L233.6 497.5L236.6 497.2L237.4 496.9L241.3 496.4L245.1 496.5L249 497.1L249.5 497.2L252.8 497.4L256.7 497.5L260.5 497.4L264.4 497.3L268.2 497.4L272.1 497.8L275.9 497.6L279.8 497.4L283.6 497.4L283.6 550.3L260.5 550.3L249 550.3L241.3 550.4L233.6 550.5L225.9 550.6L222 550.8L218.2 550.9L214.3 551L210.5 551.3L206.6 551.5L198.9 552.2L195.1 552.6L191.2 553.2L187.4 553.9L183.5 554.8L179.7 555.9L175.8 557.3L174.4 558.9L173.9 560.3L173.8 561.7L174 563.2L174.7 564.6L175.8 565.5L179.7 566.9L183.5 567.9L187.4 568.7L191.2 569.4L195.1 569.8L202.8 570.6L206.6 570.9L210.5 571.2L214.3 571.4L218.2 571.5L225.9 571.8L229.7 571.9L237.4 572L245.1 572.1L256.7 572.2L283.6 572.2L283.6 682.2L145.2 682.2L52.7 682.2L52.7 495ZM121.1 639.2L120.6 640.6L120.4 642L122 644.7L122.8 643.5L123.4 642L123.1 640.6L122.7 639.2L122 638Z" fill="#1f5bc1" stroke="#1f5bc1" fill-rule="evenodd"/>
<path d="M56.5 498.9L60.4 499L64.2 499.1L75.8 499.3L79.6 499L83.5 498.9L87.3 499.2L91.2 499.2L95 499.3L98.9 499.4L110.4 499.6L118.1 499.2L122 498.9L125.8 499.1L129.7 499.3L133.5 499.7L137.4 499.6L141.2 499.7L145.1 499.8L148.9 499.5L152.8 499.4L156.6 499.2L160.5 499.3L164.3 499.4L168.2 499.7L172 500.2L175.8 500.4L179.7 500.2L183.5 499.8L187.4 499.5L191.2 499.4L195.1 499.7L198.9 499.9L202.8 499.8L206.6 499.7L210.5 499.9L214.3 500.3L218.2 500.5L222 500.4L225.9 500.2L230.1 500L233.6 499.9L237.4 499.6L241.3 499.3L245.1 499.3L249 499.5L252.8 499.6L256.7 499.6L260.5 499.4L264.4 499.4L268.2 499.6L272.1 500.2L275.9 500L283.6 499.6L283.6 547.6L256.7 547.6L241.3 547.6L229.7 547.7L218.2 547.8L206.6 547.9L195.1 548.1L191.2 548.3L187.4 548.9L183.5 549.8L182 550.2L179.7 551.7L176.7 553.1L175.8 553.5L173.5 554.5L172 555.9L168.2 557L164.3 557.8L160.5 558.6L156.6 560.2L156.2 560.3L152.8 561.6L151 563.2L149.6 564.6L148.9 565.5L148.6 566L148.4 567.5L148.9 569.2L149.4 570.3L149.8 571.8L149.3 574.6L149.1 576.1L147.3 577.5L145.1 578L144.1 578.9L143 580.4L142.3 581.8L142.5 583.2L142.8 584.7L143.3 586.1L144.4 587.5L145.1 588.1L146.1 589L147.1 590.4L147.7 591.8L149 594.7L149.7 596.1L149.9 597.6L149.2 600.4L148.9 601.6L148.7 601.9L148.9 604.7L148.9 606.2L148.5 607.6L146.7 609.1L145.1 609.5L143.3 610.5L141.2 611.9L143.2 613.4L145.1 615.1L146.7 616.2L148 617.7L149.4 619.1L150.4 620.5L151.2 622L149.9 623.4L148.9 624.1L147.5 624.8L145.1 625.7L143.4 626.3L142.2 627.7L143.2 629.1L145.1 629.5L146.2 630.6L147.2 632L145.8 633.4L145.1 633.9L141.4 633.4L141.2 632.2L141 633.4L139.9 634.9L139.1 636.3L138.7 637.7L138.4 639.2L138.4 640.6L138.4 642L137.4 642.3L135.6 642L134.9 640.6L134 639.2L133.5 638.6L132.7 640.6L132.1 642L129.7 642.9L129.3 642L129 639.2L128.8 637.7L127.4 636.3L125.8 635.6L125.1 634.9L123.4 633.4L122 632L123.1 630.6L124 629.1L124.8 627.7L124.7 626.3L123.6 624.8L122 623.7L119.5 624.8L118.1 625.8L117 626.3L115.3 627.7L114.3 628.2L110.4 628.5L109.1 629.1L107.2 630.6L106.6 631.2L105.6 632L105.7 636.3L106.1 637.7L106.9 639.2L108.1 640.6L110.5 642L114.1 643.5L116.8 644.9L118.1 645.8L118.5 646.3L119.1 647.8L120 650.6L120.5 652.1L120.3 653.5L120 654.9L119.5 656.4L118.6 657.8L118.1 658.4L114.3 659.1L112.1 662.1L112.6 663.6L113.2 665L113.9 666.4L114.3 667.3L118.1 667.7L118.4 669.3L118.7 672.2L118.1 673.6L114.3 674.4L113.8 675L112.5 676.5L112 677.9L113 679.3L114.3 680.2L115.6 680.8L118.1 682L118.1 682.2L92.3 682.2L91.9 680.8L91.2 679.1L90.2 677.9L88.8 676.5L87.3 675.9L86.9 676.5L85.5 677.9L83.5 679.5L81.7 680.8L79.8 682.2L64.9 682.2L64.2 681.8L63.9 682.2L52.7 682.2L52.7 637.9L52.9 637.7L54.1 636.3L54.7 634.9L55.3 633.4L55.8 632L54.8 630.6L53 629.1L52.7 629L52.7 608.4L56.4 607.6L59.1 606.2L58.6 604.7L58.3 603.3L58.1 601.9L56.5 600.4L53.4 599L52.7 598.9L52.7 498.7ZM116.8 581.8L118.1 583.2L118.6 583.2L120.5 584.7L120.7 587.5L121.3 591.8L122 592.3L122.3 591.8L122.6 590.4L123.2 589L125.8 587.7L126.3 587.5L127.5 586.1L125.8 585.2L124.2 584.7L122.4 583.2L122 582.5L121.2 581.8L118.1 581.1ZM74.6 591.8L75.8 592.9L79.6 592.1L79.9 591.8L79.6 591.6L75.8 591.5ZM98.7 591.8L98.9 592.5L99.1 591.8L98.9 591.7ZM98.6 601.9L98.9 604.7L99.1 603.3L99.4 601.9L98.9 601.3ZM98.6 607.6L97.7 609.1L97.1 610.5L96.5 611.9L96.2 613.4L95.9 614.8L95.7 616.2L95.2 617.7L95 617.9L93.1 619.1L91.2 619.8L89.7 620.5L87.2 622L88.6 623.4L89.7 624.8L90.5 626.3L91.2 627.6L91.5 627.7L95 628.6L96.3 627.7L97.5 626.3L98.9 624.4L101.4 622L102.7 620.8L106.6 622L107.9 623.4L110 624.8L110.4 625.1L111 624.8L112.4 623.4L112.9 622L113.1 620.5L113.3 619.1L113.7 617.7L112.6 616.2L110.4 615.6L106.6 614.9L106.3 614.8L104.4 613.4L103.3 611.9L102.7 611.5L101 610.5L99.7 609.1L99 607.6L98.9 606.8ZM121.3 610.5L120.4 611.9L121.1 613.4L122 614.2L123 613.4L124.7 611.9L122 609.9ZM67 623.4L65.4 624.8L64.3 626.3L64.6 627.7L68.1 629.1L71.9 629.4L75.8 629.8L76.8 629.1L78.3 627.7L78.2 626.3L76.8 624.8L75.8 624L71.9 622.5L68.1 622.7ZM79.5 637.7L79.6 642.1L81.2 643.5L83.5 645L87.3 644.8L90.9 643.5L91.2 643.4L93 642L92.1 640.6L91.2 639.4L89.4 639.2L87.3 638.9L84.5 637.7L83.5 637.2L79.6 637.5ZM89.9 672.2L90 673.6L91.2 675L95 674.1L95.7 673.6L97.1 672.2L95 670.8L91.2 671.1ZM156.6 637L160.5 637.6L160.6 637.7L161.2 639.2L161.3 640.6L161.2 646.3L161.3 652.1L161.1 656.4L161.1 666.4L160.8 672.2L161 676.5L161 682.2L155.5 682.2L155.6 677.9L155.7 676.5L156.4 672.2L155.8 667.9L155.8 666.4L155.9 662.1L156.2 657.8L156.1 656.4L155.7 653.5L155.4 652.1L155.7 649.2L155.8 647.8L155.9 646.3L155.7 640.6L155.7 639.2L156.2 637.7ZM125.8 649L129.7 648.4L132.7 649.2L133.5 649.6L134.5 650.6L135.3 652.1L137.4 653.6L140 654.9L141.2 656.1L141.4 656.4L141.6 657.8L141.1 659.3L140.3 660.7L139.3 662.1L139 663.6L138.5 665L137.4 666.4L133.5 665.1L131.8 666.4L131.2 667.9L131.9 669.3L132.6 670.7L133.1 672.2L131.4 676.5L131.7 677.9L133.3 679.3L133.5 679.5L136.9 680.8L137.2 682.2L125.8 682.2L125.6 677.9L125.4 676.5L124.6 673.6L124.2 672.2L124.6 669.3L125 667.9L124.9 666.4L124.5 665L124.3 663.6L124.1 662.1L123.1 657.8L123 656.4L123.2 653.5L123.3 652.1L124.3 650.6L125.6 649.2ZM137.4 666.5L138.6 667.9L141.2 668.7L142.1 670.7L142.5 672.2L141.9 673.6L141.2 675.1L138 676.5L137.4 677.1L137 676.5L135.7 675L134.7 673.6L134 672.2L134.6 670.7L135.5 669.3L136.9 667.9Z" fill="#0f7be1" stroke="#0f7be1" fill-rule="evenodd"/>
<path d="M56.5 500.9L64.2 500.9L68.1 501L71.9 501.1L75.8 501.3L79.6 501.1L83.5 501.1L87.3 501.2L91.2 501.1L95 501.2L98.9 501.5L102.7 501.7L106.6 501.8L110.4 501.7L114.3 501.4L118.1 501.2L122 501.1L125.8 501.3L129.7 501.6L133.5 501.9L137.4 501.7L141.2 501.8L145.1 502L148.9 501.6L152.8 501.3L156.6 501.4L160.5 501.4L164.3 501.5L168.2 501.7L172 502.3L175.8 502.5L179.7 502.4L183.5 502L187.4 501.7L191.4 501.5L195.1 501.9L198.9 502.2L202.8 502.3L206.6 502.1L210.5 502.2L214.3 502.5L218.2 502.6L222 502.6L225.9 502.4L233.6 502.1L237.4 501.9L241.3 501.5L245.1 501.4L249 501.7L252.8 501.7L256.7 501.5L260.5 501.2L264.4 501.3L268.2 501.7L272.1 502.3L275.9 502.2L279.8 502L283.6 501.6L283.6 544.4L279.8 544.6L275.9 544.9L272.1 545.2L268.2 545.2L264.4 545.1L256.7 544.7L252.8 544.8L249 545.1L245.1 545.2L241.3 545.2L233.6 545L229.7 544.9L222 545.1L218.2 545.1L210.5 544.7L206.6 544.7L202.8 544.8L198.9 545.1L195.1 545.2L191.2 545.3L187.4 545.4L183.5 545.8L182.9 545.9L179.7 546.9L178.2 547.4L172 549.2L168.2 550.3L164.3 551.6L160.5 552.5L151.3 554.5L148.9 555.3L147.3 556L145.1 557.5L142.3 558.9L141.2 559.6L140.5 560.3L139.4 561.7L138.9 563.2L138.7 564.6L138.5 566L138.4 567.5L138.7 568.9L139 570.3L139.5 571.8L137.4 574.2L136.4 574.6L133.5 576.1L129.7 577.2L125.8 576.4L125.2 576.1L125.5 574.6L125.7 571.8L125.8 569.4L125.9 568.9L125.8 568.3L122 567.7L121.5 567.5L119.4 566L118.1 565.1L116.4 564.6L114.3 563.6L111.9 564.6L111.7 566L111.4 567.5L111.2 568.9L111.1 571.8L110.4 572.7L106.6 573L105.2 571.8L103.1 570.3L102.7 570.2L101.4 568.9L98.9 567.5L95 567.4L92 568.9L91.2 569.2L90 570.3L88.2 571.8L87.3 572.7L83.5 571.3L79.6 570.5L77.4 571.8L75.8 572.5L73.9 571.8L75 570.3L75.6 568.9L75.7 567.5L74.8 566L73.2 564.6L71.9 563.2L71.7 563.2L68.8 561.7L68.1 561.5L66.8 561.7L66.1 563.2L65.9 564.6L65.7 567.5L65.6 568.9L65.7 570.3L66 571.8L64.2 572.8L63.6 571.8L61.9 570.3L60.4 570L56.5 569.8L52.7 569.7L52.7 501ZM110.2 561.7L110.4 563.2L111.3 561.7L110.4 561.5ZM64.2 579.7L65.7 580.4L68 581.8L64.7 583.2L64.2 583.5L63.6 583.2L60.8 581.8L63.5 580.4ZM75.8 579.8L76.6 580.4L78.7 581.8L77.4 583.2L75.8 584.5L74.1 583.2L71.9 582L68.7 581.8L71.9 581.5L74.1 580.4ZM106.6 646.1L108 646.3L110.4 647.5L110.4 648L106.6 649L102.7 647.8L104.3 646.3ZM87.3 656.2L87.5 656.4L87.3 657.5L87.3 656.4ZM129.7 656L130.4 656.4L130.7 657.8L129.7 658.3L129.1 657.8L129.2 656.4Z" fill="#009afa" stroke="#009afa" fill-rule="evenodd"/>
<path d="M56.5 503.3L60.4 503.2L64.2 503.2L68.1 503.3L75.8 503.5L79.6 503.3L83.5 503.2L87.3 503.1L91.2 503.1L95 503.1L102.7 503.7L106.6 503.8L110.4 503.7L114.3 503.5L118.1 503.3L122 503.2L125.8 503.4L129.7 503.6L133.5 503.9L137.4 503.7L141.2 503.7L145.1 504L148.9 503.7L152.8 503.5L156.6 503.4L160.5 503.4L164.3 503.5L168.2 503.6L172 504.3L175.8 504.5L179.7 504.3L183.5 504L187.4 503.8L191.2 503.8L195.1 504.1L199.9 504.3L202.8 504.5L206.6 504.3L210.5 504.2L214.3 504.4L218.2 504.6L222 504.6L225.9 504.5L233.6 504.3L237.4 504.2L241.3 503.8L245.1 503.7L249 503.9L252.8 503.8L256.7 503.6L260.5 503.4L264.4 503.6L268.2 503.9L272.1 504.4L275.9 504.4L279.8 504.3L283.6 504.1L283.6 542.7L279.8 542.8L275.9 543L272.1 543.5L268.2 543.4L264.4 543.2L260.5 542.9L256.7 542.7L252.8 542.8L249 543.3L245.1 543.5L241.3 543.4L237.4 543.2L233.6 543L229.7 543L222 543.2L218.2 543.1L214.3 542.8L210.5 542.6L206.6 542.6L202.8 542.8L198.9 543.2L195.1 543.4L191.2 543.5L187.4 543.6L183.5 543.7L179.7 544L177.2 544.5L172 545.8L167.4 547.4L164.3 548.2L160.5 549.2L155 550.2L152.8 550.8L145.1 552.5L141.2 553.2L137.4 554L135.7 554.5L134.1 556L133.5 557.3L133.3 557.4L131 558.9L129.7 559.6L125.8 559.7L121.8 558.9L115 557.4L114.3 557.2L111.3 556L110.4 555.7L109.1 556L106.6 556.8L104.9 557.4L102.7 559L101 560.3L99.8 561.7L98.9 562L95 561.9L91.2 562L89.2 563.2L88.7 564.6L88.5 566L87.6 567.5L87.3 567.7L87 567.5L85.8 566L86.2 563.2L86.5 561.7L85.2 560.3L83.5 559L79.6 558L75.8 558.4L74.9 557.4L73.9 556L71.9 554.9L70.2 554.5L68.1 554.3L64.2 554.3L62.6 554.5L60.4 555.5L56.5 556L56.4 556L52.7 555.3L52.7 503.4Z" fill="#00b0b9" stroke="#00b0b9" fill-rule="evenodd"/>
<path d="M56.5 505.4L60.4 505.3L64.2 505.4L71.9 505.4L75.8 505.4L79.6 505.2L83.5 505L87.3 504.8L91.2 504.7L95 504.8L98.9 505.2L102.7 505.5L106.6 505.6L110.4 505.4L118.1 505.2L122 505.1L125.8 505.2L129.7 505.3L133.5 505.6L137.4 505.4L141.2 505.4L145.1 505.7L148.9 505.5L152.8 505.4L156.6 505.3L160.5 505.3L164.3 505.3L168.2 505.4L172 506L175.8 506.2L179.7 506L183.5 505.8L187.4 505.7L191.2 505.8L195.1 505.9L198.9 506.1L202.8 506.3L206.6 506.1L210.5 506L214.3 506L218.2 506.3L222 506.4L225.9 506.3L229.7 506.2L233.6 506.2L237.4 506.1L241.3 505.9L245.4 505.8L249 505.8L252.8 505.7L260.5 505.5L264.4 505.6L268.2 505.9L272.1 506.2L275.9 506.2L279.8 506.2L283.6 506.1L283.6 541.2L279.8 541.3L275.9 541.4L272.1 541.6L268.2 541.6L264.4 541.5L256.7 541.2L252.8 541.3L249 541.6L245.1 541.7L241.3 541.6L237.4 541.5L233.6 541.4L229.7 541.4L225.9 541.5L222 541.4L218.2 541.4L210.5 541.1L206.6 541.1L202.8 541.3L198.9 541.5L195.1 541.7L179.7 541.9L175.8 542.8L173.7 543.1L172 543.4L168.2 544L166.3 544.5L164.3 545.2L160.5 546.3L156.6 547.4L152.8 548.2L148.9 548.9L145.1 549.4L141.2 549.8L137.4 550.1L135 550.2L133.5 550.4L129.7 550.6L125.8 550.6L122 550.6L118.1 550.6L114.3 550.6L110.4 550.6L98.9 550.6L87.3 550.6L79.6 550.6L75.8 550.6L68.1 550.5L64.2 550.5L56.5 550.6L52.7 550.6L52.7 505.5Z" fill="#00c970" stroke="#00c970" fill-rule="evenodd"/>
<path d="M60.4 507.2L64.2 507.3L72.3 507.2L75.8 507.2L87.3 506.5L91.2 506.4L95 506.5L98.9 506.8L102.7 507.2L106.6 507.3L110.4 507.1L122 506.8L125.8 506.9L129.7 507L133.5 507.2L137.4 507L141.2 507L145.1 507.3L149.2 507.2L156.6 507L160.5 507L164.3 507L168.2 507L172 507.5L175.8 507.7L179.7 507.5L183.5 507.3L187.4 507.3L195.1 507.5L198.9 507.7L202.8 508L210.5 507.6L214.3 507.5L218.2 507.8L222 507.9L225.9 507.9L229.7 507.8L233.6 507.8L237.4 507.8L241.3 507.6L245.1 507.5L249 507.5L252.8 507.4L260.5 507.2L264.4 507.3L268.2 507.5L272.1 507.7L275.9 507.8L279.8 507.8L283.6 507.7L283.6 540.1L279.8 540.1L275.9 540.2L272.1 540.3L268.2 540.4L264.4 540.3L256.7 540.1L252.8 540.2L249 540.4L245.1 540.4L241.3 540.3L237.4 540.3L222 540.2L214.3 540.1L210.5 540L206.6 540L202.8 540.1L198.9 540.3L195.1 540.4L191.2 540.5L187.4 540.5L179.7 540.6L175.8 541.2L172.8 541.6L172 541.8L168.2 542.2L163.9 543.1L160.5 543.9L156.6 544.5L152.8 545.5L148.9 546.1L145.1 546.6L141.2 546.9L137.4 547L129.7 547.1L52.7 547.1L52.7 507.4L56.6 507.2Z" fill="#29d46e" stroke="#29d46e" fill-rule="evenodd"/>
<path d="M79.6 508.6L83.5 508.5L87.3 508.2L91.2 508L95 508.1L98.9 508.4L101.3 508.7L102.7 508.7L106.6 508.8L110.4 508.7L118.1 508.6L122 508.5L125.8 508.5L129.7 508.5L133.5 508.7L137.4 508.5L141.2 508.5L145.1 508.7L148.9 508.7L152.8 508.7L156.6 508.7L168.2 508.6L168.7 508.7L172 508.9L175.8 509L179.7 508.9L183.5 508.8L187.4 508.8L191.2 508.8L195.1 508.9L198.9 509.1L202.8 509.3L206.6 509.2L210.5 509.1L214.3 509L218.2 509.1L222 509.2L225.9 509.3L233.6 509.2L237.4 509.1L245.1 509L249 509L260.5 508.9L264.4 508.9L268.2 508.9L272.1 509.1L279.8 509.1L283.6 509.1L283.6 539.1L279.8 539.1L275.9 539.1L272.1 539.2L264.4 539.2L260.5 539.2L256.7 539.1L252.8 539.2L249 539.3L237.4 539.2L233.6 539.2L229.7 539.2L225.9 539.1L218.2 539.1L214.3 539L210.5 538.9L206.6 538.9L202.8 539L198.9 539.2L195.1 539.3L191.2 539.4L187.4 539.4L183.5 539.4L179.7 539.4L175.8 540L172 540.5L168.2 540.9L163.6 541.6L160.5 542.2L156.6 542.7L153.5 543.1L152.8 543.2L148.9 543.6L145.1 543.7L141.2 543.9L137.4 544L133.5 544.1L129.7 544.4L125.8 544.4L122 544.2L118.1 544.3L114.3 544.4L110.4 544.4L106.6 544.5L102.7 544.5L98.9 544.5L95 544.1L91.2 544.1L87.3 544.2L83.5 544L79.6 543.9L75.8 543.9L71.9 543.9L68.1 543.9L64.2 543.9L60.4 544.1L56.5 544.2L52.7 544.4L52.7 508.8L56.5 508.7L60.4 508.7L64.2 508.8L71.9 508.7L78.7 508.7Z" fill="#55dd77" stroke="#55dd77" fill-rule="evenodd"/>
<path d="M56.5 509.7L60.4 509.6L64.2 509.7L71.9 509.6L79.6 509.6L83.5 509.5L91.2 509.3L95 509.3L98.9 509.4L102.7 509.7L106.6 509.7L110.4 509.6L114.3 509.6L118.1 509.6L122 509.5L125.8 509.5L129.7 509.5L133.5 509.5L137.4 509.4L141.2 509.4L148.9 509.6L152.8 509.7L156.6 509.7L164.3 509.6L168.2 509.6L172 509.9L175.8 510L179.7 509.9L183.5 509.8L187.4 509.9L191.2 509.9L198.9 510.2L202.8 510.4L206.6 510.3L210.5 510.2L214.3 510.1L225.9 510.3L237.4 510.2L245.1 510.2L258.4 510.1L264.4 510L268.2 510L272.1 510.1L283.6 510.1L283.6 538.3L260.5 538.4L256.7 538.4L252.8 538.4L249 538.5L241.3 538.4L237.4 538.3L233.6 538.4L229.7 538.3L225.9 538.3L214.3 538.3L210.5 538.2L206.6 538.2L202.8 538.3L198.9 538.4L191.2 538.5L187.4 538.4L183.5 538.4L179.7 538.4L175.8 538.8L172 539.3L168.2 539.7L164.3 540.3L160.5 540.9L156.6 541.4L152.8 541.8L148.9 542L145.1 542.1L141.2 542.3L137.4 542.4L133.5 542.4L129.7 542.6L125.8 542.6L122 542.5L118.1 542.4L114.3 542.5L110.4 542.6L106.6 542.5L102.7 542.6L98.9 542.6L95 542.5L91.2 542.4L87.3 542.4L83.5 542.3L79.6 542.3L75.8 542.4L71.9 542.4L68.1 542.3L64.2 542.4L56.5 542.6L52.7 542.7L52.7 509.8Z" fill="#85e781" stroke="#85e781" fill-rule="evenodd"/>
<path d="M56.5 510.6L60.4 510.6L64.2 510.6L75.8 510.5L79.6 510.5L83.5 510.5L87.3 510.4L91.2 510.2L95 510.2L98.9 510.3L102.7 510.6L106.6 510.7L110.4 510.6L114.3 510.6L118.1 510.6L122 510.5L125.8 510.4L129.7 510.4L133.5 510.4L137.4 510.3L141.2 510.3L145.1 510.4L148.9 510.6L152.8 510.6L164.3 510.6L168.2 510.6L172 510.8L175.8 510.9L179.7 510.8L183.5 510.8L187.4 510.8L191.2 510.9L195.1 511L198.9 511.1L202.8 511.3L206.6 511.3L210.5 511.2L214.3 511L222 511.1L225.9 511.2L237.4 511.2L241.3 511.2L245.1 511.2L249 511.1L256.7 511.1L260.5 511.1L264.4 511L268.2 511L272.1 511L279.8 511L283.6 511L283.6 537.7L272.1 537.7L264.4 537.7L260.5 537.8L256.7 537.7L252.8 537.7L249 537.8L241.3 537.7L237.4 537.6L233.6 537.7L229.7 537.7L225.9 537.6L214.3 537.6L210.5 537.5L206.6 537.5L202.8 537.6L198.9 537.7L191.2 537.8L187.4 537.7L183.5 537.7L179.7 537.6L172 538.2L168.2 538.5L165.3 538.8L155.3 540.2L152.8 540.5L148.9 540.8L145.1 540.9L141.2 541.1L137.4 541.1L133.5 541.1L129.7 541.2L125.8 541.2L118.1 541.1L114.3 541.1L110.4 541.2L106.6 541.2L102.7 541.2L98.9 541.3L95 541.1L91.2 541.1L87.3 541.1L83.5 541L79.6 541.1L75.8 541.2L71.9 541.1L68.1 541.1L64.2 541.1L60.4 541.2L56.5 541.3L52.7 541.5L52.7 510.7Z" fill="#b5f08a" stroke="#b5f08a" fill-rule="evenodd"/>
<path d="M71.9 511.5L75.8 511.4L79.6 511.5L83.5 511.5L87.3 511.4L91.2 511.2L95 511.2L98.9 511.2L102.7 511.5L106.6 511.7L110.4 511.5L114.3 511.6L118.1 511.6L122 511.5L125.8 511.3L129.7 511.3L133.5 511.3L137.4 511.2L141.2 511.2L145.1 511.3L148.9 511.5L152.8 511.7L156.6 511.7L160.5 511.7L164.3 511.6L168.2 511.6L172 511.9L175.8 511.9L179.7 511.8L183.5 511.8L187.4 511.9L191.2 511.9L195.1 512.1L198.9 512.4L202.8 512.7L206.6 512.7L210.5 512.5L214.3 512.2L225.9 512.5L233.6 512.4L237.4 512.3L241.3 512.4L245.1 512.4L249 512.4L260.5 512.3L264.4 512.2L268.2 512.1L272.1 512.2L275.9 512.1L279.8 512.1L283.6 512.2L283.6 536.7L279.8 536.7L275.9 536.7L272.1 536.6L268.2 536.7L264.4 536.8L260.5 536.9L256.7 536.8L252.8 536.8L249 536.9L245.1 536.7L241.3 536.6L237.4 536.6L233.6 536.7L229.7 536.7L225.9 536.5L222 536.5L218.2 536.5L214.3 536.6L210.5 536.4L206.6 536.4L202.8 536.5L198.9 536.7L191.2 536.9L187.4 536.7L183.5 536.5L179.7 536.4L175.8 536.9L171.3 537.3L168.2 537.5L164.3 537.8L160.5 538.1L156.6 538.4L152.8 538.9L148.9 539.3L145.1 539.6L141.2 539.7L137.4 539.6L133.5 539.5L129.7 539.6L125.8 539.7L122 539.6L118.1 539.5L114.3 539.5L110.4 539.5L106.6 539.5L102.7 539.6L98.9 539.7L95 539.6L91.2 539.6L83.5 539.6L79.6 539.7L75.8 539.7L71.9 539.5L68.1 539.4L64.2 539.6L60.4 539.7L56.5 539.8L52.7 540.1L52.7 511.7L56.5 511.6L60.4 511.5L64.2 511.6L69.1 511.5Z" fill="#e5fa94" stroke="#e5fa94" fill-rule="evenodd"/>
<path d="M91.2 512.7L95 512.7L98.9 512.9L102.7 513.4L106.6 513.4L110.4 513.1L114.3 513.2L118.1 513.3L122 513.3L125.8 512.9L129.7 512.8L133.5 512.9L137.4 512.8L141.2 512.7L145.1 512.9L148.9 513.3L152.8 513.4L156.6 513.3L160.5 513.4L164.3 513.4L168.2 513.3L172 513.5L175.8 513.5L179.7 513.4L191.2 513.7L195.1 513.9L198.9 514.3L202.8 514.7L206.6 514.6L210.8 514.4L214.3 514.1L218.2 514.2L222 514.3L225.9 514.3L229.7 514.2L233.6 514L237.4 513.8L241.3 513.9L245.1 514.1L249 514.4L252.8 514.2L256.7 514.1L260.5 514.2L264.4 513.9L268.2 513.8L272.1 513.9L275.9 513.8L279.8 513.8L283.6 513.8L283.6 535.1L279.8 535.1L275.9 535.1L272.1 535L268.2 535L264.4 535.2L260.5 535.4L256.7 535.3L252.8 535.3L249 535.4L245.1 535.1L241.3 534.9L237.4 534.9L233.6 535.1L229.7 535L225.9 534.7L222 534.7L218.2 534.8L214.3 535L210.5 534.8L206.6 534.8L202.8 534.9L195.1 535.1L191.2 535.3L187.4 534.9L183.5 534.7L179.7 534.8L175.8 535.3L172 535.7L168.2 535.9L160.5 536.5L156.6 536.7L150.8 537.3L145.1 537.9L141.2 537.7L133.5 537.1L129.7 537.2L125 537.3L122 537.5L114.3 537.2L110.4 537.1L106.6 537.1L102.7 537.2L98.9 537.2L95 537.4L91.2 537.5L87.3 537.5L83.5 537.7L79.6 537.7L75.8 537.7L71.9 537.2L68.1 537.1L64.2 537.5L60.4 537.5L56.5 537.7L52.7 538L52.7 513.3L56.5 513.2L60.4 513.1L68.1 513.2L71.9 513.1L75.8 513L79.6 513.2L83.5 513.2L87.4 513Z" fill="#f6f394" stroke="#f6f394" fill-rule="evenodd"/>
<path d="M56.5 514.6L64.2 514.6L68.1 514.6L71.9 514.6L75.8 514.5L79.6 514.6L83.5 514.6L91.2 514.4L95 514.5L98.9 514.6L102.7 514.8L106.6 514.8L110.4 514.6L114.3 514.7L118.1 514.7L122 514.7L125.8 514.6L129.7 514.5L133.5 514.5L137.4 514.5L141.2 514.5L145.1 514.5L148.9 514.8L152.8 514.8L156.6 514.8L160.5 514.9L164.3 514.9L168.2 514.9L172 515.1L175.8 515.2L179.7 515.1L187.4 515.6L191.4 515.8L195.1 515.9L198.9 516L202.8 516.2L210.5 516.1L214.3 516L218.2 516L222 516L229.7 515.9L233.8 515.8L237.4 515.6L241.3 515.7L243.1 515.8L245.1 515.9L249 516.1L252.8 516L256.7 516L260.5 516L264.4 515.9L268.2 515.8L272.7 515.8L275.9 515.7L279.8 515.7L283.6 515.8L283.6 533L279.8 533.1L275.9 533.1L272.1 533L267.4 533L264.4 533.2L260.5 533.4L252.8 533.4L249 533.3L245.9 533L241.3 533L237.4 533L233.3 533L229.7 533L225.9 532.9L222 532.9L218.2 533L215.4 533L214.3 533.1L211.9 533L206.6 533L202.8 533L195.1 533L191.2 533L187.4 533L182.7 533L179.7 533.3L175.8 533.9L172 534.3L168.2 534.6L164.3 534.9L160.5 535.1L156.6 535.2L152.8 535.5L148.9 535.7L145.1 535.9L137.4 535.6L133.5 535.5L129.7 535.5L125.8 535.5L122 535.6L110.4 535.5L102.7 535.5L95 535.5L87.3 535.6L83.5 535.7L79.6 535.7L75.8 535.7L71.9 535.5L68.1 535.5L64.2 535.6L60.4 535.6L56.5 535.6L52.7 535.7L52.7 514.7Z" fill="#ded587" stroke="#ded587" fill-rule="evenodd"/>
<path d="M56.5 515.5L64.2 515.4L68.1 515.5L71.9 515.5L75.8 515.4L79.6 515.5L83.5 515.6L87.3 515.5L91.2 515.4L95 515.4L102.7 515.7L106.6 515.7L110.4 515.5L114.3 515.6L118.1 515.6L122 515.7L125.8 515.5L129.7 515.4L133.5 515.5L137.4 515.4L141.2 515.4L145.1 515.5L148.9 515.7L152.8 515.8L156.8 515.8L160.5 516L164.3 516L168.2 516.1L172 516.2L175.8 516.3L179.7 516.3L183.5 516.4L187.4 516.6L191.2 516.6L195.1 516.7L198.9 516.8L202.8 517L210.5 516.9L214.3 516.8L218.2 516.8L222 516.8L229.7 516.7L233.6 516.6L237.4 516.5L241.3 516.5L245.1 516.7L249 516.9L252.8 516.8L256.7 516.7L260.5 516.8L264.4 516.7L268.2 516.6L272.1 516.6L275.9 516.6L279.8 516.6L283.6 516.6L283.6 532.5L279.8 532.5L275.9 532.5L272.1 532.4L268.2 532.4L264.4 532.5L260.5 532.6L252.8 532.6L249 532.5L245.1 532.4L241.3 532.4L233.6 532.5L229.7 532.4L225.9 532.3L222 532.3L218.2 532.4L214.3 532.5L210.5 532.5L206.6 532.4L202.8 532.5L195.1 532.4L191.2 532.4L187.4 532.4L183.5 532.4L179.7 532.5L172.4 533L168.2 533.5L164.3 533.8L160.5 534L156.6 534.2L152.8 534.5L148.9 534.8L145.1 535L137.4 534.7L133.5 534.6L125.8 534.6L122 534.7L114.3 534.6L110.4 534.6L102.7 534.6L98.9 534.6L95 534.6L91.2 534.6L87.3 534.7L83.5 534.7L79.6 534.8L75.8 534.7L71.9 534.6L68.1 534.6L64.2 534.7L60.4 534.7L56.5 534.7L52.7 534.8L52.7 515.6Z" fill="#c6b67a" stroke="#c6b67a" fill-rule="evenodd"/>
<path d="M56.5 516.3L64.2 516.3L68.1 516.3L71.9 516.3L75.8 516.2L79.6 516.4L83.5 516.4L87.3 516.3L91.2 516.2L95 516.3L102.7 516.5L106.6 516.5L110.4 516.3L114.3 516.4L118.1 516.5L122 516.5L125.8 516.4L129.7 516.3L133.5 516.3L137.4 516.3L141.2 516.3L145.1 516.3L148.9 516.6L152.8 516.6L156.6 516.6L160.5 516.8L164.3 516.9L168.2 516.9L172 517L175.8 517.1L179.7 517.1L184 517.3L187.4 517.4L191.2 517.4L195.1 517.5L198.9 517.6L202.8 517.8L214.3 517.6L218.2 517.6L222 517.6L229.7 517.5L233.6 517.4L237.4 517.2L241.3 517.3L245.1 517.5L249 517.7L252.8 517.5L256.7 517.5L260.5 517.6L264.4 517.5L268.2 517.4L272.1 517.4L275.9 517.4L279.8 517.4L283.6 517.5L283.6 531.9L279.8 531.9L275.9 531.9L272.1 531.9L268.2 531.9L264.4 531.9L260.5 532L256.7 532L252.8 532L249 532L245.1 531.8L241.3 531.8L233.6 531.9L229.7 531.8L225.9 531.7L222 531.7L218.2 531.8L214.3 531.9L210.5 531.9L206.6 531.9L202.8 531.9L195.1 531.8L191.2 531.8L187.4 531.7L183.5 531.7L179.7 531.8L172 532.3L168.2 532.5L164.3 532.8L160.5 533.1L156.6 533.4L152.8 533.7L148.9 534L145.1 534.1L133.5 533.9L122 533.9L114.3 533.9L110.4 533.9L102.7 533.9L98.9 533.9L95 533.8L91.2 533.8L87.3 533.9L75.8 534L71.9 533.9L68.1 533.9L64.2 534L60.4 533.9L56.5 533.9L52.7 534L52.7 516.4Z" fill="#ae976d" stroke="#ae976d" fill-rule="evenodd"/>
<path d="M56.5 517.1L64.2 517.1L68.1 517.1L71.9 517.1L75.8 517.1L79.6 517.2L83.5 517.2L91.2 517L95 517.1L102.7 517.3L106.9 517.3L110.4 517.1L122 517.3L125.8 517.2L129.7 517.1L133.5 517.1L137.4 517.1L141.2 517.1L145.1 517.1L148.9 517.4L152.8 517.5L156.6 517.5L160.5 517.6L164.3 517.7L168.2 517.8L172 517.9L175.8 517.9L179.7 517.9L183.5 518.1L187.4 518.2L191.2 518.2L195.1 518.3L198.9 518.4L202.8 518.5L214.3 518.3L218.2 518.4L222 518.4L229.7 518.3L233.6 518.2L237.4 518L241.3 518.1L245.1 518.2L249 518.5L252.8 518.3L256.7 518.3L260.5 518.3L264.4 518.3L268.2 518.2L275.9 518.2L279.8 518.2L283.6 518.3L283.6 531.1L279.8 531.1L275.9 531.1L272.1 531.1L268.2 531.1L264.4 531.2L260.5 531.3L256.7 531.3L252.8 531.3L249 531.2L245.1 531.1L241.3 531L233.6 531.1L229.7 531.1L225.9 530.9L222 530.9L218.2 531L214.3 531.2L210.5 531.2L206.6 531.1L202.8 531.2L198.9 531.1L195.1 531L191.2 531L187.4 530.9L183.5 530.9L179.7 531L175.8 531.3L170.8 531.6L168.2 531.7L164.3 531.9L156.6 532.3L152.8 532.9L151.5 533L148.9 533.2L145.1 533.4L141.2 533.4L133.5 533.2L125.8 533.2L118.1 533.2L114.3 533.2L102.7 533.2L98.9 533.2L95 533.1L91.2 533.1L87.3 533.2L79.6 533.2L75.8 533.2L71.9 533.2L68.1 533.2L64.2 533.3L60.4 533.2L56.5 533.2L52.7 533.2L52.7 517.1Z" fill="#987b61" stroke="#987b61" fill-rule="evenodd"/>
<path d="M56.5 518.2L68.1 518.4L71.9 518.3L75.8 518.2L79.6 518.3L83.5 518.3L91.2 518.1L95 518.1L98.9 518.3L102.7 518.4L106.6 518.4L110.4 518.1L118.1 518.3L122 518.4L125.8 518.3L129.7 518.3L133.5 518.3L137.4 518.2L141.2 518.2L145.1 518.2L148.9 518.5L152.8 518.6L156.6 518.6L164.3 518.7L172 518.8L175.8 518.8L179.7 518.8L183.5 518.9L187.4 519L191.2 519L195.1 519.1L198.9 519.2L202.8 519.4L214.3 519.1L218.2 519.3L222 519.3L225.9 519.2L233.6 519L237.4 518.8L241.3 518.9L245.1 519.1L249 519.3L252.8 519.1L256.7 519.1L260.5 519.2L264.4 519.1L268.2 519.1L275.9 519.1L279.8 519.1L283.6 519.2L283.6 530.1L279.8 530.2L275.9 530.2L272.1 530.2L267.7 530.2L264.4 530.2L260.5 530.3L256.7 530.3L252.8 530.3L247.3 530.2L245.1 530.1L241.3 530.1L236.8 530.2L233.6 530.2L229.7 530.2L225.9 530L222 529.9L218.2 530L214.3 530.3L206.6 530.2L202.8 530.2L198.9 530.1L195.1 530.1L191.2 530.1L187.4 529.9L183.5 529.9L179.7 530.1L175.8 530.3L172 530.5L168.2 530.6L156.6 531.2L152.8 531.7L148.9 532.1L145.1 532.4L141.2 532.3L133.5 531.9L129.7 532L125.8 532L122 531.9L118.1 531.9L114.3 531.9L110.4 532L102.7 532.1L98.9 532.1L95 531.7L91.2 531.7L87.3 531.9L83.5 531.9L79.6 531.9L75.8 532L71.9 531.9L68.1 532L64.2 532.2L60.4 532L56.5 532L52.7 531.9L52.7 518.2Z" fill="#805c54" stroke="#805c54" fill-rule="evenodd"/>
<path d="M56.5 519.5L60.4 519.6L64.2 519.8L68.1 519.8L71.9 519.7L75.8 519.5L79.6 519.6L83.5 519.6L87.3 519.5L91.2 519.3L95 519.3L98.9 519.6L102.7 519.6L106.6 519.5L110.4 519.4L114.3 519.4L118.1 519.5L122 519.7L125.8 519.6L129.7 519.6L133.5 519.7L137.4 519.5L141.2 519.4L145.1 519.4L148.9 519.8L152.8 519.9L156.6 519.8L164.3 519.8L172 519.9L175.8 519.9L179.7 519.8L183.5 519.9L187.4 519.9L191.2 519.9L195.1 520L198.9 520.1L202.8 520.5L210.5 520.1L214.3 520L217.1 520.1L218.2 520.2L222 520.3L225.9 520.1L237.4 519.8L241.3 519.8L245.1 520L247.1 520.1L249 520.4L250.9 520.1L252.8 520L256.7 520L260.5 520.1L264.4 520L268.2 520L275.9 520L279.8 520.1L282.8 520.1L283.6 520.2L283.6 528.9L279.8 529L275.9 529L272.1 529L264.4 529L260.5 529.1L256.7 529.2L252.8 529.1L249 529L245.1 528.9L241.3 529L237.4 529.1L233.6 529.1L229.7 529.1L225.9 528.9L222 528.8L218.2 528.9L214.3 529.1L206.6 529.1L202.8 529.1L198.9 529L195.1 529L191.2 529L187.4 528.8L183.5 528.9L179.7 529L175.8 529.3L172 529.4L168.2 529.5L160.5 529.8L156.6 530L152.8 530.4L148.9 530.8L145.1 531L141.2 530.8L133.5 530.5L129.7 530.6L125.8 530.6L118.1 530.6L114.3 530.6L110.4 530.7L102.7 530.7L98.9 530.7L95 530.5L91.2 530.5L87.3 530.6L83.5 530.5L79.6 530.5L75.8 530.6L71.9 530.5L68.1 530.5L64.2 530.7L52.7 530.6L52.7 519.4Z" fill="#977a74" stroke="#977a74" fill-rule="evenodd"/>
<path d="M56.5 521L60.4 521.3L63 521.6L64.2 521.7L68.1 521.6L71.9 521.5L75.8 521.2L79.6 521.2L83.5 521.2L87.3 521.1L91.2 520.7L95 520.7L98.9 521L106.6 520.9L110.4 520.8L114.3 520.8L118.1 520.9L122 521.2L125.8 521.1L129.7 521.1L133.5 521.3L137.4 521L141.2 520.9L145.1 520.8L148.9 521.3L152.8 521.5L156.6 521.5L160.5 521.4L164.3 521.5L168.2 521.6L172 521.7L175.8 521.7L179.7 521.4L183.5 521.6L187.4 521.7L189.9 521.6L191.9 521.6L195.1 522L198.9 522.4L202.8 522.8L210.5 522.2L214.3 522L218.2 522.6L222 522.7L225.9 522.5L229.7 521.9L233.6 521.5L237.4 521.3L241.5 521.6L245.1 522.1L249 522.9L252.8 522L256.7 521.8L260.5 522.3L264.4 522.2L268.2 522.2L272.1 522.2L275.9 522.3L279.8 522.5L283.6 522.9L283.6 526.2L279.8 526.7L275.9 526.8L272.1 526.8L268.2 526.8L264.4 526.8L260.5 526.6L256.7 526.9L252.8 526.9L249 526.4L245.1 526.6L241.3 526.8L237.4 527.2L233.6 527.3L229.7 527.2L225.9 526.7L222 526.6L218.2 526.7L214.3 527L210.5 527.2L206.6 527.2L202.8 527L198.9 526.8L195.1 526.8L191.2 527L187.4 526.8L183.5 527.1L182.6 527.3L175.8 528L172 528.2L168.2 528.2L164.3 528.4L160.5 528.6L156.6 528.7L152.8 529.1L148.9 529.4L145.1 529.5L141.2 529.4L137.4 529.3L133.5 529.1L129.7 529.2L125.8 529.3L118.1 529.4L110.4 529.4L102.7 529.4L98.9 529.4L95 529.3L91.2 529.3L87.3 529.4L83.5 529.3L79.6 529.3L75.8 529.3L71.9 529.1L68.1 529.1L64.2 529.2L60.4 529.3L56.5 529.3L52.7 529.3L52.7 520.8Z" fill="#ad9691" stroke="#ad9691" fill-rule="evenodd"/>
<path d="M56.5 522.4L60.4 522.6L64.2 522.9L68.1 522.9L71.9 522.8L75.8 522.6L79.6 522.6L83.5 522.5L87.3 522.4L91.2 522.2L95 522.2L98.9 522.4L106.6 522.3L110.4 522.2L114.3 522.2L118.1 522.2L122 522.5L125.8 522.5L129.7 522.6L133.5 522.7L137.4 522.5L141.2 522.3L145.1 522.3L148.9 522.6L152.8 522.8L160.5 523.1L164.3 523.3L168.2 523.7L175.8 524.1L179.7 524.4L179.7 524.5L175.8 525.4L174.2 525.9L172 526.1L168.2 526.4L163.4 527.3L160.5 527.5L156.6 527.7L152.8 528L148.9 528.2L145.1 528.3L141.2 528.2L137.4 528.2L133.5 528.1L122 528.3L118.1 528.3L114.3 528.3L102.7 528.3L98.9 528.3L91.2 528.3L87.3 528.3L83.5 528.2L79.6 528.2L75.8 528.2L71.9 528L68.1 528L64.2 528.1L60.4 528.2L56.5 528.3L52.7 528.2L52.7 522.3Z" fill="#c5b5b1" stroke="#c5b5b1" fill-rule="evenodd"/>
<path d="M56.5 523.9L60.4 524.1L63.4 524.4L64.2 524.8L68.1 525.2L71.9 524.5L72.1 524.4L75.8 524.1L79.6 524L83.5 524L87.3 523.9L91.2 523.6L95 523.6L98.9 523.9L106.6 523.7L110.4 523.7L114.3 523.6L118.1 523.7L122 523.9L125.8 524L129.7 524.1L133.5 524.3L137.4 524.1L141.2 523.9L145.1 523.9L148.9 524.2L152.2 524.4L152.8 524.6L154.7 525.9L152.8 526.4L148.9 527L141.2 527.2L137.4 527L133.5 526.6L129.7 526.9L125.5 527.3L122 527.4L118.1 527.5L114.3 527.5L98.9 527.3L95 527.4L91.2 527.4L87.3 527.4L79.3 527.3L75.8 527.2L71.9 526.4L68.1 526.1L64.2 526.5L60.4 527.3L56.5 527.4L52.7 527.3L52.7 523.8Z" fill="#ddd3d1" stroke="#ddd3d1" fill-rule="evenodd"/>
</g>
<rect x="52.7" y="481.4" width="230.9" height="200.8" fill="none" stroke="#1a1a1a" stroke-width="0.8"/>
<line x1="49.2" y1="481.4" x2="52.7" y2="481.4" stroke="#1a1a1a" stroke-width="0.8"/>
<text x="47.1" y="486.7" font-size="11.7" text-anchor="end" fill="#1a1a1a">10<tspan dy="-5.0" font-size="8.2">2</tspan></text>
<line x1="50.7" y1="516.49" x2="52.7" y2="516.49" stroke="#1a1a1a" stroke-width="0.6"/>
<line x1="50.7" y1="507.65" x2="52.7" y2="507.65" stroke="#1a1a1a" stroke-width="0.6"/>
<line x1="50.7" y1="501.38" x2="52.7" y2="501.38" stroke="#1a1a1a" stroke-width="0.6"/>
<line x1="50.7" y1="496.51" x2="52.7" y2="496.51" stroke="#1a1a1a" stroke-width="0.6"/>
<line x1="50.7" y1="492.54" x2="52.7" y2="492.54" stroke="#1a1a1a" stroke-width="0.6"/>
<line x1="50.7" y1="489.18" x2="52.7" y2="489.18" stroke="#1a1a1a" stroke-width="0.6"/>
<line x1="50.7" y1="486.26" x2="52.7" y2="486.26" stroke="#1a1a1a" stroke-width="0.6"/>
<line x1="50.7" y1="483.7" x2="52.7" y2="483.7" stroke="#1a1a1a" stroke-width="0.6"/>
<line x1="49.2" y1="531.6" x2="52.7" y2="531.6" stroke="#1a1a1a" stroke-width="0.8"/>
<text x="47.1" y="536.9" font-size="11.7" text-anchor="end" fill="#1a1a1a">10<tspan dy="-5.0" font-size="8.2">1</tspan></text>
<line x1="50.7" y1="566.69" x2="52.7" y2="566.69" stroke="#1a1a1a" stroke-width="0.6"/>
<line x1="50.7" y1="557.85" x2="52.7" y2="557.85" stroke="#1a1a1a" stroke-width="0.6"/>
<line x1="50.7" y1="551.58" x2="52.7" y2="551.58" stroke="#1a1a1a" stroke-width="0.6"/>
<line x1="50.7" y1="546.71" x2="52.7" y2="546.71" stroke="#1a1a1a" stroke-width="0.6"/>
<line x1="50.7" y1="542.74" x2="52.7" y2="542.74" stroke="#1a1a1a" stroke-width="0.6"/>
<line x1="50.7" y1="539.38" x2="52.7" y2="539.38" stroke="#1a1a1a" stroke-width="0.6"/>
<line x1="50.7" y1="536.46" x2="52.7" y2="536.46" stroke="#1a1a1a" stroke-width="0.6"/>
<line x1="50.7" y1="533.9" x2="52.7" y2="533.9" stroke="#1a1a1a" stroke-width="0.6"/>
<line x1="49.2" y1="581.8" x2="52.7" y2="581.8" stroke="#1a1a1a" stroke-width="0.8"/>
<text x="47.1" y="587.1" font-size="11.7" text-anchor="end" fill="#1a1a1a">10<tspan dy="-5.0" font-size="8.2">0</tspan></text>
<line x1="50.7" y1="616.89" x2="52.7" y2="616.89" stroke="#1a1a1a" stroke-width="0.6"/>
<line x1="50.7" y1="608.05" x2="52.7" y2="608.05" stroke="#1a1a1a" stroke-width="0.6"/>
<line x1="50.7" y1="601.78" x2="52.7" y2="601.78" stroke="#1a1a1a" stroke-width="0.6"/>
<line x1="50.7" y1="596.91" x2="52.7" y2="596.91" stroke="#1a1a1a" stroke-width="0.6"/>
<line x1="50.7" y1="592.94" x2="52.7" y2="592.94" stroke="#1a1a1a" stroke-width="0.6"/>
<line x1="50.7" y1="589.58" x2="52.7" y2="589.58" stroke="#1a1a1a" stroke-width="0.6"/>
<line x1="50.7" y1="586.66" x2="52.7" y2="586.66" stroke="#1a1a1a" stroke-width="0.6"/>
<line x1="50.7" y1="584.1" x2="52.7" y2="584.1" stroke="#1a1a1a" stroke-width="0.6"/>
<line x1="49.2" y1="632" x2="52.7" y2="632" stroke="#1a1a1a" stroke-width="0.8"/>
<text x="47.1" y="637.3" font-size="11.7" text-anchor="end" fill="#1a1a1a">10<tspan dy="-5.0" font-size="8.2">−1</tspan></text>
<line x1="50.7" y1="667.09" x2="52.7" y2="667.09" stroke="#1a1a1a" stroke-width="0.6"/>
<line x1="50.7" y1="658.25" x2="52.7" y2="658.25" stroke="#1a1a1a" stroke-width="0.6"/>
<line x1="50.7" y1="651.98" x2="52.7" y2="651.98" stroke="#1a1a1a" stroke-width="0.6"/>
<line x1="50.7" y1="647.11" x2="52.7" y2="647.11" stroke="#1a1a1a" stroke-width="0.6"/>
<line x1="50.7" y1="643.14" x2="52.7" y2="643.14" stroke="#1a1a1a" stroke-width="0.6"/>
<line x1="50.7" y1="639.78" x2="52.7" y2="639.78" stroke="#1a1a1a" stroke-width="0.6"/>
<line x1="50.7" y1="636.86" x2="52.7" y2="636.86" stroke="#1a1a1a" stroke-width="0.6"/>
<line x1="50.7" y1="634.3" x2="52.7" y2="634.3" stroke="#1a1a1a" stroke-width="0.6"/>
<line x1="49.2" y1="682.2" x2="52.7" y2="682.2" stroke="#1a1a1a" stroke-width="0.8"/>
<text x="47.1" y="687.5" font-size="11.7" text-anchor="end" fill="#1a1a1a">10<tspan dy="-5.0" font-size="8.2">−2</tspan></text>
<line x1="52.7" y1="682.2" x2="52.7" y2="685.7" stroke="#1a1a1a" stroke-width="0.8"/>
<text x="52.7" y="696.8" font-size="11.7" text-anchor="middle" fill="#1a1a1a">0.1</text>
<line x1="107.78" y1="682.2" x2="107.78" y2="685.7" stroke="#1a1a1a" stroke-width="0.8"/>
<text x="107.78" y="696.8" font-size="11.7" text-anchor="middle" fill="#1a1a1a">0.3</text>
<line x1="168.15" y1="682.2" x2="168.15" y2="685.7" stroke="#1a1a1a" stroke-width="0.8"/>
<text x="168.15" y="696.8" font-size="11.7" text-anchor="middle" fill="#1a1a1a">1</text>
<line x1="223.23" y1="682.2" x2="223.23" y2="685.7" stroke="#1a1a1a" stroke-width="0.8"/>
<text x="223.23" y="696.8" font-size="11.7" text-anchor="middle" fill="#1a1a1a">3</text>
<line x1="283.6" y1="682.2" x2="283.6" y2="685.7" stroke="#1a1a1a" stroke-width="0.8"/>
<text x="283.6" y="696.8" font-size="11.7" text-anchor="middle" fill="#1a1a1a">10</text>
<line x1="87.45" y1="682.2" x2="87.45" y2="684.2" stroke="#1a1a1a" stroke-width="0.6"/>
<line x1="107.78" y1="682.2" x2="107.78" y2="684.2" stroke="#1a1a1a" stroke-width="0.6"/>
<line x1="122.21" y1="682.2" x2="122.21" y2="684.2" stroke="#1a1a1a" stroke-width="0.6"/>
<line x1="133.4" y1="682.2" x2="133.4" y2="684.2" stroke="#1a1a1a" stroke-width="0.6"/>
<line x1="142.54" y1="682.2" x2="142.54" y2="684.2" stroke="#1a1a1a" stroke-width="0.6"/>
<line x1="150.27" y1="682.2" x2="150.27" y2="684.2" stroke="#1a1a1a" stroke-width="0.6"/>
<line x1="156.96" y1="682.2" x2="156.96" y2="684.2" stroke="#1a1a1a" stroke-width="0.6"/>
<line x1="162.87" y1="682.2" x2="162.87" y2="684.2" stroke="#1a1a1a" stroke-width="0.6"/>
<line x1="202.9" y1="682.2" x2="202.9" y2="684.2" stroke="#1a1a1a" stroke-width="0.6"/>
<line x1="223.23" y1="682.2" x2="223.23" y2="684.2" stroke="#1a1a1a" stroke-width="0.6"/>
<line x1="237.66" y1="682.2" x2="237.66" y2="684.2" stroke="#1a1a1a" stroke-width="0.6"/>
<line x1="248.85" y1="682.2" x2="248.85" y2="684.2" stroke="#1a1a1a" stroke-width="0.6"/>
<line x1="257.99" y1="682.2" x2="257.99" y2="684.2" stroke="#1a1a1a" stroke-width="0.6"/>
<line x1="265.72" y1="682.2" x2="265.72" y2="684.2" stroke="#1a1a1a" stroke-width="0.6"/>
<line x1="272.41" y1="682.2" x2="272.41" y2="684.2" stroke="#1a1a1a" stroke-width="0.6"/>
<line x1="278.32" y1="682.2" x2="278.32" y2="684.2" stroke="#1a1a1a" stroke-width="0.6"/>
<text x="19.1" y="502" font-size="15.0" text-anchor="start" fill="#1a1a1a" font-style="italic">D</text>
<text x="248.8" y="711.7" font-size="13.6" text-anchor="start" fill="#1a1a1a" font-style="italic">δ</text>
<text x="163.05" y="476.5" font-size="14.0" font-style="italic" fill="#1a1a1a">T</text>
<line x1="166.83" y1="463.89" x2="171.03" y2="463.89" stroke="#1a1a1a" stroke-width="0.9"/>
<rect x="298.1" y="481.4" width="10.7" height="200.8" fill="#ddd3d1" stroke="none" stroke-width="0.8"/>
<rect x="298.1" y="490.13" width="10.7" height="192.07" fill="#c5b5b1" stroke="none" stroke-width="0.8"/>
<rect x="298.1" y="498.86" width="10.7" height="183.34" fill="#ad9691" stroke="none" stroke-width="0.8"/>
<rect x="298.1" y="507.59" width="10.7" height="174.61" fill="#977a74" stroke="none" stroke-width="0.8"/>
<rect x="298.1" y="516.32" width="10.7" height="165.88" fill="#805c54" stroke="none" stroke-width="0.8"/>
<rect x="298.1" y="525.05" width="10.7" height="157.15" fill="#987b61" stroke="none" stroke-width="0.8"/>
<rect x="298.1" y="533.78" width="10.7" height="148.42" fill="#ae976d" stroke="none" stroke-width="0.8"/>
<rect x="298.1" y="542.51" width="10.7" height="139.69" fill="#c6b67a" stroke="none" stroke-width="0.8"/>
<rect x="298.1" y="551.24" width="10.7" height="130.96" fill="#ded587" stroke="none" stroke-width="0.8"/>
<rect x="298.1" y="559.97" width="10.7" height="122.23" fill="#f6f394" stroke="none" stroke-width="0.8"/>
<rect x="298.1" y="568.7" width="10.7" height="113.5" fill="#e5fa94" stroke="none" stroke-width="0.8"/>
<rect x="298.1" y="577.43" width="10.7" height="104.77" fill="#b5f08a" stroke="none" stroke-width="0.8"/>
<rect x="298.1" y="586.17" width="10.7" height="96.03" fill="#85e781" stroke="none" stroke-width="0.8"/>
<rect x="298.1" y="594.9" width="10.7" height="87.3" fill="#55dd77" stroke="none" stroke-width="0.8"/>
<rect x="298.1" y="603.63" width="10.7" height="78.57" fill="#29d46e" stroke="none" stroke-width="0.8"/>
<rect x="298.1" y="612.36" width="10.7" height="69.84" fill="#00c970" stroke="none" stroke-width="0.8"/>
<rect x="298.1" y="621.09" width="10.7" height="61.11" fill="#00b0b9" stroke="none" stroke-width="0.8"/>
<rect x="298.1" y="629.82" width="10.7" height="52.38" fill="#009afa" stroke="none" stroke-width="0.8"/>
<rect x="298.1" y="638.55" width="10.7" height="43.65" fill="#0f7be1" stroke="none" stroke-width="0.8"/>
<rect x="298.1" y="647.28" width="10.7" height="34.92" fill="#1f5bc1" stroke="none" stroke-width="0.8"/>
<rect x="298.1" y="656.01" width="10.7" height="26.19" fill="#333399" stroke="none" stroke-width="0.8"/>
<rect x="298.1" y="664.74" width="10.7" height="17.46" fill="#333399" stroke="none" stroke-width="0.8"/>
<rect x="298.1" y="673.47" width="10.7" height="8.73" fill="#333399" stroke="none" stroke-width="0.8"/>
<rect x="298.1" y="481.4" width="10.7" height="200.8" fill="none" stroke="#1a1a1a" stroke-width="0.8"/>
<line x1="308.8" y1="682.2" x2="312.3" y2="682.2" stroke="#1a1a1a" stroke-width="0.8"/>
<text x="314.4" y="686.5" font-size="11.7" text-anchor="start" fill="#1a1a1a">0.008</text>
<line x1="308.8" y1="656.01" x2="312.3" y2="656.01" stroke="#1a1a1a" stroke-width="0.8"/>
<text x="314.4" y="660.31" font-size="11.7" text-anchor="start" fill="#1a1a1a">0.020</text>
<line x1="308.8" y1="629.82" x2="312.3" y2="629.82" stroke="#1a1a1a" stroke-width="0.8"/>
<text x="314.4" y="634.12" font-size="11.7" text-anchor="start" fill="#1a1a1a">0.032</text>
<line x1="308.8" y1="603.63" x2="312.3" y2="603.63" stroke="#1a1a1a" stroke-width="0.8"/>
<text x="314.4" y="607.93" font-size="11.7" text-anchor="start" fill="#1a1a1a">0.044</text>
<line x1="308.8" y1="577.43" x2="312.3" y2="577.43" stroke="#1a1a1a" stroke-width="0.8"/>
<text x="314.4" y="581.73" font-size="11.7" text-anchor="start" fill="#1a1a1a">0.056</text>
<line x1="308.8" y1="551.24" x2="312.3" y2="551.24" stroke="#1a1a1a" stroke-width="0.8"/>
<text x="314.4" y="555.54" font-size="11.7" text-anchor="start" fill="#1a1a1a">0.068</text>
<line x1="308.8" y1="525.05" x2="312.3" y2="525.05" stroke="#1a1a1a" stroke-width="0.8"/>
<text x="314.4" y="529.35" font-size="11.7" text-anchor="start" fill="#1a1a1a">0.080</text>
<line x1="308.8" y1="498.86" x2="312.3" y2="498.86" stroke="#1a1a1a" stroke-width="0.8"/>
<text x="314.4" y="503.16" font-size="11.7" text-anchor="start" fill="#1a1a1a">0.092</text>
<defs><clipPath id="cp2"><rect x="408.4" y="481.4" width="231.2" height="200.8"/></clipPath></defs>
<g stroke-width="0.5" stroke-linejoin="round" clip-path="url(#cp2)">
<rect x="408.4" y="481.4" width="231.2" height="200.8" fill="#333399" stroke="none" stroke-width="0.8"/>
<path d="M423.8 493.4L427.7 493.3L431.5 493L438.5 493.4L443.1 493.6L450.8 493.7L454.6 493.7L458.5 493.6L462.3 493.7L466.2 493.8L470.1 493.6L473.9 493.5L477.8 493.7L481.6 493.6L485.5 493.6L489.3 493.8L493.2 493.8L497 493.8L500.9 493.9L504.7 493.6L508.6 493.5L512.6 493.4L516.3 493.2L520.1 493.4L524 493.9L527.9 494L531.7 493.9L535.6 493.6L539.4 493.6L543.3 493.7L547.1 493.8L551 493.8L554.8 493.8L558.7 493.8L566.4 493.7L570.2 493.6L574.1 493.8L577.9 493.7L581.8 493.5L585.7 493.4L589.5 493.5L593.4 493.6L597.2 493.5L601.1 493.5L608.8 493.6L612.6 493.7L616.5 493.6L620.3 493.7L624.2 493.6L627.2 493.4L628 493.3L631.9 493.1L635.7 493.4L636.1 493.4L639.6 493.8L639.6 682.2L408.4 682.2L408.4 493.5L416.1 493.5L421.7 493.4Z" fill="#2b43a9" stroke="#2b43a9" fill-rule="evenodd"/>
<path d="M412.3 495.3L416.1 495.2L420 495L423.8 494.9L427.7 494.9L435.4 495.1L443.1 495.2L446.9 495.2L450.8 495.2L454.6 495.4L458.5 495.2L462.3 495.3L464.4 495.5L466.2 495.8L468.2 495.5L470.1 495.3L473.9 495.2L477.8 495.3L481.6 495.1L485.5 495.1L489.3 495.2L497 495.4L500.9 495.5L501.4 495.5L504.7 495.3L512.4 495L516.3 494.9L520.1 495L524 495.4L524.5 495.5L527.9 495.8L531.7 495.5L532.1 495.5L535.6 495.1L539.4 495.2L543.3 495.2L547.1 495.3L551 495.3L562.5 495.2L570.2 495.2L574.1 495.3L577.9 495.3L581.8 495.1L593.4 495.1L597.2 495L601.1 495.1L604.9 495.2L616.5 495.2L620.3 495.3L624.2 495.2L628 494.9L631.9 494.9L635.7 495L639.1 495.5L639.6 495.6L639.6 544.3L631.9 544.5L628 544.6L624.2 544.5L620.3 544.6L616.5 544.7L601.1 544.6L597.2 544.6L593.4 544.7L589.5 544.7L585.7 544.8L581.8 544.9L577.9 545.1L574.1 545.2L566.4 545.4L562.5 545.5L558.7 545.7L554.8 546.1L551 546.5L547.1 546.8L539.4 547.4L536.7 547.7L531.7 548.5L527.9 548.9L524 549.3L521.3 549.7L520.1 549.9L516.3 550.7L512.4 551.4L511.2 551.7L508.6 552.5L504.7 553.6L500.9 555.2L500.1 555.7L497.6 557.7L497 558L495.7 559.7L496.5 561.7L497 562.2L499.3 563.7L500.9 564.9L504.7 566.6L508.6 567.9L512.4 568.8L516.3 569.8L520.1 570.5L524 571.1L527.9 571.8L531.7 572.3L535.6 572.7L539.4 573.1L547.1 573.9L551 574.2L554.8 574.5L558.7 574.7L566.4 575.1L577.9 575.6L585.7 575.9L593.4 576L601.1 576.2L608.8 576.3L620.3 576.4L635.7 576.4L639.6 576.4L639.6 682.2L408.4 682.2L408.4 495.3ZM488.7 609.9L488.2 611.9L489.1 613.9L489.3 614.6L490.5 613.9L492.4 611.9L490.4 609.9L489.3 608.5ZM446.5 613.9L443.2 615.9L445.3 617.9L446.9 618.3L448 617.9L449.4 615.9L447.6 613.9L446.9 613.5ZM439.2 672.2L438.8 674.2L438.5 676.2L439.2 677.8L439.5 678.2L443.1 679.5L446.9 678.5L448.2 678.2L450.3 676.2L449.4 674.2L448.7 672.2L446.9 671.3L443.1 671L439.2 672.1Z" fill="#1b63c9" stroke="#1b63c9" fill-rule="evenodd"/>
<path d="M409.4 499.5L412.3 499.5L416.1 499.3L420 498.6L423.8 498.1L427.7 498.2L431.5 498.9L435.4 499.1L439.2 499.3L443.1 499.6L446.9 499.5L450.8 499.4L454.6 499.3L458.5 498.7L462.3 498.8L466.2 499.7L470.1 499.7L473.9 499.4L477.8 498.8L481.6 498.4L485.5 498.2L489.3 498.4L493.2 499L497 499.2L500.9 499.1L504.7 499.1L508.6 499L512.4 498.7L516.3 498.5L520.1 498.8L524 499.3L527.9 499.6L531.7 499.2L535.6 498.4L539.4 498.6L543.3 498.7L547.1 498.7L551 498.7L554.8 498.5L558.7 498.3L562.5 498.3L566.4 498.5L570.2 498.9L574.1 498.7L577.9 498.5L581.8 498.2L585.7 498.3L589.5 498.2L593.4 497.9L597.2 497.9L601.1 498.1L604.9 498.6L608.8 498.5L612.6 498.4L616.5 498.5L620.3 498.6L624.2 498.3L628 497.7L631.9 497.7L635.7 498.2L639.6 499L639.6 542.6L631.9 542.8L628 542.9L624.2 542.9L620.3 542.9L616.5 543.1L608.8 543L601.1 542.8L597.2 542.8L593.4 543L589.5 542.9L585.7 543L581.8 543L577.9 543.4L574.1 543.6L570.2 543.8L566.4 543.9L562.5 543.9L558.7 543.8L554.8 544.1L551 544.3L543.3 545L535.6 545.7L531.7 546.1L527.9 546.6L524 547.2L521.1 547.7L516.3 548.3L512.4 548.9L508.6 549.5L504.7 550.1L500.9 550.9L497 551.3L493.2 551.4L408.4 551.4L408.4 499.4ZM411.5 571.8L412.3 572.1L413 573.8L413.3 575.8L412.6 577.8L412.3 578.1L408.4 577.8L408.4 571.3ZM450.8 580.6L454.6 581.1L456.1 581.8L457.6 583.8L458.5 585.6L458.5 586L457.3 587.8L454.6 588.9L452.2 587.8L450.9 585.8L450.4 583.8L449.7 581.8ZM477.8 583.7L479.7 583.8L481.6 584L482.7 585.8L482.9 587.8L482.3 589.8L481.6 590.7L477.8 589.9L473.9 591L470.6 589.8L470.1 589.6L468.3 587.8L468.8 585.8L470.1 585.4L473.9 584.7L477.5 583.8ZM412.3 591.4L416.1 591.7L416.1 592.3L413.8 593.8L412.2 595.9L412 593.8L411.9 591.8ZM489.3 599.1L491.6 599.9L493.2 601L494.6 601.9L489.3 603.3L485.5 602.7L483.7 601.9L485.5 600.2L486.4 599.9ZM477.8 614L481.6 614.2L483.5 615.9L484.3 617.9L483.9 620L483.1 622L482.9 626L482.4 628L485.5 629.8L486 630L489.3 630.7L493.2 631.3L494.5 632L495.5 634L496 636L495.9 638L494.7 642L495 644L495.3 646.1L495.4 648.1L495.5 652.1L494.4 654.1L493.2 655.9L489.3 655.9L489 656.1L488.7 658.1L489.3 658.6L493.2 658.5L494.1 660.1L494.9 662.1L495.3 666.1L496.1 672.2L496.7 676.2L497 679L498.2 682.2L475.9 682.2L475.6 680.2L475.2 678.2L473.9 676.5L470.1 676.6L466.2 675.8L463.7 674.2L461.5 672.2L462.5 670.2L463.8 668.1L463.4 666.1L462.3 665.4L458.5 664.4L458.2 666.1L457.5 668.1L454.6 669.4L453.4 668.1L452.8 666.1L454.6 664.1L455.5 664.1L458.2 662.1L458.5 661.9L462.3 660.7L466.2 660L466.7 660.1L470.1 661L473.9 660.6L474.2 660.1L475.4 658.1L475.9 656.1L476.1 654.1L476.4 652.1L476.1 648.1L476.1 646.1L476.2 644L476.3 642L475.9 640L475.6 638L475.5 636L475.7 634L476.6 632L475.4 630L473.9 629.1L472.1 628L471.7 626L473.9 624.8L475.1 624L476.9 622L476.7 620L476.6 617.9L476.9 615.9ZM416.1 621L420 620.5L423.8 621.4L425.4 622L427.1 624L427.6 626L426.5 628L423.8 629.5L420 630.6L416.1 631L412.6 630L412.3 629.9L409.8 628L409 626L410.5 624L412.3 622.5L413.6 622ZM443.1 623.1L444 624L445.5 626L445.2 628L443.1 629.1L440.6 628L439.6 626L441.6 624ZM500.9 635.4L501.9 636L502.7 638L502.1 640L500.9 644.2L499.7 640L499 638L499.8 636ZM443.1 639.4L444.5 640L446.9 641.3L450.2 642L446.9 643.6L446.2 644L443.1 645.2L441.4 644L440.1 642L442.2 640ZM412.3 641.5L416.1 641L419.3 642L420 642.7L421 644L421.7 646.1L421 648.1L420 649.1L416.1 648.7L413.5 648.1L412.3 646.9L411.9 646.1L411.7 642ZM454.6 641.9L458.5 641.1L462.3 640.6L466.2 640.7L469.2 642L466.2 643.9L461.9 644L458.5 644.6L457 646.1L455.9 648.1L454.6 649.6L452.5 648.1L451.9 646.1L452 644L452.4 642ZM439.2 649.6L439.8 650.1L441 652.1L439.2 653.8L435.4 653.5L433.9 652.1L435.4 650.1L436 650.1ZM443.1 659.2L445.1 660.1L446.9 662.1L445.9 664.1L443.5 666.1L443.1 666.3L442.6 666.1L439.2 664.1L437.4 662.1L439.2 660.9L440.6 660.1ZM412.3 661.1L415.1 662.1L412.3 663.7L411.6 664.1L408.4 665.8L408.4 660.2ZM431.5 674L432 676.2L432.5 680.2L433 682.2L408.4 682.2L408.4 679.2L412.3 679.9L416.1 680L420 679.2L423.8 679.8L427.7 679.8L429.9 678.2L431.4 674.2Z" fill="#0c80e6" stroke="#0c80e6" fill-rule="evenodd"/>
<path d="M593.4 501.2L597.2 501.3L601.1 501.7L604.9 502.2L612.6 502.1L616.5 502L620.3 502.3L624.2 502L626.8 501.5L628 501.3L631.9 501.4L635.7 501.7L639.6 502.2L639.6 541.2L628 541.7L624.2 541.7L620.3 541.8L616.5 542L612.6 541.9L608.8 541.8L601.1 541.5L597.2 541.6L593.4 541.7L589.5 541.7L585.7 541.7L581.8 541.7L577.9 542.1L574.1 542.5L570.2 542.7L566.4 542.7L562.5 542.6L558.7 542.3L554.8 542.5L551 542.7L547.1 543L543.3 543.2L539.4 543.5L535.6 543.9L531.7 543.7L527.9 543.9L524 544.6L520.1 544.9L516.3 545.2L512.4 545.4L508.6 545.5L504.7 545.5L500.9 545.6L485.5 545.5L477.8 545.5L466.2 545.5L458.5 545.5L454.6 545.5L443.1 545.5L431.5 545.5L423.8 545.6L412.3 545.5L408.4 545.5L408.4 502.9L412.3 503L416.1 502.9L420 502.8L423.8 502.3L427.7 502.2L431.5 502.6L435.4 502.6L439.2 502.7L443.1 502.8L446.9 503.1L450.8 503.1L454.6 502.6L458.5 501.8L462.3 501.9L466.2 502.8L470.1 503.2L473.9 503L477.8 502.1L481.6 501.9L485.5 501.8L489.3 501.7L493.2 502.4L497 502.5L500.9 502.3L504.7 502.4L508.6 502.5L512.4 502.7L516.3 502.6L520.1 502.7L524 502.9L527.9 503L531.7 502.6L535.6 501.7L539.4 502L543.3 502.1L547.1 502L551 502.1L554.8 502L558.7 501.6L562.5 501.7L566.4 502.1L570.2 502.8L574.1 502.4L581.8 501.7L585.7 501.9L589.5 501.8L591.4 501.5Z" fill="#009eef" stroke="#009eef" fill-rule="evenodd"/>
<path d="M439.2 505.4L443.1 505.3L444.4 505.5L446.9 505.7L450.8 505.8L454.6 505.7L458.5 505.5L462.3 505.5L462.6 505.5L466.2 505.7L470.1 505.8L473.9 505.8L477.8 505.5L485.5 505.4L489.3 505.5L493.2 505.6L497 505.7L500.9 505.6L508.6 505.6L512.4 505.6L516.3 505.6L520.1 505.7L524 505.9L527.9 505.8L531.7 505.7L534.3 505.5L535.6 505.2L539.4 505.5L543.3 505.6L551 505.6L554.8 505.5L556.9 505.5L558.7 505.3L562.5 505.2L566.4 505.4L566.9 505.5L570.2 505.6L575.2 505.5L577.9 505.3L581.8 505.2L585 505.5L589.5 505.6L593.4 505.6L604.9 505.5L608.8 505.6L612.6 505.6L620.3 505.7L624.2 505.7L635.7 505.6L639.6 505.6L639.6 540L635.7 540.1L631.9 540.3L628 540.5L624.2 540.5L620.3 540.5L616.5 540.8L612.6 540.7L608.8 540.5L604.9 540.3L601.1 540.2L597.2 540.1L593.4 540.3L585.7 540.3L581.8 540.3L574.1 541.2L570.2 541.6L566.4 541.5L562.5 541.3L558.7 541L554.8 541.1L551 541.2L547.1 541.5L542.3 541.6L539.4 541.8L535.6 542.1L531.7 541.9L527.9 541.9L520.1 542.7L516.3 543.1L512.4 543.5L508.6 543.7L504.7 543.7L500.9 543.7L497 543.5L493.2 543.4L489.3 543.4L477.8 542.9L473.9 543L470.1 543.1L466.2 543.2L462.3 543.5L458.5 543.4L454.6 543L443.1 543.4L439.2 543.3L435.4 543.2L431.5 543.2L427.7 543.6L423.8 543.6L420 543.4L416.1 543.1L412.3 542.9L408.4 542.7L408.4 505.8L412.3 505.8L416.1 505.8L420 505.7L423.8 505.6L427.7 505.5L431.5 505.7L438.1 505.5Z" fill="#00b6a7" stroke="#00b6a7" fill-rule="evenodd"/>
<path d="M412.3 506.9L416.1 506.8L420 506.7L423.8 506.6L427.7 506.6L431.5 506.7L439.2 506.5L443.1 506.4L446.9 506.7L450.8 506.8L454.6 506.8L458.5 506.6L462.3 506.6L470.1 506.9L473.9 506.8L477.8 506.6L481.6 506.5L485.5 506.5L489.3 506.6L493.2 506.7L497 506.7L504.7 506.6L512.4 506.6L516.3 506.7L520.1 506.8L524 506.9L527.9 506.9L531.7 506.7L535.6 506.4L543.3 506.6L547.1 506.6L551 506.7L554.8 506.6L558.7 506.5L562.5 506.5L566.4 506.5L570.2 506.7L574.1 506.5L577.9 506.5L581.8 506.5L589.5 506.6L593.4 506.7L597.2 506.7L601.1 506.6L604.9 506.5L608.8 506.6L612.6 506.7L616.5 506.7L624.2 506.8L628 506.7L635.7 506.6L639.6 506.6L639.6 539.1L635.7 539.2L631.9 539.3L628 539.4L624.2 539.4L620.3 539.4L616.5 539.5L612.6 539.5L608.8 539.4L604.9 539.3L601.1 539.1L597.2 539.1L593.4 539.2L581.8 539.2L577.9 539.4L574.8 539.6L570.2 540.2L566.4 540.1L562.5 540L558.7 539.7L554.8 539.8L551 540L547.1 540.3L539.4 540.7L535.6 540.9L531.7 540.7L527.9 540.8L524 541L520.1 541.2L516.3 541.4L512.4 541.5L507.1 541.6L504.7 541.7L500.9 541.8L498.3 541.6L493.2 541.5L485.5 541.5L481.6 541.4L477.8 541.3L466.2 541.4L462.3 541.5L458.5 541.5L454.6 541.3L446.9 541.5L443.1 541.5L435.4 541.4L431.5 541.5L427.7 541.6L423.8 541.7L420 541.6L412.3 541.3L408.4 541.2L408.4 506.9Z" fill="#01cc66" stroke="#01cc66" fill-rule="evenodd"/>
<path d="M443.1 507.4L446.9 507.7L450.8 507.8L454.6 507.8L458.5 507.7L462.3 507.7L470.1 507.9L473.9 507.8L477.8 507.6L481.6 507.6L485.5 507.6L489.3 507.7L493.2 507.7L497 507.7L512.4 507.6L516.3 507.7L520.1 507.8L524 507.9L527.9 507.9L531.7 507.7L535.6 507.5L543.3 507.6L547.1 507.7L551 507.7L554.8 507.7L558.7 507.6L562.5 507.6L566.4 507.6L570.2 507.7L574.1 507.6L577.9 507.5L581.8 507.5L593.4 507.8L597.2 507.7L601.1 507.7L604.9 507.6L608.8 507.7L612.6 507.7L616.5 507.8L624.2 507.8L628 507.8L631.9 507.7L635.7 507.7L639.6 507.6L639.6 538.4L635.7 538.4L631.9 538.5L628 538.7L624.2 538.7L620.3 538.7L616.5 538.8L612.6 538.7L608.8 538.6L604.9 538.5L601.1 538.3L597.2 538.3L589.5 538.4L581.8 538.5L577.9 538.6L574.1 538.8L570.2 539.1L566.4 539.1L562.5 539.1L558.7 538.9L554.8 538.9L551 539.1L547.1 539.3L537.9 539.6L535.6 539.7L531.7 539.7L527.9 539.8L520.1 540.3L516.3 540.5L512.4 540.6L508.6 540.7L504.7 540.7L500.9 540.8L497 540.7L493.2 540.6L485.5 540.5L477.8 540.4L466.2 540.4L462.3 540.6L458.5 540.6L454.6 540.4L446.9 540.5L431.5 540.6L427.7 540.7L423.8 540.8L420 540.7L408.4 540.2L408.4 507.9L412.3 507.9L416.1 507.8L420 507.7L423.8 507.6L427.7 507.6L431.5 507.7L439.6 507.5Z" fill="#31d670" stroke="#31d670" fill-rule="evenodd"/>
<path d="M412.3 508.8L416.1 508.7L423.8 508.5L427.7 508.5L431.5 508.6L435.4 508.6L439.2 508.5L443.1 508.4L446.9 508.6L450.8 508.7L454.6 508.8L458.5 508.7L462.3 508.6L470.1 508.8L473.9 508.7L477.8 508.5L481.6 508.5L485.5 508.5L489.3 508.7L497 508.7L500.9 508.6L508.6 508.6L512.4 508.5L516.3 508.6L520.1 508.7L524 508.8L527.9 508.8L531.7 508.7L535.6 508.4L539.4 508.4L543.3 508.5L547.1 508.6L551 508.7L554.8 508.6L558.7 508.6L562.5 508.5L566.4 508.6L570.2 508.6L574.1 508.5L577.9 508.4L581.8 508.4L589.5 508.6L593.4 508.7L597.2 508.7L601.1 508.6L604.9 508.5L612.6 508.7L616.5 508.7L624.2 508.7L628 508.7L631.9 508.6L635.7 508.6L639.6 508.5L639.6 537.6L635.7 537.7L631.9 537.8L628 537.9L624.2 537.9L620.3 537.9L616.5 538L612.6 537.9L608.8 537.8L601.1 537.6L597.2 537.5L585.7 537.6L581.8 537.7L577.9 537.8L574.1 538L570.2 538.3L566.4 538.3L562.5 538.3L558.7 538.1L554.8 538.1L551 538.3L547.1 538.5L539.4 538.7L535.6 538.9L531.7 538.8L527.9 538.9L524 539.1L520.1 539.3L516.3 539.5L511.4 539.6L508.6 539.7L504.7 539.8L500.9 539.8L497 539.8L493.2 539.7L489.3 539.7L481.6 539.6L477.8 539.5L470.1 539.5L466.2 539.5L462.3 539.7L458.5 539.7L454.6 539.6L446.9 539.6L442.8 539.6L435.4 539.7L431.5 539.7L427.7 539.8L423.8 539.8L420 539.8L412.3 539.5L408.4 539.2L408.4 508.8Z" fill="#5ddf79" stroke="#5ddf79" fill-rule="evenodd"/>
<path d="M420 509.5L423.8 509.4L427.7 509.4L431.5 509.5L435.4 509.5L439.2 509.4L443.1 509.3L450.8 509.7L454.6 509.8L458.5 509.7L462.3 509.7L470.1 509.8L473.9 509.7L477.8 509.4L481.6 509.4L485.5 509.5L489.3 509.7L493.2 509.6L497 509.6L500.9 509.6L508.6 509.5L512.4 509.4L516.3 509.5L520.1 509.6L524 509.7L527.9 509.7L531.7 509.6L535.6 509.4L539.4 509.4L543.3 509.4L547.1 509.6L551 509.6L554.8 509.6L558.7 509.6L566.4 509.5L570.2 509.5L574.1 509.4L577.9 509.4L581.8 509.4L593.4 509.6L597.2 509.6L601.1 509.6L604.9 509.4L612.6 509.6L616.5 509.7L620.3 509.7L624.2 509.7L628 509.6L631.9 509.5L635.7 509.5L639.6 509.5L639.6 536.8L635.7 536.9L631.9 537L628 537.1L620.3 537.2L616.5 537.2L612.6 537.1L608.8 537L604.9 536.9L601.1 536.7L597.2 536.7L593.4 536.7L585.7 536.8L581.8 536.9L577.9 537L574.1 537.2L570.2 537.5L566.4 537.5L562.5 537.5L558.7 537.3L554.8 537.3L551 537.4L547.1 537.6L543.3 537.8L539.4 537.9L535.6 538L531.7 538L527.9 538.1L524 538.3L520.1 538.5L516.3 538.6L512.4 538.7L508.6 538.8L504.7 538.9L500.9 538.9L493.2 538.8L489.3 538.8L481.6 538.7L477.8 538.6L470.1 538.6L466.2 538.6L462.3 538.8L458.5 538.8L454.6 538.7L446.9 538.7L443.1 538.7L439.2 538.8L435.4 538.8L431.5 538.8L423.8 538.9L420 538.9L416.1 538.8L412.3 538.6L408.4 538.3L408.4 509.8L412.3 509.7L416.1 509.6L419.7 509.5Z" fill="#8de882" stroke="#8de882" fill-rule="evenodd"/>
<path d="M412.3 510.8L416.1 510.7L420 510.5L423.8 510.4L427.7 510.4L431.5 510.6L435.4 510.6L439.2 510.5L443.1 510.4L450.8 510.7L454.6 510.9L458.5 510.8L462.3 510.8L470.1 510.9L473.9 510.8L477.8 510.4L481.6 510.4L485.5 510.5L489.3 510.8L493.2 510.7L497 510.7L500.9 510.7L504.7 510.6L508.6 510.6L512.4 510.5L516.3 510.5L520.1 510.6L524 510.8L527.9 510.8L531.7 510.7L535.6 510.4L539.4 510.4L543.3 510.5L547.1 510.7L551 510.8L554.8 510.8L558.7 510.7L566.4 510.7L570.2 510.7L574.1 510.5L577.9 510.4L581.8 510.5L585.7 510.6L589.5 510.7L593.4 510.7L597.2 510.8L601.1 510.7L604.9 510.6L612.6 510.8L616.5 510.9L620.3 510.9L624.2 510.8L628 510.7L631.9 510.6L635.7 510.5L639.6 510.6L639.6 536.1L635.7 536.1L631.9 536.2L628 536.3L616.5 536.4L612.6 536.3L608.8 536.2L604.9 536L601.1 535.9L597.2 535.9L593.4 535.9L589.5 536L581.8 536.1L577.9 536.1L574.1 536.3L570.2 536.6L566.4 536.7L562.5 536.6L558.7 536.4L554.8 536.4L551 536.5L547.1 536.7L543.3 536.8L539.4 536.9L535.6 537L531.7 537L527.9 537.1L524 537.4L520.1 537.6L516.3 537.8L512.4 537.8L508.6 537.9L504.7 538L500.9 538L489.3 538L481.6 537.8L477.8 537.7L470.1 537.7L466.2 537.6L462.3 537.9L458.5 537.9L454.6 537.8L446.9 537.8L443.1 537.8L439.2 537.9L435.4 538L427.7 538L420 538.1L416.1 537.9L411.6 537.6L408.4 537.3L408.4 510.8Z" fill="#bdf28c" stroke="#bdf28c" fill-rule="evenodd"/>
<path d="M423.8 511.4L427.7 511.5L431.5 511.7L435.4 511.7L439.2 511.6L443.1 511.4L446.9 511.6L450.8 511.8L454.6 512.1L458.5 512.1L462.3 512.1L470.1 512.2L473.9 512L477.1 511.5L477.8 511.5L481.6 511.4L483.6 511.5L485.5 511.6L489.3 512.2L493.2 511.9L497 511.8L500.9 511.9L504.7 511.8L508.6 511.7L512.4 511.5L516.3 511.5L520.1 511.7L524 512L527.9 512L531.7 511.8L535.6 511.5L539.4 511.4L543.3 511.5L547.1 512L551 512.1L554.8 512.2L558.7 512.2L562.5 512.2L566.4 512.1L570.2 512L574.1 511.7L577.9 511.6L581.8 511.6L585.7 511.9L589.5 512L597.2 512.2L601.1 512.1L604.9 511.8L608.8 512L616.5 512.3L620.3 512.3L624.2 512.3L628 512.1L631.9 511.8L635.7 511.7L639.6 511.8L639.6 535.2L635.7 535.2L631.9 535.3L628 535.5L624.2 535.5L620.3 535.5L616.5 535.5L612.6 535.4L608.8 535.3L604.9 535.1L601.1 534.9L597.2 534.9L593.4 534.9L589.5 535L585.7 535.1L581.8 535.1L577.9 535.2L574.1 535.4L572 535.6L570.2 535.7L566.4 535.8L562.5 535.7L558.7 535.4L554.8 535.4L551 535.5L547.1 535.7L543.3 535.8L539.4 535.9L531.7 535.9L527.9 536L524 536.2L520.1 536.4L516.3 536.5L512.4 536.5L508.6 536.7L504.7 536.8L493.2 536.8L489.3 536.8L477.8 536.5L470.1 536.3L466.2 536.3L462.3 536.6L458.5 536.8L454.6 536.7L446.9 536.6L443.1 536.6L439.2 536.8L435.4 536.9L431.5 536.9L427.7 536.9L423.8 536.9L420 536.9L416.1 536.7L412.3 536.3L408.4 535.9L408.4 512.1L412.3 511.9L416.1 511.8L420.4 511.5Z" fill="#e9fb95" stroke="#e9fb95" fill-rule="evenodd"/>
<path d="M412.3 513.3L416.1 513.2L423.8 513L427.7 513L431.5 513.2L435.4 513.3L439.2 513.2L443.1 513.1L446.9 513.2L450.8 513.4L454.6 513.6L466.2 513.6L470.1 513.6L473.9 513.5L477.8 513L481.6 513L485.5 513.3L487.4 513.5L489.3 513.7L493.2 513.5L497 513.4L501.3 513.5L504.7 513.5L508.6 513.4L512.4 513.2L516.3 513.3L524 513.7L527.9 513.7L532.1 513.5L535.6 513.3L539.4 513.2L543.3 513.3L545.3 513.5L547.1 513.7L558.7 514.2L562.5 514.1L566.4 514L570.2 513.9L574.1 513.7L577.9 513.6L581.8 513.7L585.7 513.9L589.5 514L593.4 514.1L597.2 514.2L601.1 514.2L604.9 514L608.8 514L612.6 514.1L616.5 514.1L620.3 514.3L624.2 514.3L628 514.2L631.9 513.9L635.7 513.8L639.6 513.8L639.6 534.2L631.9 534.2L628 534.3L624.2 534.3L620.3 534.4L612.6 534.3L608.8 534.1L604.9 533.9L601.1 533.8L597.2 533.8L593.4 533.8L589.5 533.9L585.7 534L581.8 534L577.9 534.1L574.1 534.3L570.2 534.6L566.4 534.6L562.5 534.5L558.7 534.3L554.8 534.4L551 534.5L547.1 534.7L543.3 534.8L539.4 534.8L535.6 534.8L531.7 534.8L527.9 534.9L524 535.1L520.1 535.2L516.3 535.3L512.4 535.3L508.6 535.4L504.7 535.5L500.9 535.5L497 535.5L493.2 535.5L489.3 535.5L477.8 535.3L466.2 535.1L462.3 535.3L458.5 535.5L450.8 535.4L446.9 535.3L443.1 535.3L439.2 535.5L435.4 535.6L431.1 535.6L427.7 535.5L423.8 535.5L420 535.6L416.1 535.3L412.3 535.1L408.4 534.8L408.4 513.5Z" fill="#f2ee92" stroke="#f2ee92" fill-rule="evenodd"/>
<path d="M412.3 514.3L416.1 514.2L420 514.2L423.8 514.2L427.7 514.2L431.5 514.3L435.4 514.4L439.2 514.4L446.9 514.4L450.8 514.4L454.6 514.6L458.5 514.6L462.3 514.6L466.2 514.5L470.1 514.6L473.9 514.5L477.8 514.3L481.6 514.2L485.5 514.4L489.3 514.7L493.2 514.5L497 514.5L500.9 514.6L504.7 514.6L508.6 514.5L512.4 514.4L516.3 514.5L520.1 514.7L524 514.9L531.7 514.8L535.6 514.7L539.4 514.6L543.3 514.7L547.1 515L553.8 515.5L558.7 515.7L566.4 515.7L570.2 515.6L577.9 515.6L581.8 515.6L585.7 515.7L589.5 515.7L593.4 515.8L597.2 515.9L601.1 515.9L604.9 515.8L608.8 515.7L612.6 515.7L616.5 515.7L620.3 515.9L624.2 515.9L628 515.8L631.9 515.7L635.7 515.7L639.6 515.6L639.6 533.2L631.9 533.2L628 533.2L624.2 533.3L620.3 533.3L612.6 533.2L608.8 533.1L604.9 533L601.1 532.9L597.2 532.9L589.5 533L577.9 533.1L574.1 533.2L570.2 533.5L566.4 533.5L562.5 533.4L558.7 533.3L554.8 533.4L551 533.5L547.1 533.6L543.3 533.7L539.4 533.7L535.6 533.6L527.9 533.9L524 534L520.1 534.2L516.3 534.2L512.4 534.2L508.6 534.3L504.7 534.4L500.9 534.4L497 534.5L493.2 534.5L489.3 534.5L481.6 534.3L473.9 534.2L466.2 534L462.3 534.3L458.5 534.4L454.6 534.4L450.8 534.3L446.9 534.2L443.1 534.3L439.2 534.5L435.4 534.6L431.5 534.6L427.7 534.4L423.8 534.4L420 534.4L416.1 534.2L412.3 534L408.4 533.8L408.4 514.5Z" fill="#dcd286" stroke="#dcd286" fill-rule="evenodd"/>
<path d="M412.3 515.3L416.1 515.2L420 515.2L423.8 515.2L427.7 515.2L431.5 515.3L439.2 515.4L443.1 515.4L446.9 515.4L450.8 515.4L454.7 515.5L458.5 515.6L464 515.5L466.2 515.5L470.7 515.5L473.9 515.5L477.8 515.3L481.6 515.3L485.5 515.4L486.6 515.5L489.3 515.7L493.2 515.6L497 515.5L500.9 515.6L508.6 515.6L512.4 515.5L520.1 515.7L524 515.9L531.7 515.8L539.4 515.8L543.3 515.8L554.8 516.4L558.7 516.6L566.4 516.5L570.2 516.4L581.8 516.5L585.7 516.6L589.5 516.6L593.4 516.6L597.2 516.7L601.1 516.7L604.9 516.6L608.8 516.6L612.6 516.6L616.5 516.6L620.3 516.7L624.2 516.7L628 516.7L631.9 516.6L635.7 516.5L639.6 516.5L639.6 532.5L635.7 532.5L631.9 532.4L628 532.3L624.2 532.4L620.3 532.5L616.5 532.4L612.6 532.4L608.8 532.3L604.9 532.1L601.1 532.1L597.2 532.1L589.5 532.2L577.9 532.3L574.1 532.4L570.2 532.6L566.4 532.6L562.5 532.6L558.7 532.5L551 532.7L547.1 532.8L543.3 532.9L539.4 532.9L535.6 532.9L531.7 533L527.9 533.1L524 533.2L520.1 533.3L516.3 533.3L512.4 533.3L508.6 533.4L504.7 533.4L500.9 533.4L497 533.5L493.2 533.5L489.3 533.5L481.6 533.4L473.9 533.3L466.2 533.2L462.3 533.4L458.5 533.4L454.6 533.4L450.8 533.4L446.9 533.3L443.1 533.4L439.2 533.5L435.4 533.6L431.5 533.6L427.7 533.4L423.8 533.4L420 533.4L416.1 533.3L412.3 533.2L408.4 533.1L408.4 515.5Z" fill="#c4b379" stroke="#c4b379" fill-rule="evenodd"/>
<path d="M412.3 516L416.1 515.9L420 516L423.8 516L427.7 516L439.2 516.1L443.1 516.1L446.9 516.1L450.8 516.1L454.6 516.1L458.5 516.2L462.3 516.2L466.2 516.1L470.1 516.2L473.9 516.1L477.8 516L481.6 516L485.5 516.1L489.3 516.3L493.2 516.2L497 516.2L500.9 516.2L508.6 516.2L512.4 516.2L516.3 516.2L520.1 516.4L524 516.5L527.9 516.5L531.7 516.5L535.6 516.5L539.4 516.5L543.3 516.6L547.1 516.8L554.8 517.2L558.7 517.4L566.4 517.3L570.2 517.3L577.9 517.3L581.8 517.3L585.7 517.4L589.5 517.5L593.4 517.5L597.2 517.6L601.1 517.6L604.9 517.5L608.8 517.4L612.6 517.4L616.5 517.4L620.7 517.5L624.2 517.6L628 517.6L631.9 517.4L635.7 517.4L639.6 517.4L639.6 531.7L635.7 531.7L631.9 531.6L628 531.4L624.2 531.6L620.3 531.6L616.5 531.5L612.6 531.5L608.8 531.4L604.9 531.3L601.1 531.2L597.2 531.2L589.5 531.3L577.9 531.4L574.1 531.5L570.2 531.7L566.4 531.8L562.5 531.8L558.7 531.7L551 532L547.1 532.1L543.3 532.2L539.4 532.2L535.6 532.1L531.7 532.3L527.9 532.4L524 532.5L520.1 532.6L516.3 532.7L512.4 532.7L508.6 532.7L504.7 532.7L500.9 532.8L497 532.8L493.2 532.9L489.3 532.9L481.6 532.8L477.8 532.7L473.9 532.7L470.1 532.6L466.2 532.6L462.3 532.7L458.5 532.8L454.6 532.8L450.8 532.7L446.9 532.7L443.1 532.7L439.2 532.9L435.4 532.9L431.5 532.9L427.7 532.8L423.8 532.7L420 532.8L416.1 532.7L412.3 532.6L408.4 532.4L408.4 516.1Z" fill="#ac956c" stroke="#ac956c" fill-rule="evenodd"/>
<path d="M412.3 516.6L416.1 516.6L420 516.6L423.8 516.6L427.7 516.6L443.1 516.8L446.9 516.7L450.8 516.7L458.5 516.8L462.3 516.8L466.2 516.8L470.1 516.8L473.9 516.8L477.8 516.7L481.6 516.7L485.5 516.8L489.3 516.9L493.2 516.8L497 516.8L500.9 516.9L512.4 516.8L516.3 516.9L520.1 517L524 517.2L527.9 517.2L531.7 517.2L535.6 517.2L539.4 517.2L543.3 517.3L547.7 517.5L558.7 518.3L570.2 518.2L574.1 518.3L577.9 518.3L581.8 518.3L585.7 518.4L589.5 518.5L593.4 518.5L597.2 518.6L601.1 518.6L604.9 518.4L608.8 518.4L612.6 518.3L616.5 518.4L620.3 518.5L624.2 518.5L628 518.5L631.9 518.4L635.7 518.3L639.6 518.3L639.6 530.7L635.7 530.7L631.9 530.6L628 530.5L624.2 530.6L620.3 530.6L616.5 530.6L612.6 530.6L608.8 530.5L601.1 530.3L597.2 530.3L593.4 530.4L589.5 530.4L585.7 530.5L577.9 530.5L574.1 530.6L570.2 530.8L566.4 530.8L562.5 530.8L558.7 530.8L547.1 531.3L543.3 531.4L539.4 531.4L535.6 531.4L531.7 531.6L527.9 531.7L524 531.8L520.1 531.9L516.3 532L512.4 532L508.6 532.1L504.7 532.1L500.9 532.1L497 532.2L493.2 532.3L489.3 532.3L481.6 532.2L477.8 532.1L473.9 532L470.1 532L466.2 532L462.3 532.1L458.5 532.1L454.6 532.2L450.8 532.1L446.9 532L443.1 532.1L439.2 532.2L435.4 532.3L431.5 532.3L427.7 532.1L423.8 532.1L420 532.1L416.1 532L408.4 531.8L408.4 516.7Z" fill="#967960" stroke="#967960" fill-rule="evenodd"/>
<path d="M412.3 517.2L416.1 517.2L420 517.3L423.8 517.2L435.4 517.3L443.1 517.4L446.9 517.3L450.8 517.3L458.5 517.4L462.3 517.4L466.2 517.4L470.1 517.4L473.9 517.4L477.8 517.3L481.6 517.3L485.5 517.4L489.3 517.5L493.2 517.4L497 517.4L500.9 517.5L512.4 517.4L516.3 517.6L520.1 517.7L524 517.9L527.9 517.9L531.7 518L535.6 518.1L539.4 518.1L543.3 518.3L547.1 518.5L558.7 519.3L570.2 519.1L574.1 519.3L577.9 519.3L581.8 519.3L585.7 519.4L589.5 519.4L593.4 519.5L597.2 519.6L601.1 519.5L604.9 519.4L608.8 519.3L612.6 519.3L616.5 519.3L620.3 519.4L624.2 519.5L628 519.5L631.9 519.3L635.7 519.2L639.6 519.3L639.6 529.8L635.7 529.8L631.9 529.7L630 529.6L628 529.4L624.2 529.6L620.3 529.6L616.5 529.6L612.6 529.6L608.8 529.6L604.9 529.5L601.1 529.3L597.2 529.2L593.4 529.4L589.5 529.5L585.7 529.5L581.8 529.5L577.9 529.5L574.1 529.6L570.2 529.8L566.4 529.9L562.5 529.9L558.7 529.8L554.8 530L547.1 530.3L543.3 530.4L539.4 530.5L535.6 530.5L531.7 530.7L527.9 530.9L524 531L520.1 531.1L516.3 531.2L512.4 531.2L504.7 531.4L500.9 531.4L497 531.5L493.2 531.6L489.3 531.7L481.6 531.5L477.8 531.4L473.9 531.3L470.1 531.3L466.2 531.2L462.3 531.4L458.5 531.5L454.6 531.5L450.8 531.4L446.9 531.3L443.1 531.4L439.2 531.6L435.4 531.7L431.5 531.7L430.1 531.6L427.7 531.4L423.8 531.3L420 531.4L416.1 531.3L412.3 531.1L408.4 531L408.4 517.4Z" fill="#815e56" stroke="#815e56" fill-rule="evenodd"/>
<path d="M412.3 518L416.1 517.9L420 518L427.7 518.1L439.2 518.2L443.1 518.2L446.9 518.2L450.8 518.1L454.6 518.1L458.5 518.2L462.3 518.2L466.2 518.2L470.1 518.2L473.9 518.2L477.8 518.1L481.6 518.1L485.5 518.2L489.3 518.4L493.2 518.3L497 518.3L500.9 518.3L504.7 518.3L508.6 518.3L512.4 518.3L516.3 518.5L524 518.8L527.9 518.8L531.7 518.9L535.6 519.1L539.4 519.1L543.3 519.3L548.4 519.6L554.8 520.2L558.7 520.6L562.5 520.5L570.2 520.4L574.1 520.6L577.9 520.6L581.8 520.6L585.7 520.7L589.5 520.8L593.4 520.9L597.2 521L601.1 520.9L604.9 520.7L608.8 520.6L612.6 520.6L616.5 520.7L620.3 520.7L628 520.8L631.9 520.6L635.7 520.5L639.6 520.6L639.6 528.3L635.7 528.3L631.9 528.2L628 527.8L616.5 528L612.6 528.1L608.8 528.1L604.9 528.1L601.1 527.8L597.2 527.7L593.4 527.9L589.5 528L585.7 528L581.8 527.9L577.9 527.9L574.1 528.1L570.2 528.4L566.4 528.5L562.5 528.5L558.7 528.4L554.8 528.6L551 528.9L547.1 529.3L543.3 529.4L539.4 529.5L535.6 529.5L534.6 529.6L531.7 529.8L527.9 530L524 530.1L520.1 530.2L516.3 530.3L512.4 530.3L500.9 530.4L497 530.6L493.2 530.7L489.3 530.7L481.6 530.6L477.8 530.5L473.9 530.4L470.1 530.3L466.2 530.3L462.3 530.5L458.5 530.6L454.6 530.6L450.8 530.5L446.9 530.4L443.1 530.5L439.2 530.7L435.4 530.8L431.5 530.7L427.7 530.5L423.8 530.4L420 530.4L416.1 530.4L412.3 530.2L408.4 530.1L408.4 518.2Z" fill="#977a74" stroke="#977a74" fill-rule="evenodd"/>
<path d="M412.3 518.8L416.1 518.8L420 519L427.7 519L439.2 519.1L443.1 519.1L446.9 519L450.8 519L454.6 519L462.3 519L466.2 519.1L470.1 519.1L473.9 519.1L477.8 519L481.6 519.1L485.5 519.1L489.3 519.3L493.2 519.1L497 519.1L500.9 519.2L504.7 519.2L508.6 519.2L512.4 519.2L520.9 519.6L524 519.8L527.9 519.9L531.7 520.1L535.6 520.6L539.4 520.7L543.3 520.9L551.3 521.6L554.8 522.4L558.7 523.1L562.5 522.8L566.4 522.5L570.2 522.4L574.1 523.1L577.9 523.3L581.8 523L585.7 523.3L589.5 523.4L593.4 523.5L593.9 523.6L593.4 523.7L589.5 523.9L581.8 524.3L577.9 524L574.1 524.4L570.2 525.5L569.7 525.6L566.4 525.8L562.5 525.8L560.2 525.6L558.7 525.2L557.6 525.6L554.8 525.9L551 526.8L548.6 527.6L547.1 527.7L543.3 527.9L539.4 528L535.6 528L531.7 528.4L527.9 528.7L524 528.9L520.1 529.1L516.3 529.3L508.6 529.3L504.7 529.3L500.9 529.4L498.7 529.6L497 529.7L493.2 529.8L489.3 529.8L479.2 529.6L473.9 529.4L470.1 529.4L466.2 529.3L461.5 529.6L458.5 529.7L454.6 529.8L450.8 529.6L446.9 529.5L442.9 529.6L439.2 529.8L435.4 529.8L431.5 529.7L429.7 529.6L427.7 529.4L423.8 529.3L420 529.4L416.1 529.4L412.3 529.2L408.4 529L408.4 519.1ZM604.9 522.8L608.8 522.8L612.6 522.9L620.3 523.3L625.4 523.6L624.2 523.6L620.3 523.9L616.5 524.3L612.6 524.8L608.8 525.3L605.4 525.6L604.9 525.6L601.7 523.6ZM631.9 522.7L635.7 522.4L639.6 522.7L639.6 525.4L637.1 525.6L635.3 525.6L631.9 525L628.4 523.6Z" fill="#af9994" stroke="#af9994" fill-rule="evenodd"/>
<path d="M412.3 520L416.1 519.9L420 520.4L423.8 520.6L427.7 520.8L431.5 520.8L435.4 520.7L439.2 520.7L443.1 520.7L446.9 520.5L450.8 520.3L454.6 520.1L458.5 520.2L462.3 520.3L466.2 520.5L470.1 520.8L473.9 520.8L477.8 520.6L481.6 520.7L489.3 520.9L493.2 520.7L497 520.6L500.9 520.8L504.7 520.6L508.6 520.6L512.4 520.8L516.3 521.2L520.1 521.4L522 521.6L524 522L527.9 522.2L531.7 523.5L531.7 523.7L528.7 525.6L527.9 525.8L524 526.6L521.3 527.6L520.1 527.7L516.3 527.8L512.4 527.8L508.6 527.8L504.7 527.8L500.9 527.9L497 528.2L493.2 528.4L489.3 528.4L485.5 528.3L481.6 528.2L477.8 528L466.2 527.9L462.3 528.1L458.5 528.3L454.6 528.5L450.8 528.3L446.9 528.2L443.1 528.1L439.2 528.3L435.4 528.3L427.7 527.8L423.8 527.7L420 527.9L416.1 527.9L412.3 527.8L408.9 527.6L408.4 527.5L408.4 520.6Z" fill="#c7b7b4" stroke="#c7b7b4" fill-rule="evenodd"/>
</g>
<rect x="408.4" y="481.4" width="231.2" height="200.8" fill="none" stroke="#1a1a1a" stroke-width="0.8"/>
<line x1="404.9" y1="481.4" x2="408.4" y2="481.4" stroke="#1a1a1a" stroke-width="0.8"/>
<text x="402.8" y="486.7" font-size="11.7" text-anchor="end" fill="#1a1a1a">10<tspan dy="-5.0" font-size="8.2">2</tspan></text>
<line x1="406.4" y1="516.49" x2="408.4" y2="516.49" stroke="#1a1a1a" stroke-width="0.6"/>
<line x1="406.4" y1="507.65" x2="408.4" y2="507.65" stroke="#1a1a1a" stroke-width="0.6"/>
<line x1="406.4" y1="501.38" x2="408.4" y2="501.38" stroke="#1a1a1a" stroke-width="0.6"/>
<line x1="406.4" y1="496.51" x2="408.4" y2="496.51" stroke="#1a1a1a" stroke-width="0.6"/>
<line x1="406.4" y1="492.54" x2="408.4" y2="492.54" stroke="#1a1a1a" stroke-width="0.6"/>
<line x1="406.4" y1="489.18" x2="408.4" y2="489.18" stroke="#1a1a1a" stroke-width="0.6"/>
<line x1="406.4" y1="486.26" x2="408.4" y2="486.26" stroke="#1a1a1a" stroke-width="0.6"/>
<line x1="406.4" y1="483.7" x2="408.4" y2="483.7" stroke="#1a1a1a" stroke-width="0.6"/>
<line x1="404.9" y1="531.6" x2="408.4" y2="531.6" stroke="#1a1a1a" stroke-width="0.8"/>
<text x="402.8" y="536.9" font-size="11.7" text-anchor="end" fill="#1a1a1a">10<tspan dy="-5.0" font-size="8.2">1</tspan></text>
<line x1="406.4" y1="566.69" x2="408.4" y2="566.69" stroke="#1a1a1a" stroke-width="0.6"/>
<line x1="406.4" y1="557.85" x2="408.4" y2="557.85" stroke="#1a1a1a" stroke-width="0.6"/>
<line x1="406.4" y1="551.58" x2="408.4" y2="551.58" stroke="#1a1a1a" stroke-width="0.6"/>
<line x1="406.4" y1="546.71" x2="408.4" y2="546.71" stroke="#1a1a1a" stroke-width="0.6"/>
<line x1="406.4" y1="542.74" x2="408.4" y2="542.74" stroke="#1a1a1a" stroke-width="0.6"/>
<line x1="406.4" y1="539.38" x2="408.4" y2="539.38" stroke="#1a1a1a" stroke-width="0.6"/>
<line x1="406.4" y1="536.46" x2="408.4" y2="536.46" stroke="#1a1a1a" stroke-width="0.6"/>
<line x1="406.4" y1="533.9" x2="408.4" y2="533.9" stroke="#1a1a1a" stroke-width="0.6"/>
<line x1="404.9" y1="581.8" x2="408.4" y2="581.8" stroke="#1a1a1a" stroke-width="0.8"/>
<text x="402.8" y="587.1" font-size="11.7" text-anchor="end" fill="#1a1a1a">10<tspan dy="-5.0" font-size="8.2">0</tspan></text>
<line x1="406.4" y1="616.89" x2="408.4" y2="616.89" stroke="#1a1a1a" stroke-width="0.6"/>
<line x1="406.4" y1="608.05" x2="408.4" y2="608.05" stroke="#1a1a1a" stroke-width="0.6"/>
<line x1="406.4" y1="601.78" x2="408.4" y2="601.78" stroke="#1a1a1a" stroke-width="0.6"/>
<line x1="406.4" y1="596.91" x2="408.4" y2="596.91" stroke="#1a1a1a" stroke-width="0.6"/>
<line x1="406.4" y1="592.94" x2="408.4" y2="592.94" stroke="#1a1a1a" stroke-width="0.6"/>
<line x1="406.4" y1="589.58" x2="408.4" y2="589.58" stroke="#1a1a1a" stroke-width="0.6"/>
<line x1="406.4" y1="586.66" x2="408.4" y2="586.66" stroke="#1a1a1a" stroke-width="0.6"/>
<line x1="406.4" y1="584.1" x2="408.4" y2="584.1" stroke="#1a1a1a" stroke-width="0.6"/>
<line x1="404.9" y1="632" x2="408.4" y2="632" stroke="#1a1a1a" stroke-width="0.8"/>
<text x="402.8" y="637.3" font-size="11.7" text-anchor="end" fill="#1a1a1a">10<tspan dy="-5.0" font-size="8.2">−1</tspan></text>
<line x1="406.4" y1="667.09" x2="408.4" y2="667.09" stroke="#1a1a1a" stroke-width="0.6"/>
<line x1="406.4" y1="658.25" x2="408.4" y2="658.25" stroke="#1a1a1a" stroke-width="0.6"/>
<line x1="406.4" y1="651.98" x2="408.4" y2="651.98" stroke="#1a1a1a" stroke-width="0.6"/>
<line x1="406.4" y1="647.11" x2="408.4" y2="647.11" stroke="#1a1a1a" stroke-width="0.6"/>
<line x1="406.4" y1="643.14" x2="408.4" y2="643.14" stroke="#1a1a1a" stroke-width="0.6"/>
<line x1="406.4" y1="639.78" x2="408.4" y2="639.78" stroke="#1a1a1a" stroke-width="0.6"/>
<line x1="406.4" y1="636.86" x2="408.4" y2="636.86" stroke="#1a1a1a" stroke-width="0.6"/>
<line x1="406.4" y1="634.3" x2="408.4" y2="634.3" stroke="#1a1a1a" stroke-width="0.6"/>
<line x1="404.9" y1="682.2" x2="408.4" y2="682.2" stroke="#1a1a1a" stroke-width="0.8"/>
<text x="402.8" y="687.5" font-size="11.7" text-anchor="end" fill="#1a1a1a">10<tspan dy="-5.0" font-size="8.2">−2</tspan></text>
<line x1="408.4" y1="682.2" x2="408.4" y2="685.7" stroke="#1a1a1a" stroke-width="0.8"/>
<text x="408.4" y="696.8" font-size="11.7" text-anchor="middle" fill="#1a1a1a">0.1</text>
<line x1="463.56" y1="682.2" x2="463.56" y2="685.7" stroke="#1a1a1a" stroke-width="0.8"/>
<text x="463.56" y="696.8" font-size="11.7" text-anchor="middle" fill="#1a1a1a">0.3</text>
<line x1="524" y1="682.2" x2="524" y2="685.7" stroke="#1a1a1a" stroke-width="0.8"/>
<text x="524" y="696.8" font-size="11.7" text-anchor="middle" fill="#1a1a1a">1</text>
<line x1="579.16" y1="682.2" x2="579.16" y2="685.7" stroke="#1a1a1a" stroke-width="0.8"/>
<text x="579.16" y="696.8" font-size="11.7" text-anchor="middle" fill="#1a1a1a">3</text>
<line x1="639.6" y1="682.2" x2="639.6" y2="685.7" stroke="#1a1a1a" stroke-width="0.8"/>
<text x="639.6" y="696.8" font-size="11.7" text-anchor="middle" fill="#1a1a1a">10</text>
<line x1="443.2" y1="682.2" x2="443.2" y2="684.2" stroke="#1a1a1a" stroke-width="0.6"/>
<line x1="463.56" y1="682.2" x2="463.56" y2="684.2" stroke="#1a1a1a" stroke-width="0.6"/>
<line x1="478" y1="682.2" x2="478" y2="684.2" stroke="#1a1a1a" stroke-width="0.6"/>
<line x1="489.2" y1="682.2" x2="489.2" y2="684.2" stroke="#1a1a1a" stroke-width="0.6"/>
<line x1="498.35" y1="682.2" x2="498.35" y2="684.2" stroke="#1a1a1a" stroke-width="0.6"/>
<line x1="506.09" y1="682.2" x2="506.09" y2="684.2" stroke="#1a1a1a" stroke-width="0.6"/>
<line x1="512.8" y1="682.2" x2="512.8" y2="684.2" stroke="#1a1a1a" stroke-width="0.6"/>
<line x1="518.71" y1="682.2" x2="518.71" y2="684.2" stroke="#1a1a1a" stroke-width="0.6"/>
<line x1="558.8" y1="682.2" x2="558.8" y2="684.2" stroke="#1a1a1a" stroke-width="0.6"/>
<line x1="579.16" y1="682.2" x2="579.16" y2="684.2" stroke="#1a1a1a" stroke-width="0.6"/>
<line x1="593.6" y1="682.2" x2="593.6" y2="684.2" stroke="#1a1a1a" stroke-width="0.6"/>
<line x1="604.8" y1="682.2" x2="604.8" y2="684.2" stroke="#1a1a1a" stroke-width="0.6"/>
<line x1="613.95" y1="682.2" x2="613.95" y2="684.2" stroke="#1a1a1a" stroke-width="0.6"/>
<line x1="621.69" y1="682.2" x2="621.69" y2="684.2" stroke="#1a1a1a" stroke-width="0.6"/>
<line x1="628.4" y1="682.2" x2="628.4" y2="684.2" stroke="#1a1a1a" stroke-width="0.6"/>
<line x1="634.31" y1="682.2" x2="634.31" y2="684.2" stroke="#1a1a1a" stroke-width="0.6"/>
<text x="374.8" y="502" font-size="15.0" text-anchor="start" fill="#1a1a1a" font-style="italic">D</text>
<text x="604.8" y="711.7" font-size="13.6" text-anchor="start" fill="#1a1a1a" font-style="italic">δ</text>
<text x="515.2" y="476.5" font-size="14.0" font-style="italic" fill="#1a1a1a">T<tspan dy="2.6" font-size="9.8">E</tspan></text>
<line x1="518.98" y1="463.89" x2="523.18" y2="463.89" stroke="#1a1a1a" stroke-width="0.9"/>
<rect x="654" y="481.4" width="10.7" height="200.8" fill="#c7b7b4" stroke="none" stroke-width="0.8"/>
<rect x="654" y="490.53" width="10.7" height="191.67" fill="#af9994" stroke="none" stroke-width="0.8"/>
<rect x="654" y="499.65" width="10.7" height="182.55" fill="#977a74" stroke="none" stroke-width="0.8"/>
<rect x="654" y="508.78" width="10.7" height="173.42" fill="#815e56" stroke="none" stroke-width="0.8"/>
<rect x="654" y="517.91" width="10.7" height="164.29" fill="#967960" stroke="none" stroke-width="0.8"/>
<rect x="654" y="527.04" width="10.7" height="155.16" fill="#ac956c" stroke="none" stroke-width="0.8"/>
<rect x="654" y="536.16" width="10.7" height="146.04" fill="#c4b379" stroke="none" stroke-width="0.8"/>
<rect x="654" y="545.29" width="10.7" height="136.91" fill="#dcd286" stroke="none" stroke-width="0.8"/>
<rect x="654" y="554.42" width="10.7" height="127.78" fill="#f2ee92" stroke="none" stroke-width="0.8"/>
<rect x="654" y="563.55" width="10.7" height="118.65" fill="#e9fb95" stroke="none" stroke-width="0.8"/>
<rect x="654" y="572.67" width="10.7" height="109.53" fill="#bdf28c" stroke="none" stroke-width="0.8"/>
<rect x="654" y="581.8" width="10.7" height="100.4" fill="#8de882" stroke="none" stroke-width="0.8"/>
<rect x="654" y="590.93" width="10.7" height="91.27" fill="#5ddf79" stroke="none" stroke-width="0.8"/>
<rect x="654" y="600.05" width="10.7" height="82.15" fill="#31d670" stroke="none" stroke-width="0.8"/>
<rect x="654" y="609.18" width="10.7" height="73.02" fill="#01cc66" stroke="none" stroke-width="0.8"/>
<rect x="654" y="618.31" width="10.7" height="63.89" fill="#00b6a7" stroke="none" stroke-width="0.8"/>
<rect x="654" y="627.44" width="10.7" height="54.76" fill="#009eef" stroke="none" stroke-width="0.8"/>
<rect x="654" y="636.56" width="10.7" height="45.64" fill="#0c80e6" stroke="none" stroke-width="0.8"/>
<rect x="654" y="645.69" width="10.7" height="36.51" fill="#1b63c9" stroke="none" stroke-width="0.8"/>
<rect x="654" y="654.82" width="10.7" height="27.38" fill="#2b43a9" stroke="none" stroke-width="0.8"/>
<rect x="654" y="663.95" width="10.7" height="18.25" fill="#333399" stroke="none" stroke-width="0.8"/>
<rect x="654" y="673.07" width="10.7" height="9.13" fill="#333399" stroke="none" stroke-width="0.8"/>
<rect x="654" y="481.4" width="10.7" height="200.8" fill="none" stroke="#1a1a1a" stroke-width="0.8"/>
<line x1="664.7" y1="682.2" x2="668.2" y2="682.2" stroke="#1a1a1a" stroke-width="0.8"/>
<text x="670.3" y="686.5" font-size="11.7" text-anchor="start" fill="#1a1a1a">0.008</text>
<line x1="664.7" y1="654.82" x2="668.2" y2="654.82" stroke="#1a1a1a" stroke-width="0.8"/>
<text x="670.3" y="659.12" font-size="11.7" text-anchor="start" fill="#1a1a1a">0.020</text>
<line x1="664.7" y1="627.44" x2="668.2" y2="627.44" stroke="#1a1a1a" stroke-width="0.8"/>
<text x="670.3" y="631.74" font-size="11.7" text-anchor="start" fill="#1a1a1a">0.032</text>
<line x1="664.7" y1="600.05" x2="668.2" y2="600.05" stroke="#1a1a1a" stroke-width="0.8"/>
<text x="670.3" y="604.35" font-size="11.7" text-anchor="start" fill="#1a1a1a">0.044</text>
<line x1="664.7" y1="572.67" x2="668.2" y2="572.67" stroke="#1a1a1a" stroke-width="0.8"/>
<text x="670.3" y="576.97" font-size="11.7" text-anchor="start" fill="#1a1a1a">0.056</text>
<line x1="664.7" y1="545.29" x2="668.2" y2="545.29" stroke="#1a1a1a" stroke-width="0.8"/>
<text x="670.3" y="549.59" font-size="11.7" text-anchor="start" fill="#1a1a1a">0.068</text>
<line x1="664.7" y1="517.91" x2="668.2" y2="517.91" stroke="#1a1a1a" stroke-width="0.8"/>
<text x="670.3" y="522.21" font-size="11.7" text-anchor="start" fill="#1a1a1a">0.080</text>
<line x1="664.7" y1="490.53" x2="668.2" y2="490.53" stroke="#1a1a1a" stroke-width="0.8"/>
<text x="670.3" y="494.83" font-size="11.7" text-anchor="start" fill="#1a1a1a">0.092</text>
<defs><clipPath id="cp3"><rect x="52.7" y="756.2" width="230.9" height="200.8"/></clipPath></defs>
<g stroke-width="0.5" stroke-linejoin="round" clip-path="url(#cp3)">
<rect x="52.7" y="756.2" width="230.9" height="200.8" fill="#333399" stroke="none" stroke-width="0.8"/>
<path d="M283.6 768L283.6 957L52.7 957L52.7 769.6L56.5 769.3L64.2 768.6L71.7 770.3L71.9 770.3L75.8 770.3L76 770.3L79.6 769L83.5 768.8L87.3 769.3L91.2 769.7L95 769.6L98.9 768.5L102.7 768.9L110.4 769.6L114.3 769.7L118.1 770L119.9 770.3L122 770.4L125.8 770.7L129.7 770.2L133.5 768.9L137.4 768.8L141.2 769.2L143.9 770.3L145.1 770.5L148.9 770.9L152.8 770.9L156.6 770.8L160.5 770.5L164.3 770.3L166.3 770.3L168.2 770.1L172 769.7L175.8 769.8L179.7 770.2L183.5 769.7L187.4 770L188.1 770.3L191.2 770.7L195.1 770.9L198.9 770.9L202.8 770.6L206.6 770.7L210.5 770.5L212.3 770.3L214.3 769.5L218.2 768.9L222 769L225.9 769.8L229.7 769.7L237.4 769.6L241.3 770.1L245.1 770.2L249 769.9L252.8 769.9L256.7 770L259.1 770.3L260.5 770.3L264.4 770.7L268.2 770.7L272.1 770.4L276 770.3L279.8 769.4L283 768.2Z" fill="#264eb4" stroke="#264eb4" fill-rule="evenodd"/>
<path d="M64.2 771.9L68.1 772.8L71.9 773.3L75.8 773.4L79.6 772.6L83.5 772.3L87.3 772.5L91.2 772.6L95 772.6L98.9 772.4L102.7 772.4L106.6 772.5L110.4 773L114.3 772.8L118.1 773L122 773.4L125.8 773.7L129.7 773.3L132.7 772.3L133.5 772L137.4 772.1L141.2 772.5L145.1 773.4L148.9 773.5L152.8 773.6L156.6 773.6L160.5 773.3L164.3 773.2L168.2 773.1L172 773.3L175.8 773.3L179.7 773.1L183.5 772.8L187.4 772.8L191.2 773.2L195.1 773.4L198.9 773.4L202.8 773.3L206.6 773.4L210.5 773.3L214.3 773L218.2 772.5L222 772.6L225.9 773.2L229.7 772.7L233.6 772.5L237.4 772.4L241.3 772.8L245.1 773L249 772.9L252.8 772.9L256.7 773.2L260.5 773.7L264.4 773.7L268.2 773.5L272.1 773.3L275.9 773.2L279.8 772.6L281.2 772.3L283.6 771.7L283.6 830.9L225.9 830.9L222 831L218.2 831.1L214.3 831.5L210.5 832.2L206.6 832.7L205.1 832.5L202.8 832.3L202 832.5L200.2 834.5L200.8 836.5L198.9 838.2L195.1 838.2L191.2 836.5L190.2 838.5L189.6 840.5L189.7 842.5L189.9 844.6L189.4 846.6L187.4 848.6L185.3 850.6L183.5 851.8L182.4 852.6L179.7 853.9L178.3 854.6L175.8 856.1L175.1 856.6L172 858.6L169.6 860.6L168.2 861.7L164.3 862.6L161.7 864.6L160.5 865.5L159.5 866.6L157.3 868.6L156.6 869.1L154.4 870.7L152.8 871.7L151.5 872.7L148 874.7L145.1 876.2L144.2 876.7L142.3 878.7L142.2 880.7L141.2 882.2L140.7 882.7L137.4 884.6L136.3 886.7L136.8 888.7L137.4 890L138 890.7L139.4 892.7L140.3 894.8L141 896.8L140.9 900.8L140.5 902.8L139.3 904.8L137.4 906L133.5 905.9L132.7 906.8L133.2 908.8L133.5 909.7L134.2 910.8L134.1 912.8L133.5 913.4L132.6 914.8L131.9 916.8L133.5 918L137.4 917.4L141.2 918.8L142.7 920.9L142.8 922.9L141.7 924.9L141.2 925.6L139.8 926.9L140 930.9L140.7 932.9L141.6 934.9L142.3 936.9L141.9 940.9L141.9 942.9L142.2 945L142.5 947L142.7 951L142.5 953L141.6 955L140.2 957L114.9 957L115.1 953L114.7 951L114.3 950.3L110.4 949.3L109.8 949L107.4 947L106.6 945.6L102.7 946.1L101.9 947L101.2 949L100.8 951L101.7 953L102.7 954.2L104.1 955L106.3 957L83.8 957L83.5 956.7L79.6 956.9L79.6 957L52.7 957L52.7 927.5L55 926.9L52.7 925.6L52.7 772.5L56.5 772.5L60.4 772.3L60.9 772.3ZM125 870.7L124.4 872.7L125.8 873.3L129.7 872.8L129.8 872.7L130.7 870.7L129.7 869.8L125.8 870.2ZM97 876.7L98.9 877.2L99.8 876.7L98.9 875.9ZM97.3 900.8L96.2 902.8L97.1 904.8L98.9 906.3L100.9 904.8L101.2 902.8L100.3 900.8L98.9 899.6ZM101 908.8L100.7 910.8L101.3 912.8L102.7 914.3L106.6 913.5L107.5 912.8L108.3 910.8L106.6 909.1L105.7 908.8L102.7 907.3ZM63.9 912.8L64.2 913.5L64.5 912.8L64.2 911.2ZM66.4 916.8L68.1 917.7L71.9 917.3L72.6 916.8L71.9 916.5L68.1 916.1ZM78.2 920.9L78.3 922.9L79.6 924.6L83.5 923.8L84.3 922.9L84.3 920.9L83.5 920.1L79.6 919.5ZM128.4 926.9L129.7 928.3L130.6 926.9L129.7 925.8ZM61.4 936.9L60 938.9L58 940.9L59.7 942.9L60.4 943.1L63 942.9L64.2 942.8L68.1 942L69.8 940.9L68.9 936.9L68.1 936.7L64.2 935.8ZM87.1 940.9L86.3 942.9L86.9 945L87.3 946.4L91.2 945.2L91.5 945L92.7 942.9L91.2 941.4L89.4 940.9L87.3 940.8ZM125.6 947L125.8 947.3L129.7 947.7L130.6 947L129.7 946.7L125.8 946.8Z" fill="#176bd1" stroke="#176bd1" fill-rule="evenodd"/>
<path d="M56.5 775.2L60.4 775.1L64.2 775L68.1 775.7L71.9 776.1L75.8 776.3L79.6 775.9L83.5 775.6L87.3 775.6L91.2 775.4L95 775.3L98.9 775.3L102.7 775.5L106.6 776L108 776.3L110.4 776.6L112.9 776.3L114.3 776L118.1 775.9L122 776.4L125.8 776.6L129.7 776.3L133.5 775.2L137.4 775L141.2 775.3L145.1 776.1L148.9 776.1L152.8 776.1L156.6 776.2L160.5 775.9L164.3 775.8L168.2 776L172 776.5L175.8 776.5L179.7 776L183.5 775.6L187.4 775.5L191.2 775.5L195.1 775.8L198.9 775.9L202.8 775.7L206.6 776L210.5 776.1L214.3 775.9L218.2 776L222 776.2L225.9 776.5L229.7 775.4L233.6 775.1L237.4 775.3L241.3 775.8L245.1 776L249 776.1L252.8 776.1L256.7 776.4L260.5 776.9L264.4 776.5L268.4 776.3L272.1 776.2L275.9 776.2L279.8 775.9L283.6 775.2L283.6 827.8L218.2 827.8L214.3 827.8L210.5 828L206.6 828.4L202.8 828.9L198.9 829.8L196.2 830.5L191.2 832.4L191 832.5L188.2 834.5L187.4 835.3L184.5 836.5L184.4 840.5L184.2 842.5L183.8 844.6L183.5 845.3L182.8 846.6L179.7 849.4L177.6 850.6L175.8 851.4L172 851.4L171.5 850.6L171 848.6L169.9 846.6L168.2 845.8L164.3 845.7L160.9 846.6L164.3 848.4L164.6 848.6L166.5 850.6L166.5 852.6L165.8 854.6L164.6 856.6L164.3 856.8L160.5 857.2L159.4 856.6L156.6 854.8L155.5 856.6L155.7 858.6L156.6 859.8L157.1 860.6L157 862.6L156.6 863.2L155.8 862.6L154.6 860.6L152.8 860.2L148.9 860L145.1 859.2L143.9 860.6L143.7 862.6L145.1 864.6L146.9 866.6L148.1 868.6L147.9 870.7L145.8 872.7L145.1 873.1L143.1 872.7L142.1 870.7L142 866.6L141.2 866.2L137.4 865.3L133.5 864.5L131.1 864.6L129.7 864.8L127.2 866.6L125.8 867.2L122 869.2L119.6 868.6L118.1 867.5L117.4 866.6L114.3 865.3L110.4 865.1L108.6 866.6L108.4 868.6L108.5 870.7L108 872.7L106.6 874.1L102.7 873.6L101.6 872.7L100.7 870.7L100.8 868.6L100.8 866.6L99.4 864.6L98.9 864.2L98.1 864.6L95 866L93.9 866.6L91.2 870.7L90.3 872.7L88.4 874.7L87.3 875.4L83.5 875.9L79.6 875.9L75.8 875.6L71.9 876.2L68.1 875.8L66.4 874.7L64.5 872.7L64.3 870.7L65.1 868.6L65.7 866.6L64.2 865.9L60.4 865.3L56.5 865.4L52.7 865.9L52.7 775.3ZM179.2 836.5L178.8 840.5L179.2 842.5L179.7 843.1L181.2 842.5L182 840.5L182.2 838.5L182.2 836.5L179.7 836.2ZM133.5 874.2L135.2 874.7L137.2 876.7L133.5 878.7L133.4 878.7L129.7 880.2L127.1 880.7L128.8 882.7L129.7 883.3L130.2 884.7L130.7 886.7L129.7 887.7L125.8 889L123.3 890.7L122.2 892.7L122 893L121.7 892.7L120.2 890.7L118.1 889.3L114.3 889.5L112.5 890.7L112.2 892.7L112.7 894.8L113 896.8L112.7 898.8L112.2 900.8L112.5 902.8L114.3 903.8L118.1 904.4L122 904.6L125.8 903.4L127.7 904.8L128 906.8L126.6 908.8L125.8 909.6L122.4 910.8L122 911L119.1 912.8L118.1 913.7L117.1 914.8L116.7 916.8L116.5 918.8L116.3 920.9L117.8 922.9L118.1 923L121.2 922.9L122 922.7L122.8 924.9L123.3 926.9L122.8 928.9L122 930.8L118.1 930.3L114.5 930.9L114.3 931L112.2 932.9L111.9 934.9L111.6 936.9L110.4 937.6L106.6 937.1L102.7 937.1L98.9 938.3L97.4 936.9L98.4 934.9L98.9 934.2L99.3 934.9L102.7 936.6L106.6 936L107.4 934.9L108 932.9L106.6 930.9L102.7 929.3L98.9 930.6L95 929.6L94.1 930.9L93 932.9L92.7 934.9L92.3 936.9L91.2 937L87.3 937.9L83.5 937.6L82.4 936.9L83.5 936.4L84.3 934.9L84.9 932.9L85 930.9L84.9 928.9L84.8 926.9L86.3 924.9L87.3 923.7L91.2 924.8L95 924.4L95.4 922.9L96.3 920.9L98.4 918.8L98.9 918.5L99.6 918.8L102.5 920.9L102.7 921.3L105.1 918.8L106.1 916.8L106.6 916.6L108.5 914.8L110.4 913.5L114 912.8L114 910.8L112 908.8L110.4 907.9L109.4 906.8L109 904.8L107.7 902.8L106.6 902L105.6 900.8L103.6 898.8L102.7 898.2L100.4 896.8L102.7 895L106.3 892.7L106.6 892.5L108.2 890.7L108.3 888.7L108.3 886.7L109.6 884.7L110.4 884L111.6 882.7L112.4 880.7L113.8 878.7L114.3 878.3L118.1 877.9L119.4 878.7L120.6 880.7L121.2 882.7L122 884L124.1 882.7L125.6 880.7L125.8 879.8L126.4 878.7L126.5 876.7L129.7 876L132.8 874.7ZM71.9 878.2L73.1 878.7L75.8 879.6L78.2 882.7L79.6 884.2L80.6 884.7L83.2 886.7L83.5 887.2L87.3 887.7L88 886.7L88.7 884.7L90.3 882.7L91.2 882.1L95 881.7L97.1 882.7L96.4 884.7L96.2 886.7L95.9 890.7L96.2 892.7L97.2 894.8L98.2 896.8L95 899.2L91.8 900.8L90.3 902.8L88.6 904.8L87.3 905.9L86.6 906.8L87.3 907.3L91.2 908.8L94.6 910.8L94.6 912.8L91.2 914.5L90.7 914.8L87.8 916.8L87.3 917.6L86.4 916.8L83.5 915.1L82.9 914.8L79.6 912.8L75.8 912.4L71.9 912.5L69.6 910.8L69.2 908.8L68.8 906.8L69.8 904.8L70.7 902.8L72 900.8L72.9 898.8L73.8 896.8L71.9 895.3L70.1 894.8L68.1 894L65.7 892.7L65.1 890.7L65.2 888.7L65.2 886.7L66 884.7L67.2 882.7L68.1 881L68.6 880.7L70.9 878.7ZM78.9 894.8L77.4 896.8L79.1 898.8L79.6 899.1L83.5 899.8L87.3 898.9L87.6 898.8L88.8 896.8L87.3 894.7L83.5 893.1L79.6 894.1ZM56.5 884.1L58 884.7L59.8 886.7L60.4 887.8L61.5 888.7L62.7 890.7L62.5 892.7L61.3 894.8L60.4 896.2L56.5 896.6L52.7 895.7L52.7 883.4ZM56.5 906.8L55.4 908.8L53.5 910.8L52.8 912.8L53.6 914.8L54 916.8L52.7 918L52.7 905.4ZM64.2 924.3L68.1 923.1L71.9 923.1L73.9 924.9L75.6 926.9L75.9 928.9L76.3 930.9L76.4 932.9L76.2 934.9L75.8 936.2L75.2 934.9L71.9 934.3L68.1 933.7L66 932.9L64.2 931.9L61.5 932.9L60.4 933.3L56.5 934.3L54.9 934.9L53.6 936.9L52.7 937.9L52.7 931.8L54.5 930.9L56.5 930.4L60.2 928.9L60.4 928.7L61 926.9L62.4 924.9ZM133.5 933.9L134.2 934.9L135.6 936.9L135.4 940.9L134.5 942.9L133.5 943.6L129.7 943.6L125.8 943.2L125.1 942.9L123.6 940.9L124 936.9L125.8 935.7L130 934.9ZM79.6 938.3L81 938.9L81.5 940.9L81.8 942.9L82.6 945L83.5 946.8L83.5 947.1L80.6 949L79.6 949.3L79.1 949L76.5 947L76.4 945L76.1 942.9L76 940.9L76.8 938.9ZM52.9 945L55.6 947L56.5 948.3L58.4 949L60.4 949.9L61.3 949L62.3 947L64.2 946.3L68.1 945.1L70.4 945L71.9 944.8L73.8 945L75.4 947L73.8 949L71.9 950.2L69.1 951L68.1 951.4L65.1 953L64.2 953.4L60.4 953.5L56.5 954.5L52.7 954.8L52.7 944.8ZM91.2 954L95 953.6L97.4 955L98.9 955.6L100.2 957L90 957L90.7 955Z" fill="#078bf1" stroke="#078bf1" fill-rule="evenodd"/>
<path d="M64.2 778L68.1 778.3L75.8 778.5L83.5 778.5L87.3 778.4L91.2 778.3L95.1 778.3L98.9 778.4L102.7 778.4L106.6 778.4L110.4 778.5L114.3 778.4L118.1 778.3L122 778.5L125.8 778.7L129.7 778.7L133.5 778.5L137.4 778.3L141.2 778.3L145.1 778.5L148.9 778.4L152.8 778.5L156.6 778.6L160.5 778.6L168.2 778.4L172 778.6L175.8 778.7L179.7 778.7L183.5 778.5L187.4 778.4L191.3 778.3L195.1 778.4L198.9 778.5L202.8 778.6L206.6 778.7L210.5 778.7L214.3 778.7L218.2 778.7L222 778.7L225.9 778.8L229.7 778.4L233 778.3L234.3 778.3L237.4 778.4L241.3 778.5L245.1 778.6L249 778.7L252.8 778.6L256.7 778.7L260.5 778.9L264.4 778.7L268.2 778.6L272.1 778.6L275.9 778.6L279.8 778.5L283.6 778.4L283.6 824.2L280 824.5L279.8 824.5L275.9 824.7L272.1 824.6L268.2 824.6L264.4 824.7L260.5 824.8L256.7 824.7L252.8 824.7L249 824.9L245.9 824.5L245.1 824.4L241.3 824.3L237.4 824.3L229.5 824.5L225.9 824.8L222 824.7L219.4 824.5L218.2 824.4L214.3 824.2L210.5 824.3L206.6 824.5L202.8 825.6L200.6 826.5L198.9 826.9L195.1 828L193.7 828.5L191.2 829.2L188.1 830.5L184.6 832.5L183.5 833.1L179.7 833.9L178.4 834.5L175.8 836L174.6 836.5L172.8 838.5L172 839.2L168.2 839.9L167.6 840.5L165.2 842.5L164.3 842.9L160.5 843.9L158.8 844.6L156.6 846L155.5 846.6L153.7 848.6L152.8 850.3L148.9 851.8L147.8 850.6L145.1 849.7L141.8 848.6L141.2 848.4L137.4 848.3L136.6 848.6L133.3 850.6L130.7 852.6L129.7 853.9L129.5 854.6L129.2 856.6L127.9 858.6L125.8 859.8L124.8 860.6L122.4 862.6L122 864.1L120.9 862.6L118.1 861.8L114.3 861L110.4 860.7L106.6 860.2L102.7 859.3L101.8 858.6L100.4 856.6L101 854.6L101.3 852.6L99.9 850.6L98.9 850.1L95 849.9L91.6 850.6L91.2 852L91.2 852.6L95 854.8L96.8 856.6L95.7 858.6L95 859.7L91.2 860.6L87.3 859.8L82.7 858.6L79.6 857.6L75.8 857.3L71.9 857.9L68.1 859.6L66.5 860.6L64.2 861.7L60.4 862.1L59.1 862.6L56.5 863.1L52.7 864.1L52.7 778.4L56.5 778.4L60.4 778.3L61.6 778.3ZM137.4 860.4L137.7 860.6L137.4 861L135.5 860.6ZM54 886.7L54.3 888.7L54.9 890.7L53.1 892.7L52.7 892.7L52.7 886ZM75.8 888.5L76.4 890.7L75.8 892.8L75.7 892.7L73.3 890.7L75.5 888.7ZM110.4 915.8L112.1 916.8L111.5 920.9L111.5 922.9L112.1 924.9L114.3 926.7L114.7 926.9L110.4 928.1L109 926.9L109.2 924.9L109.4 922.9L109.4 920.9L109.2 918.8L109.1 916.8Z" fill="#00a4dc" stroke="#00a4dc" fill-rule="evenodd"/>
<path d="M56.5 779.8L60.4 779.7L64.2 779.4L68.1 779.4L71.9 779.5L75.8 779.6L83.5 779.7L87.3 779.7L91.2 779.5L95 779.5L98.9 779.7L102.7 779.6L106.6 779.6L110.4 779.6L114.3 779.5L118.1 779.5L122 779.5L125.8 779.8L129.7 779.9L133.5 779.8L137.4 779.7L141.2 779.6L145.1 779.7L148.9 779.6L152.8 779.7L156.6 779.9L160.5 779.8L164.3 779.7L168.2 779.5L172 779.8L179.7 780.1L183.5 779.9L187.4 779.7L191.2 779.6L195.1 779.7L198.9 779.9L206.6 780.1L214.3 780.2L218.2 780.1L222 780.1L225.9 780.1L229.7 779.8L233.6 779.7L241.3 779.9L245.1 780L249 780.1L252.8 780L256.7 780L260.5 780.1L264.4 780L268.2 779.9L272.1 779.8L275.9 779.9L279.8 779.8L283.6 779.7L283.6 823L279.8 823.4L275.9 823.5L272.1 823.4L268.2 823.4L264.4 823.4L260.5 823.4L256.7 823.4L252.8 823.4L249 823.4L245.1 823.2L241.3 823.1L237.4 823.1L233.6 823.2L229.7 823.4L225.9 823.5L222 823.5L218.2 823.3L214.3 823.1L210.5 823.2L206.6 823.3L202.8 823.6L198.9 824.2L197.1 824.5L195.1 825.1L191.2 826.2L185.2 828.5L180.6 830.5L179.7 830.9L177.4 832.5L175.8 833.3L172 834.2L168.2 833.9L166.9 834.5L164 836.5L162.6 838.5L160.8 840.5L160.5 840.7L156.6 841.4L154.4 842.5L152.8 843.4L148.9 844.3L145.1 844.2L141.2 842.6L137.4 842.5L133.5 843.5L131.5 844.6L129.7 845.2L125.8 845.8L122 845.8L118.1 846.3L117.8 846.6L118.1 847.1L122 848L122.7 848.6L124.3 850.6L124.6 852.6L124.6 854.6L124.7 856.6L122.5 858.6L122 859L121.1 858.6L118.2 856.6L118.1 856.4L114.5 854.6L114.3 854.5L110.4 854.1L108 852.6L106.6 851.9L105.5 850.6L101.5 848.6L98.9 847.7L95 846.9L91.2 846.5L87.3 847.4L83.5 846.9L79.6 848L79.1 848.6L78.3 850.6L77 852.6L75.8 853.4L74.7 852.6L73.5 850.6L72.9 848.6L71.9 847.4L69 846.6L68.1 846.4L67.4 846.6L64.2 848.2L60.4 847.3L59 846.6L56.5 845.7L52.7 844.7L52.7 779.7ZM63.8 842.5L64.2 843.5L64.5 842.5L64.2 842.3ZM54.8 856.6L54.8 860.6L52.7 862.1L52.7 855.2Z" fill="#00bb9b" stroke="#00bb9b" fill-rule="evenodd"/>
<path d="M56.5 781L60.4 780.9L64.2 780.6L68.1 780.6L71.9 780.6L79.6 780.8L83.5 780.9L87.3 780.9L91.2 780.7L95 780.8L98.9 781L102.7 780.8L106.6 780.7L110.4 780.7L114.3 780.6L118.1 780.6L122 780.6L125.8 780.9L129.7 781L133.5 781L137.4 780.9L141.2 780.8L145.1 780.8L148.9 780.7L152.8 780.8L156.6 781L160.5 781L164.3 780.9L168.2 780.7L179.7 781.2L183.5 781L187.4 780.9L191.2 780.8L195.1 780.9L198.9 781L202.8 781.1L214.3 781.3L218.2 781.2L222 781.2L225.9 781.2L229.7 781L233.6 780.9L241.3 781.1L249 781.1L252.8 781.1L256.7 781.1L260.5 781.2L268.2 781L272.1 780.9L275.9 781L279.8 781L283.6 780.9L283.6 821.9L279.8 822.3L275.9 822.4L272.1 822.2L268.2 822.2L264.4 822.2L260.5 822.3L249 822.2L245.1 822L241.3 821.9L233.6 822.1L229.7 822.3L225.9 822.5L222 822.4L218.2 822.2L214.3 822L210.5 822L206.6 822.2L202.8 822.5L198.9 823.1L195.1 823.6L191.2 823.9L187.5 824.5L183.5 826.1L182.7 826.5L179.7 827.7L177.7 828.5L175.8 829.6L173.7 830.5L172 831.1L168.2 831.4L165.4 832.5L164.3 833.1L161.3 834.5L157.9 836.5L156.6 837.5L152.8 839.4L148.9 840L145.1 839.1L141.2 838.1L139.2 838.5L137.4 838.8L133.5 840.1L132 840.5L129.7 841.5L125.8 842.3L122 842.3L118.1 842.3L114.3 842.2L110.4 840.9L109.1 842.5L110.4 843.2L112.7 844.6L113.1 846.6L111.4 848.6L110.4 849.1L106.6 847.6L103.8 846.6L102.7 845.9L98.9 845.1L97.7 844.6L95 843.1L91.2 842L87.3 842.4L83.5 842.5L79.6 843.8L78.2 844.6L75.8 845.6L71.9 844L69.3 842.5L68.1 842L66.1 840.5L64.2 839.6L59.9 840.5L56.5 841.5L52.7 842.1L52.7 780.9Z" fill="#0dcf69" stroke="#0dcf69" fill-rule="evenodd"/>
<path d="M56.5 782.2L60.4 782.1L64.2 781.8L68.1 781.7L71.9 781.7L75.8 781.8L79.6 781.9L83.5 782L87.3 782L91.2 781.9L95 781.9L98.9 782.1L106.6 781.8L110.4 781.7L114.3 781.6L118.1 781.6L122 781.7L125.8 782L129.7 782.2L133.5 782.2L137.4 782L141.2 782L145.1 781.9L148.9 781.8L152.8 781.9L156.6 782.1L160.5 782.1L164.3 782L168.2 781.7L175.8 782.1L179.7 782.3L183.5 782.1L187.4 782L191.2 781.9L195.1 782L198.9 782.1L202.8 782.2L206.6 782.2L211.8 782.3L214.3 782.4L218.2 782.3L222 782.2L225.9 782.2L229.7 782.1L233.6 782L237.4 782.1L245.1 782.1L252.8 782.1L256.7 782.1L260.5 782.2L268.2 782L272.1 781.9L275.9 782L279.8 782.1L283.6 782L283.6 820.7L279.8 821.1L275.9 821.3L272.1 821.1L268.2 821.1L264.4 821.1L256.7 821.1L252.8 821.1L249 821L245.1 820.8L241.3 820.8L233.6 821L229.7 821.2L225.9 821.4L222 821.3L218.2 821.1L214.3 820.9L210.5 820.9L206.6 821.1L202.8 821.4L198.9 822L195.1 822.4L191.2 822.6L179.9 824.5L175.8 826.5L172 828.1L170.8 828.5L168.2 829.3L164.3 830.8L160.3 832.5L156.6 834.2L152.8 835.7L148.9 836L145.1 835.5L141.2 835.3L137.4 836L136 836.5L133.5 837.8L125.8 839.2L122 839.5L118.1 839.8L114.3 839.4L111.2 838.5L110.4 838.3L106.6 837.9L104.5 838.5L102.7 839.8L102.1 840.5L98.9 841.8L97.1 840.5L95 839L93.4 838.5L91.2 838L87.3 837.6L83.5 838L79.6 839.9L79 840.5L76 842.5L75.5 842.5L71.9 841.2L70.6 840.5L68.1 839.6L65.8 838.5L64.2 837.9L60.4 838.2L56.5 838.5L52.7 838.7L52.7 782.1Z" fill="#39d771" stroke="#39d771" fill-rule="evenodd"/>
<path d="M56.5 783.2L60.4 783.2L64.2 782.9L68.1 782.8L71.9 782.8L75.8 782.8L79.6 782.9L83.5 783L91.2 783L95 783L98.9 783.2L110.4 782.7L114.3 782.7L118.1 782.7L122 782.8L125.8 783.1L129.7 783.2L133.5 783.2L137.4 783.1L141.2 783L145.1 783L148.9 782.9L152.8 783L156.6 783.2L160.5 783.1L164.3 783L168.2 782.8L172 783L175.8 783.2L179.7 783.4L183.5 783.2L187.4 783L191.2 783L195.1 783.1L198.9 783.2L202.8 783.3L206.6 783.3L210.5 783.4L214.3 783.5L218.2 783.4L222 783.3L225.9 783.3L229.7 783.2L233.6 783.2L237.4 783.2L241.3 783.2L245.1 783.2L249 783.1L256.7 783.2L260.5 783.3L264.4 783.2L268.2 783.1L272.1 783L275.9 783.2L279.8 783.2L283.6 783.1L283.6 819.6L279.8 820L275.9 820.1L272.1 820L260.5 819.8L256.7 819.9L252.8 819.9L249 819.8L245.1 819.6L241.3 819.6L237.4 819.7L225.9 820.3L222 820.2L218.2 820L214.3 819.8L210.5 819.8L206.6 819.9L202.8 820.2L198.9 820.8L195.1 821.2L191.2 821.3L187.4 821.9L179.7 823.3L174.3 824.5L172 825.5L168.2 826.9L164.2 828.5L160.5 830L155 832.5L152.8 833.3L148.9 833.8L145.1 833.3L141.2 833.6L137.4 834.3L136.9 834.5L133.5 835.8L129.7 835.9L125.8 836.2L123.2 836.5L122 836.7L118.1 837.6L114.3 837.3L112 836.5L110.4 835.9L106.6 835.2L102.7 835.3L98.9 836.2L95 835.8L91.2 835.5L87.3 835L83.5 834.9L79.6 835.6L78.1 836.5L75.8 838.8L71.9 838.6L68.1 837.6L65.4 836.5L64.2 836.2L60.4 836.1L56.5 835.8L52.7 835.3L52.7 783.1Z" fill="#69e17b" stroke="#69e17b" fill-rule="evenodd"/>
<path d="M56.5 784.3L60.4 784.2L64.2 784L68.1 783.9L71.9 783.8L75.8 783.8L79.6 783.9L83.5 784L87.3 784L91.2 784L98.9 784.2L102.7 784.1L110.4 783.8L114.3 783.7L118.1 783.7L122 783.9L125.8 784.1L129.7 784.3L133.5 784.2L137.4 784.1L141.2 784L148.9 784L152.8 784L156.6 784.2L160.5 784.1L164.3 784L168.2 783.9L172 784.1L177.3 784.3L179.7 784.4L183.5 784.2L187.4 784.1L191.2 784.1L195.1 784.2L198.9 784.3L202.8 784.4L206.6 784.4L210.5 784.4L214.3 784.6L218.2 784.5L222 784.5L233.6 784.4L237.4 784.4L241.3 784.4L245.1 784.2L249 784.1L256.7 784.3L260.5 784.4L264.4 784.3L268.2 784.1L272.1 784.1L275.9 784.4L279.8 784.4L283.6 784.2L283.6 818.5L279.8 818.7L275.9 818.9L272.1 818.9L268.2 818.8L264.4 818.7L260.5 818.5L256.7 818.7L252.8 818.7L249 818.6L245.1 818.5L240.6 818.4L237.4 818.5L233.6 818.8L229.7 818.9L225.9 819L222 818.9L214.3 818.7L210.5 818.6L206.6 818.7L202.8 819L198.9 819.6L195.1 820L191.2 820.1L187.4 820.7L183.5 821.3L179.7 822L175.8 822.8L172 823.7L168.6 824.5L164.3 826L162.7 826.5L157.6 828.5L152.8 830.7L148.9 831.6L145.1 831.5L141.2 832.1L139.5 832.5L137.4 832.9L133.5 834.2L129.7 834.2L125.8 834.2L122 834.1L118.1 833.8L114.3 833.7L110.4 833.8L106.6 833.6L102.7 833.8L98.9 834.3L95 834.2L91.2 833.9L87.3 833.5L83.5 833.2L79.6 833.4L75.8 834.2L74.9 834.5L71.9 835.8L68.1 835.5L64.2 834.6L60.4 834.3L56.5 833.9L52.7 833.4L52.7 784.2Z" fill="#95ea84" stroke="#95ea84" fill-rule="evenodd"/>
<path d="M56.5 785.3L60.4 785.2L64.2 785L68.1 784.9L71.9 784.9L75.8 784.8L79.6 784.9L83.5 784.9L87.3 784.9L91.2 785.1L95 785.2L98.9 785.3L102.7 785.1L106.6 785L110.4 784.8L114.3 784.7L118.1 784.7L122 784.9L125.8 785.2L129.7 785.3L133.5 785.2L137.4 785L141.2 785L148.9 785L152.8 785.1L156.6 785.2L168.2 785L172 785.1L175.8 785.3L179.7 785.5L183.5 785.3L187.4 785.2L191.2 785.2L195.1 785.4L198.9 785.5L202.8 785.6L206.6 785.6L210.5 785.6L214.3 785.8L222 785.7L225.9 785.7L229.7 785.8L233.6 785.8L237.4 785.8L241.3 785.6L245.1 785.4L249 785.2L252.8 785.4L256.7 785.6L260.5 785.7L264.4 785.5L268.2 785.4L272.1 785.3L275.9 785.7L279.8 785.8L283.6 785.5L283.6 817.3L279.8 817.4L272.1 817.6L268.2 817.5L264.4 817.4L260.5 817.1L256.7 817.3L252.8 817.3L249 817.2L245.1 817.1L241.3 817.1L237.4 817.2L233.6 817.5L229.7 817.7L225.9 817.7L218.2 817.5L214.3 817.4L210.5 817.3L206.6 817.4L202.8 817.8L198.9 818.4L195.1 818.7L191.2 818.9L187.4 819.4L183.5 820L179.7 820.7L175.8 821.4L171.4 822.5L168.2 823.2L163 824.5L160.5 825.3L156 826.5L152.8 827.6L150 828.5L148.9 828.9L145.1 829.6L140.9 830.5L137.4 831.3L134.1 832.5L133.5 832.7L129.7 832.8L125.8 832.7L122 832.3L118.1 831.9L114.3 831.9L110.4 832.2L106.6 832.3L102.7 832.5L98.9 832.9L95 832.8L91.2 832.6L87.3 832.1L83.5 831.8L79.6 831.9L75.8 832.2L74.8 832.5L71.9 833.4L68.1 833.6L64.2 833.2L60.4 832.8L52.7 831.9L52.7 785.2Z" fill="#c5f38d" stroke="#c5f38d" fill-rule="evenodd"/>
<path d="M56.5 786.3L60.4 786.2L64.2 786.1L71.9 785.9L75.8 785.8L79.6 785.9L83.5 785.9L87.3 785.9L91.2 786.1L95 786.2L98.9 786.3L102.7 786.1L106.6 786L110.4 785.7L114.3 785.6L118.1 785.7L125.8 786.2L129.7 786.3L133.5 786.1L137.4 786L141.2 785.9L148.9 786L152.8 786.1L156.6 786.2L160.5 786.1L164.3 786.1L168.2 786.1L172 786.2L175.8 786.4L179.7 786.6L183.5 786.4L187.4 786.3L191.2 786.4L195.1 786.6L202.8 786.9L206.6 786.8L210.5 786.9L214.3 787.1L225.9 787L229.7 787.1L233.6 787.1L237.4 787L241.3 786.9L245.1 786.7L249 786.3L252.8 786.6L256.7 786.9L260.5 787L268.2 786.6L272.1 786.5L275.9 787L279.8 787.1L283.6 786.8L283.6 816L279.8 816L275.9 816.1L272.1 816.3L268.2 816.2L264.4 816L260.5 815.7L256.7 815.9L252.8 816L249 815.9L245.1 815.9L241.3 815.9L237.4 815.9L233.6 816.3L229.7 816.5L225.9 816.4L222 816.2L218.2 816.2L214.3 816.2L210.5 816L206.6 816.1L202.7 816.4L198.9 817L195.1 817.4L191.2 817.6L187.4 818.1L183.5 818.7L179.7 819.3L175.8 820L172 820.8L168.2 821.7L160.5 823.6L156.6 824.6L152.8 825.4L148.7 826.5L145.1 827.5L140.6 828.5L137.4 829.3L133.5 830.6L129.7 830.9L125.8 830.9L122 830.7L118.1 830.4L114.3 830.5L110.4 830.8L106.6 830.7L102.7 830.8L98.9 831.1L95 831.2L91.2 831L87.3 830.6L83.5 830.4L79.6 830.4L75.8 830.6L71.9 831.4L68.1 831.8L64.2 831.5L60.4 831.1L56.5 830.8L52.7 830.5L52.7 786.2Z" fill="#f1fc96" stroke="#f1fc96" fill-rule="evenodd"/>
<path d="M56.5 787.3L60.4 787.3L64.2 787.1L68.1 787.1L75.8 786.8L79.6 786.9L83.5 786.9L87.3 786.9L91.2 787.1L95 787.3L98.9 787.3L102.7 787.2L106.6 787L110.4 786.8L114.3 786.6L118.1 786.7L122 787L125.8 787.2L129.7 787.3L133.5 787.2L137.4 787.1L141.2 787L145.1 787.1L152.8 787.2L156.6 787.3L160.5 787.2L164.3 787.2L168.2 787.2L172 787.3L175.8 787.5L179.7 787.6L183.5 787.5L187.4 787.5L191.2 787.6L195.1 787.8L198.9 787.9L202.8 788.2L206.6 788.1L210.5 788.2L214.3 788.4L218.2 788.4L225.9 788.2L229.7 788.3L233.6 788.3L237.4 788.3L241.3 788.1L249 787.7L252.8 788L256.7 788.1L260.5 788.1L264.4 788.1L272.1 787.9L275.9 788.3L279.8 788.3L283.6 788L283.6 814.7L279.8 814.8L275.9 814.9L272.1 815.1L268.2 814.9L264.4 814.7L260.5 814.5L256.7 814.7L252.8 814.8L249 814.8L245.1 814.7L241.3 814.6L237.4 814.6L233.6 814.9L229.7 815.1L225.9 815L222 814.9L218.2 814.8L214.3 814.8L210.5 814.8L206.6 814.9L202.8 815.1L198.9 815.6L195.1 816L191.2 816.3L187.4 816.7L183.5 817.3L175.8 818.4L172 819.2L167.1 820.5L164.3 821.1L159.1 822.5L156.6 823.1L152.8 823.6L148.7 824.5L145.1 825.5L140.1 826.5L133.5 827.9L129.7 828.4L125.8 828.7L122 828.8L118.1 828.7L114.3 828.8L110.4 828.9L106.6 828.8L102.7 828.8L98.9 829L95 829L91.2 828.9L87.3 828.8L83.5 828.7L79.6 828.7L75.8 828.7L71.9 829L68.1 829.2L60.4 829L52.7 828.8L52.7 787.3Z" fill="#eee990" stroke="#eee990" fill-rule="evenodd"/>
<path d="M55 788.3L56.5 788.4L61.2 788.3L64.2 788.3L68.1 788.2L71.9 788.1L75.8 787.9L79.6 788L83.5 788L87.3 787.9L91.2 788.2L95 788.3L98.9 788.4L102.7 788.3L106.6 788.1L110.4 787.9L114.3 787.8L118.1 787.9L122 788.1L125.8 788.3L129.7 788.3L134.7 788.3L141.2 788.2L145.1 788.2L152.8 788.4L156.6 788.4L160.5 788.4L164.3 788.4L172 788.5L175.8 788.6L179.7 788.7L183.5 788.7L187.4 788.7L195.1 788.9L198.9 789.2L202.8 789.5L206.6 789.4L210.5 789.5L214.3 789.8L218.2 789.7L222 789.6L225.9 789.5L229.7 789.6L233.6 789.6L237.4 789.5L241.3 789.3L245.1 789.1L249 789.2L252.8 789.3L256.7 789.3L260.5 789.3L264.4 789.4L268.2 789.3L272.1 789.2L275.9 789.5L279.8 789.5L283.6 789.3L283.6 813.5L279.8 813.5L275.9 813.6L272.1 813.8L268.2 813.6L264.4 813.4L260.5 813.2L256.7 813.4L252.8 813.5L249 813.6L245.1 813.5L241.3 813.4L237.4 813.4L233.6 813.6L229.7 813.7L225.9 813.7L222 813.5L218.2 813.4L214.3 813.5L210.5 813.5L206.6 813.6L202.8 813.8L198.9 814.2L195.1 814.6L191.2 815L183.5 815.8L179.7 816.3L175.8 816.7L172 817.5L168.2 818.6L164.3 819.5L156.6 821.4L152.8 822L148.9 822.8L145.1 823.8L141.2 824.3L137.4 825.1L133.5 825.9L129.7 826.2L125.8 826.5L122 826.7L114.3 826.8L110.4 826.8L106.6 826.7L102.7 826.7L95 826.8L79.6 826.7L68.1 826.8L52.7 826.7L52.7 788.3Z" fill="#d8cd84" stroke="#d8cd84" fill-rule="evenodd"/>
<path d="M56.5 789.5L60.4 789.5L64.2 789.4L68.1 789.4L71.9 789.2L75.8 789L79.6 789.1L83.5 789.1L87.3 789L91.2 789.3L95 789.4L98.9 789.5L102.7 789.4L106.6 789.3L110.4 789.1L114.3 789.1L118.1 789.1L122 789.2L125.8 789.4L133.5 789.5L137.4 789.5L141.2 789.5L145.1 789.4L148.9 789.5L152.8 789.5L156.6 789.6L160.5 789.6L164.3 789.6L168.2 789.7L172 789.7L175.8 789.7L183.5 789.9L195.1 790.1L198.9 790.4L202.8 790.8L206.6 790.7L210.5 790.8L214.3 791.2L218.2 791.1L222 791L225.9 790.8L229.7 790.9L233.6 790.9L237.4 790.8L241.3 790.5L245.1 790.4L249 790.6L252.8 790.6L256.7 790.6L260.5 790.5L264.4 790.7L268.2 790.7L272.1 790.6L275.9 790.8L279.8 790.8L283.6 790.6L283.6 812.1L279.8 812.2L275.9 812.3L272.1 812.5L268.2 812.3L260.5 811.9L252.8 812.2L249 812.4L245.1 812.3L241.3 812.2L237.4 812.1L229.7 812.3L225.9 812.4L222 812.2L218.2 812.1L214.3 812.1L210.5 812.2L206.6 812.3L202.8 812.5L198.9 812.7L195.1 813.1L191.2 813.7L179.7 814.8L175.8 815.1L172 815.7L168.2 816.8L161.8 818.4L156.6 819.7L152.8 820.2L148.9 821.1L145.1 822.3L143.7 822.5L141.2 822.8L137.4 823.4L133.5 824.3L129.6 824.5L122 824.9L118.1 825L114.3 825.1L110.4 825.2L106.6 824.9L102.7 824.8L98.9 824.9L95 825L91.2 825.1L87.3 825L83.5 825L79.6 824.9L75.8 824.7L68.1 824.7L64.2 824.6L60.4 824.8L56.5 824.9L52.7 824.9L52.7 789.4Z" fill="#c2b178" stroke="#c2b178" fill-rule="evenodd"/>
<path d="M75.8 790.1L79.6 790.3L83.5 790.3L87.3 790.1L91.2 790.4L95 790.6L98.9 790.6L102.7 790.6L106.6 790.5L110.4 790.4L114.3 790.3L118.1 790.4L125.8 790.4L129.7 790.5L137.4 790.7L141.2 790.7L145.1 790.6L148.9 790.7L152.8 790.7L156.6 790.7L160.5 790.7L164.3 790.8L168.2 790.9L172 790.9L175.8 790.9L179.7 790.9L183.5 791.1L187.4 791.2L195.1 791.4L198.9 791.7L202.8 792.1L206.6 792L210.5 792.1L214.3 792.6L218.2 792.5L222.5 792.3L225.9 792.2L229.7 792.3L233.6 792.3L237.4 792.1L241.3 791.8L245.1 791.8L249 792.1L252.8 792.1L256.7 792.1L260.5 792L264.4 792.2L268.2 792.2L272.1 792L275.9 792.2L279.8 792.2L283.6 792.1L283.6 810.6L279.8 810.7L275.9 810.8L272.1 811L268.2 810.8L264.4 810.5L260.5 810.4L256.7 810.6L252.8 810.8L249 811L245.1 810.8L241.3 810.7L237.4 810.6L225.9 810.8L222 810.6L218.2 810.6L214.3 810.6L210.5 810.6L206.6 810.8L202.8 811L198.9 811.2L195.1 811.6L191.2 812.4L187.4 812.7L179.7 813.4L175.8 813.5L172 814.1L168.2 815.1L162.6 816.4L156.6 817.9L152.8 818.5L148.9 819.2L145.1 820.4L141.2 821L137.4 821.7L133.5 822.6L129.7 822.7L125.8 822.8L122 823L118.1 823.1L114.3 823.3L110.4 823.5L106.6 823.1L102.7 823L98.9 823.1L95 823.3L91.2 823.3L87.3 823.3L83.5 823.3L79.6 823.2L75.8 822.7L71.9 822.5L68.1 822.4L64.2 822.6L56.5 822.9L52.7 823L52.7 790.4L56.5 790.5L60.4 790.6L64.2 790.6L68.1 790.6L71.9 790.4L72.7 790.3Z" fill="#aa926b" stroke="#aa926b" fill-rule="evenodd"/>
<path d="M56.5 791.6L60.4 791.7L64.2 791.7L68.1 791.8L71.9 791.6L75.8 791.2L79.6 791.4L83.5 791.5L87.3 791.3L91.2 791.5L95 791.7L98.9 791.7L106.6 791.6L110.4 791.5L125.8 791.6L129.7 791.6L133.5 791.7L137.4 791.9L141.2 791.9L145.1 791.7L148.9 791.8L152.8 791.8L156.6 791.8L160.5 791.9L164.3 792L168.2 792.2L172 792.1L175.8 792.1L179.7 792.1L183.8 792.3L187.4 792.5L195.1 792.7L198.9 793L202.8 793.4L206.6 793.3L210.5 793.6L214.3 794.1L218.2 794L222 793.9L225.9 793.7L229.7 794L233.6 793.9L237.4 793.6L241.3 793.4L245.1 793.4L249 793.7L252.8 793.9L256.7 793.9L260.5 793.8L264.4 793.9L268.2 793.9L272.1 793.6L275.9 793.9L279.8 793.9L283.6 793.8L283.6 808.9L279.8 809L275.9 809.1L272.1 809.4L268.2 808.9L264.4 808.7L260.5 808.6L256.7 808.8L249 809.2L237.4 808.8L233.6 808.9L229.7 808.9L225.9 808.9L222 809L218.2 809L214.3 808.8L210.5 808.9L206.6 809.1L202.8 809.4L198.9 809.6L195.1 810.1L191.2 810.8L187.4 811.2L183.5 811.6L179.7 811.9L175.8 811.9L172 812.4L168.2 813.5L156.6 816.1L148.9 817.4L145.1 818.2L144.1 818.4L141.2 819.1L137.4 819.7L133.5 820.5L129.7 820.5L125.8 820.6L122 820.8L118.1 820.9L114.3 821.1L110.4 821.3L106.6 821L102.7 820.9L98.9 820.9L95 821.2L91.2 821.3L87.3 821.3L83.5 821.4L79.6 821.2L75.7 820.5L71.9 820.1L68.1 820L60.4 820.5L56.5 820.7L52.7 820.8L52.7 791.5Z" fill="#94765f" stroke="#94765f" fill-rule="evenodd"/>
<path d="M56.5 792.7L60.4 792.8L64.2 792.9L68.1 793L71.9 792.9L75.8 792.4L79.6 792.6L83.5 792.6L87.3 792.5L91.2 792.7L95 792.8L98.9 792.9L106.6 792.8L110.4 792.7L114.3 792.8L118.1 792.8L129.7 792.8L133.5 792.8L137.4 793L141.2 793L145.1 792.8L148.9 793L152.8 793L156.6 792.8L160.5 793L164.3 793.2L168.2 793.4L172 793.4L175.8 793.4L179.7 793.4L183.5 793.7L187.4 793.9L195.1 794.2L198.9 794.4L202.8 794.7L206.6 794.7L210.5 795L214.3 795.6L218.2 795.5L222 795.5L225.9 795.3L229.7 795.7L233.6 795.6L237.4 795.2L241.3 795.1L245.1 795.1L249 795.4L252.8 795.7L256.7 795.8L260.5 795.7L264.4 795.8L268.2 795.6L272.1 795.3L275.9 795.6L279.8 795.7L283.6 795.6L283.6 807.1L279.8 807.2L275.9 807.3L272.1 807.6L268.2 807.1L264.4 806.8L260.5 806.9L256.7 807.1L252.8 807.2L245.1 807.2L241.3 807.1L237.4 807L233.6 807.1L229.7 807L225.9 806.9L222 807.3L218.2 807.4L214.3 807.1L210.5 807.1L206.6 807.4L202.8 807.8L198.9 808.1L195.1 808.5L191.2 809.2L187.4 809.6L183.5 810L179.7 810.2L175.8 810.2L172 810.7L168.2 811.8L164.3 812.7L160.5 813.5L156.6 814.2L152.8 814.8L145.1 816L141.2 817.1L137.4 817.7L129.7 818L125.8 818.3L122 818.7L118.1 818.7L114.3 818.8L110.4 819L102.7 818.7L98.9 818.6L95 819L91.2 819.1L87.3 819L83.5 819.1L79.6 818.8L75.8 818.2L71.9 817.9L68.1 817.8L64.2 817.9L60.4 818.3L56.5 818.6L52.7 818.7L52.7 792.5Z" fill="#836059" stroke="#836059" fill-rule="evenodd"/>
<path d="M56.5 793.7L60.4 793.9L64.2 794L68.1 794.3L71.9 794.1L75.8 793.7L79.6 793.8L83.5 793.8L87.3 793.8L95 794L98.9 794.1L102.7 794L106.6 794L110.4 793.9L114.3 794L118.1 794L125.8 794.1L129.7 794L133.5 793.8L137.4 794.1L141.2 794.1L145.1 793.9L148.9 794.1L152.8 794.1L156.6 793.9L160.5 794.1L164.3 794.4L168.2 794.7L172 794.7L175.8 794.7L179.7 794.7L183.5 795.1L187.4 795.4L195.1 795.7L198.9 795.9L202.8 796L206.6 796.1L209.4 796.4L210.5 796.5L214.3 797.7L218.2 797.7L222 797.7L225.9 797.5L229.7 798.2L233.6 798.1L237.4 797.2L241.3 797.2L245.1 797.4L249 797.7L252.8 797.9L256.7 798.1L260.5 798.3L264.4 798.2L268.2 797.9L272.1 797.4L275.9 797.8L279.8 798.1L283.6 798.2L283.6 804.6L279.8 804.8L275.9 805.1L272.1 805.5L268.2 804.8L264.4 804.5L260.5 804.5L256.7 804.9L252.8 805L249 804.6L245.1 804.8L241.3 804.8L237.4 804.7L233.6 804.6L229.7 804.5L225.9 804.6L222 805.1L218.2 805.3L214.3 805.1L210.5 805.3L206.6 805.6L202.8 806.2L201.1 806.4L198.9 806.6L195.1 807.1L191.2 807.6L187.4 808L183.4 808.4L179.7 808.7L175.8 808.7L172 809.2L168.2 810L166.1 810.4L164.3 810.8L160.5 811.6L156.6 812.4L152.8 812.8L148.9 813.3L145.1 813.9L142.9 814.4L141.2 814.9L137.4 815.3L133.5 815L129.7 815.5L125.8 816L122 816.5L114.3 816.6L110.4 816.7L106.6 816.7L102.7 816.5L98.9 816.2L95 816.7L91.2 816.9L87.3 816.8L83.5 816.7L79.6 816.4L75.8 815.8L71.9 815.6L68.1 815.5L64.2 815.4L60.4 816.1L56.5 816.5L52.7 816.6L52.7 793.5Z" fill="#997c76" stroke="#997c76" fill-rule="evenodd"/>
<path d="M56.5 794.9L60.4 795.1L64.2 795.3L68.1 795.7L71.9 795.6L75.8 795L79.6 795.1L83.5 795.2L91.2 795.1L95 795.2L98.9 795.4L102.7 795.4L106.6 795.3L110.4 795.1L114.3 795.3L118.1 795.4L125.8 795.5L129.7 795.3L133.5 795L137.4 795.2L141.2 795.3L145.1 795.1L148.9 795.3L152.8 795.3L156.6 795L160.5 795.3L164.3 795.7L168.2 796.1L172 796.1L175.8 796.1L179.7 796.2L181.4 796.4L183.5 796.7L187.4 797L191.2 797.3L198.9 798L204.4 798.4L206.6 798.7L210.5 800.2L210.8 800.4L210.5 801.6L210.2 802.4L206.6 803.3L202.1 804.4L198.9 804.7L195.1 805.3L191.2 806L187.4 806.5L183.5 806.8L179.7 807.1L175.8 807.2L172 807.6L168.2 808.5L164.3 809.1L160.5 809.7L156.6 810.2L152.8 810.7L148.9 811.2L145.1 811.8L141.2 812.4L137.4 812.5L133.5 811.9L129.7 812.9L125.8 813.5L122 814L118.1 813.8L114.3 813.7L110.4 813.8L102.7 813.9L98.9 813.9L95 814.4L91.2 814.6L87.3 814.5L79.6 813.5L71.9 812.9L68.1 812.8L64.2 812.7L60.4 813.2L56.5 813.5L52.7 813.7L52.7 794.6Z" fill="#b19b96" stroke="#b19b96" fill-rule="evenodd"/>
<path d="M56.5 796.1L60.6 796.4L64.2 796.7L68.1 797.1L71.9 797L75.8 796.5L83.5 796.6L87.3 796.6L91.2 796.5L95 796.5L98.9 796.8L102.7 796.7L106.6 796.6L110.4 796.5L114.3 796.7L118.1 796.8L122 796.9L125.8 796.9L129.7 796.7L131.6 796.4L133.5 796.1L137.4 796.4L141.2 796.5L145.1 796.4L148.9 796.7L152.8 796.6L155 796.4L156.6 796.2L158.2 796.4L164.3 797.1L168.2 797.6L172 797.8L175.8 798.1L178 798.4L179.7 798.9L183.5 799.1L187.4 799.4L191.2 800L192.7 800.4L194.7 802.4L191.2 803.7L188.6 804.4L187.4 804.5L183.5 804.9L179.7 805L175.8 805.4L172 806L170.5 806.4L168.2 806.9L164.3 807.4L160.5 807.8L152.8 808.7L145.1 809.6L141.2 809.9L137.4 809.9L133.5 809.6L125.8 811L122 811.4L118.1 811.1L114.3 810.9L110.4 811.1L106.6 811L102.7 811.2L98.9 811.6L95 812L91.2 812.3L87.3 812.2L83.5 811.3L79.6 810.7L75.8 810.6L71.9 810.4L64.2 810.1L60.4 810.5L56.5 810.8L52.7 810.8L52.7 795.8Z" fill="#c7b7b4" stroke="#c7b7b4" fill-rule="evenodd"/>
<path d="M56.5 797.6L60.4 798L64.3 798.4L68.1 798.8L71.9 798.5L72.7 798.4L75.8 797.9L79.6 798.1L83.5 798.1L87.3 798.1L91.2 798L95 798L98.9 798.2L106.6 798.1L110.4 798L118.1 798.2L122 798.4L125.8 798.4L129.7 798.2L133.5 797.7L137.4 798L141.2 798.1L145.1 798.1L148.9 798.3L152.8 798.2L156.6 798L160.6 798.4L168.2 799.8L170.4 800.4L172 801.1L174.6 802.4L172 803.4L169.9 804.4L168.2 804.8L164.3 805.4L160.5 805.8L156.6 806L152.8 806.5L148.9 806.9L145.1 807.2L141.2 807.2L137.4 807.2L133.5 807.2L129.7 807.4L125.8 807.7L122 808.2L117.8 808.4L114.3 808.5L110.4 808.6L107.6 808.4L106.6 808.3L102.7 808.5L98.9 809.1L95 809.3L91.2 809.5L87.3 809.6L83.4 808.4L79.6 807.5L75.8 807.6L71.9 807.8L68.1 807.7L64.2 807.1L60.4 807.8L56.5 808.2L52.7 808.2L52.7 797.2Z" fill="#ddd3d1" stroke="#ddd3d1" fill-rule="evenodd"/>
<path d="M56.5 800.1L60.4 800.7L64.2 801.8L68.1 801.6L71.9 801.1L75.8 800.3L77 800.4L79.6 800.7L83.5 800.9L87.3 800.7L91.2 800.3L95 800.2L98.9 800.4L102.7 800.3L106.6 800.3L110.4 800.3L114.3 800.3L118.1 800.6L122 801.3L125.8 801.2L129.7 800.8L133.5 800.2L141.2 800.8L145.1 801.2L148.9 801.2L152.8 801.3L156.6 801.5L160.5 801.9L163.5 802.4L160.5 802.9L156.6 803.2L152.8 803.7L148.9 804L145.1 804.1L141.2 804.2L137.4 804.2L133.5 804.3L129.7 804L125.8 803.8L122 803.7L118.1 804.6L114.3 805L110.4 805.1L106.6 804.6L102.7 804.7L98.9 805.5L95 805.2L91.2 805.3L87.3 806L84 804.4L83.5 804.2L79.6 803.9L75.8 804.2L71.9 804.1L68.1 803.6L64.2 803.1L60.4 804.2L56.5 804.6L52.7 804.7L52.7 799.8Z" fill="#f5f2f2" stroke="#f5f2f2" fill-rule="evenodd"/>
</g>
<rect x="52.7" y="756.2" width="230.9" height="200.8" fill="none" stroke="#1a1a1a" stroke-width="0.8"/>
<line x1="49.2" y1="756.2" x2="52.7" y2="756.2" stroke="#1a1a1a" stroke-width="0.8"/>
<text x="47.1" y="761.5" font-size="11.7" text-anchor="end" fill="#1a1a1a">10<tspan dy="-5.0" font-size="8.2">2</tspan></text>
<line x1="50.7" y1="791.29" x2="52.7" y2="791.29" stroke="#1a1a1a" stroke-width="0.6"/>
<line x1="50.7" y1="782.45" x2="52.7" y2="782.45" stroke="#1a1a1a" stroke-width="0.6"/>
<line x1="50.7" y1="776.18" x2="52.7" y2="776.18" stroke="#1a1a1a" stroke-width="0.6"/>
<line x1="50.7" y1="771.31" x2="52.7" y2="771.31" stroke="#1a1a1a" stroke-width="0.6"/>
<line x1="50.7" y1="767.34" x2="52.7" y2="767.34" stroke="#1a1a1a" stroke-width="0.6"/>
<line x1="50.7" y1="763.98" x2="52.7" y2="763.98" stroke="#1a1a1a" stroke-width="0.6"/>
<line x1="50.7" y1="761.06" x2="52.7" y2="761.06" stroke="#1a1a1a" stroke-width="0.6"/>
<line x1="50.7" y1="758.5" x2="52.7" y2="758.5" stroke="#1a1a1a" stroke-width="0.6"/>
<line x1="49.2" y1="806.4" x2="52.7" y2="806.4" stroke="#1a1a1a" stroke-width="0.8"/>
<text x="47.1" y="811.7" font-size="11.7" text-anchor="end" fill="#1a1a1a">10<tspan dy="-5.0" font-size="8.2">1</tspan></text>
<line x1="50.7" y1="841.49" x2="52.7" y2="841.49" stroke="#1a1a1a" stroke-width="0.6"/>
<line x1="50.7" y1="832.65" x2="52.7" y2="832.65" stroke="#1a1a1a" stroke-width="0.6"/>
<line x1="50.7" y1="826.38" x2="52.7" y2="826.38" stroke="#1a1a1a" stroke-width="0.6"/>
<line x1="50.7" y1="821.51" x2="52.7" y2="821.51" stroke="#1a1a1a" stroke-width="0.6"/>
<line x1="50.7" y1="817.54" x2="52.7" y2="817.54" stroke="#1a1a1a" stroke-width="0.6"/>
<line x1="50.7" y1="814.18" x2="52.7" y2="814.18" stroke="#1a1a1a" stroke-width="0.6"/>
<line x1="50.7" y1="811.26" x2="52.7" y2="811.26" stroke="#1a1a1a" stroke-width="0.6"/>
<line x1="50.7" y1="808.7" x2="52.7" y2="808.7" stroke="#1a1a1a" stroke-width="0.6"/>
<line x1="49.2" y1="856.6" x2="52.7" y2="856.6" stroke="#1a1a1a" stroke-width="0.8"/>
<text x="47.1" y="861.9" font-size="11.7" text-anchor="end" fill="#1a1a1a">10<tspan dy="-5.0" font-size="8.2">0</tspan></text>
<line x1="50.7" y1="891.69" x2="52.7" y2="891.69" stroke="#1a1a1a" stroke-width="0.6"/>
<line x1="50.7" y1="882.85" x2="52.7" y2="882.85" stroke="#1a1a1a" stroke-width="0.6"/>
<line x1="50.7" y1="876.58" x2="52.7" y2="876.58" stroke="#1a1a1a" stroke-width="0.6"/>
<line x1="50.7" y1="871.71" x2="52.7" y2="871.71" stroke="#1a1a1a" stroke-width="0.6"/>
<line x1="50.7" y1="867.74" x2="52.7" y2="867.74" stroke="#1a1a1a" stroke-width="0.6"/>
<line x1="50.7" y1="864.38" x2="52.7" y2="864.38" stroke="#1a1a1a" stroke-width="0.6"/>
<line x1="50.7" y1="861.46" x2="52.7" y2="861.46" stroke="#1a1a1a" stroke-width="0.6"/>
<line x1="50.7" y1="858.9" x2="52.7" y2="858.9" stroke="#1a1a1a" stroke-width="0.6"/>
<line x1="49.2" y1="906.8" x2="52.7" y2="906.8" stroke="#1a1a1a" stroke-width="0.8"/>
<text x="47.1" y="912.1" font-size="11.7" text-anchor="end" fill="#1a1a1a">10<tspan dy="-5.0" font-size="8.2">−1</tspan></text>
<line x1="50.7" y1="941.89" x2="52.7" y2="941.89" stroke="#1a1a1a" stroke-width="0.6"/>
<line x1="50.7" y1="933.05" x2="52.7" y2="933.05" stroke="#1a1a1a" stroke-width="0.6"/>
<line x1="50.7" y1="926.78" x2="52.7" y2="926.78" stroke="#1a1a1a" stroke-width="0.6"/>
<line x1="50.7" y1="921.91" x2="52.7" y2="921.91" stroke="#1a1a1a" stroke-width="0.6"/>
<line x1="50.7" y1="917.94" x2="52.7" y2="917.94" stroke="#1a1a1a" stroke-width="0.6"/>
<line x1="50.7" y1="914.58" x2="52.7" y2="914.58" stroke="#1a1a1a" stroke-width="0.6"/>
<line x1="50.7" y1="911.66" x2="52.7" y2="911.66" stroke="#1a1a1a" stroke-width="0.6"/>
<line x1="50.7" y1="909.1" x2="52.7" y2="909.1" stroke="#1a1a1a" stroke-width="0.6"/>
<line x1="49.2" y1="957" x2="52.7" y2="957" stroke="#1a1a1a" stroke-width="0.8"/>
<text x="47.1" y="962.3" font-size="11.7" text-anchor="end" fill="#1a1a1a">10<tspan dy="-5.0" font-size="8.2">−2</tspan></text>
<line x1="52.7" y1="957" x2="52.7" y2="960.5" stroke="#1a1a1a" stroke-width="0.8"/>
<text x="52.7" y="971.6" font-size="11.7" text-anchor="middle" fill="#1a1a1a">0.1</text>
<line x1="107.78" y1="957" x2="107.78" y2="960.5" stroke="#1a1a1a" stroke-width="0.8"/>
<text x="107.78" y="971.6" font-size="11.7" text-anchor="middle" fill="#1a1a1a">0.3</text>
<line x1="168.15" y1="957" x2="168.15" y2="960.5" stroke="#1a1a1a" stroke-width="0.8"/>
<text x="168.15" y="971.6" font-size="11.7" text-anchor="middle" fill="#1a1a1a">1</text>
<line x1="223.23" y1="957" x2="223.23" y2="960.5" stroke="#1a1a1a" stroke-width="0.8"/>
<text x="223.23" y="971.6" font-size="11.7" text-anchor="middle" fill="#1a1a1a">3</text>
<line x1="283.6" y1="957" x2="283.6" y2="960.5" stroke="#1a1a1a" stroke-width="0.8"/>
<text x="283.6" y="971.6" font-size="11.7" text-anchor="middle" fill="#1a1a1a">10</text>
<line x1="87.45" y1="957" x2="87.45" y2="959" stroke="#1a1a1a" stroke-width="0.6"/>
<line x1="107.78" y1="957" x2="107.78" y2="959" stroke="#1a1a1a" stroke-width="0.6"/>
<line x1="122.21" y1="957" x2="122.21" y2="959" stroke="#1a1a1a" stroke-width="0.6"/>
<line x1="133.4" y1="957" x2="133.4" y2="959" stroke="#1a1a1a" stroke-width="0.6"/>
<line x1="142.54" y1="957" x2="142.54" y2="959" stroke="#1a1a1a" stroke-width="0.6"/>
<line x1="150.27" y1="957" x2="150.27" y2="959" stroke="#1a1a1a" stroke-width="0.6"/>
<line x1="156.96" y1="957" x2="156.96" y2="959" stroke="#1a1a1a" stroke-width="0.6"/>
<line x1="162.87" y1="957" x2="162.87" y2="959" stroke="#1a1a1a" stroke-width="0.6"/>
<line x1="202.9" y1="957" x2="202.9" y2="959" stroke="#1a1a1a" stroke-width="0.6"/>
<line x1="223.23" y1="957" x2="223.23" y2="959" stroke="#1a1a1a" stroke-width="0.6"/>
<line x1="237.66" y1="957" x2="237.66" y2="959" stroke="#1a1a1a" stroke-width="0.6"/>
<line x1="248.85" y1="957" x2="248.85" y2="959" stroke="#1a1a1a" stroke-width="0.6"/>
<line x1="257.99" y1="957" x2="257.99" y2="959" stroke="#1a1a1a" stroke-width="0.6"/>
<line x1="265.72" y1="957" x2="265.72" y2="959" stroke="#1a1a1a" stroke-width="0.6"/>
<line x1="272.41" y1="957" x2="272.41" y2="959" stroke="#1a1a1a" stroke-width="0.6"/>
<line x1="278.32" y1="957" x2="278.32" y2="959" stroke="#1a1a1a" stroke-width="0.6"/>
<text x="19.1" y="776.8" font-size="15.0" text-anchor="start" fill="#1a1a1a" font-style="italic">D</text>
<text x="248.8" y="986.5" font-size="13.6" text-anchor="start" fill="#1a1a1a" font-style="italic">δ</text>
<text x="163.05" y="751.3" font-size="14.0" font-style="italic" fill="#1a1a1a">T<tspan dy="2.6" font-size="9.8">I</tspan></text>
<line x1="166.83" y1="738.69" x2="171.03" y2="738.69" stroke="#1a1a1a" stroke-width="0.9"/>
<rect x="298.1" y="756.2" width="10.7" height="200.8" fill="#f5f2f2" stroke="none" stroke-width="0.8"/>
<rect x="298.1" y="764.23" width="10.7" height="192.77" fill="#ddd3d1" stroke="none" stroke-width="0.8"/>
<rect x="298.1" y="772.26" width="10.7" height="184.74" fill="#c7b7b4" stroke="none" stroke-width="0.8"/>
<rect x="298.1" y="780.3" width="10.7" height="176.7" fill="#b19b96" stroke="none" stroke-width="0.8"/>
<rect x="298.1" y="788.33" width="10.7" height="168.67" fill="#997c76" stroke="none" stroke-width="0.8"/>
<rect x="298.1" y="796.36" width="10.7" height="160.64" fill="#836059" stroke="none" stroke-width="0.8"/>
<rect x="298.1" y="804.39" width="10.7" height="152.61" fill="#94765f" stroke="none" stroke-width="0.8"/>
<rect x="298.1" y="812.42" width="10.7" height="144.58" fill="#aa926b" stroke="none" stroke-width="0.8"/>
<rect x="298.1" y="820.46" width="10.7" height="136.54" fill="#c2b178" stroke="none" stroke-width="0.8"/>
<rect x="298.1" y="828.49" width="10.7" height="128.51" fill="#d8cd84" stroke="none" stroke-width="0.8"/>
<rect x="298.1" y="836.52" width="10.7" height="120.48" fill="#eee990" stroke="none" stroke-width="0.8"/>
<rect x="298.1" y="844.55" width="10.7" height="112.45" fill="#f1fc96" stroke="none" stroke-width="0.8"/>
<rect x="298.1" y="852.58" width="10.7" height="104.42" fill="#c5f38d" stroke="none" stroke-width="0.8"/>
<rect x="298.1" y="860.62" width="10.7" height="96.38" fill="#95ea84" stroke="none" stroke-width="0.8"/>
<rect x="298.1" y="868.65" width="10.7" height="88.35" fill="#69e17b" stroke="none" stroke-width="0.8"/>
<rect x="298.1" y="876.68" width="10.7" height="80.32" fill="#39d771" stroke="none" stroke-width="0.8"/>
<rect x="298.1" y="884.71" width="10.7" height="72.29" fill="#0dcf69" stroke="none" stroke-width="0.8"/>
<rect x="298.1" y="892.74" width="10.7" height="64.26" fill="#00bb9b" stroke="none" stroke-width="0.8"/>
<rect x="298.1" y="900.78" width="10.7" height="56.22" fill="#00a4dc" stroke="none" stroke-width="0.8"/>
<rect x="298.1" y="908.81" width="10.7" height="48.19" fill="#078bf1" stroke="none" stroke-width="0.8"/>
<rect x="298.1" y="916.84" width="10.7" height="40.16" fill="#176bd1" stroke="none" stroke-width="0.8"/>
<rect x="298.1" y="924.87" width="10.7" height="32.13" fill="#264eb4" stroke="none" stroke-width="0.8"/>
<rect x="298.1" y="932.9" width="10.7" height="24.1" fill="#333399" stroke="none" stroke-width="0.8"/>
<rect x="298.1" y="940.94" width="10.7" height="16.06" fill="#333399" stroke="none" stroke-width="0.8"/>
<rect x="298.1" y="948.97" width="10.7" height="8.03" fill="#333399" stroke="none" stroke-width="0.8"/>
<rect x="298.1" y="756.2" width="10.7" height="200.8" fill="none" stroke="#1a1a1a" stroke-width="0.8"/>
<line x1="308.8" y1="957" x2="312.3" y2="957" stroke="#1a1a1a" stroke-width="0.8"/>
<text x="314.4" y="961.3" font-size="11.7" text-anchor="start" fill="#1a1a1a">0.005</text>
<line x1="308.8" y1="932.9" x2="312.3" y2="932.9" stroke="#1a1a1a" stroke-width="0.8"/>
<text x="314.4" y="937.2" font-size="11.7" text-anchor="start" fill="#1a1a1a">0.020</text>
<line x1="308.8" y1="908.81" x2="312.3" y2="908.81" stroke="#1a1a1a" stroke-width="0.8"/>
<text x="314.4" y="913.11" font-size="11.7" text-anchor="start" fill="#1a1a1a">0.035</text>
<line x1="308.8" y1="884.71" x2="312.3" y2="884.71" stroke="#1a1a1a" stroke-width="0.8"/>
<text x="314.4" y="889.01" font-size="11.7" text-anchor="start" fill="#1a1a1a">0.050</text>
<line x1="308.8" y1="860.62" x2="312.3" y2="860.62" stroke="#1a1a1a" stroke-width="0.8"/>
<text x="314.4" y="864.92" font-size="11.7" text-anchor="start" fill="#1a1a1a">0.065</text>
<line x1="308.8" y1="836.52" x2="312.3" y2="836.52" stroke="#1a1a1a" stroke-width="0.8"/>
<text x="314.4" y="840.82" font-size="11.7" text-anchor="start" fill="#1a1a1a">0.080</text>
<line x1="308.8" y1="812.42" x2="312.3" y2="812.42" stroke="#1a1a1a" stroke-width="0.8"/>
<text x="314.4" y="816.72" font-size="11.7" text-anchor="start" fill="#1a1a1a">0.095</text>
<line x1="308.8" y1="788.33" x2="312.3" y2="788.33" stroke="#1a1a1a" stroke-width="0.8"/>
<text x="314.4" y="792.63" font-size="11.7" text-anchor="start" fill="#1a1a1a">0.110</text>
<line x1="308.8" y1="764.23" x2="312.3" y2="764.23" stroke="#1a1a1a" stroke-width="0.8"/>
<text x="314.4" y="768.53" font-size="11.7" text-anchor="start" fill="#1a1a1a">0.125</text>
</svg>
</body></html>
